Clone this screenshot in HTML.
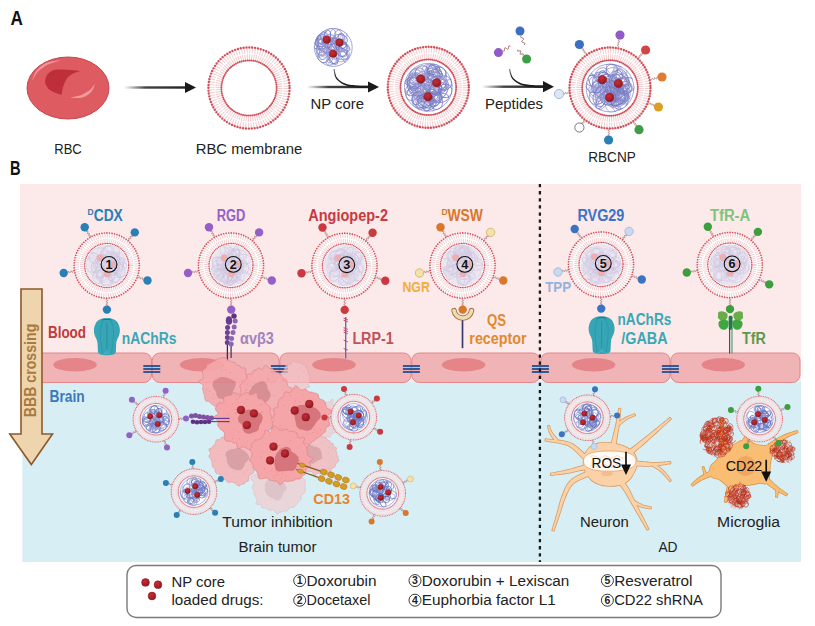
<!DOCTYPE html>
<html><head><meta charset="utf-8"><style>
html,body{margin:0;padding:0;background:#fff;width:815px;height:626px;overflow:hidden}
svg{display:block}
text{font-family:"Liberation Sans",sans-serif}
</style></head><body>
<svg width="815" height="626" viewBox="0 0 815 626">

<defs>
<radialGradient id="drugg" cx="0.4" cy="0.35" r="0.7"><stop offset="0" stop-color="#c42d34"/><stop offset="0.6" stop-color="#aa2028"/><stop offset="1" stop-color="#85161c"/></radialGradient>
</defs>

<text x="10.4" y="25.4" font-size="19.5" font-weight="bold" fill="#111" text-anchor="start" textLength="12.4" lengthAdjust="spacingAndGlyphs">A</text>
<ellipse cx="68" cy="88" rx="41" ry="31" fill="#de5b61" stroke="#c23d46" stroke-width="0.9"/>
<path d="M45.2 80.7 C46 74 51 70 56.8 69.6 C64 69 74 70 80.4 71.1 C75 72.5 69 75 66.5 79 C63.5 84 62 90 61.7 94.8 C56 93 50 91.5 47.5 87.5 C45.5 85 45 83 45.2 80.7 Z" fill="#bf2e3b"/>
<path d="M32.4 80.6 L32.7 80 L33.1 79.4 L33.5 78.6 L34 77.7 L34.5 76.7 L35.1 75.7 L35.7 74.7 L36.3 73.8 L37 72.9 L37.7 72.1 L38.5 71.3 L39.3 70.5 L40.2 69.8 L41.2 69 L42.2 68.2 L43.2 67.4 L44.2 66.7 L45.3 66 L46.4 65.4 L47.5 64.8 L48.6 64.2 L50 63.7 L51.4 63.2 L53 62.7 L54.5 62.3 L56 61.8 L57.4 61.4 L58.7 61.1 L59.7 60.8 L60.5 60.5 L60.5 60.3 L59.6 60.4 L58.5 60.5 L57.3 60.6 L55.8 60.8 L54.2 61 L52.6 61.2 L51 61.5 L49.4 61.9 L47.9 62.3 L46.5 62.8 L45.3 63.4 L44.1 64.1 L42.9 64.8 L41.8 65.6 L40.7 66.4 L39.7 67.3 L38.8 68.2 L37.9 69.1 L37.1 70 L36.3 70.9 L35.6 71.9 L35 73 L34.4 74.1 L34 75.2 L33.6 76.3 L33.2 77.3 L32.9 78.3 L32.6 79.2 L32.4 79.9 L32.2 80.4 Z" fill="#f0939a"/>
<path d="M70.9 97.5 L71.5 97.6 L72.3 97.7 L73.2 97.8 L74.3 97.9 L75.4 98 L76.6 98.1 L77.8 98.1 L79.1 98.1 L80.2 98 L81.4 97.8 L82.4 97.5 L83.5 97.1 L84.5 96.7 L85.5 96.2 L86.5 95.6 L87.5 95.1 L88.4 94.4 L89.3 93.8 L90.1 93.1 L90.8 92.4 L91.5 91.6 L92.1 90.7 L92.6 89.8 L93.1 88.9 L93.5 88 L93.9 87.1 L94.2 86.3 L94.5 85.6 L94.7 84.9 L94.9 84.5 L94.7 84.3 L94.3 84.7 L93.9 85.2 L93.5 85.9 L93 86.6 L92.4 87.3 L91.8 88 L91.2 88.8 L90.5 89.5 L89.9 90.1 L89.2 90.6 L88.5 91.1 L87.7 91.6 L86.9 92.1 L86 92.6 L85.1 93.1 L84.2 93.6 L83.3 94.1 L82.4 94.5 L81.5 94.9 L80.6 95.2 L79.7 95.6 L78.7 95.8 L77.6 96.1 L76.5 96.3 L75.4 96.5 L74.2 96.7 L73.2 96.9 L72.3 97 L71.5 97.1 L70.9 97.3 Z" fill="#f29ca1"/>
<linearGradient id="ag124" gradientUnits="userSpaceOnUse" x1="124" y1="0" x2="196" y2="0"><stop offset="0" stop-color="#222" stop-opacity="0"/><stop offset="0.3" stop-color="#222" stop-opacity="0.85"/><stop offset="1" stop-color="#1a1a1a"/></linearGradient><rect x="124" y="86.3" width="62" height="2.4" fill="url(#ag124)"/><path d="M196 87.5 L185 81.9 L185 93.1 Z" fill="#1a1a1a"/>
<text x="68" y="153.5" font-size="15.5" font-weight="normal" fill="#222" text-anchor="middle" textLength="27.5" lengthAdjust="spacingAndGlyphs">RBC</text>
<circle cx="249" cy="88" r="37.3" fill="none" stroke="#f3cdd0" stroke-width="5.4" stroke-dasharray="1.050 1.613"/>
<circle cx="249" cy="88" r="30.9" fill="none" stroke="#f3cdd0" stroke-width="5.5" stroke-dasharray="1.050 1.153"/>
<circle cx="249" cy="88" r="40.6" fill="none" stroke="#d0505a" stroke-width="2.4" stroke-linecap="round" stroke-dasharray="0 2.899"/>
<circle cx="249" cy="88" r="27.6" fill="none" stroke="#d0505a" stroke-width="2" stroke-linecap="round" stroke-dasharray="0 1.971"/>
<text x="249" y="153.5" font-size="15.5" font-weight="normal" fill="#222" text-anchor="middle" textLength="106.6" lengthAdjust="spacingAndGlyphs">RBC membrane</text>
<clipPath id="cc1"><circle cx="333.3" cy="47.5" r="19.5"/></clipPath>
<g clip-path="url(#cc1)" fill="none" stroke-width="0.8" opacity="1.0">
<ellipse cx="334.1" cy="58.3" rx="5.5" ry="4.9" transform="rotate(112.6 334.1 58.3)" stroke="#6f78c0"/>
<ellipse cx="322.3" cy="38.9" rx="5.9" ry="4.8" transform="rotate(34.5 322.3 38.9)" stroke="#a6a3da"/>
<ellipse cx="322.8" cy="44.7" rx="5.6" ry="5.8" transform="rotate(41.7 322.8 44.7)" stroke="#8f91d2"/>
<ellipse cx="340.4" cy="39.7" rx="7.1" ry="5.2" transform="rotate(11.5 340.4 39.7)" stroke="#6f78c0"/>
<ellipse cx="332.5" cy="49.9" rx="7.6" ry="4.5" transform="rotate(129.4 332.5 49.9)" stroke="#a6a3da"/>
<ellipse cx="330.2" cy="33.8" rx="5.6" ry="5.6" transform="rotate(80 330.2 33.8)" stroke="#8f91d2"/>
<ellipse cx="336.6" cy="44.4" rx="4.5" ry="3.6" transform="rotate(173.8 336.6 44.4)" stroke="#a6a3da"/>
<ellipse cx="335.7" cy="34.2" rx="5.7" ry="5.7" transform="rotate(103.3 335.7 34.2)" stroke="#a6a3da"/>
<ellipse cx="321.3" cy="40.5" rx="6.8" ry="6" transform="rotate(154.2 321.3 40.5)" stroke="#8f91d2"/>
<ellipse cx="330.6" cy="39.6" rx="6.2" ry="4.8" transform="rotate(18.7 330.6 39.6)" stroke="#8f91d2"/>
<ellipse cx="323.5" cy="36.7" rx="5" ry="3.3" transform="rotate(86.8 323.5 36.7)" stroke="#a6a3da"/>
<ellipse cx="344.4" cy="54.4" rx="5.7" ry="3.4" transform="rotate(52.9 344.4 54.4)" stroke="#a6a3da"/>
<ellipse cx="335.4" cy="45.3" rx="6.5" ry="3.1" transform="rotate(129.3 335.4 45.3)" stroke="#7a80c6"/>
<ellipse cx="320" cy="43.1" rx="5.1" ry="3.7" transform="rotate(6.5 320 43.1)" stroke="#6f78c0"/>
<ellipse cx="343.3" cy="52.8" rx="4" ry="3.6" transform="rotate(73.4 343.3 52.8)" stroke="#7a80c6"/>
<ellipse cx="335" cy="50" rx="7.6" ry="4" transform="rotate(172.6 335 50)" stroke="#a6a3da"/>
<ellipse cx="323.5" cy="57" rx="5.6" ry="5.8" transform="rotate(122.6 323.5 57)" stroke="#6f78c0"/>
<ellipse cx="323" cy="37.8" rx="6.1" ry="4.4" transform="rotate(129.7 323 37.8)" stroke="#8f91d2"/>
<ellipse cx="342.2" cy="43.7" rx="5" ry="3.9" transform="rotate(61 342.2 43.7)" stroke="#a6a3da"/>
<ellipse cx="341.5" cy="46.9" rx="5.5" ry="4.9" transform="rotate(24 341.5 46.9)" stroke="#7a80c6"/>
<ellipse cx="321.5" cy="50" rx="5.4" ry="5.3" transform="rotate(132.8 321.5 50)" stroke="#6f78c0"/>
<ellipse cx="321.2" cy="39.9" rx="4" ry="4.1" transform="rotate(113 321.2 39.9)" stroke="#7a80c6"/>
<ellipse cx="326.4" cy="43" rx="5.5" ry="4" transform="rotate(66.4 326.4 43)" stroke="#7a80c6"/>
<ellipse cx="330.5" cy="56" rx="7.2" ry="3" transform="rotate(102.5 330.5 56)" stroke="#8f91d2"/>
<ellipse cx="330.8" cy="53.9" rx="7.3" ry="3.7" transform="rotate(33.7 330.8 53.9)" stroke="#a6a3da"/>
<ellipse cx="330.6" cy="43.8" rx="6.5" ry="6.1" transform="rotate(121.5 330.6 43.8)" stroke="#8f91d2"/>
<ellipse cx="320.8" cy="52.6" rx="4.6" ry="4" transform="rotate(117 320.8 52.6)" stroke="#a6a3da"/>
<ellipse cx="331.6" cy="60.4" rx="4" ry="6.1" transform="rotate(56.7 331.6 60.4)" stroke="#8f91d2"/>
<ellipse cx="338.9" cy="41.1" rx="7.5" ry="3.2" transform="rotate(111.5 338.9 41.1)" stroke="#8f91d2"/>
<ellipse cx="324" cy="52.5" rx="7.5" ry="4.5" transform="rotate(114.2 324 52.5)" stroke="#7a80c6"/>
<ellipse cx="325.1" cy="52" rx="7.8" ry="3.4" transform="rotate(0.8 325.1 52)" stroke="#a6a3da"/>
<ellipse cx="319.8" cy="42.3" rx="7" ry="3" transform="rotate(82.2 319.8 42.3)" stroke="#7a80c6"/>
<ellipse cx="320" cy="43.7" rx="7.6" ry="5.8" transform="rotate(174.8 320 43.7)" stroke="#6f78c0"/>
<ellipse cx="334.4" cy="44.6" rx="7.8" ry="5.2" transform="rotate(166.3 334.4 44.6)" stroke="#a6a3da"/>
<ellipse cx="331.8" cy="46.7" rx="7.1" ry="3.5" transform="rotate(54 331.8 46.7)" stroke="#6f78c0"/>
<ellipse cx="324" cy="46" rx="7.9" ry="5" transform="rotate(61.4 324 46)" stroke="#7a80c6"/>
<ellipse cx="343.9" cy="45.6" rx="7.4" ry="3.1" transform="rotate(39.7 343.9 45.6)" stroke="#6f78c0"/>
<ellipse cx="320.4" cy="44.6" rx="4.6" ry="5.5" transform="rotate(165.9 320.4 44.6)" stroke="#8f91d2"/>
<ellipse cx="333.9" cy="46.4" rx="6.6" ry="5.8" transform="rotate(9 333.9 46.4)" stroke="#7a80c6"/>
<ellipse cx="333.4" cy="59" rx="6.1" ry="3.1" transform="rotate(58.2 333.4 59)" stroke="#6f78c0"/>
<ellipse cx="341.3" cy="37.4" rx="4.1" ry="3.1" transform="rotate(86.9 341.3 37.4)" stroke="#6f78c0"/>
<ellipse cx="335.9" cy="44.1" rx="6.1" ry="4" transform="rotate(56.6 335.9 44.1)" stroke="#7a80c6"/>
<ellipse cx="326.4" cy="53.5" rx="5.2" ry="3.8" transform="rotate(177.8 326.4 53.5)" stroke="#a6a3da"/>
<ellipse cx="341.1" cy="55.1" rx="7" ry="4.2" transform="rotate(14.4 341.1 55.1)" stroke="#8f91d2"/>
<ellipse cx="342.9" cy="50.1" rx="6.7" ry="4.7" transform="rotate(114.6 342.9 50.1)" stroke="#6f78c0"/>
<ellipse cx="326.4" cy="40.8" rx="5.5" ry="4.6" transform="rotate(126.5 326.4 40.8)" stroke="#a6a3da"/>
<ellipse cx="342.3" cy="44.6" rx="4" ry="3.6" transform="rotate(48.6 342.3 44.6)" stroke="#6f78c0"/>
<ellipse cx="335.6" cy="41" rx="4.5" ry="3" transform="rotate(58.6 335.6 41)" stroke="#7a80c6"/>
<ellipse cx="342.1" cy="55.9" rx="7.9" ry="5.4" transform="rotate(153 342.1 55.9)" stroke="#a6a3da"/>
<ellipse cx="327.1" cy="36.6" rx="6.3" ry="3.3" transform="rotate(105.8 327.1 36.6)" stroke="#6f78c0"/>
<ellipse cx="326.3" cy="48.7" rx="5.6" ry="4.7" transform="rotate(101.6 326.3 48.7)" stroke="#a6a3da"/>
<ellipse cx="334.3" cy="49.5" rx="7.5" ry="3.3" transform="rotate(151.9 334.3 49.5)" stroke="#a6a3da"/>
<ellipse cx="340.7" cy="35.3" rx="6.4" ry="5.6" transform="rotate(6.5 340.7 35.3)" stroke="#8f91d2"/>
<ellipse cx="343.2" cy="55.4" rx="7.9" ry="3.1" transform="rotate(58.4 343.2 55.4)" stroke="#8f91d2"/>
</g>
<circle cx="333.3" cy="47.5" r="18.9" fill="none" stroke="#6f78c0" stroke-width="0.8" opacity="0.8"/>
<circle cx="326.8" cy="39.7" r="3.8" fill="url(#drugg)" stroke="#8e1c22" stroke-width="0.5" opacity="1.0"/>
<circle cx="339.5" cy="42.6" r="3.8" fill="url(#drugg)" stroke="#8e1c22" stroke-width="0.5" opacity="1.0"/>
<circle cx="333.1" cy="53.7" r="3.8" fill="url(#drugg)" stroke="#8e1c22" stroke-width="0.5" opacity="1.0"/>
<linearGradient id="cg1" gradientUnits="userSpaceOnUse" x1="0" y1="68" x2="0" y2="88"><stop offset="0" stop-color="#777"/><stop offset="0.5" stop-color="#222"/><stop offset="1" stop-color="#1a1a1a"/></linearGradient>
<path d="M333.5 69.1 L333.6 69.8 L333.8 70.8 L334 71.9 L334.2 73.2 L334.4 74.6 L334.8 75.9 L335.3 77.2 L336 78.4 L336.7 79.4 L337.6 80.3 L338.6 81.3 L339.7 82.1 L340.8 83 L342 83.7 L343.3 84.4 L344.7 85.1 L346.2 85.6 L347.8 86 L349.4 86.4 L351.1 86.7 L352.9 87 L354.6 87.2 L356.3 87.4 L357.9 87.6 L359.6 87.8 L361.3 87.9 L363.1 88 L364.8 88.1 L366.4 88.1 L367.9 88.1 L369.1 88.2 L370 88.2 L370 85.8 L369.1 85.8 L367.9 85.8 L366.4 85.8 L364.8 85.8 L363.1 85.8 L361.4 85.8 L359.7 85.7 L358.1 85.6 L356.5 85.4 L354.8 85.3 L353.1 85.1 L351.4 84.9 L349.8 84.7 L348.2 84.4 L346.7 84 L345.3 83.5 L344 83 L342.8 82.4 L341.6 81.7 L340.5 81 L339.5 80.2 L338.6 79.4 L337.7 78.5 L337 77.6 L336.4 76.7 L336 75.5 L335.6 74.3 L335.3 73 L335 71.7 L334.8 70.6 L334.7 69.6 L334.5 68.9 Z" fill="url(#cg1)"/>
<linearGradient id="ag307" gradientUnits="userSpaceOnUse" x1="307" y1="0" x2="379" y2="0"><stop offset="0" stop-color="#222" stop-opacity="0"/><stop offset="0.3" stop-color="#222" stop-opacity="0.85"/><stop offset="1" stop-color="#1a1a1a"/></linearGradient><rect x="307" y="85.8" width="62" height="2.4" fill="url(#ag307)"/><path d="M379 87 L368 81.4 L368 92.6 Z" fill="#1a1a1a"/>
<text x="310.6" y="108.6" font-size="15.5" font-weight="normal" fill="#222" text-anchor="start" textLength="53.4" lengthAdjust="spacingAndGlyphs">NP core</text>
<circle cx="428.3" cy="87.3" r="40.5" fill="#ffffff"/>
<circle cx="428.3" cy="87.3" r="37.3" fill="none" stroke="#f3cdd0" stroke-width="5.2" stroke-dasharray="1.050 1.496"/>
<circle cx="428.3" cy="87.3" r="31" fill="none" stroke="#f3cdd0" stroke-width="5.3" stroke-dasharray="1.015 1.100"/>
<circle cx="428.3" cy="87.3" r="40.5" fill="none" stroke="#d0505a" stroke-width="2.4" stroke-linecap="round" stroke-dasharray="0 2.766"/>
<circle cx="428.3" cy="87.3" r="27.8" fill="none" stroke="#d0505a" stroke-width="2" stroke-linecap="round" stroke-dasharray="0 1.899"/>
<clipPath id="cc2"><circle cx="428.3" cy="87.3" r="24.5"/></clipPath>
<g clip-path="url(#cc2)" fill="none" stroke-width="0.8" opacity="1.0">
<ellipse cx="417" cy="76.3" rx="9.2" ry="7.6" transform="rotate(133.2 417 76.3)" stroke="#6f78c0"/>
<ellipse cx="437" cy="73.7" rx="6.2" ry="3.9" transform="rotate(28.2 437 73.7)" stroke="#7a80c6"/>
<ellipse cx="419.3" cy="89.1" rx="7.8" ry="6.1" transform="rotate(2.4 419.3 89.1)" stroke="#8f91d2"/>
<ellipse cx="421.7" cy="91.6" rx="9.6" ry="5.3" transform="rotate(137.1 421.7 91.6)" stroke="#6f78c0"/>
<ellipse cx="437.6" cy="98.4" rx="5.6" ry="3.7" transform="rotate(156.9 437.6 98.4)" stroke="#8f91d2"/>
<ellipse cx="431" cy="69.5" rx="5.8" ry="4.4" transform="rotate(56.5 431 69.5)" stroke="#8f91d2"/>
<ellipse cx="413.6" cy="83.6" rx="6" ry="7.6" transform="rotate(124.3 413.6 83.6)" stroke="#a6a3da"/>
<ellipse cx="425" cy="97.8" rx="5.8" ry="4.3" transform="rotate(11.7 425 97.8)" stroke="#7a80c6"/>
<ellipse cx="434.1" cy="74.5" rx="8.1" ry="6.6" transform="rotate(11.9 434.1 74.5)" stroke="#7a80c6"/>
<ellipse cx="433.6" cy="75.7" rx="6.6" ry="5.7" transform="rotate(126.8 433.6 75.7)" stroke="#6f78c0"/>
<ellipse cx="427.6" cy="105.1" rx="10" ry="5.2" transform="rotate(72.8 427.6 105.1)" stroke="#a6a3da"/>
<ellipse cx="419" cy="97.7" rx="4.9" ry="3.9" transform="rotate(32.6 419 97.7)" stroke="#8f91d2"/>
<ellipse cx="435" cy="93.5" rx="9.3" ry="5.6" transform="rotate(92.2 435 93.5)" stroke="#7a80c6"/>
<ellipse cx="429.3" cy="81.3" rx="8.9" ry="7" transform="rotate(154.7 429.3 81.3)" stroke="#6f78c0"/>
<ellipse cx="411.7" cy="94.7" rx="6" ry="5.8" transform="rotate(65.3 411.7 94.7)" stroke="#8f91d2"/>
<ellipse cx="418.8" cy="102.2" rx="7.8" ry="5" transform="rotate(57 418.8 102.2)" stroke="#8f91d2"/>
<ellipse cx="432.7" cy="73.4" rx="8.8" ry="5" transform="rotate(87.1 432.7 73.4)" stroke="#6f78c0"/>
<ellipse cx="440.7" cy="94.2" rx="9.9" ry="3.8" transform="rotate(133.3 440.7 94.2)" stroke="#7a80c6"/>
<ellipse cx="434" cy="76.3" rx="7.2" ry="3.9" transform="rotate(164.9 434 76.3)" stroke="#6f78c0"/>
<ellipse cx="431.7" cy="77.2" rx="6" ry="7.8" transform="rotate(101.5 431.7 77.2)" stroke="#8f91d2"/>
<ellipse cx="417.2" cy="75.4" rx="5.5" ry="5.5" transform="rotate(26.9 417.2 75.4)" stroke="#a6a3da"/>
<ellipse cx="424.9" cy="99.2" rx="10.3" ry="7.2" transform="rotate(175.7 424.9 99.2)" stroke="#a6a3da"/>
<ellipse cx="443.1" cy="83.5" rx="6.6" ry="4.8" transform="rotate(84.6 443.1 83.5)" stroke="#8f91d2"/>
<ellipse cx="441" cy="98.1" rx="7.8" ry="4.4" transform="rotate(168.7 441 98.1)" stroke="#7a80c6"/>
<ellipse cx="433.8" cy="99" rx="7.7" ry="6" transform="rotate(90.5 433.8 99)" stroke="#6f78c0"/>
<ellipse cx="431.9" cy="71.5" rx="8.6" ry="6.4" transform="rotate(136.7 431.9 71.5)" stroke="#7a80c6"/>
<ellipse cx="414.3" cy="81.8" rx="9.4" ry="4.8" transform="rotate(176.6 414.3 81.8)" stroke="#7a80c6"/>
<ellipse cx="438.6" cy="84.4" rx="5.9" ry="7.2" transform="rotate(85.4 438.6 84.4)" stroke="#7a80c6"/>
<ellipse cx="423.9" cy="95.8" rx="6.5" ry="5.8" transform="rotate(121.3 423.9 95.8)" stroke="#7a80c6"/>
<ellipse cx="419.8" cy="99.3" rx="8.9" ry="7.1" transform="rotate(63 419.8 99.3)" stroke="#8f91d2"/>
<ellipse cx="438.7" cy="76.2" rx="10.2" ry="7.7" transform="rotate(93.3 438.7 76.2)" stroke="#8f91d2"/>
<ellipse cx="431.8" cy="97.8" rx="9.5" ry="4.9" transform="rotate(14.2 431.8 97.8)" stroke="#a6a3da"/>
<ellipse cx="436" cy="101.6" rx="8" ry="6.4" transform="rotate(75.7 436 101.6)" stroke="#7a80c6"/>
<ellipse cx="427.7" cy="84.3" rx="5.8" ry="5.5" transform="rotate(117 427.7 84.3)" stroke="#8f91d2"/>
<ellipse cx="428.7" cy="79.5" rx="8.8" ry="7.8" transform="rotate(176.4 428.7 79.5)" stroke="#8f91d2"/>
<ellipse cx="434.6" cy="89.5" rx="6.6" ry="4.4" transform="rotate(34.8 434.6 89.5)" stroke="#6f78c0"/>
<ellipse cx="418.9" cy="92.8" rx="8.5" ry="4" transform="rotate(36.8 418.9 92.8)" stroke="#7a80c6"/>
<ellipse cx="440" cy="87.3" rx="6.4" ry="5.4" transform="rotate(20.7 440 87.3)" stroke="#7a80c6"/>
<ellipse cx="441.6" cy="84.3" rx="6.5" ry="4.9" transform="rotate(92.3 441.6 84.3)" stroke="#7a80c6"/>
<ellipse cx="444.4" cy="83" rx="7.2" ry="7.1" transform="rotate(115.6 444.4 83)" stroke="#7a80c6"/>
<ellipse cx="421.2" cy="88.8" rx="7" ry="5.7" transform="rotate(35.8 421.2 88.8)" stroke="#8f91d2"/>
<ellipse cx="419.9" cy="80.4" rx="9.7" ry="3.7" transform="rotate(19.4 419.9 80.4)" stroke="#8f91d2"/>
<ellipse cx="420.4" cy="102.6" rx="7.9" ry="5.5" transform="rotate(175.8 420.4 102.6)" stroke="#a6a3da"/>
<ellipse cx="423.6" cy="104.8" rx="6.9" ry="7.7" transform="rotate(164.5 423.6 104.8)" stroke="#7a80c6"/>
<ellipse cx="427.7" cy="77.2" rx="6.3" ry="3.8" transform="rotate(170.1 427.7 77.2)" stroke="#7a80c6"/>
<ellipse cx="418.5" cy="87.8" rx="7.5" ry="4.2" transform="rotate(111.9 418.5 87.8)" stroke="#a6a3da"/>
<ellipse cx="428.4" cy="91" rx="5.6" ry="5.3" transform="rotate(86.5 428.4 91)" stroke="#7a80c6"/>
<ellipse cx="428.8" cy="99.9" rx="5.1" ry="5.7" transform="rotate(151.9 428.8 99.9)" stroke="#7a80c6"/>
<ellipse cx="424.5" cy="101.1" rx="7.5" ry="6.4" transform="rotate(108.7 424.5 101.1)" stroke="#6f78c0"/>
<ellipse cx="434.8" cy="88" rx="6.4" ry="6.6" transform="rotate(110.4 434.8 88)" stroke="#6f78c0"/>
<ellipse cx="417.5" cy="89.8" rx="8.9" ry="6.1" transform="rotate(6.6 417.5 89.8)" stroke="#7a80c6"/>
<ellipse cx="413.9" cy="82.3" rx="5.5" ry="6.5" transform="rotate(34.4 413.9 82.3)" stroke="#a6a3da"/>
<ellipse cx="430.4" cy="75.5" rx="8" ry="6.6" transform="rotate(113.8 430.4 75.5)" stroke="#a6a3da"/>
<ellipse cx="438.9" cy="74.2" rx="7.5" ry="6.5" transform="rotate(129.5 438.9 74.2)" stroke="#7a80c6"/>
<ellipse cx="412.7" cy="90.8" rx="6.5" ry="3.7" transform="rotate(140.2 412.7 90.8)" stroke="#7a80c6"/>
<ellipse cx="420.8" cy="77.2" rx="6.6" ry="4.4" transform="rotate(125.1 420.8 77.2)" stroke="#a6a3da"/>
<ellipse cx="441.6" cy="85" rx="7.2" ry="5.9" transform="rotate(8.7 441.6 85)" stroke="#8f91d2"/>
<ellipse cx="427.7" cy="92.6" rx="5.2" ry="7.6" transform="rotate(59.9 427.7 92.6)" stroke="#a6a3da"/>
<ellipse cx="446.5" cy="84.8" rx="8.7" ry="3.9" transform="rotate(151.6 446.5 84.8)" stroke="#8f91d2"/>
<ellipse cx="415.8" cy="76.3" rx="5.5" ry="7.4" transform="rotate(178.9 415.8 76.3)" stroke="#a6a3da"/>
<ellipse cx="436.8" cy="98.9" rx="7.1" ry="4.3" transform="rotate(112 436.8 98.9)" stroke="#6f78c0"/>
<ellipse cx="414.3" cy="82.2" rx="8.9" ry="4.8" transform="rotate(102.8 414.3 82.2)" stroke="#6f78c0"/>
<ellipse cx="427.5" cy="70.1" rx="5.6" ry="5.5" transform="rotate(56.6 427.5 70.1)" stroke="#a6a3da"/>
<ellipse cx="410.5" cy="88.5" rx="6.9" ry="3.9" transform="rotate(125.5 410.5 88.5)" stroke="#8f91d2"/>
<ellipse cx="414.6" cy="81" rx="6.5" ry="7.6" transform="rotate(99 414.6 81)" stroke="#8f91d2"/>
<ellipse cx="427.2" cy="100.9" rx="6.3" ry="6.8" transform="rotate(93.1 427.2 100.9)" stroke="#8f91d2"/>
<ellipse cx="434.4" cy="71.3" rx="7.3" ry="5.3" transform="rotate(23.6 434.4 71.3)" stroke="#6f78c0"/>
<ellipse cx="425.3" cy="82.9" rx="8.5" ry="4.1" transform="rotate(22.5 425.3 82.9)" stroke="#a6a3da"/>
<ellipse cx="429.5" cy="104.5" rx="7.5" ry="5" transform="rotate(143.4 429.5 104.5)" stroke="#6f78c0"/>
<ellipse cx="417.3" cy="84.3" rx="9.5" ry="7.6" transform="rotate(77.3 417.3 84.3)" stroke="#8f91d2"/>
<ellipse cx="428.3" cy="82" rx="9.8" ry="5.7" transform="rotate(38.1 428.3 82)" stroke="#a6a3da"/>
<ellipse cx="422.9" cy="94.4" rx="6.7" ry="6.2" transform="rotate(62.8 422.9 94.4)" stroke="#a6a3da"/>
<ellipse cx="417" cy="98.1" rx="6.8" ry="4.9" transform="rotate(113.6 417 98.1)" stroke="#7a80c6"/>
<ellipse cx="414.2" cy="85.7" rx="8" ry="6.8" transform="rotate(71.2 414.2 85.7)" stroke="#6f78c0"/>
<ellipse cx="436" cy="89.1" rx="6" ry="5.7" transform="rotate(168.7 436 89.1)" stroke="#7a80c6"/>
<ellipse cx="440.9" cy="87.3" rx="9.7" ry="6.3" transform="rotate(77.2 440.9 87.3)" stroke="#a6a3da"/>
<ellipse cx="420.5" cy="89.2" rx="8.4" ry="4" transform="rotate(156.4 420.5 89.2)" stroke="#a6a3da"/>
<ellipse cx="433.6" cy="94.9" rx="6.4" ry="4.3" transform="rotate(51.7 433.6 94.9)" stroke="#8f91d2"/>
<ellipse cx="445.3" cy="90.9" rx="6.8" ry="6.8" transform="rotate(56.9 445.3 90.9)" stroke="#6f78c0"/>
<ellipse cx="422.5" cy="73.4" rx="7.4" ry="7.6" transform="rotate(21.2 422.5 73.4)" stroke="#7a80c6"/>
<ellipse cx="424.4" cy="101.9" rx="8.8" ry="4.4" transform="rotate(36.2 424.4 101.9)" stroke="#6f78c0"/>
<ellipse cx="415" cy="80.6" rx="8.2" ry="7.5" transform="rotate(127.2 415 80.6)" stroke="#7a80c6"/>
<ellipse cx="432.7" cy="97.4" rx="5.3" ry="7.8" transform="rotate(84.2 432.7 97.4)" stroke="#8f91d2"/>
<ellipse cx="432.1" cy="94.8" rx="5.1" ry="6.2" transform="rotate(130.8 432.1 94.8)" stroke="#7a80c6"/>
<ellipse cx="432.8" cy="87.5" rx="9.1" ry="5.4" transform="rotate(8.1 432.8 87.5)" stroke="#7a80c6"/>
</g>
<circle cx="428.3" cy="87.3" r="23.9" fill="none" stroke="#6f78c0" stroke-width="0.8" opacity="0.8"/>
<circle cx="420.7" cy="79" r="4.3" fill="url(#drugg)" stroke="#8e1c22" stroke-width="0.5" opacity="1.0"/>
<circle cx="436.7" cy="82.8" r="4.3" fill="url(#drugg)" stroke="#8e1c22" stroke-width="0.5" opacity="1.0"/>
<circle cx="428" cy="96.7" r="4.3" fill="url(#drugg)" stroke="#8e1c22" stroke-width="0.5" opacity="1.0"/>
<linearGradient id="cg2" gradientUnits="userSpaceOnUse" x1="0" y1="68" x2="0" y2="88"><stop offset="0" stop-color="#777"/><stop offset="0.5" stop-color="#222"/><stop offset="1" stop-color="#1a1a1a"/></linearGradient>
<path d="M509 69.1 L509.2 69.8 L509.4 70.8 L509.6 72 L509.9 73.3 L510.3 74.6 L510.7 76 L511.3 77.3 L512 78.4 L512.8 79.4 L513.7 80.3 L514.6 81.2 L515.7 82 L516.8 82.8 L518.1 83.5 L519.4 84.2 L520.7 84.8 L522.2 85.3 L523.8 85.7 L525.5 86.1 L527.2 86.4 L529 86.7 L530.7 86.9 L532.3 87.1 L533.9 87.3 L535.5 87.5 L537.1 87.6 L538.7 87.7 L540.3 87.8 L541.8 87.8 L543.1 87.8 L544.1 87.9 L545 87.9 L545 85.5 L544.2 85.5 L543.1 85.5 L541.8 85.5 L540.3 85.5 L538.8 85.5 L537.2 85.5 L535.6 85.4 L534.1 85.3 L532.5 85.1 L530.9 85 L529.2 84.8 L527.5 84.6 L525.8 84.3 L524.2 84 L522.7 83.7 L521.3 83.2 L520 82.7 L518.8 82.1 L517.6 81.5 L516.5 80.8 L515.5 80.1 L514.6 79.3 L513.8 78.5 L513 77.6 L512.4 76.7 L511.9 75.5 L511.4 74.3 L511 73 L510.7 71.7 L510.4 70.6 L510.2 69.6 L510 68.9 Z" fill="url(#cg2)"/>
<linearGradient id="ag482" gradientUnits="userSpaceOnUse" x1="482" y1="0" x2="554" y2="0"><stop offset="0" stop-color="#222" stop-opacity="0"/><stop offset="0.3" stop-color="#222" stop-opacity="0.85"/><stop offset="1" stop-color="#1a1a1a"/></linearGradient><rect x="482" y="85.5" width="62" height="2.4" fill="url(#ag482)"/><path d="M554 86.7 L543 81.1 L543 92.3 Z" fill="#1a1a1a"/>
<text x="485" y="109" font-size="15.5" font-weight="normal" fill="#222" text-anchor="start" textLength="58" lengthAdjust="spacingAndGlyphs">Peptides</text>
<path d="M521.5 35.5 L521 36.1 L520.6 36.6 L520.6 37 L520.8 37.4 L521.4 37.6 L522.1 37.9 L522.9 38.1 L523.4 38.4 L523.7 38.7 L523.6 39.2 L523.3 39.7 L522.8 40.2 L522.2 40.8 L521.9 41.3 L521.8 41.8 L522.1 42.1 L522.6 42.4 L523.4 42.6 L524.1 42.9 L524.7 43.1 L524.9 43.5 L524.9 43.9 L524.5 44.4 L524 45" fill="none" stroke="#8e5252" stroke-width="0.8"/>
<circle cx="520" cy="31" r="4.5" fill="#3b6fc4"/>
<path d="M502.5 50.5 L503.1 50.9 L503.7 51.2 L504.1 51.2 L504.3 50.8 L504.5 50.2 L504.5 49.5 L504.5 48.8 L504.7 48.2 L504.9 47.8 L505.3 47.8 L505.9 48.1 L506.5 48.5 L507.1 48.9 L507.7 49.2 L508.1 49.2 L508.3 48.8 L508.5 48.2 L508.5 47.5 L508.5 46.8 L508.7 46.2 L508.9 45.8 L509.3 45.8 L509.9 46.1 L510.5 46.5" fill="none" stroke="#8e5252" stroke-width="0.8"/>
<circle cx="498.4" cy="52.6" r="4.5" fill="#8e5bc8"/>
<path d="M518 49.5 L517.7 50.2 L517.6 50.7 L517.6 51.1 L518 51.2 L518.5 51.2 L519.2 51 L520 50.8 L520.5 50.8 L520.9 50.9 L520.9 51.3 L520.8 51.8 L520.5 52.5 L520.2 53.2 L520.1 53.7 L520.1 54.1 L520.5 54.2 L521 54.2 L521.8 54 L522.5 53.8 L523 53.8 L523.4 53.9 L523.4 54.3 L523.3 54.8 L523 55.5" fill="none" stroke="#8e5252" stroke-width="0.8"/>
<circle cx="526.6" cy="59" r="4.5" fill="#3e9e48"/>
<circle cx="610" cy="88" r="40.5" fill="#ffffff"/>
<circle cx="610" cy="88" r="37.3" fill="none" stroke="#f3cdd0" stroke-width="5.2" stroke-dasharray="1.050 1.496"/>
<circle cx="610" cy="88" r="31" fill="none" stroke="#f3cdd0" stroke-width="5.3" stroke-dasharray="1.015 1.100"/>
<circle cx="610" cy="88" r="40.5" fill="none" stroke="#d0505a" stroke-width="2.4" stroke-linecap="round" stroke-dasharray="0 2.766"/>
<circle cx="610" cy="88" r="27.8" fill="none" stroke="#d0505a" stroke-width="2" stroke-linecap="round" stroke-dasharray="0 1.899"/>
<clipPath id="cc3"><circle cx="610" cy="88" r="24.5"/></clipPath>
<g clip-path="url(#cc3)" fill="none" stroke-width="0.8" opacity="1.0">
<ellipse cx="599.1" cy="90.6" rx="5.6" ry="7.3" transform="rotate(1.2 599.1 90.6)" stroke="#a6a3da"/>
<ellipse cx="614.2" cy="84.9" rx="7.9" ry="6.2" transform="rotate(7.4 614.2 84.9)" stroke="#a6a3da"/>
<ellipse cx="618.7" cy="103.6" rx="10" ry="5.4" transform="rotate(30.3 618.7 103.6)" stroke="#6f78c0"/>
<ellipse cx="620" cy="96.4" rx="9.9" ry="6.1" transform="rotate(139.4 620 96.4)" stroke="#a6a3da"/>
<ellipse cx="614.3" cy="71.2" rx="9.9" ry="4.5" transform="rotate(40.4 614.3 71.2)" stroke="#a6a3da"/>
<ellipse cx="622.4" cy="77.7" rx="9.8" ry="5.3" transform="rotate(61.5 622.4 77.7)" stroke="#6f78c0"/>
<ellipse cx="615.4" cy="104.4" rx="9.6" ry="3.9" transform="rotate(68.2 615.4 104.4)" stroke="#a6a3da"/>
<ellipse cx="615.7" cy="94.9" rx="8.9" ry="7.2" transform="rotate(173.5 615.7 94.9)" stroke="#6f78c0"/>
<ellipse cx="620.1" cy="97.6" rx="9.7" ry="4.5" transform="rotate(1.5 620.1 97.6)" stroke="#6f78c0"/>
<ellipse cx="621.8" cy="101.1" rx="7.6" ry="6.1" transform="rotate(96.8 621.8 101.1)" stroke="#8f91d2"/>
<ellipse cx="599.8" cy="93.6" rx="8.3" ry="4.1" transform="rotate(104.4 599.8 93.6)" stroke="#8f91d2"/>
<ellipse cx="624.5" cy="82.2" rx="5.1" ry="4.8" transform="rotate(123 624.5 82.2)" stroke="#8f91d2"/>
<ellipse cx="609.5" cy="72.2" rx="8" ry="3.8" transform="rotate(156.4 609.5 72.2)" stroke="#a6a3da"/>
<ellipse cx="618.5" cy="85.3" rx="8.2" ry="3.9" transform="rotate(65.9 618.5 85.3)" stroke="#6f78c0"/>
<ellipse cx="614.1" cy="83.5" rx="9.7" ry="5.2" transform="rotate(37.8 614.1 83.5)" stroke="#8f91d2"/>
<ellipse cx="623.9" cy="86.8" rx="5" ry="7" transform="rotate(59.2 623.9 86.8)" stroke="#a6a3da"/>
<ellipse cx="616.6" cy="93.6" rx="6.4" ry="7.1" transform="rotate(55.3 616.6 93.6)" stroke="#7a80c6"/>
<ellipse cx="623" cy="97.8" rx="5" ry="6.9" transform="rotate(145.4 623 97.8)" stroke="#a6a3da"/>
<ellipse cx="600.8" cy="101.3" rx="8" ry="4" transform="rotate(116.6 600.8 101.3)" stroke="#6f78c0"/>
<ellipse cx="621.3" cy="85.4" rx="6.9" ry="7.3" transform="rotate(66.5 621.3 85.4)" stroke="#7a80c6"/>
<ellipse cx="618" cy="102.8" rx="6.3" ry="3.9" transform="rotate(175.5 618 102.8)" stroke="#8f91d2"/>
<ellipse cx="609.4" cy="95.4" rx="5.5" ry="4.3" transform="rotate(8.8 609.4 95.4)" stroke="#a6a3da"/>
<ellipse cx="612.9" cy="99.1" rx="8.2" ry="7.7" transform="rotate(63.8 612.9 99.1)" stroke="#8f91d2"/>
<ellipse cx="600.4" cy="89.2" rx="10.1" ry="6.8" transform="rotate(53.3 600.4 89.2)" stroke="#6f78c0"/>
<ellipse cx="621.3" cy="92.9" rx="8.7" ry="6.9" transform="rotate(68.9 621.3 92.9)" stroke="#8f91d2"/>
<ellipse cx="605" cy="79.8" rx="8.1" ry="6.2" transform="rotate(62.8 605 79.8)" stroke="#6f78c0"/>
<ellipse cx="608.9" cy="94.5" rx="9.2" ry="7.1" transform="rotate(29.2 608.9 94.5)" stroke="#8f91d2"/>
<ellipse cx="615.2" cy="81.6" rx="7.5" ry="6.1" transform="rotate(98.2 615.2 81.6)" stroke="#6f78c0"/>
<ellipse cx="615.9" cy="99.3" rx="10" ry="5.9" transform="rotate(169.4 615.9 99.3)" stroke="#6f78c0"/>
<ellipse cx="597.7" cy="81.1" rx="7.2" ry="5" transform="rotate(94.9 597.7 81.1)" stroke="#6f78c0"/>
<ellipse cx="620" cy="78.3" rx="10" ry="3.9" transform="rotate(40.4 620 78.3)" stroke="#8f91d2"/>
<ellipse cx="622.2" cy="97.3" rx="7.3" ry="5.7" transform="rotate(114.6 622.2 97.3)" stroke="#6f78c0"/>
<ellipse cx="608.6" cy="85.2" rx="6.2" ry="5.6" transform="rotate(66.8 608.6 85.2)" stroke="#a6a3da"/>
<ellipse cx="612.5" cy="85.5" rx="8.1" ry="6.2" transform="rotate(122.1 612.5 85.5)" stroke="#a6a3da"/>
<ellipse cx="605.6" cy="85.2" rx="5.1" ry="6.8" transform="rotate(15.2 605.6 85.2)" stroke="#6f78c0"/>
<ellipse cx="602.3" cy="98" rx="7.8" ry="3.8" transform="rotate(139.6 602.3 98)" stroke="#7a80c6"/>
<ellipse cx="619" cy="93.3" rx="7.4" ry="5.5" transform="rotate(26.7 619 93.3)" stroke="#a6a3da"/>
<ellipse cx="626.7" cy="86.6" rx="5.5" ry="5.1" transform="rotate(41.6 626.7 86.6)" stroke="#8f91d2"/>
<ellipse cx="613.1" cy="96.1" rx="5.5" ry="4.2" transform="rotate(168.9 613.1 96.1)" stroke="#6f78c0"/>
<ellipse cx="599" cy="99.4" rx="7.4" ry="5.8" transform="rotate(66.5 599 99.4)" stroke="#6f78c0"/>
<ellipse cx="610.8" cy="97.3" rx="7.7" ry="4.5" transform="rotate(79.1 610.8 97.3)" stroke="#6f78c0"/>
<ellipse cx="622.8" cy="84.8" rx="7.1" ry="7.4" transform="rotate(85.6 622.8 84.8)" stroke="#7a80c6"/>
<ellipse cx="603.2" cy="82.7" rx="5.2" ry="4.8" transform="rotate(54 603.2 82.7)" stroke="#8f91d2"/>
<ellipse cx="626.1" cy="85.5" rx="9.8" ry="7.6" transform="rotate(157.8 626.1 85.5)" stroke="#7a80c6"/>
<ellipse cx="615.5" cy="86.9" rx="6.6" ry="4.7" transform="rotate(108.8 615.5 86.9)" stroke="#a6a3da"/>
<ellipse cx="594.1" cy="81.3" rx="9.7" ry="5.5" transform="rotate(14.1 594.1 81.3)" stroke="#7a80c6"/>
<ellipse cx="596.1" cy="91.4" rx="8" ry="5.5" transform="rotate(33.5 596.1 91.4)" stroke="#a6a3da"/>
<ellipse cx="615.2" cy="90" rx="6.6" ry="3.8" transform="rotate(38 615.2 90)" stroke="#7a80c6"/>
<ellipse cx="606.3" cy="82.3" rx="8.3" ry="5.1" transform="rotate(80.5 606.3 82.3)" stroke="#a6a3da"/>
<ellipse cx="613.3" cy="101.1" rx="6.7" ry="3.8" transform="rotate(99.4 613.3 101.1)" stroke="#a6a3da"/>
<ellipse cx="612.2" cy="103.5" rx="9" ry="7" transform="rotate(90.4 612.2 103.5)" stroke="#a6a3da"/>
<ellipse cx="608" cy="78.4" rx="7.8" ry="4" transform="rotate(1.9 608 78.4)" stroke="#7a80c6"/>
<ellipse cx="616.8" cy="89.9" rx="5.8" ry="4.1" transform="rotate(148.3 616.8 89.9)" stroke="#a6a3da"/>
<ellipse cx="603.2" cy="78.7" rx="9.7" ry="5.8" transform="rotate(24.3 603.2 78.7)" stroke="#7a80c6"/>
<ellipse cx="604" cy="95.4" rx="6.6" ry="5.3" transform="rotate(32.8 604 95.4)" stroke="#8f91d2"/>
<ellipse cx="608.4" cy="87.2" rx="8.6" ry="3.8" transform="rotate(86.2 608.4 87.2)" stroke="#a6a3da"/>
<ellipse cx="623.4" cy="79.3" rx="6.4" ry="4.3" transform="rotate(81.3 623.4 79.3)" stroke="#8f91d2"/>
<ellipse cx="613" cy="94.4" rx="8.6" ry="6.8" transform="rotate(9.2 613 94.4)" stroke="#7a80c6"/>
<ellipse cx="612.7" cy="86.7" rx="5.9" ry="6.9" transform="rotate(120.4 612.7 86.7)" stroke="#6f78c0"/>
<ellipse cx="599.7" cy="91.1" rx="8.9" ry="4.2" transform="rotate(76.1 599.7 91.1)" stroke="#8f91d2"/>
<ellipse cx="617.4" cy="76.3" rx="5" ry="6" transform="rotate(8.9 617.4 76.3)" stroke="#7a80c6"/>
<ellipse cx="605.5" cy="88.1" rx="9.3" ry="5.3" transform="rotate(83.4 605.5 88.1)" stroke="#8f91d2"/>
<ellipse cx="593.5" cy="81.9" rx="10.1" ry="4" transform="rotate(63.8 593.5 81.9)" stroke="#8f91d2"/>
<ellipse cx="612" cy="70" rx="5.9" ry="5.9" transform="rotate(167.9 612 70)" stroke="#7a80c6"/>
<ellipse cx="601.3" cy="72.1" rx="5.8" ry="3.9" transform="rotate(153.7 601.3 72.1)" stroke="#8f91d2"/>
<ellipse cx="604.1" cy="79.1" rx="8.7" ry="5.1" transform="rotate(71.2 604.1 79.1)" stroke="#6f78c0"/>
<ellipse cx="596.5" cy="97.1" rx="7.3" ry="7.7" transform="rotate(7.5 596.5 97.1)" stroke="#8f91d2"/>
<ellipse cx="619.1" cy="73.4" rx="8.7" ry="6.3" transform="rotate(143.2 619.1 73.4)" stroke="#a6a3da"/>
<ellipse cx="619.2" cy="74.5" rx="9.9" ry="4.3" transform="rotate(68.3 619.2 74.5)" stroke="#a6a3da"/>
<ellipse cx="617.5" cy="97.1" rx="8.9" ry="7.2" transform="rotate(119.8 617.5 97.1)" stroke="#6f78c0"/>
<ellipse cx="597.1" cy="87" rx="6.3" ry="5.2" transform="rotate(139 597.1 87)" stroke="#7a80c6"/>
<ellipse cx="592.1" cy="83.8" rx="8.9" ry="6.4" transform="rotate(83.4 592.1 83.8)" stroke="#6f78c0"/>
<ellipse cx="610.6" cy="90.2" rx="7.4" ry="4.2" transform="rotate(55.9 610.6 90.2)" stroke="#8f91d2"/>
<ellipse cx="625" cy="89.1" rx="7.1" ry="4.8" transform="rotate(169.8 625 89.1)" stroke="#7a80c6"/>
<ellipse cx="602.2" cy="103.8" rx="7.9" ry="3.8" transform="rotate(133.5 602.2 103.8)" stroke="#8f91d2"/>
<ellipse cx="617.1" cy="92.5" rx="6.3" ry="7.4" transform="rotate(79 617.1 92.5)" stroke="#7a80c6"/>
<ellipse cx="595.6" cy="82.5" rx="5.3" ry="6.6" transform="rotate(127.6 595.6 82.5)" stroke="#8f91d2"/>
<ellipse cx="623" cy="93" rx="7.6" ry="7.2" transform="rotate(65.5 623 93)" stroke="#8f91d2"/>
<ellipse cx="618.7" cy="81.5" rx="7.7" ry="7.4" transform="rotate(6.1 618.7 81.5)" stroke="#7a80c6"/>
<ellipse cx="608.3" cy="97.8" rx="7.3" ry="7.7" transform="rotate(76.3 608.3 97.8)" stroke="#6f78c0"/>
<ellipse cx="620.3" cy="91.9" rx="8.8" ry="6.4" transform="rotate(74.3 620.3 91.9)" stroke="#7a80c6"/>
<ellipse cx="605.5" cy="89.4" rx="10" ry="5.4" transform="rotate(171.6 605.5 89.4)" stroke="#8f91d2"/>
<ellipse cx="615.8" cy="90.5" rx="8.8" ry="5" transform="rotate(89 615.8 90.5)" stroke="#7a80c6"/>
<ellipse cx="599.5" cy="92.5" rx="10" ry="7.7" transform="rotate(172.2 599.5 92.5)" stroke="#a6a3da"/>
<ellipse cx="611.5" cy="90.8" rx="6.5" ry="3.7" transform="rotate(21.4 611.5 90.8)" stroke="#6f78c0"/>
</g>
<circle cx="610" cy="88" r="23.9" fill="none" stroke="#6f78c0" stroke-width="0.8" opacity="0.8"/>
<circle cx="602.4" cy="79.7" r="4.3" fill="url(#drugg)" stroke="#8e1c22" stroke-width="0.5" opacity="1.0"/>
<circle cx="618.4" cy="83.5" r="4.3" fill="url(#drugg)" stroke="#8e1c22" stroke-width="0.5" opacity="1.0"/>
<circle cx="609.7" cy="97.4" r="4.3" fill="url(#drugg)" stroke="#8e1c22" stroke-width="0.5" opacity="1.0"/>
<path d="M586.1 54.1 L586.5 53.4 L586.5 53 L586 52.9 L585.2 53.1 L584.5 53.1 L584.3 52.9 L584.5 52.4 L584.9 51.7 L585.1 51.1 L584.8 50.9 L584.2 51 L583.4 51.1 L582.9 51 L582.9 50.6 L583.2 50 L583.6 49.3 L583.6 48.9 L583.1 48.8 L582.3 49 L581.6 49.1 L581.4 48.8 L581.6 48.3 L582 47.6 L582.2 47" fill="none" stroke="#a36b6b" stroke-width="0.7"/>
<circle cx="579.4" cy="44.5" r="4.6" fill="#3b6fc4"/>
<path d="M617.7 47.2 L618.5 47 L618.7 46.7 L618.2 46.2 L617.5 45.7 L617.2 45.3 L617.5 45 L618.3 44.7 L619 44.5 L619.1 44.1 L618.6 43.7 L617.9 43.2 L617.6 42.8 L618 42.5 L618.9 42.2 L619.5 42 L619.5 41.6 L619 41.1 L618.3 40.6 L618.1 40.2 L618.6 40 L619.5 39.8 L620 39.5 L619.9 39.1 L619.3 38.6" fill="none" stroke="#a36b6b" stroke-width="0.7"/>
<circle cx="620" cy="35" r="4.6" fill="#8e5bc8"/>
<path d="M638.4 57.7 L639 57.9 L639.4 57.9 L639.5 57.6 L639.3 57 L639.1 56.4 L638.9 55.9 L639.1 55.7 L639.6 55.7 L640.3 56 L640.9 56.1 L641.2 56 L641.2 55.6 L641 55 L640.7 54.4 L640.7 54 L641 53.8 L641.5 54 L642.2 54.2 L642.7 54.3 L642.9 54.1 L642.8 53.6 L642.6 53 L642.4 52.4 L642.4 52.1" fill="none" stroke="#a36b6b" stroke-width="0.7"/>
<circle cx="645.6" cy="50" r="4.6" fill="#d04545"/>
<path d="M650.6 79.4 L651.1 80 L651.4 80.1 L651.7 79.7 L651.9 79 L652.1 78.3 L652.4 78.2 L652.8 78.6 L653.3 79.2 L653.7 79.6 L654 79.5 L654.2 78.9 L654.4 78.1 L654.6 77.6 L655 77.8 L655.5 78.3 L655.9 78.9 L656.3 79.1 L656.6 78.7 L656.7 78 L656.9 77.3 L657.2 77.1 L657.7 77.5 L658.1 78.1 L658.6 78.6" fill="none" stroke="#a36b6b" stroke-width="0.7"/>
<circle cx="662" cy="77" r="4.6" fill="#e07c30"/>
<path d="M648.6 103.2 L648.7 103.8 L648.8 104.2 L649.1 104.2 L649.6 103.8 L650.1 103.3 L650.5 103 L650.8 103.1 L650.9 103.5 L651 104.2 L651 104.8 L651.2 105.1 L651.6 105 L652 104.6 L652.5 104.2 L652.9 103.9 L653.2 104.1 L653.3 104.6 L653.3 105.3 L653.4 105.8 L653.6 106.1 L654 105.9 L654.4 105.5 L654.9 105 L655.3 104.8" fill="none" stroke="#a36b6b" stroke-width="0.7"/>
<circle cx="658.4" cy="107" r="4.6" fill="#dca020"/>
<path d="M633.7 122.1 L633.4 122.5 L633.3 122.9 L633.4 123.2 L633.7 123.2 L634.2 123.1 L634.8 123 L635.2 123 L635.5 123.1 L635.5 123.4 L635.3 123.8 L635 124.3 L634.8 124.7 L634.7 125.1 L634.9 125.2 L635.3 125.2 L635.8 125.2 L636.4 125.1 L636.8 125.1 L637 125.2 L636.9 125.5 L636.7 126 L636.4 126.5 L636.2 126.9 L636.2 127.2" fill="none" stroke="#a36b6b" stroke-width="0.7"/>
<circle cx="639" cy="129.7" r="4.6" fill="#3e9e48"/>
<path d="M608.9 129.5 L608.3 129.8 L608 130 L608.1 130.3 L608.6 130.6 L609.2 130.9 L609.7 131.2 L609.7 131.5 L609.3 131.8 L608.7 132 L608.1 132.3 L607.9 132.6 L608.1 132.9 L608.7 133.2 L609.3 133.5 L609.6 133.8 L609.6 134.1 L609.1 134.3 L608.5 134.6 L608 134.9 L607.8 135.2 L608.2 135.5 L608.8 135.8 L609.3 136.1 L609.6 136.3" fill="none" stroke="#a36b6b" stroke-width="0.7"/>
<circle cx="608.6" cy="140" r="4.6" fill="#2a7fb5"/>
<path d="M584.6 120.8 L584.1 120.7 L583.7 120.7 L583.5 120.7 L583.5 120.9 L583.6 121.3 L583.8 121.7 L584 122.1 L584.2 122.5 L584.2 122.8 L584 122.9 L583.7 122.9 L583.3 122.8 L582.8 122.7 L582.4 122.6 L582.1 122.7 L581.9 122.8 L581.9 123.1 L582.1 123.4 L582.3 123.9 L582.5 124.3 L582.7 124.6 L582.6 124.8 L582.4 124.9 L582 124.9" fill="none" stroke="#a36b6b" stroke-width="0.7"/>
<circle cx="579.4" cy="127.5" r="4.6" fill="#ffffff" stroke="#555" stroke-width="0.8"/>
<path d="M568.8 92.8 L568.5 92.3 L568.2 92 L567.9 92.1 L567.7 92.5 L567.5 93.1 L567.3 93.6 L567.1 93.9 L566.8 93.9 L566.5 93.5 L566.2 93 L565.9 92.5 L565.6 92.3 L565.4 92.5 L565.2 92.9 L565 93.5 L564.8 94 L564.5 94.3 L564.3 94.1 L564 93.7 L563.6 93.1 L563.3 92.7 L563.1 92.6 L562.8 92.9 L562.6 93.4" fill="none" stroke="#a36b6b" stroke-width="0.7"/>
<circle cx="559" cy="94" r="4.6" fill="#dbe9f6" stroke="#9ab" stroke-width="0.8"/>
<text x="612" y="162" font-size="15.5" font-weight="normal" fill="#222" text-anchor="middle" textLength="47.5" lengthAdjust="spacingAndGlyphs">RBCNP</text>
<text x="10" y="174.6" font-size="19.5" font-weight="bold" fill="#111" text-anchor="start" textLength="10.6" lengthAdjust="spacingAndGlyphs">B</text>
<rect x="20" y="184" width="781" height="199" fill="#fce9ea"/>
<rect x="22.3" y="382" width="778.7" height="180" fill="#d7eef5"/>
<rect x="21" y="353" width="130.5" height="29.5" rx="7.5" fill="#f0b3b6" stroke="#e2878c" stroke-width="1"/>
<ellipse cx="75" cy="364.7" rx="21.8" ry="6.8" fill="#e5858a"/>
<rect x="152.3" y="353" width="126.7" height="29.5" rx="7.5" fill="#f0b3b6" stroke="#e2878c" stroke-width="1"/>
<ellipse cx="201.6" cy="364.7" rx="21.8" ry="6.8" fill="#e5858a"/>
<rect x="279.8" y="353" width="131.2" height="29.5" rx="7.5" fill="#f0b3b6" stroke="#e2878c" stroke-width="1"/>
<ellipse cx="334" cy="364.7" rx="21.8" ry="6.8" fill="#e5858a"/>
<rect x="411.8" y="353" width="128.2" height="29.5" rx="7.5" fill="#f0b3b6" stroke="#e2878c" stroke-width="1"/>
<ellipse cx="463.6" cy="364.7" rx="21.8" ry="6.8" fill="#e5858a"/>
<rect x="540.8" y="353" width="129.2" height="29.5" rx="7.5" fill="#f0b3b6" stroke="#e2878c" stroke-width="1"/>
<ellipse cx="593.6" cy="364.7" rx="21.8" ry="6.8" fill="#e5858a"/>
<rect x="670.8" y="353" width="129.2" height="29.5" rx="7.5" fill="#f0b3b6" stroke="#e2878c" stroke-width="1"/>
<ellipse cx="723.3" cy="364.7" rx="21.8" ry="6.8" fill="#e5858a"/>
<line x1="143.3" y1="366" x2="160.3" y2="366" stroke="#2a5595" stroke-width="1.9"/>
<line x1="143.3" y1="369" x2="160.3" y2="369" stroke="#2a5595" stroke-width="1.9"/>
<line x1="143.3" y1="372" x2="160.3" y2="372" stroke="#2a5595" stroke-width="1.9"/>
<line x1="270.9" y1="366" x2="287.9" y2="366" stroke="#2a5595" stroke-width="1.9"/>
<line x1="270.9" y1="369" x2="287.9" y2="369" stroke="#2a5595" stroke-width="1.9"/>
<line x1="270.9" y1="372" x2="287.9" y2="372" stroke="#2a5595" stroke-width="1.9"/>
<line x1="402.9" y1="366" x2="419.9" y2="366" stroke="#2a5595" stroke-width="1.9"/>
<line x1="402.9" y1="369" x2="419.9" y2="369" stroke="#2a5595" stroke-width="1.9"/>
<line x1="402.9" y1="372" x2="419.9" y2="372" stroke="#2a5595" stroke-width="1.9"/>
<line x1="531.9" y1="366" x2="548.9" y2="366" stroke="#2a5595" stroke-width="1.9"/>
<line x1="531.9" y1="369" x2="548.9" y2="369" stroke="#2a5595" stroke-width="1.9"/>
<line x1="531.9" y1="372" x2="548.9" y2="372" stroke="#2a5595" stroke-width="1.9"/>
<line x1="661.9" y1="366" x2="678.9" y2="366" stroke="#2a5595" stroke-width="1.9"/>
<line x1="661.9" y1="369" x2="678.9" y2="369" stroke="#2a5595" stroke-width="1.9"/>
<line x1="661.9" y1="372" x2="678.9" y2="372" stroke="#2a5595" stroke-width="1.9"/>
<line x1="539.9" y1="184" x2="539.9" y2="562" stroke="#1a1a1a" stroke-width="2.3" stroke-dasharray="3.3 3.8"/>
<circle cx="106.7" cy="265.5" r="32.6" fill="#ffffff"/>
<circle cx="106.7" cy="265.5" r="30" fill="none" stroke="#f3cdd0" stroke-width="4.4" stroke-dasharray="1.050 1.305"/>
<circle cx="106.7" cy="265.5" r="24.6" fill="none" stroke="#f3cdd0" stroke-width="4.4" stroke-dasharray="0.927 1.004"/>
<circle cx="106.7" cy="265.5" r="32.6" fill="none" stroke="#d0505a" stroke-width="1.7" stroke-linecap="round" stroke-dasharray="0 2.560"/>
<circle cx="106.7" cy="265.5" r="22" fill="none" stroke="#d0505a" stroke-width="1.5" stroke-linecap="round" stroke-dasharray="0 1.728"/>
<circle cx="106.7" cy="265.5" r="20.8" fill="#ece6f0"/>
<clipPath id="cc4"><circle cx="106.7" cy="265.5" r="20.8"/></clipPath>
<g clip-path="url(#cc4)" fill="none" stroke-width="0.6" opacity="1.0">
<ellipse cx="113.3" cy="276.6" rx="7.1" ry="4.8" transform="rotate(38.9 113.3 276.6)" stroke="#dcd4ea"/>
<ellipse cx="110.7" cy="255.1" rx="6.5" ry="4" transform="rotate(0.6 110.7 255.1)" stroke="#dcd4ea"/>
<ellipse cx="116" cy="261.3" rx="4.8" ry="5.8" transform="rotate(165.9 116 261.3)" stroke="#cbc3df"/>
<ellipse cx="121.7" cy="269.6" rx="7.5" ry="6.2" transform="rotate(110.9 121.7 269.6)" stroke="#d2cae3"/>
<ellipse cx="117.7" cy="262.4" rx="7.3" ry="5.4" transform="rotate(168.8 117.7 262.4)" stroke="#d2cae3"/>
<ellipse cx="114.6" cy="277.2" rx="4.7" ry="6.4" transform="rotate(81.6 114.6 277.2)" stroke="#cbc3df"/>
<ellipse cx="105.4" cy="255.7" rx="4.9" ry="5.5" transform="rotate(84.6 105.4 255.7)" stroke="#d2cae3"/>
<ellipse cx="112.9" cy="268.6" rx="7.2" ry="6" transform="rotate(118.4 112.9 268.6)" stroke="#cbc3df"/>
<ellipse cx="110.8" cy="265.2" rx="6.7" ry="5.1" transform="rotate(69.8 110.8 265.2)" stroke="#dcd4ea"/>
<ellipse cx="119.7" cy="258.7" rx="6" ry="4.4" transform="rotate(81.2 119.7 258.7)" stroke="#dcd4ea"/>
<ellipse cx="102.2" cy="275.4" rx="5.4" ry="6.1" transform="rotate(28.6 102.2 275.4)" stroke="#cbc3df"/>
<ellipse cx="117.7" cy="265" rx="6.4" ry="5.1" transform="rotate(134.7 117.7 265)" stroke="#d2cae3"/>
<ellipse cx="98.8" cy="261.7" rx="8.6" ry="3.5" transform="rotate(120.5 98.8 261.7)" stroke="#cbc3df"/>
<ellipse cx="98" cy="277.8" rx="5.7" ry="5.2" transform="rotate(55.2 98 277.8)" stroke="#d2cae3"/>
<ellipse cx="114" cy="278.6" rx="5" ry="4.6" transform="rotate(28.8 114 278.6)" stroke="#d2cae3"/>
<ellipse cx="100.1" cy="252.3" rx="8.5" ry="4.6" transform="rotate(178 100.1 252.3)" stroke="#cbc3df"/>
<ellipse cx="94.3" cy="257.6" rx="6.4" ry="4.4" transform="rotate(44.5 94.3 257.6)" stroke="#d2cae3"/>
<ellipse cx="108.9" cy="269" rx="7.8" ry="5.9" transform="rotate(87 108.9 269)" stroke="#dcd4ea"/>
<ellipse cx="114.2" cy="268.1" rx="5.5" ry="4.6" transform="rotate(30.7 114.2 268.1)" stroke="#d2cae3"/>
<ellipse cx="115.3" cy="256.4" rx="4.8" ry="3.7" transform="rotate(131.1 115.3 256.4)" stroke="#d2cae3"/>
<ellipse cx="106.5" cy="280.8" rx="6.6" ry="5.7" transform="rotate(5.1 106.5 280.8)" stroke="#d2cae3"/>
<ellipse cx="114.3" cy="259.9" rx="4.9" ry="4.4" transform="rotate(139.1 114.3 259.9)" stroke="#dcd4ea"/>
<ellipse cx="94.2" cy="258.5" rx="5.6" ry="5" transform="rotate(49.7 94.2 258.5)" stroke="#cbc3df"/>
<ellipse cx="119.6" cy="266.3" rx="8.5" ry="3.2" transform="rotate(106.9 119.6 266.3)" stroke="#cbc3df"/>
<ellipse cx="106.7" cy="280.8" rx="6.1" ry="5.5" transform="rotate(135.3 106.7 280.8)" stroke="#d2cae3"/>
<ellipse cx="109.9" cy="269.1" rx="4.6" ry="3.2" transform="rotate(80.4 109.9 269.1)" stroke="#d2cae3"/>
<ellipse cx="111.5" cy="267.8" rx="5.4" ry="4.2" transform="rotate(169.6 111.5 267.8)" stroke="#dcd4ea"/>
<ellipse cx="99.4" cy="265.8" rx="4.9" ry="3.8" transform="rotate(68 99.4 265.8)" stroke="#cbc3df"/>
<ellipse cx="106.2" cy="251.9" rx="6.9" ry="4.9" transform="rotate(134.2 106.2 251.9)" stroke="#d2cae3"/>
<ellipse cx="107" cy="264.2" rx="6.3" ry="3.3" transform="rotate(137.5 107 264.2)" stroke="#d2cae3"/>
<ellipse cx="111.3" cy="259.5" rx="8.6" ry="5.3" transform="rotate(134.2 111.3 259.5)" stroke="#d2cae3"/>
<ellipse cx="100.1" cy="271.1" rx="8.3" ry="4.2" transform="rotate(90.6 100.1 271.1)" stroke="#cbc3df"/>
<ellipse cx="94.9" cy="266.2" rx="6.7" ry="3.3" transform="rotate(107.1 94.9 266.2)" stroke="#dcd4ea"/>
<ellipse cx="115.2" cy="263.7" rx="7.4" ry="5" transform="rotate(100.9 115.2 263.7)" stroke="#d2cae3"/>
<ellipse cx="100.1" cy="259.6" rx="5.1" ry="3.4" transform="rotate(118.4 100.1 259.6)" stroke="#dcd4ea"/>
<ellipse cx="110.1" cy="268.2" rx="4.5" ry="6" transform="rotate(136.8 110.1 268.2)" stroke="#dcd4ea"/>
<ellipse cx="91.5" cy="265" rx="7.3" ry="5.6" transform="rotate(84.8 91.5 265)" stroke="#cbc3df"/>
<ellipse cx="99.1" cy="271.8" rx="5.2" ry="3.3" transform="rotate(78.1 99.1 271.8)" stroke="#d2cae3"/>
<ellipse cx="104.8" cy="277.3" rx="6" ry="4.6" transform="rotate(143.6 104.8 277.3)" stroke="#dcd4ea"/>
<ellipse cx="98.5" cy="272.7" rx="7.1" ry="6.5" transform="rotate(15.4 98.5 272.7)" stroke="#dcd4ea"/>
<ellipse cx="111.1" cy="273.9" rx="6.9" ry="3.9" transform="rotate(81 111.1 273.9)" stroke="#cbc3df"/>
<ellipse cx="107.4" cy="252.8" rx="8.1" ry="5.6" transform="rotate(122.9 107.4 252.8)" stroke="#d2cae3"/>
<ellipse cx="95.8" cy="266.8" rx="5.6" ry="4.5" transform="rotate(94.4 95.8 266.8)" stroke="#cbc3df"/>
<ellipse cx="107.9" cy="265.4" rx="5.6" ry="4.2" transform="rotate(70.4 107.9 265.4)" stroke="#d2cae3"/>
<ellipse cx="112.2" cy="269" rx="6.6" ry="5.3" transform="rotate(67.6 112.2 269)" stroke="#cbc3df"/>
<ellipse cx="101.7" cy="266.7" rx="8.5" ry="5.6" transform="rotate(37 101.7 266.7)" stroke="#dcd4ea"/>
<ellipse cx="98.4" cy="274.1" rx="5" ry="3.4" transform="rotate(5.1 98.4 274.1)" stroke="#cbc3df"/>
<ellipse cx="106.3" cy="279.8" rx="4.9" ry="5.5" transform="rotate(36 106.3 279.8)" stroke="#cbc3df"/>
<ellipse cx="101.7" cy="253.3" rx="4.9" ry="4.5" transform="rotate(72.3 101.7 253.3)" stroke="#dcd4ea"/>
<ellipse cx="100.6" cy="260" rx="5" ry="4.5" transform="rotate(49 100.6 260)" stroke="#d2cae3"/>
<ellipse cx="113.8" cy="264.4" rx="5.8" ry="5.3" transform="rotate(157 113.8 264.4)" stroke="#dcd4ea"/>
<ellipse cx="117.7" cy="266.8" rx="4.3" ry="5.3" transform="rotate(126.1 117.7 266.8)" stroke="#d2cae3"/>
<ellipse cx="121.8" cy="264.6" rx="4.8" ry="6.6" transform="rotate(34.3 121.8 264.6)" stroke="#dcd4ea"/>
<ellipse cx="114.2" cy="259.7" rx="4.8" ry="5.9" transform="rotate(148 114.2 259.7)" stroke="#cbc3df"/>
<ellipse cx="111.4" cy="258.2" rx="6.1" ry="6.2" transform="rotate(44 111.4 258.2)" stroke="#cbc3df"/>
<ellipse cx="111.3" cy="251.9" rx="8.4" ry="6.2" transform="rotate(3.2 111.3 251.9)" stroke="#cbc3df"/>
<ellipse cx="115.9" cy="270.1" rx="8" ry="6.6" transform="rotate(118.5 115.9 270.1)" stroke="#d2cae3"/>
<ellipse cx="119.8" cy="270.7" rx="6.9" ry="5.3" transform="rotate(84.8 119.8 270.7)" stroke="#cbc3df"/>
<ellipse cx="102.4" cy="272.4" rx="5.8" ry="4.2" transform="rotate(112.9 102.4 272.4)" stroke="#d2cae3"/>
<ellipse cx="103.4" cy="259.6" rx="4.6" ry="6" transform="rotate(64.8 103.4 259.6)" stroke="#dcd4ea"/>
<ellipse cx="109.5" cy="266.6" rx="6.4" ry="5.5" transform="rotate(117.6 109.5 266.6)" stroke="#d2cae3"/>
</g>
<circle cx="100.1" cy="257.8" r="3.5" fill="#eab0b4"/>
<circle cx="107.1" cy="273.7" r="3.5" fill="#eab0b4"/>
<circle cx="113.7" cy="264.5" r="3.5" fill="#eab0b4"/>
<path d="M90.3 236.9 L90.7 236.3 L90.7 235.9 L90.3 235.8 L89.5 235.8 L88.8 235.8 L88.5 235.6 L88.7 235.1 L89.2 234.5 L89.5 234 L89.4 233.6 L88.8 233.6 L88 233.7 L87.4 233.6 L87.3 233.3 L87.6 232.8 L88.1 232.1 L88.3 231.7 L88 231.4 L87.3 231.4 L86.6 231.5 L86.1 231.4 L86.1 231 L86.5 230.4 L86.9 229.8" fill="none" stroke="#a36b6b" stroke-width="0.7"/>
<circle cx="84.7" cy="227.2" r="4.2" fill="#2a7fb5"/>
<path d="M128.1 240.3 L128.7 240.5 L129.1 240.5 L129.2 240.1 L128.9 239.6 L128.6 238.9 L128.5 238.4 L128.8 238.3 L129.3 238.3 L130 238.5 L130.6 238.6 L130.8 238.4 L130.7 238 L130.4 237.3 L130.2 236.7 L130.2 236.4 L130.6 236.4 L131.3 236.5 L131.9 236.7 L132.4 236.7 L132.4 236.3 L132.2 235.7 L131.9 235.1 L131.8 234.6 L132 234.4" fill="none" stroke="#a36b6b" stroke-width="0.7"/>
<circle cx="134.8" cy="232.4" r="4.2" fill="#2a7fb5"/>
<path d="M74.2 271.2 L73.8 270.6 L73.4 270.4 L73.2 270.7 L73 271.3 L72.8 272 L72.5 272.4 L72.2 272.3 L71.8 271.7 L71.4 271.1 L71 270.8 L70.8 271 L70.6 271.6 L70.4 272.3 L70.1 272.7 L69.8 272.7 L69.5 272.3 L69 271.7 L68.7 271.3 L68.4 271.3 L68.1 271.8 L68 272.5 L67.7 273.1 L67.5 273.2 L67.1 272.9" fill="none" stroke="#a36b6b" stroke-width="0.7"/>
<circle cx="63.7" cy="273" r="4.2" fill="#2a7fb5"/>
<path d="M137.7 276.9 L137.7 277.6 L137.9 277.9 L138.3 277.9 L138.7 277.4 L139.2 276.9 L139.6 276.7 L139.9 276.9 L140 277.4 L140 278.1 L140.2 278.7 L140.4 278.8 L140.9 278.5 L141.4 278 L141.8 277.6 L142.1 277.6 L142.3 278 L142.4 278.7 L142.4 279.4 L142.6 279.7 L143 279.5 L143.5 279.1 L144 278.6 L144.4 278.4 L144.6 278.6" fill="none" stroke="#a36b6b" stroke-width="0.7"/>
<circle cx="147.5" cy="280.5" r="4.2" fill="#2a7fb5"/>
<path d="M106.8 298.5 L106.2 298.8 L106 299.1 L106.3 299.5 L106.9 299.8 L107.6 300.1 L107.7 300.4 L107.4 300.8 L106.7 301.1 L106.1 301.4 L106 301.7 L106.4 302 L107.1 302.4 L107.7 302.7 L107.7 303 L107.2 303.3 L106.5 303.7 L106 304 L106.1 304.3 L106.6 304.6 L107.3 304.9 L107.8 305.3 L107.6 305.6 L107.1 305.9 L106.4 306.2" fill="none" stroke="#a36b6b" stroke-width="0.7"/>
<circle cx="106.9" cy="309.6" r="4.2" fill="#2a7fb5"/>
<circle cx="109" cy="264.4" r="7.9" fill="none" stroke="#111" stroke-width="1.1"/><text x="109" y="268.8" font-size="12.5" font-weight="bold" text-anchor="middle" fill="#111">1</text>
<circle cx="231" cy="265.5" r="32.6" fill="#ffffff"/>
<circle cx="231" cy="265.5" r="30" fill="none" stroke="#f3cdd0" stroke-width="4.4" stroke-dasharray="1.050 1.305"/>
<circle cx="231" cy="265.5" r="24.6" fill="none" stroke="#f3cdd0" stroke-width="4.4" stroke-dasharray="0.927 1.004"/>
<circle cx="231" cy="265.5" r="32.6" fill="none" stroke="#d0505a" stroke-width="1.7" stroke-linecap="round" stroke-dasharray="0 2.560"/>
<circle cx="231" cy="265.5" r="22" fill="none" stroke="#d0505a" stroke-width="1.5" stroke-linecap="round" stroke-dasharray="0 1.728"/>
<circle cx="231" cy="265.5" r="20.8" fill="#ece6f0"/>
<clipPath id="cc5"><circle cx="231" cy="265.5" r="20.8"/></clipPath>
<g clip-path="url(#cc5)" fill="none" stroke-width="0.6" opacity="1.0">
<ellipse cx="236.6" cy="264" rx="4.3" ry="6.7" transform="rotate(33.2 236.6 264)" stroke="#d2cae3"/>
<ellipse cx="230" cy="250.9" rx="7.8" ry="3.4" transform="rotate(48.5 230 250.9)" stroke="#d2cae3"/>
<ellipse cx="225.9" cy="276.5" rx="8.4" ry="5.5" transform="rotate(166.3 225.9 276.5)" stroke="#cbc3df"/>
<ellipse cx="239.8" cy="257.6" rx="4.3" ry="4.1" transform="rotate(75.9 239.8 257.6)" stroke="#d2cae3"/>
<ellipse cx="238" cy="255.9" rx="8.5" ry="5.9" transform="rotate(173 238 255.9)" stroke="#cbc3df"/>
<ellipse cx="239.3" cy="268.8" rx="5.7" ry="3.8" transform="rotate(70.8 239.3 268.8)" stroke="#cbc3df"/>
<ellipse cx="222.8" cy="264.7" rx="5.4" ry="5.6" transform="rotate(77.7 222.8 264.7)" stroke="#dcd4ea"/>
<ellipse cx="228.3" cy="264.9" rx="8.4" ry="4.9" transform="rotate(93.1 228.3 264.9)" stroke="#dcd4ea"/>
<ellipse cx="219" cy="274.5" rx="5" ry="5.1" transform="rotate(71.5 219 274.5)" stroke="#d2cae3"/>
<ellipse cx="227.5" cy="277" rx="6.6" ry="4.7" transform="rotate(121.2 227.5 277)" stroke="#cbc3df"/>
<ellipse cx="226.8" cy="267.6" rx="6.2" ry="3.5" transform="rotate(140.6 226.8 267.6)" stroke="#d2cae3"/>
<ellipse cx="244.8" cy="259" rx="6.5" ry="4.5" transform="rotate(17.4 244.8 259)" stroke="#d2cae3"/>
<ellipse cx="236.5" cy="275.7" rx="5.8" ry="4.3" transform="rotate(64.3 236.5 275.7)" stroke="#d2cae3"/>
<ellipse cx="227.3" cy="266.9" rx="4.8" ry="5.9" transform="rotate(133 227.3 266.9)" stroke="#cbc3df"/>
<ellipse cx="229.8" cy="262.2" rx="6" ry="6" transform="rotate(165.8 229.8 262.2)" stroke="#dcd4ea"/>
<ellipse cx="236.2" cy="266.9" rx="7.4" ry="3.6" transform="rotate(51.2 236.2 266.9)" stroke="#cbc3df"/>
<ellipse cx="230.6" cy="254.8" rx="7.5" ry="5.4" transform="rotate(63.7 230.6 254.8)" stroke="#d2cae3"/>
<ellipse cx="236.2" cy="254.5" rx="8.5" ry="3.2" transform="rotate(90 236.2 254.5)" stroke="#cbc3df"/>
<ellipse cx="235.5" cy="267.4" rx="7" ry="5.2" transform="rotate(126 235.5 267.4)" stroke="#d2cae3"/>
<ellipse cx="245.8" cy="269.5" rx="5.8" ry="3.5" transform="rotate(38.9 245.8 269.5)" stroke="#dcd4ea"/>
<ellipse cx="226.9" cy="265.8" rx="4.3" ry="5.8" transform="rotate(104.6 226.9 265.8)" stroke="#cbc3df"/>
<ellipse cx="233.4" cy="274.3" rx="7.5" ry="6.4" transform="rotate(150.1 233.4 274.3)" stroke="#d2cae3"/>
<ellipse cx="232.1" cy="279.8" rx="7" ry="3.8" transform="rotate(135.7 232.1 279.8)" stroke="#cbc3df"/>
<ellipse cx="221" cy="274.6" rx="7.4" ry="4.8" transform="rotate(44.8 221 274.6)" stroke="#d2cae3"/>
<ellipse cx="242.4" cy="275.2" rx="8.4" ry="5.1" transform="rotate(32.1 242.4 275.2)" stroke="#cbc3df"/>
<ellipse cx="229.9" cy="268" rx="4.9" ry="4.1" transform="rotate(152.5 229.9 268)" stroke="#cbc3df"/>
<ellipse cx="244.4" cy="268" rx="4.2" ry="5.4" transform="rotate(177.4 244.4 268)" stroke="#cbc3df"/>
<ellipse cx="232.2" cy="276.8" rx="4.8" ry="4.3" transform="rotate(155.5 232.2 276.8)" stroke="#cbc3df"/>
<ellipse cx="240.6" cy="266" rx="7.1" ry="3.7" transform="rotate(144.5 240.6 266)" stroke="#cbc3df"/>
<ellipse cx="222.1" cy="262.5" rx="8" ry="4.9" transform="rotate(33.9 222.1 262.5)" stroke="#dcd4ea"/>
<ellipse cx="221.9" cy="264" rx="7.8" ry="4.9" transform="rotate(90 221.9 264)" stroke="#d2cae3"/>
<ellipse cx="237.7" cy="264.4" rx="6" ry="6.2" transform="rotate(137.1 237.7 264.4)" stroke="#dcd4ea"/>
<ellipse cx="225.3" cy="255.7" rx="7.4" ry="3.4" transform="rotate(165.8 225.3 255.7)" stroke="#dcd4ea"/>
<ellipse cx="232" cy="276.7" rx="8.6" ry="3.7" transform="rotate(100.4 232 276.7)" stroke="#cbc3df"/>
<ellipse cx="239.8" cy="265.5" rx="7.7" ry="3.5" transform="rotate(91.2 239.8 265.5)" stroke="#d2cae3"/>
<ellipse cx="235.9" cy="252.2" rx="4.6" ry="3.4" transform="rotate(32.1 235.9 252.2)" stroke="#cbc3df"/>
<ellipse cx="228.1" cy="273.7" rx="8.3" ry="5.2" transform="rotate(94.6 228.1 273.7)" stroke="#cbc3df"/>
<ellipse cx="223.4" cy="278.9" rx="8.5" ry="5.7" transform="rotate(162.3 223.4 278.9)" stroke="#cbc3df"/>
<ellipse cx="225.9" cy="258.3" rx="5.4" ry="4" transform="rotate(10.3 225.9 258.3)" stroke="#dcd4ea"/>
<ellipse cx="230.3" cy="267.8" rx="5.6" ry="3.5" transform="rotate(80.1 230.3 267.8)" stroke="#dcd4ea"/>
<ellipse cx="236.4" cy="262.5" rx="5.5" ry="4.5" transform="rotate(25.2 236.4 262.5)" stroke="#dcd4ea"/>
<ellipse cx="227" cy="276.3" rx="8.2" ry="6.5" transform="rotate(67.5 227 276.3)" stroke="#d2cae3"/>
<ellipse cx="223" cy="267.3" rx="6.6" ry="3.4" transform="rotate(148.1 223 267.3)" stroke="#dcd4ea"/>
<ellipse cx="221.2" cy="261.9" rx="5.3" ry="4" transform="rotate(27.5 221.2 261.9)" stroke="#cbc3df"/>
<ellipse cx="217.1" cy="267.2" rx="6.5" ry="3.4" transform="rotate(61.1 217.1 267.2)" stroke="#dcd4ea"/>
<ellipse cx="239.6" cy="274.9" rx="8.3" ry="4.7" transform="rotate(97 239.6 274.9)" stroke="#dcd4ea"/>
<ellipse cx="225.5" cy="252.6" rx="7.2" ry="4.4" transform="rotate(51.5 225.5 252.6)" stroke="#d2cae3"/>
<ellipse cx="235.9" cy="263.4" rx="8" ry="5.8" transform="rotate(14.3 235.9 263.4)" stroke="#cbc3df"/>
<ellipse cx="218.7" cy="267.7" rx="7" ry="3.2" transform="rotate(165.7 218.7 267.7)" stroke="#cbc3df"/>
<ellipse cx="233.7" cy="254.4" rx="6.8" ry="3.8" transform="rotate(142.6 233.7 254.4)" stroke="#cbc3df"/>
<ellipse cx="221.7" cy="272.5" rx="5" ry="4.6" transform="rotate(165.2 221.7 272.5)" stroke="#cbc3df"/>
<ellipse cx="234.1" cy="255.8" rx="7.7" ry="3.9" transform="rotate(44 234.1 255.8)" stroke="#cbc3df"/>
<ellipse cx="218.3" cy="263.1" rx="6.8" ry="5.2" transform="rotate(43.2 218.3 263.1)" stroke="#cbc3df"/>
<ellipse cx="231.6" cy="276.1" rx="7.9" ry="6.6" transform="rotate(22.2 231.6 276.1)" stroke="#cbc3df"/>
<ellipse cx="232.4" cy="275.5" rx="4.7" ry="5.7" transform="rotate(8.3 232.4 275.5)" stroke="#cbc3df"/>
<ellipse cx="218.4" cy="265.2" rx="4.7" ry="6" transform="rotate(91.6 218.4 265.2)" stroke="#d2cae3"/>
<ellipse cx="227" cy="268.5" rx="6.5" ry="5.7" transform="rotate(2.3 227 268.5)" stroke="#d2cae3"/>
<ellipse cx="217.9" cy="270.5" rx="4.9" ry="6.4" transform="rotate(91.5 217.9 270.5)" stroke="#d2cae3"/>
<ellipse cx="228.8" cy="257.8" rx="4.7" ry="3.7" transform="rotate(128.6 228.8 257.8)" stroke="#cbc3df"/>
<ellipse cx="223.1" cy="265.4" rx="6.2" ry="4.7" transform="rotate(125.5 223.1 265.4)" stroke="#cbc3df"/>
<ellipse cx="224.7" cy="278.4" rx="7.6" ry="5.4" transform="rotate(110.6 224.7 278.4)" stroke="#dcd4ea"/>
</g>
<circle cx="224.4" cy="257.8" r="3.5" fill="#eab0b4"/>
<circle cx="231.4" cy="273.7" r="3.5" fill="#eab0b4"/>
<circle cx="238" cy="264.5" r="3.5" fill="#eab0b4"/>
<path d="M214.6 236.9 L215 236.3 L215 235.9 L214.6 235.8 L213.8 235.8 L213.1 235.8 L212.8 235.6 L213 235.1 L213.5 234.5 L213.8 234 L213.7 233.6 L213.1 233.6 L212.3 233.7 L211.7 233.6 L211.6 233.3 L211.9 232.8 L212.4 232.1 L212.6 231.7 L212.3 231.4 L211.6 231.4 L210.9 231.5 L210.4 231.4 L210.4 231 L210.8 230.4 L211.2 229.8" fill="none" stroke="#a36b6b" stroke-width="0.7"/>
<circle cx="209" cy="227.2" r="4.2" fill="#9460c8"/>
<path d="M252.4 240.3 L253 240.5 L253.4 240.5 L253.5 240.1 L253.2 239.6 L252.9 238.9 L252.8 238.4 L253.1 238.3 L253.6 238.3 L254.3 238.5 L254.9 238.6 L255.1 238.4 L255 238 L254.7 237.3 L254.5 236.7 L254.5 236.4 L254.9 236.4 L255.6 236.5 L256.2 236.7 L256.7 236.7 L256.7 236.3 L256.5 235.7 L256.2 235.1 L256.1 234.6 L256.3 234.4" fill="none" stroke="#a36b6b" stroke-width="0.7"/>
<circle cx="259.1" cy="232.4" r="4.2" fill="#9460c8"/>
<path d="M198.5 271.2 L198.1 270.6 L197.7 270.4 L197.5 270.7 L197.3 271.3 L197.1 272 L196.8 272.4 L196.5 272.3 L196.1 271.7 L195.7 271.1 L195.3 270.8 L195.1 271 L194.9 271.6 L194.7 272.3 L194.4 272.7 L194.1 272.7 L193.8 272.3 L193.3 271.7 L193 271.3 L192.7 271.3 L192.4 271.8 L192.3 272.5 L192 273.1 L191.8 273.2 L191.4 272.9" fill="none" stroke="#a36b6b" stroke-width="0.7"/>
<circle cx="188" cy="273" r="4.2" fill="#9460c8"/>
<path d="M262 276.9 L262 277.6 L262.2 277.9 L262.6 277.9 L263 277.4 L263.5 276.9 L263.9 276.7 L264.2 276.9 L264.3 277.4 L264.3 278.1 L264.5 278.7 L264.7 278.8 L265.2 278.5 L265.7 278 L266.1 277.6 L266.4 277.6 L266.6 278 L266.7 278.7 L266.7 279.4 L266.9 279.7 L267.3 279.5 L267.8 279.1 L268.3 278.6 L268.7 278.4 L268.9 278.6" fill="none" stroke="#a36b6b" stroke-width="0.7"/>
<circle cx="271.8" cy="280.5" r="4.2" fill="#9460c8"/>
<path d="M231.1 298.5 L230.5 298.8 L230.3 299.1 L230.6 299.5 L231.2 299.8 L231.9 300.1 L232 300.4 L231.7 300.8 L231 301.1 L230.4 301.4 L230.3 301.7 L230.7 302 L231.4 302.4 L232 302.7 L232 303 L231.5 303.3 L230.8 303.7 L230.3 304 L230.4 304.3 L230.9 304.6 L231.6 304.9 L232.1 305.3 L231.9 305.6 L231.4 305.9 L230.7 306.2" fill="none" stroke="#a36b6b" stroke-width="0.7"/>
<circle cx="231.2" cy="309.6" r="4.2" fill="#9460c8"/>
<circle cx="233.3" cy="264.4" r="7.9" fill="none" stroke="#111" stroke-width="1.1"/><text x="233.3" y="268.8" font-size="12.5" font-weight="bold" text-anchor="middle" fill="#111">2</text>
<circle cx="344.5" cy="265.8" r="32.6" fill="#ffffff"/>
<circle cx="344.5" cy="265.8" r="30" fill="none" stroke="#f3cdd0" stroke-width="4.4" stroke-dasharray="1.050 1.305"/>
<circle cx="344.5" cy="265.8" r="24.6" fill="none" stroke="#f3cdd0" stroke-width="4.4" stroke-dasharray="0.927 1.004"/>
<circle cx="344.5" cy="265.8" r="32.6" fill="none" stroke="#d0505a" stroke-width="1.7" stroke-linecap="round" stroke-dasharray="0 2.560"/>
<circle cx="344.5" cy="265.8" r="22" fill="none" stroke="#d0505a" stroke-width="1.5" stroke-linecap="round" stroke-dasharray="0 1.728"/>
<circle cx="344.5" cy="265.8" r="20.8" fill="#ece6f0"/>
<clipPath id="cc6"><circle cx="344.5" cy="265.8" r="20.8"/></clipPath>
<g clip-path="url(#cc6)" fill="none" stroke-width="0.6" opacity="1.0">
<ellipse cx="358" cy="258.9" rx="8.2" ry="3.4" transform="rotate(106.6 358 258.9)" stroke="#dcd4ea"/>
<ellipse cx="337.7" cy="272.2" rx="7.5" ry="4.1" transform="rotate(2.5 337.7 272.2)" stroke="#cbc3df"/>
<ellipse cx="342.1" cy="266.5" rx="4.6" ry="5.6" transform="rotate(75.8 342.1 266.5)" stroke="#cbc3df"/>
<ellipse cx="337.4" cy="258.4" rx="7.7" ry="3.8" transform="rotate(6.4 337.4 258.4)" stroke="#dcd4ea"/>
<ellipse cx="337.8" cy="255.5" rx="8.6" ry="4.4" transform="rotate(136.8 337.8 255.5)" stroke="#dcd4ea"/>
<ellipse cx="352.6" cy="264.2" rx="8.6" ry="5.1" transform="rotate(146.6 352.6 264.2)" stroke="#d2cae3"/>
<ellipse cx="342.1" cy="254.1" rx="6.2" ry="5.4" transform="rotate(32.8 342.1 254.1)" stroke="#d2cae3"/>
<ellipse cx="332" cy="263.1" rx="6.5" ry="5.2" transform="rotate(14.8 332 263.1)" stroke="#dcd4ea"/>
<ellipse cx="352.4" cy="267.8" rx="6.8" ry="6" transform="rotate(59.5 352.4 267.8)" stroke="#dcd4ea"/>
<ellipse cx="353.8" cy="259.1" rx="8.3" ry="4.7" transform="rotate(39.3 353.8 259.1)" stroke="#d2cae3"/>
<ellipse cx="355.3" cy="274.4" rx="7.4" ry="6" transform="rotate(42.8 355.3 274.4)" stroke="#cbc3df"/>
<ellipse cx="352.9" cy="276.3" rx="4.6" ry="4.5" transform="rotate(80.9 352.9 276.3)" stroke="#d2cae3"/>
<ellipse cx="353.9" cy="269.3" rx="4.3" ry="6" transform="rotate(123.7 353.9 269.3)" stroke="#d2cae3"/>
<ellipse cx="349.6" cy="251.5" rx="6.6" ry="6.6" transform="rotate(134.8 349.6 251.5)" stroke="#dcd4ea"/>
<ellipse cx="358.3" cy="267.2" rx="6.4" ry="3.3" transform="rotate(47.6 358.3 267.2)" stroke="#cbc3df"/>
<ellipse cx="349.5" cy="280" rx="8.5" ry="3.9" transform="rotate(18.6 349.5 280)" stroke="#cbc3df"/>
<ellipse cx="336.8" cy="255.3" rx="6.7" ry="4" transform="rotate(18 336.8 255.3)" stroke="#d2cae3"/>
<ellipse cx="352.9" cy="259.7" rx="5.7" ry="6.3" transform="rotate(146.5 352.9 259.7)" stroke="#cbc3df"/>
<ellipse cx="340.7" cy="256.5" rx="7.3" ry="6.1" transform="rotate(115.1 340.7 256.5)" stroke="#d2cae3"/>
<ellipse cx="334.7" cy="262.9" rx="5.5" ry="6.2" transform="rotate(109.8 334.7 262.9)" stroke="#d2cae3"/>
<ellipse cx="346.9" cy="261.2" rx="7" ry="4.3" transform="rotate(100.7 346.9 261.2)" stroke="#dcd4ea"/>
<ellipse cx="344.7" cy="281" rx="4.5" ry="5.1" transform="rotate(97.5 344.7 281)" stroke="#d2cae3"/>
<ellipse cx="356.1" cy="255.8" rx="7.8" ry="6.6" transform="rotate(49 356.1 255.8)" stroke="#dcd4ea"/>
<ellipse cx="334.6" cy="275.4" rx="4.8" ry="6.2" transform="rotate(36.6 334.6 275.4)" stroke="#cbc3df"/>
<ellipse cx="356.9" cy="268.2" rx="7.6" ry="6.5" transform="rotate(75.6 356.9 268.2)" stroke="#dcd4ea"/>
<ellipse cx="331.7" cy="267.4" rx="6.6" ry="5.1" transform="rotate(94.7 331.7 267.4)" stroke="#dcd4ea"/>
<ellipse cx="343" cy="281.3" rx="5.2" ry="3.3" transform="rotate(160.2 343 281.3)" stroke="#dcd4ea"/>
<ellipse cx="346.7" cy="253.2" rx="6.9" ry="4.2" transform="rotate(57.5 346.7 253.2)" stroke="#dcd4ea"/>
<ellipse cx="347.3" cy="258.1" rx="8.4" ry="3.7" transform="rotate(7.7 347.3 258.1)" stroke="#cbc3df"/>
<ellipse cx="333" cy="267.4" rx="5.3" ry="4.1" transform="rotate(16 333 267.4)" stroke="#d2cae3"/>
<ellipse cx="356.6" cy="256.2" rx="4.8" ry="4.4" transform="rotate(111.7 356.6 256.2)" stroke="#d2cae3"/>
<ellipse cx="342.1" cy="279.3" rx="4.2" ry="3.3" transform="rotate(140.9 342.1 279.3)" stroke="#d2cae3"/>
<ellipse cx="344.7" cy="281.3" rx="7.1" ry="3.3" transform="rotate(145.3 344.7 281.3)" stroke="#dcd4ea"/>
<ellipse cx="348.1" cy="277" rx="7" ry="5.9" transform="rotate(32.5 348.1 277)" stroke="#cbc3df"/>
<ellipse cx="334.3" cy="273.6" rx="5.5" ry="3.4" transform="rotate(164.7 334.3 273.6)" stroke="#cbc3df"/>
<ellipse cx="342" cy="263.9" rx="4.7" ry="5.8" transform="rotate(177.4 342 263.9)" stroke="#d2cae3"/>
<ellipse cx="340" cy="262.1" rx="7.5" ry="4.8" transform="rotate(127.6 340 262.1)" stroke="#cbc3df"/>
<ellipse cx="345.4" cy="262.5" rx="4.4" ry="5.8" transform="rotate(18.4 345.4 262.5)" stroke="#d2cae3"/>
<ellipse cx="347.7" cy="269.3" rx="8.1" ry="3.8" transform="rotate(76.8 347.7 269.3)" stroke="#dcd4ea"/>
<ellipse cx="344.8" cy="258.5" rx="6.8" ry="6.4" transform="rotate(119.4 344.8 258.5)" stroke="#cbc3df"/>
<ellipse cx="336.7" cy="254.8" rx="8.4" ry="4.2" transform="rotate(159.6 336.7 254.8)" stroke="#cbc3df"/>
<ellipse cx="351.1" cy="272.8" rx="7.7" ry="6.1" transform="rotate(7.1 351.1 272.8)" stroke="#dcd4ea"/>
<ellipse cx="340.3" cy="271.6" rx="7.1" ry="3.7" transform="rotate(56.9 340.3 271.6)" stroke="#dcd4ea"/>
<ellipse cx="352.7" cy="269" rx="6.1" ry="6" transform="rotate(106.1 352.7 269)" stroke="#dcd4ea"/>
<ellipse cx="334.3" cy="277.1" rx="4.3" ry="4.2" transform="rotate(147.3 334.3 277.1)" stroke="#dcd4ea"/>
<ellipse cx="349.7" cy="255.1" rx="8.6" ry="5" transform="rotate(112.2 349.7 255.1)" stroke="#dcd4ea"/>
<ellipse cx="347.1" cy="259.7" rx="6.2" ry="3.8" transform="rotate(139.2 347.1 259.7)" stroke="#d2cae3"/>
<ellipse cx="343.7" cy="266" rx="7.1" ry="4" transform="rotate(132.7 343.7 266)" stroke="#dcd4ea"/>
<ellipse cx="332.6" cy="275.6" rx="7.5" ry="5.6" transform="rotate(120.3 332.6 275.6)" stroke="#dcd4ea"/>
<ellipse cx="343.4" cy="260" rx="8.7" ry="5.8" transform="rotate(146.1 343.4 260)" stroke="#dcd4ea"/>
<ellipse cx="339.3" cy="264.4" rx="4.5" ry="4.8" transform="rotate(26.2 339.3 264.4)" stroke="#cbc3df"/>
<ellipse cx="346.1" cy="260.7" rx="4.2" ry="5" transform="rotate(37.5 346.1 260.7)" stroke="#cbc3df"/>
<ellipse cx="347.5" cy="274.5" rx="8.6" ry="4.1" transform="rotate(51.2 347.5 274.5)" stroke="#dcd4ea"/>
<ellipse cx="357.4" cy="257.9" rx="6.6" ry="4.3" transform="rotate(133 357.4 257.9)" stroke="#d2cae3"/>
<ellipse cx="347.5" cy="254.4" rx="8.3" ry="3.7" transform="rotate(124.1 347.5 254.4)" stroke="#d2cae3"/>
<ellipse cx="341.9" cy="261.3" rx="8.4" ry="6.5" transform="rotate(19.9 341.9 261.3)" stroke="#cbc3df"/>
<ellipse cx="348.4" cy="267.9" rx="7.8" ry="5.7" transform="rotate(172.3 348.4 267.9)" stroke="#cbc3df"/>
<ellipse cx="352.3" cy="267.6" rx="6.7" ry="4.6" transform="rotate(114.3 352.3 267.6)" stroke="#d2cae3"/>
<ellipse cx="349.4" cy="260.9" rx="7.5" ry="5.7" transform="rotate(12.8 349.4 260.9)" stroke="#d2cae3"/>
<ellipse cx="347.8" cy="272.3" rx="4.4" ry="5.5" transform="rotate(25.6 347.8 272.3)" stroke="#d2cae3"/>
<ellipse cx="336.7" cy="260.1" rx="4.4" ry="5.8" transform="rotate(75.8 336.7 260.1)" stroke="#d2cae3"/>
</g>
<circle cx="337.9" cy="258.1" r="3.5" fill="#eab0b4"/>
<circle cx="344.9" cy="274" r="3.5" fill="#eab0b4"/>
<circle cx="351.5" cy="264.8" r="3.5" fill="#eab0b4"/>
<path d="M328.1 237.2 L328.5 236.6 L328.5 236.2 L328.1 236.1 L327.3 236.1 L326.6 236.1 L326.3 235.9 L326.5 235.4 L327 234.8 L327.3 234.3 L327.2 233.9 L326.6 233.9 L325.8 234 L325.2 233.9 L325.1 233.6 L325.4 233.1 L325.9 232.4 L326.1 232 L325.8 231.7 L325.1 231.7 L324.4 231.8 L323.9 231.7 L323.9 231.3 L324.3 230.7 L324.7 230.1" fill="none" stroke="#a36b6b" stroke-width="0.7"/>
<circle cx="322.5" cy="227.5" r="4.2" fill="#c9393f"/>
<path d="M365.9 240.6 L366.5 240.8 L366.9 240.8 L367 240.4 L366.7 239.9 L366.4 239.2 L366.3 238.7 L366.6 238.6 L367.1 238.6 L367.8 238.8 L368.4 238.9 L368.6 238.7 L368.5 238.3 L368.2 237.6 L368 237 L368 236.7 L368.4 236.7 L369.1 236.8 L369.7 237 L370.2 237 L370.2 236.6 L370 236 L369.7 235.4 L369.6 234.9 L369.8 234.7" fill="none" stroke="#a36b6b" stroke-width="0.7"/>
<circle cx="372.6" cy="232.7" r="4.2" fill="#c9393f"/>
<path d="M312 271.5 L311.6 270.9 L311.2 270.7 L311 271 L310.8 271.6 L310.6 272.3 L310.3 272.7 L310 272.6 L309.6 272 L309.2 271.4 L308.8 271.1 L308.6 271.3 L308.4 271.9 L308.2 272.6 L307.9 273 L307.6 273 L307.3 272.6 L306.8 272 L306.5 271.6 L306.2 271.6 L305.9 272.1 L305.8 272.8 L305.5 273.4 L305.3 273.5 L304.9 273.2" fill="none" stroke="#a36b6b" stroke-width="0.7"/>
<circle cx="301.5" cy="273.3" r="4.2" fill="#c9393f"/>
<path d="M375.5 277.2 L375.5 277.9 L375.7 278.2 L376.1 278.2 L376.5 277.7 L377 277.2 L377.4 277 L377.7 277.2 L377.8 277.7 L377.8 278.4 L378 279 L378.2 279.1 L378.7 278.8 L379.2 278.3 L379.6 277.9 L379.9 277.9 L380.1 278.3 L380.2 279 L380.2 279.7 L380.4 280 L380.8 279.8 L381.3 279.4 L381.8 278.9 L382.2 278.7 L382.4 278.9" fill="none" stroke="#a36b6b" stroke-width="0.7"/>
<circle cx="385.3" cy="280.8" r="4.2" fill="#c9393f"/>
<path d="M344.6 298.8 L344 299.1 L343.8 299.4 L344.1 299.8 L344.7 300.1 L345.4 300.4 L345.5 300.7 L345.2 301.1 L344.5 301.4 L343.9 301.7 L343.8 302 L344.2 302.3 L344.9 302.7 L345.5 303 L345.5 303.3 L345 303.6 L344.3 304 L343.8 304.3 L343.9 304.6 L344.4 304.9 L345.1 305.2 L345.6 305.6 L345.4 305.9 L344.9 306.2 L344.2 306.5" fill="none" stroke="#a36b6b" stroke-width="0.7"/>
<circle cx="344.7" cy="309.9" r="4.2" fill="#c9393f"/>
<circle cx="346.8" cy="264.7" r="7.9" fill="none" stroke="#111" stroke-width="1.1"/><text x="346.8" y="269.1" font-size="12.5" font-weight="bold" text-anchor="middle" fill="#111">3</text>
<circle cx="462.5" cy="265.5" r="32.6" fill="#ffffff"/>
<circle cx="462.5" cy="265.5" r="30" fill="none" stroke="#f3cdd0" stroke-width="4.4" stroke-dasharray="1.050 1.305"/>
<circle cx="462.5" cy="265.5" r="24.6" fill="none" stroke="#f3cdd0" stroke-width="4.4" stroke-dasharray="0.927 1.004"/>
<circle cx="462.5" cy="265.5" r="32.6" fill="none" stroke="#d0505a" stroke-width="1.7" stroke-linecap="round" stroke-dasharray="0 2.560"/>
<circle cx="462.5" cy="265.5" r="22" fill="none" stroke="#d0505a" stroke-width="1.5" stroke-linecap="round" stroke-dasharray="0 1.728"/>
<circle cx="462.5" cy="265.5" r="20.8" fill="#ece6f0"/>
<clipPath id="cc7"><circle cx="462.5" cy="265.5" r="20.8"/></clipPath>
<g clip-path="url(#cc7)" fill="none" stroke-width="0.6" opacity="1.0">
<ellipse cx="459.1" cy="251.6" rx="5" ry="6.6" transform="rotate(34.9 459.1 251.6)" stroke="#cbc3df"/>
<ellipse cx="457" cy="253.6" rx="8.7" ry="6" transform="rotate(51 457 253.6)" stroke="#d2cae3"/>
<ellipse cx="449" cy="270.7" rx="8.7" ry="3.5" transform="rotate(93 449 270.7)" stroke="#dcd4ea"/>
<ellipse cx="461.8" cy="255.1" rx="5.6" ry="6.5" transform="rotate(15.3 461.8 255.1)" stroke="#dcd4ea"/>
<ellipse cx="465.9" cy="260.3" rx="5.7" ry="4.2" transform="rotate(97.6 465.9 260.3)" stroke="#dcd4ea"/>
<ellipse cx="461" cy="263.1" rx="5.1" ry="4.3" transform="rotate(133.7 461 263.1)" stroke="#dcd4ea"/>
<ellipse cx="472.9" cy="272.8" rx="7.8" ry="6" transform="rotate(178.6 472.9 272.8)" stroke="#dcd4ea"/>
<ellipse cx="461.1" cy="278.9" rx="8.4" ry="3.5" transform="rotate(89 461.1 278.9)" stroke="#d2cae3"/>
<ellipse cx="457.4" cy="258.2" rx="5.1" ry="5.3" transform="rotate(141 457.4 258.2)" stroke="#dcd4ea"/>
<ellipse cx="446.9" cy="265" rx="7.7" ry="5" transform="rotate(43.7 446.9 265)" stroke="#cbc3df"/>
<ellipse cx="468.2" cy="272.1" rx="6.6" ry="3.9" transform="rotate(37.2 468.2 272.1)" stroke="#dcd4ea"/>
<ellipse cx="453.7" cy="271.6" rx="8" ry="4" transform="rotate(33.4 453.7 271.6)" stroke="#cbc3df"/>
<ellipse cx="466.7" cy="257.4" rx="8.2" ry="6.3" transform="rotate(6.1 466.7 257.4)" stroke="#dcd4ea"/>
<ellipse cx="459.5" cy="255.6" rx="7.8" ry="3.4" transform="rotate(14.7 459.5 255.6)" stroke="#dcd4ea"/>
<ellipse cx="459.1" cy="251.9" rx="6.6" ry="5.2" transform="rotate(73.7 459.1 251.9)" stroke="#dcd4ea"/>
<ellipse cx="466.9" cy="258.5" rx="5.9" ry="3.6" transform="rotate(134 466.9 258.5)" stroke="#d2cae3"/>
<ellipse cx="466.2" cy="253.6" rx="4.2" ry="4" transform="rotate(97.8 466.2 253.6)" stroke="#cbc3df"/>
<ellipse cx="456.5" cy="257.7" rx="6" ry="4.1" transform="rotate(81.1 456.5 257.7)" stroke="#cbc3df"/>
<ellipse cx="463.1" cy="256.7" rx="7.5" ry="4.5" transform="rotate(3.5 463.1 256.7)" stroke="#dcd4ea"/>
<ellipse cx="464.2" cy="259.3" rx="5.2" ry="3.6" transform="rotate(117.5 464.2 259.3)" stroke="#cbc3df"/>
<ellipse cx="464.9" cy="275.6" rx="5" ry="3.3" transform="rotate(148.4 464.9 275.6)" stroke="#d2cae3"/>
<ellipse cx="462.7" cy="267.9" rx="8.6" ry="4.8" transform="rotate(33 462.7 267.9)" stroke="#dcd4ea"/>
<ellipse cx="463.9" cy="260.7" rx="5" ry="3.6" transform="rotate(90.7 463.9 260.7)" stroke="#d2cae3"/>
<ellipse cx="453.3" cy="259" rx="6.5" ry="4.2" transform="rotate(123.5 453.3 259)" stroke="#dcd4ea"/>
<ellipse cx="453.2" cy="267.9" rx="8.4" ry="5.5" transform="rotate(133.1 453.2 267.9)" stroke="#d2cae3"/>
<ellipse cx="458.8" cy="271.2" rx="4.9" ry="3.6" transform="rotate(174.1 458.8 271.2)" stroke="#dcd4ea"/>
<ellipse cx="476.4" cy="261.7" rx="7.1" ry="3.6" transform="rotate(18 476.4 261.7)" stroke="#cbc3df"/>
<ellipse cx="454.6" cy="256.3" rx="8.3" ry="6.4" transform="rotate(83.1 454.6 256.3)" stroke="#d2cae3"/>
<ellipse cx="466" cy="280.6" rx="6.7" ry="4.8" transform="rotate(61.4 466 280.6)" stroke="#dcd4ea"/>
<ellipse cx="460.2" cy="259.8" rx="4.4" ry="3.7" transform="rotate(147.1 460.2 259.8)" stroke="#cbc3df"/>
<ellipse cx="463.3" cy="263.9" rx="5.4" ry="4.8" transform="rotate(111.9 463.3 263.9)" stroke="#cbc3df"/>
<ellipse cx="463.2" cy="274.4" rx="5.2" ry="6.5" transform="rotate(99.3 463.2 274.4)" stroke="#d2cae3"/>
<ellipse cx="463.1" cy="277.9" rx="6.8" ry="6.4" transform="rotate(65.6 463.1 277.9)" stroke="#d2cae3"/>
<ellipse cx="466.7" cy="251" rx="7.7" ry="4.5" transform="rotate(13.5 466.7 251)" stroke="#dcd4ea"/>
<ellipse cx="448.4" cy="270.6" rx="5.8" ry="4.7" transform="rotate(101.6 448.4 270.6)" stroke="#d2cae3"/>
<ellipse cx="468.7" cy="266.8" rx="4.3" ry="5.9" transform="rotate(140.2 468.7 266.8)" stroke="#cbc3df"/>
<ellipse cx="465.5" cy="251.6" rx="6.8" ry="4.4" transform="rotate(35.3 465.5 251.6)" stroke="#cbc3df"/>
<ellipse cx="463.4" cy="253.4" rx="5.8" ry="6.5" transform="rotate(116.2 463.4 253.4)" stroke="#cbc3df"/>
<ellipse cx="470.9" cy="258.1" rx="7" ry="5.6" transform="rotate(28.2 470.9 258.1)" stroke="#cbc3df"/>
<ellipse cx="467.4" cy="258.7" rx="8.2" ry="4.1" transform="rotate(104.3 467.4 258.7)" stroke="#dcd4ea"/>
<ellipse cx="451.2" cy="256.1" rx="4.5" ry="4.8" transform="rotate(0.8 451.2 256.1)" stroke="#cbc3df"/>
<ellipse cx="464.6" cy="250.4" rx="7.7" ry="3.6" transform="rotate(96.7 464.6 250.4)" stroke="#d2cae3"/>
<ellipse cx="467.5" cy="257.8" rx="4.6" ry="5.4" transform="rotate(20.2 467.5 257.8)" stroke="#cbc3df"/>
<ellipse cx="461" cy="252.9" rx="8.7" ry="3.9" transform="rotate(104.1 461 252.9)" stroke="#dcd4ea"/>
<ellipse cx="467.1" cy="274.5" rx="8.6" ry="4" transform="rotate(85.5 467.1 274.5)" stroke="#dcd4ea"/>
<ellipse cx="452.6" cy="261.6" rx="5.8" ry="3.8" transform="rotate(151.4 452.6 261.6)" stroke="#cbc3df"/>
<ellipse cx="461.3" cy="250.1" rx="4.9" ry="6" transform="rotate(153.2 461.3 250.1)" stroke="#dcd4ea"/>
<ellipse cx="466.6" cy="261.4" rx="4.5" ry="5" transform="rotate(134.7 466.6 261.4)" stroke="#d2cae3"/>
<ellipse cx="461.2" cy="251.3" rx="7.7" ry="6.3" transform="rotate(103.6 461.2 251.3)" stroke="#d2cae3"/>
<ellipse cx="474.6" cy="265.5" rx="8.6" ry="4.8" transform="rotate(7.9 474.6 265.5)" stroke="#cbc3df"/>
<ellipse cx="469.2" cy="276.2" rx="6.1" ry="3.8" transform="rotate(174.7 469.2 276.2)" stroke="#d2cae3"/>
<ellipse cx="449.3" cy="271.3" rx="5.5" ry="6.5" transform="rotate(128.4 449.3 271.3)" stroke="#dcd4ea"/>
<ellipse cx="464.5" cy="279.8" rx="6.1" ry="4.9" transform="rotate(134.5 464.5 279.8)" stroke="#cbc3df"/>
<ellipse cx="464.1" cy="279.3" rx="4.7" ry="3.5" transform="rotate(1.9 464.1 279.3)" stroke="#dcd4ea"/>
<ellipse cx="460.2" cy="251.8" rx="4.8" ry="3.1" transform="rotate(164.5 460.2 251.8)" stroke="#d2cae3"/>
<ellipse cx="449.9" cy="273.4" rx="7.2" ry="6" transform="rotate(174.1 449.9 273.4)" stroke="#d2cae3"/>
<ellipse cx="470.3" cy="254.3" rx="7.7" ry="3.6" transform="rotate(58.2 470.3 254.3)" stroke="#d2cae3"/>
<ellipse cx="468" cy="260.3" rx="6" ry="4" transform="rotate(29 468 260.3)" stroke="#dcd4ea"/>
<ellipse cx="472.7" cy="256.6" rx="4.6" ry="6.3" transform="rotate(49.9 472.7 256.6)" stroke="#dcd4ea"/>
<ellipse cx="452.7" cy="269.8" rx="4.6" ry="4.4" transform="rotate(174.5 452.7 269.8)" stroke="#cbc3df"/>
<ellipse cx="453.6" cy="269.4" rx="4.9" ry="3.6" transform="rotate(53.5 453.6 269.4)" stroke="#d2cae3"/>
</g>
<circle cx="455.9" cy="257.8" r="3.5" fill="#eab0b4"/>
<circle cx="462.9" cy="273.7" r="3.5" fill="#eab0b4"/>
<circle cx="469.5" cy="264.5" r="3.5" fill="#eab0b4"/>
<path d="M446.1 236.9 L446.5 236.3 L446.5 235.9 L446.1 235.8 L445.3 235.8 L444.6 235.8 L444.3 235.6 L444.5 235.1 L445 234.5 L445.3 234 L445.2 233.6 L444.6 233.6 L443.8 233.7 L443.2 233.6 L443.1 233.3 L443.4 232.8 L443.9 232.1 L444.1 231.7 L443.8 231.4 L443.1 231.4 L442.4 231.5 L441.9 231.4 L441.9 231 L442.3 230.4 L442.7 229.8" fill="none" stroke="#a36b6b" stroke-width="0.7"/>
<circle cx="440.5" cy="227.2" r="4.2" fill="#d9772a"/>
<path d="M483.9 240.3 L484.5 240.5 L484.9 240.5 L485 240.1 L484.7 239.6 L484.4 238.9 L484.3 238.4 L484.6 238.3 L485.1 238.3 L485.8 238.5 L486.4 238.6 L486.6 238.4 L486.5 238 L486.2 237.3 L486 236.7 L486 236.4 L486.4 236.4 L487.1 236.5 L487.7 236.7 L488.2 236.7 L488.2 236.3 L488 235.7 L487.7 235.1 L487.6 234.6 L487.8 234.4" fill="none" stroke="#a36b6b" stroke-width="0.7"/>
<circle cx="490.6" cy="232.4" r="4.2" fill="#f6e2a6" stroke="#c8b070" stroke-width="0.8"/>
<path d="M430 271.2 L429.6 270.6 L429.2 270.4 L429 270.7 L428.8 271.3 L428.6 272 L428.3 272.4 L428 272.3 L427.6 271.7 L427.2 271.1 L426.8 270.8 L426.6 271 L426.4 271.6 L426.2 272.3 L425.9 272.7 L425.6 272.7 L425.3 272.3 L424.8 271.7 L424.5 271.3 L424.2 271.3 L423.9 271.8 L423.8 272.5 L423.5 273.1 L423.3 273.2 L422.9 272.9" fill="none" stroke="#a36b6b" stroke-width="0.7"/>
<circle cx="419.5" cy="273" r="4.2" fill="#f6e2a6" stroke="#c8b070" stroke-width="0.8"/>
<path d="M493.5 276.9 L493.5 277.6 L493.7 277.9 L494.1 277.9 L494.5 277.4 L495 276.9 L495.4 276.7 L495.7 276.9 L495.8 277.4 L495.8 278.1 L496 278.7 L496.2 278.8 L496.7 278.5 L497.2 278 L497.6 277.6 L497.9 277.6 L498.1 278 L498.2 278.7 L498.2 279.4 L498.4 279.7 L498.8 279.5 L499.3 279.1 L499.8 278.6 L500.2 278.4 L500.4 278.6" fill="none" stroke="#a36b6b" stroke-width="0.7"/>
<circle cx="503.3" cy="280.5" r="4.2" fill="#d9772a"/>
<path d="M462.6 298.5 L462 298.8 L461.8 299.1 L462.1 299.5 L462.7 299.8 L463.4 300.1 L463.5 300.4 L463.2 300.8 L462.5 301.1 L461.9 301.4 L461.8 301.7 L462.2 302 L462.9 302.4 L463.5 302.7 L463.5 303 L463 303.3 L462.3 303.7 L461.8 304 L461.9 304.3 L462.4 304.6 L463.1 304.9 L463.6 305.3 L463.4 305.6 L462.9 305.9 L462.2 306.2" fill="none" stroke="#a36b6b" stroke-width="0.7"/>
<circle cx="462.7" cy="309.6" r="4.2" fill="#d9772a"/>
<circle cx="464.8" cy="264.4" r="7.9" fill="none" stroke="#111" stroke-width="1.1"/><text x="464.8" y="268.8" font-size="12.5" font-weight="bold" text-anchor="middle" fill="#111">4</text>
<circle cx="601" cy="264.5" r="32.6" fill="#ffffff"/>
<circle cx="601" cy="264.5" r="30" fill="none" stroke="#f3cdd0" stroke-width="4.4" stroke-dasharray="1.050 1.305"/>
<circle cx="601" cy="264.5" r="24.6" fill="none" stroke="#f3cdd0" stroke-width="4.4" stroke-dasharray="0.927 1.004"/>
<circle cx="601" cy="264.5" r="32.6" fill="none" stroke="#d0505a" stroke-width="1.7" stroke-linecap="round" stroke-dasharray="0 2.560"/>
<circle cx="601" cy="264.5" r="22" fill="none" stroke="#d0505a" stroke-width="1.5" stroke-linecap="round" stroke-dasharray="0 1.728"/>
<circle cx="601" cy="264.5" r="20.8" fill="#ece6f0"/>
<clipPath id="cc8"><circle cx="601" cy="264.5" r="20.8"/></clipPath>
<g clip-path="url(#cc8)" fill="none" stroke-width="0.6" opacity="1.0">
<ellipse cx="590.3" cy="275" rx="8" ry="3.9" transform="rotate(156.9 590.3 275)" stroke="#cbc3df"/>
<ellipse cx="586.7" cy="266.9" rx="7.6" ry="3.2" transform="rotate(101.7 586.7 266.9)" stroke="#d2cae3"/>
<ellipse cx="596.3" cy="261.6" rx="7.3" ry="6.1" transform="rotate(92.2 596.3 261.6)" stroke="#cbc3df"/>
<ellipse cx="595" cy="278.2" rx="6.7" ry="4.9" transform="rotate(94.4 595 278.2)" stroke="#cbc3df"/>
<ellipse cx="595.7" cy="253.6" rx="5.8" ry="4.4" transform="rotate(121.7 595.7 253.6)" stroke="#cbc3df"/>
<ellipse cx="597" cy="265.5" rx="6.7" ry="4.9" transform="rotate(22.9 597 265.5)" stroke="#d2cae3"/>
<ellipse cx="596.8" cy="263.4" rx="6.8" ry="5.9" transform="rotate(155.1 596.8 263.4)" stroke="#dcd4ea"/>
<ellipse cx="590.9" cy="268.8" rx="6.5" ry="4.8" transform="rotate(10.4 590.9 268.8)" stroke="#dcd4ea"/>
<ellipse cx="600.3" cy="267.8" rx="6" ry="6" transform="rotate(113.2 600.3 267.8)" stroke="#dcd4ea"/>
<ellipse cx="616" cy="266.2" rx="6.1" ry="5.2" transform="rotate(170.6 616 266.2)" stroke="#d2cae3"/>
<ellipse cx="606.3" cy="269.8" rx="5" ry="5.4" transform="rotate(24.3 606.3 269.8)" stroke="#d2cae3"/>
<ellipse cx="611.1" cy="255.5" rx="5.1" ry="5.4" transform="rotate(161.3 611.1 255.5)" stroke="#cbc3df"/>
<ellipse cx="591.6" cy="263.1" rx="5.8" ry="4.9" transform="rotate(84 591.6 263.1)" stroke="#dcd4ea"/>
<ellipse cx="592.2" cy="267.5" rx="8.7" ry="3.5" transform="rotate(136 592.2 267.5)" stroke="#dcd4ea"/>
<ellipse cx="599.9" cy="266.9" rx="8.6" ry="6" transform="rotate(164.4 599.9 266.9)" stroke="#cbc3df"/>
<ellipse cx="614.4" cy="265.9" rx="5.3" ry="3.5" transform="rotate(146 614.4 265.9)" stroke="#cbc3df"/>
<ellipse cx="601.9" cy="260.7" rx="7.9" ry="5.6" transform="rotate(5.9 601.9 260.7)" stroke="#d2cae3"/>
<ellipse cx="597.7" cy="261.7" rx="6" ry="6.5" transform="rotate(126.2 597.7 261.7)" stroke="#d2cae3"/>
<ellipse cx="595.7" cy="263" rx="8.6" ry="6.6" transform="rotate(16.7 595.7 263)" stroke="#cbc3df"/>
<ellipse cx="603.4" cy="275.8" rx="8.1" ry="6.3" transform="rotate(30.8 603.4 275.8)" stroke="#d2cae3"/>
<ellipse cx="599.5" cy="263.2" rx="7.4" ry="4.9" transform="rotate(41.4 599.5 263.2)" stroke="#d2cae3"/>
<ellipse cx="598.4" cy="251.8" rx="5.5" ry="4.8" transform="rotate(52.1 598.4 251.8)" stroke="#dcd4ea"/>
<ellipse cx="599.3" cy="272.5" rx="8.1" ry="4.1" transform="rotate(78.6 599.3 272.5)" stroke="#cbc3df"/>
<ellipse cx="595.7" cy="278.5" rx="4.5" ry="5.3" transform="rotate(25.8 595.7 278.5)" stroke="#dcd4ea"/>
<ellipse cx="608.1" cy="261.9" rx="6.2" ry="6" transform="rotate(8.9 608.1 261.9)" stroke="#dcd4ea"/>
<ellipse cx="595.2" cy="278.2" rx="7.7" ry="4.4" transform="rotate(12.6 595.2 278.2)" stroke="#d2cae3"/>
<ellipse cx="592.2" cy="252.1" rx="8" ry="4.5" transform="rotate(2.2 592.2 252.1)" stroke="#d2cae3"/>
<ellipse cx="594.7" cy="253" rx="8.3" ry="4.2" transform="rotate(162.5 594.7 253)" stroke="#d2cae3"/>
<ellipse cx="609.5" cy="268.9" rx="8.7" ry="3.5" transform="rotate(101.2 609.5 268.9)" stroke="#cbc3df"/>
<ellipse cx="613.9" cy="267.1" rx="7.6" ry="5.8" transform="rotate(10.4 613.9 267.1)" stroke="#d2cae3"/>
<ellipse cx="603.3" cy="257.9" rx="4.5" ry="6.5" transform="rotate(136.4 603.3 257.9)" stroke="#cbc3df"/>
<ellipse cx="611.5" cy="256.1" rx="7.5" ry="3.7" transform="rotate(125.3 611.5 256.1)" stroke="#cbc3df"/>
<ellipse cx="612.6" cy="274.8" rx="5.6" ry="6.4" transform="rotate(97.2 612.6 274.8)" stroke="#cbc3df"/>
<ellipse cx="602.3" cy="268.6" rx="5.9" ry="5.7" transform="rotate(11.9 602.3 268.6)" stroke="#cbc3df"/>
<ellipse cx="607.6" cy="261.2" rx="5" ry="5.9" transform="rotate(23.8 607.6 261.2)" stroke="#d2cae3"/>
<ellipse cx="598.1" cy="278.9" rx="7.3" ry="3.8" transform="rotate(176.4 598.1 278.9)" stroke="#dcd4ea"/>
<ellipse cx="594.1" cy="269.8" rx="5.7" ry="6.6" transform="rotate(29.1 594.1 269.8)" stroke="#d2cae3"/>
<ellipse cx="594.8" cy="276.9" rx="5.2" ry="3.9" transform="rotate(49 594.8 276.9)" stroke="#cbc3df"/>
<ellipse cx="607.7" cy="251.5" rx="6.2" ry="3.3" transform="rotate(169 607.7 251.5)" stroke="#dcd4ea"/>
<ellipse cx="591.8" cy="254.8" rx="6.5" ry="5.5" transform="rotate(20.7 591.8 254.8)" stroke="#dcd4ea"/>
<ellipse cx="600" cy="278.4" rx="4.8" ry="5.4" transform="rotate(3.9 600 278.4)" stroke="#dcd4ea"/>
<ellipse cx="592.2" cy="269.5" rx="8.7" ry="6.2" transform="rotate(11.4 592.2 269.5)" stroke="#dcd4ea"/>
<ellipse cx="593.2" cy="264.8" rx="6.7" ry="4.1" transform="rotate(159.8 593.2 264.8)" stroke="#dcd4ea"/>
<ellipse cx="610" cy="265" rx="4.5" ry="6.5" transform="rotate(0.9 610 265)" stroke="#d2cae3"/>
<ellipse cx="589" cy="265.7" rx="4.6" ry="5.4" transform="rotate(113 589 265.7)" stroke="#dcd4ea"/>
<ellipse cx="612.2" cy="263" rx="6.4" ry="4.6" transform="rotate(23.8 612.2 263)" stroke="#cbc3df"/>
<ellipse cx="595.5" cy="261.7" rx="7" ry="3.2" transform="rotate(2.9 595.5 261.7)" stroke="#dcd4ea"/>
<ellipse cx="611.6" cy="267.8" rx="7.5" ry="5.6" transform="rotate(162.5 611.6 267.8)" stroke="#d2cae3"/>
<ellipse cx="585.7" cy="267.1" rx="4.2" ry="4" transform="rotate(159.7 585.7 267.1)" stroke="#dcd4ea"/>
<ellipse cx="592.1" cy="262.5" rx="8" ry="6.6" transform="rotate(105.7 592.1 262.5)" stroke="#d2cae3"/>
<ellipse cx="589.2" cy="263.7" rx="8.7" ry="3.5" transform="rotate(40.4 589.2 263.7)" stroke="#cbc3df"/>
<ellipse cx="607" cy="254.8" rx="7.7" ry="5" transform="rotate(6.2 607 254.8)" stroke="#dcd4ea"/>
<ellipse cx="608.4" cy="273.8" rx="6.6" ry="4.1" transform="rotate(77.5 608.4 273.8)" stroke="#dcd4ea"/>
<ellipse cx="608.8" cy="271.6" rx="6.7" ry="5.7" transform="rotate(63.6 608.8 271.6)" stroke="#cbc3df"/>
<ellipse cx="601.8" cy="262.2" rx="8.2" ry="5.3" transform="rotate(169.1 601.8 262.2)" stroke="#d2cae3"/>
<ellipse cx="596.1" cy="271.2" rx="4.7" ry="6" transform="rotate(168.4 596.1 271.2)" stroke="#dcd4ea"/>
<ellipse cx="613.8" cy="262.8" rx="7.1" ry="5.5" transform="rotate(151.6 613.8 262.8)" stroke="#cbc3df"/>
<ellipse cx="602.9" cy="260.8" rx="7" ry="4.6" transform="rotate(88.1 602.9 260.8)" stroke="#cbc3df"/>
<ellipse cx="605.9" cy="278.4" rx="4.8" ry="3.2" transform="rotate(29.8 605.9 278.4)" stroke="#d2cae3"/>
<ellipse cx="591.5" cy="258" rx="6.7" ry="4.8" transform="rotate(66.7 591.5 258)" stroke="#d2cae3"/>
<ellipse cx="604.2" cy="264.4" rx="4.3" ry="4.7" transform="rotate(96.4 604.2 264.4)" stroke="#dcd4ea"/>
</g>
<circle cx="594.4" cy="256.8" r="3.5" fill="#eab0b4"/>
<circle cx="601.4" cy="272.7" r="3.5" fill="#eab0b4"/>
<circle cx="608" cy="263.5" r="3.5" fill="#eab0b4"/>
<path d="M581.4 238 L581.7 237.3 L581.7 236.9 L581.2 236.9 L580.5 237 L579.8 237.1 L579.5 236.9 L579.6 236.4 L580 235.7 L580.3 235.2 L580.1 234.9 L579.5 234.9 L578.7 235.1 L578.2 235.1 L578 234.8 L578.2 234.2 L578.6 233.5 L578.8 233 L578.5 232.8 L577.8 232.9 L577 233.1 L576.6 233 L576.6 232.6 L576.9 232 L577.2 231.3" fill="none" stroke="#a36b6b" stroke-width="0.7"/>
<circle cx="574.7" cy="229" r="4.2" fill="#3b73c4"/>
<path d="M622.4 239.3 L623 239.5 L623.4 239.5 L623.5 239.1 L623.2 238.6 L622.9 237.9 L622.8 237.4 L623.1 237.3 L623.6 237.3 L624.3 237.5 L624.9 237.6 L625.1 237.4 L625 237 L624.7 236.3 L624.5 235.7 L624.5 235.4 L624.9 235.4 L625.6 235.5 L626.2 235.7 L626.7 235.7 L626.7 235.3 L626.5 234.7 L626.2 234.1 L626.1 233.6 L626.3 233.4" fill="none" stroke="#a36b6b" stroke-width="0.7"/>
<circle cx="629.1" cy="231.4" r="4.2" fill="#c9d9ef" stroke="#9fb4d6" stroke-width="0.8"/>
<path d="M568.5 270.2 L568.1 269.6 L567.7 269.4 L567.5 269.7 L567.3 270.3 L567.1 271 L566.8 271.4 L566.5 271.3 L566.1 270.7 L565.7 270.1 L565.3 269.8 L565.1 270 L564.9 270.6 L564.7 271.3 L564.4 271.7 L564.1 271.7 L563.8 271.3 L563.3 270.7 L563 270.3 L562.7 270.3 L562.4 270.8 L562.3 271.5 L562 272.1 L561.8 272.2 L561.4 271.9" fill="none" stroke="#a36b6b" stroke-width="0.7"/>
<circle cx="558" cy="272" r="4.2" fill="#c9d9ef" stroke="#9fb4d6" stroke-width="0.8"/>
<path d="M632 275.9 L632 276.6 L632.2 276.9 L632.6 276.9 L633 276.4 L633.5 275.9 L633.9 275.7 L634.2 275.9 L634.3 276.4 L634.3 277.1 L634.5 277.7 L634.7 277.8 L635.2 277.5 L635.7 277 L636.1 276.6 L636.4 276.6 L636.6 277 L636.7 277.7 L636.7 278.4 L636.9 278.7 L637.3 278.5 L637.8 278.1 L638.3 277.6 L638.7 277.4 L638.9 277.6" fill="none" stroke="#a36b6b" stroke-width="0.7"/>
<circle cx="641.8" cy="279.5" r="4.2" fill="#3b73c4"/>
<path d="M601.1 297.5 L600.5 297.8 L600.3 298.1 L600.6 298.5 L601.2 298.8 L601.9 299.1 L602 299.4 L601.7 299.8 L601 300.1 L600.4 300.4 L600.3 300.7 L600.7 301 L601.4 301.4 L602 301.7 L602 302 L601.5 302.3 L600.8 302.7 L600.3 303 L600.4 303.3 L600.9 303.6 L601.6 303.9 L602.1 304.3 L601.9 304.6 L601.4 304.9 L600.7 305.2" fill="none" stroke="#a36b6b" stroke-width="0.7"/>
<circle cx="601.2" cy="308.6" r="4.2" fill="#3b73c4"/>
<circle cx="603.3" cy="263.4" r="7.9" fill="none" stroke="#111" stroke-width="1.1"/><text x="603.3" y="267.8" font-size="12.5" font-weight="bold" text-anchor="middle" fill="#111">5</text>
<circle cx="729.8" cy="265" r="32.6" fill="#ffffff"/>
<circle cx="729.8" cy="265" r="30" fill="none" stroke="#f3cdd0" stroke-width="4.4" stroke-dasharray="1.050 1.305"/>
<circle cx="729.8" cy="265" r="24.6" fill="none" stroke="#f3cdd0" stroke-width="4.4" stroke-dasharray="0.927 1.004"/>
<circle cx="729.8" cy="265" r="32.6" fill="none" stroke="#d0505a" stroke-width="1.7" stroke-linecap="round" stroke-dasharray="0 2.560"/>
<circle cx="729.8" cy="265" r="22" fill="none" stroke="#d0505a" stroke-width="1.5" stroke-linecap="round" stroke-dasharray="0 1.728"/>
<circle cx="729.8" cy="265" r="20.8" fill="#ece6f0"/>
<clipPath id="cc9"><circle cx="729.8" cy="265" r="20.8"/></clipPath>
<g clip-path="url(#cc9)" fill="none" stroke-width="0.6" opacity="1.0">
<ellipse cx="729.7" cy="258" rx="5.1" ry="5.2" transform="rotate(10.2 729.7 258)" stroke="#dcd4ea"/>
<ellipse cx="742.3" cy="268.3" rx="6.5" ry="5.4" transform="rotate(171.7 742.3 268.3)" stroke="#cbc3df"/>
<ellipse cx="717.7" cy="272.7" rx="7.8" ry="6.6" transform="rotate(5.2 717.7 272.7)" stroke="#d2cae3"/>
<ellipse cx="734.3" cy="270.7" rx="6.4" ry="5.8" transform="rotate(70 734.3 270.7)" stroke="#d2cae3"/>
<ellipse cx="731.1" cy="262.6" rx="8.6" ry="4.2" transform="rotate(97.8 731.1 262.6)" stroke="#d2cae3"/>
<ellipse cx="717.3" cy="264.3" rx="6.3" ry="5.4" transform="rotate(56.5 717.3 264.3)" stroke="#dcd4ea"/>
<ellipse cx="735.8" cy="256.8" rx="8" ry="3.8" transform="rotate(158.6 735.8 256.8)" stroke="#dcd4ea"/>
<ellipse cx="733.8" cy="276.7" rx="8.1" ry="5.3" transform="rotate(28.1 733.8 276.7)" stroke="#d2cae3"/>
<ellipse cx="740.1" cy="270.2" rx="7.4" ry="3.3" transform="rotate(73.2 740.1 270.2)" stroke="#dcd4ea"/>
<ellipse cx="717" cy="256.2" rx="8.3" ry="6.1" transform="rotate(58.8 717 256.2)" stroke="#dcd4ea"/>
<ellipse cx="733" cy="250.2" rx="7.4" ry="5.2" transform="rotate(7.3 733 250.2)" stroke="#d2cae3"/>
<ellipse cx="723.5" cy="252.6" rx="8.6" ry="5.5" transform="rotate(49.8 723.5 252.6)" stroke="#cbc3df"/>
<ellipse cx="732.2" cy="250.3" rx="7.4" ry="4.3" transform="rotate(84.5 732.2 250.3)" stroke="#dcd4ea"/>
<ellipse cx="726.1" cy="250.1" rx="4.9" ry="3.1" transform="rotate(20.1 726.1 250.1)" stroke="#cbc3df"/>
<ellipse cx="742" cy="260.6" rx="4.3" ry="3.8" transform="rotate(110 742 260.6)" stroke="#cbc3df"/>
<ellipse cx="740" cy="266.2" rx="5.5" ry="4.6" transform="rotate(11.5 740 266.2)" stroke="#d2cae3"/>
<ellipse cx="733" cy="262.6" rx="8.1" ry="6.2" transform="rotate(152 733 262.6)" stroke="#dcd4ea"/>
<ellipse cx="716.4" cy="261" rx="5.4" ry="6" transform="rotate(57.9 716.4 261)" stroke="#cbc3df"/>
<ellipse cx="720.4" cy="262.1" rx="4.6" ry="6.5" transform="rotate(79.1 720.4 262.1)" stroke="#dcd4ea"/>
<ellipse cx="731.2" cy="279.2" rx="6.4" ry="4.5" transform="rotate(112.2 731.2 279.2)" stroke="#dcd4ea"/>
<ellipse cx="726.3" cy="254.4" rx="7.1" ry="5.7" transform="rotate(167.1 726.3 254.4)" stroke="#d2cae3"/>
<ellipse cx="739.5" cy="266.5" rx="5.6" ry="3.8" transform="rotate(58.3 739.5 266.5)" stroke="#dcd4ea"/>
<ellipse cx="732" cy="275.8" rx="4.2" ry="6.4" transform="rotate(128.6 732 275.8)" stroke="#d2cae3"/>
<ellipse cx="736.9" cy="266" rx="4.6" ry="5.1" transform="rotate(24.2 736.9 266)" stroke="#cbc3df"/>
<ellipse cx="742.9" cy="262.7" rx="4.9" ry="3.7" transform="rotate(94.3 742.9 262.7)" stroke="#d2cae3"/>
<ellipse cx="740.1" cy="268.6" rx="4.7" ry="5.8" transform="rotate(37.1 740.1 268.6)" stroke="#d2cae3"/>
<ellipse cx="731.2" cy="276.5" rx="5.6" ry="4.6" transform="rotate(121.3 731.2 276.5)" stroke="#dcd4ea"/>
<ellipse cx="735.4" cy="253" rx="5.6" ry="4" transform="rotate(140.2 735.4 253)" stroke="#dcd4ea"/>
<ellipse cx="736.7" cy="260.2" rx="7.9" ry="6.1" transform="rotate(142 736.7 260.2)" stroke="#dcd4ea"/>
<ellipse cx="717.7" cy="273.3" rx="7.7" ry="6.6" transform="rotate(143.6 717.7 273.3)" stroke="#d2cae3"/>
<ellipse cx="723.7" cy="260.6" rx="5.2" ry="4" transform="rotate(128.6 723.7 260.6)" stroke="#cbc3df"/>
<ellipse cx="720.3" cy="257.5" rx="5.6" ry="3.9" transform="rotate(53.4 720.3 257.5)" stroke="#d2cae3"/>
<ellipse cx="730.6" cy="253.8" rx="8" ry="6.2" transform="rotate(133.9 730.6 253.8)" stroke="#cbc3df"/>
<ellipse cx="743.4" cy="264.9" rx="8.5" ry="6" transform="rotate(13 743.4 264.9)" stroke="#dcd4ea"/>
<ellipse cx="723.6" cy="251.1" rx="4.5" ry="5.6" transform="rotate(63.7 723.6 251.1)" stroke="#dcd4ea"/>
<ellipse cx="717.8" cy="274.2" rx="7.1" ry="3.8" transform="rotate(75.2 717.8 274.2)" stroke="#cbc3df"/>
<ellipse cx="729.5" cy="269.9" rx="7.9" ry="5.4" transform="rotate(66.4 729.5 269.9)" stroke="#dcd4ea"/>
<ellipse cx="730.8" cy="270.8" rx="4.7" ry="5.8" transform="rotate(39.6 730.8 270.8)" stroke="#cbc3df"/>
<ellipse cx="724.7" cy="257.3" rx="4.8" ry="4.9" transform="rotate(8.7 724.7 257.3)" stroke="#cbc3df"/>
<ellipse cx="719.6" cy="267.1" rx="5.5" ry="5.6" transform="rotate(80.1 719.6 267.1)" stroke="#dcd4ea"/>
<ellipse cx="723.6" cy="265.7" rx="5.4" ry="5.2" transform="rotate(102.6 723.6 265.7)" stroke="#cbc3df"/>
<ellipse cx="734.6" cy="252.2" rx="4.6" ry="5.9" transform="rotate(116.2 734.6 252.2)" stroke="#cbc3df"/>
<ellipse cx="724.6" cy="266.3" rx="7.8" ry="5.2" transform="rotate(79.3 724.6 266.3)" stroke="#dcd4ea"/>
<ellipse cx="721.6" cy="264.6" rx="7.3" ry="6.5" transform="rotate(112.5 721.6 264.6)" stroke="#d2cae3"/>
<ellipse cx="721.7" cy="262.3" rx="7.1" ry="3.4" transform="rotate(177.4 721.7 262.3)" stroke="#cbc3df"/>
<ellipse cx="743" cy="257.6" rx="4.8" ry="5.4" transform="rotate(170.7 743 257.6)" stroke="#cbc3df"/>
<ellipse cx="720" cy="276" rx="6.5" ry="5.1" transform="rotate(156.7 720 276)" stroke="#cbc3df"/>
<ellipse cx="738.2" cy="255.4" rx="7.2" ry="6.6" transform="rotate(137.1 738.2 255.4)" stroke="#cbc3df"/>
<ellipse cx="744" cy="267.5" rx="5.8" ry="5.7" transform="rotate(62.7 744 267.5)" stroke="#dcd4ea"/>
<ellipse cx="730.1" cy="270.8" rx="4.4" ry="5.7" transform="rotate(91.8 730.1 270.8)" stroke="#dcd4ea"/>
<ellipse cx="717.1" cy="260.4" rx="7.5" ry="3.2" transform="rotate(93.7 717.1 260.4)" stroke="#cbc3df"/>
<ellipse cx="723.7" cy="266.1" rx="4.8" ry="5" transform="rotate(145.9 723.7 266.1)" stroke="#dcd4ea"/>
<ellipse cx="727" cy="267.2" rx="5.6" ry="5.2" transform="rotate(88.8 727 267.2)" stroke="#dcd4ea"/>
<ellipse cx="726.7" cy="263" rx="5.4" ry="5.8" transform="rotate(44.2 726.7 263)" stroke="#d2cae3"/>
<ellipse cx="721.7" cy="273.5" rx="8.3" ry="5" transform="rotate(111.8 721.7 273.5)" stroke="#d2cae3"/>
<ellipse cx="720.4" cy="276.2" rx="7.7" ry="4.3" transform="rotate(70.2 720.4 276.2)" stroke="#dcd4ea"/>
<ellipse cx="727.3" cy="274.8" rx="6.1" ry="6.4" transform="rotate(89.9 727.3 274.8)" stroke="#dcd4ea"/>
<ellipse cx="720.3" cy="254.7" rx="6.6" ry="6.4" transform="rotate(50.5 720.3 254.7)" stroke="#dcd4ea"/>
<ellipse cx="716.9" cy="266" rx="7.2" ry="5.2" transform="rotate(164.6 716.9 266)" stroke="#dcd4ea"/>
<ellipse cx="737.8" cy="264.2" rx="7.2" ry="6.2" transform="rotate(42.4 737.8 264.2)" stroke="#d2cae3"/>
<ellipse cx="722.9" cy="266" rx="4.5" ry="4.4" transform="rotate(27.8 722.9 266)" stroke="#d2cae3"/>
</g>
<circle cx="723.2" cy="257.3" r="3.5" fill="#eab0b4"/>
<circle cx="730.2" cy="273.2" r="3.5" fill="#eab0b4"/>
<circle cx="736.8" cy="264" r="3.5" fill="#eab0b4"/>
<path d="M713.4 236.4 L713.8 235.8 L713.8 235.4 L713.4 235.3 L712.6 235.3 L711.9 235.3 L711.6 235.1 L711.8 234.6 L712.3 234 L712.6 233.5 L712.5 233.1 L711.9 233.1 L711.1 233.2 L710.5 233.1 L710.4 232.8 L710.7 232.3 L711.2 231.6 L711.4 231.2 L711.1 230.9 L710.4 230.9 L709.7 231 L709.2 230.9 L709.2 230.5 L709.6 229.9 L710 229.3" fill="none" stroke="#a36b6b" stroke-width="0.7"/>
<circle cx="707.8" cy="226.7" r="4.2" fill="#3c9e3c"/>
<path d="M751.2 239.8 L751.8 240 L752.2 240 L752.3 239.6 L752 239.1 L751.7 238.4 L751.6 237.9 L751.9 237.8 L752.4 237.8 L753.1 238 L753.7 238.1 L753.9 237.9 L753.8 237.5 L753.5 236.8 L753.3 236.2 L753.3 235.9 L753.7 235.9 L754.4 236 L755 236.2 L755.5 236.2 L755.5 235.8 L755.3 235.2 L755 234.6 L754.9 234.1 L755.1 233.9" fill="none" stroke="#a36b6b" stroke-width="0.7"/>
<circle cx="757.9" cy="231.9" r="4.2" fill="#3c9e3c"/>
<path d="M697.3 270.7 L696.9 270.1 L696.5 269.9 L696.3 270.2 L696.1 270.8 L695.9 271.5 L695.6 271.9 L695.3 271.8 L694.9 271.2 L694.5 270.6 L694.1 270.3 L693.9 270.5 L693.7 271.1 L693.5 271.8 L693.2 272.2 L692.9 272.2 L692.6 271.8 L692.1 271.2 L691.8 270.8 L691.5 270.8 L691.2 271.3 L691.1 272 L690.8 272.6 L690.6 272.7 L690.2 272.4" fill="none" stroke="#a36b6b" stroke-width="0.7"/>
<circle cx="686.8" cy="272.5" r="4.2" fill="#3c9e3c"/>
<path d="M759.4 279.6 L759.4 280.3 L759.6 280.7 L760 280.6 L760.5 280.1 L761.1 279.7 L761.5 279.6 L761.7 280 L761.6 280.7 L761.7 281.4 L761.8 281.8 L762.3 281.6 L762.8 281.2 L763.4 280.8 L763.8 280.7 L763.9 281.1 L763.9 281.9 L763.9 282.6 L764.1 282.9 L764.5 282.7 L765.1 282.3 L765.7 281.9 L766 281.8 L766.1 282.3 L766.1 283" fill="none" stroke="#a36b6b" stroke-width="0.7"/>
<circle cx="769.2" cy="284.4" r="4.2" fill="#3c9e3c"/>
<path d="M729.9 298 L729.3 298.3 L729.1 298.6 L729.4 299 L730 299.3 L730.7 299.6 L730.8 299.9 L730.5 300.3 L729.8 300.6 L729.2 300.9 L729.1 301.2 L729.5 301.5 L730.2 301.9 L730.8 302.2 L730.8 302.5 L730.3 302.8 L729.6 303.2 L729.1 303.5 L729.2 303.8 L729.7 304.1 L730.4 304.4 L730.9 304.8 L730.7 305.1 L730.2 305.4 L729.5 305.7" fill="none" stroke="#a36b6b" stroke-width="0.7"/>
<circle cx="730" cy="309.1" r="4.2" fill="#3c9e3c"/>
<circle cx="732.1" cy="263.9" r="7.9" fill="none" stroke="#111" stroke-width="1.1"/><text x="732.1" y="268.3" font-size="12.5" font-weight="bold" text-anchor="middle" fill="#111">6</text>
<text x="87.4" y="214.5" font-size="8.5" font-weight="bold" fill="#2a7fb5" text-anchor="start">D</text>
<text x="93.7" y="220.5" font-size="16" font-weight="bold" fill="#2a7fb5" text-anchor="start" textLength="29.1" lengthAdjust="spacingAndGlyphs">CDX</text>
<text x="231" y="220.5" font-size="16" font-weight="bold" fill="#9460c8" text-anchor="middle" textLength="28.7" lengthAdjust="spacingAndGlyphs">RGD</text>
<text x="348.1" y="220.5" font-size="16" font-weight="bold" fill="#c9393f" text-anchor="middle" textLength="79.7" lengthAdjust="spacingAndGlyphs">Angiopep-2</text>
<text x="441.6" y="214.5" font-size="8.5" font-weight="bold" fill="#d9772a" text-anchor="start">D</text>
<text x="447.5" y="220.5" font-size="16" font-weight="bold" fill="#d9772a" text-anchor="start" textLength="35.4" lengthAdjust="spacingAndGlyphs">WSW</text>
<text x="600.9" y="220.5" font-size="16" font-weight="bold" fill="#3b73c4" text-anchor="middle" textLength="47" lengthAdjust="spacingAndGlyphs">RVG29</text>
<text x="730.1" y="220.5" font-size="16" font-weight="bold" fill="#7fc47a" text-anchor="middle" textLength="40.4" lengthAdjust="spacingAndGlyphs">TfR-A</text>
<text x="402.4" y="291.9" font-size="14.6" font-weight="bold" fill="#f2ae3a" text-anchor="start" textLength="27.5" lengthAdjust="spacingAndGlyphs">NGR</text>
<text x="545.2" y="291.9" font-size="14.6" font-weight="bold" fill="#92b2e0" text-anchor="start" textLength="26" lengthAdjust="spacingAndGlyphs">TPP</text>
<path d="M106.9 317.9 C111.9 317.9 115.9 319.4 117.9 322.9 C120.4 326.9 120.4 331.9 118.9 335.9 C117.4 338.9 116.2 340.9 116.2 343.9 L115.9 351.3 C115.9 354.3 112.9 355.3 106.9 355.3 C100.9 355.3 97.9 354.3 97.9 351.3 L97.6 343.9 C97.6 340.9 96.4 338.9 94.9 335.9 C93.4 331.9 93.4 326.9 95.9 322.9 C97.9 319.4 101.9 317.9 106.9 317.9 Z" fill="#36a5b5"/><path d="M103.4 320.4 C98.9 326.9 99.9 337.9 102.4 353.3 M110.4 320.4 C114.9 326.9 113.9 337.9 111.4 353.3" stroke="#2b93a2" stroke-width="0.7" fill="none"/><path d="M106.9 322.9 L106.9 349.3" stroke="#2c95a4" stroke-width="1.2" fill="none"/><path d="M100.9 320.3 Q106.9 317.5 112.9 320.3 Q106.9 319.3 100.9 320.3 Z" fill="#1b6a75"/><path d="M104.4 354.3 L106.9 351.3 L109.4 354.3" stroke="#5cbccb" stroke-width="0.8" fill="none"/>
<path d="M601.6 316.2 C606.6 316.2 610.6 317.7 612.6 321.2 C615.1 325.2 615.1 330.2 613.6 334.2 C612.1 337.2 610.9 339.2 610.9 342.2 L610.6 350 C610.6 353 607.6 354 601.6 354 C595.6 354 592.6 353 592.6 350 L592.3 342.2 C592.3 339.2 591.1 337.2 589.6 334.2 C588.1 330.2 588.1 325.2 590.6 321.2 C592.6 317.7 596.6 316.2 601.6 316.2 Z" fill="#36a5b5"/><path d="M598.1 318.7 C593.6 325.2 594.6 336.2 597.1 352 M605.1 318.7 C609.6 325.2 608.6 336.2 606.1 352" stroke="#2b93a2" stroke-width="0.7" fill="none"/><path d="M601.6 321.2 L601.6 348" stroke="#2c95a4" stroke-width="1.2" fill="none"/><path d="M595.6 318.6 Q601.6 315.8 607.6 318.6 Q601.6 317.6 595.6 318.6 Z" fill="#1b6a75"/><path d="M599.1 353 L601.6 350 L604.1 353" stroke="#5cbccb" stroke-width="0.8" fill="none"/>
<line x1="227.4" y1="344" x2="227.4" y2="361.5" stroke="#3a2a50" stroke-width="1.3"/><line x1="231.1" y1="344" x2="231.1" y2="358" stroke="#4a3a66" stroke-width="1.3"/>
<ellipse cx="229" cy="320.5" rx="3.2" ry="4.3" fill="#6a3a8e"/>
<circle cx="227.6" cy="327.5" r="2.5" fill="#6d3f92"/>
<circle cx="227.4" cy="332.5" r="2.5" fill="#6d3f92"/>
<circle cx="227.4" cy="337.5" r="2.5" fill="#6d3f92"/>
<circle cx="227.3" cy="342.5" r="2.5" fill="#6d3f92"/>
<circle cx="234" cy="316" r="2.5" fill="#8a68ad"/>
<circle cx="235.2" cy="321" r="2.5" fill="#8a68ad"/>
<circle cx="234.2" cy="327" r="2.5" fill="#8a68ad"/>
<circle cx="233" cy="332.5" r="2.5" fill="#8a68ad"/>
<circle cx="231.6" cy="338.5" r="2.5" fill="#8a68ad"/>
<circle cx="231.2" cy="344" r="2.5" fill="#8a68ad"/>
<circle cx="234" cy="316" r="2.6" fill="#5e3182"/>
<text x="240" y="344" font-size="16" font-weight="bold" fill="#a283bb" text-anchor="start" textLength="33.8" lengthAdjust="spacingAndGlyphs">αvβ3</text>
<line x1="345.7" y1="317" x2="345.7" y2="358.4" stroke="#5a68b6" stroke-width="1.3"/>
<path d="M343.6 318.2 L347.8 319.8" stroke="#c84a62" stroke-width="1" fill="none"/>
<path d="M343.6 320.2 L347.8 321.8" stroke="#c84a62" stroke-width="1" fill="none"/>
<path d="M343.6 327.7 L347.8 329.3" stroke="#c84a62" stroke-width="1" fill="none"/>
<path d="M343.6 330.0 L347.8 331.6" stroke="#c84a62" stroke-width="1" fill="none"/>
<path d="M343.6 332.2 L347.8 333.8" stroke="#c84a62" stroke-width="1" fill="none"/>
<path d="M343.6 340.2 L347.8 341.8" stroke="#c84a62" stroke-width="1" fill="none"/>
<path d="M343.6 348.5 L347.8 350.1" stroke="#c84a62" stroke-width="1" fill="none"/>
<text x="352.4" y="343.6" font-size="16" font-weight="bold" fill="#c0525a" text-anchor="start" textLength="41.2" lengthAdjust="spacingAndGlyphs">LRP-1</text>
<line x1="462.5" y1="320" x2="462.5" y2="348.2" stroke="#383a70" stroke-width="1.7"/>
<path d="M454 310.5 A8.9 8.9 0 0 0 471.6 310.5" fill="none" stroke="#9b6b3a" stroke-width="5.3" stroke-linecap="round"/>
<path d="M454 310.5 A8.9 8.9 0 0 0 471.6 310.5" fill="none" stroke="#f0dab0" stroke-width="3.7" stroke-linecap="round"/>
<text x="496.5" y="326" font-size="16" font-weight="bold" fill="#e0892e" text-anchor="middle" textLength="19" lengthAdjust="spacingAndGlyphs">QS</text>
<text x="469.3" y="343.6" font-size="16" font-weight="bold" fill="#e0892e" text-anchor="start" textLength="57.4" lengthAdjust="spacingAndGlyphs">receptor</text>
<path d="M727.5 314 C725 311 721 310.5 718.5 312 C717.5 314 718.5 316 717.8 317.5 C718.5 319.5 721 320.8 724 320.6 C726.5 320 728 318 727.5 314 Z" fill="#6aab4a"/>
<path d="M733.5 314 C736 311 740 310.5 742.5 312 C743.5 314 742.5 316 743.2 317.5 C742.5 319.5 740 320.8 737 320.6 C734.5 320 733 318 733.5 314 Z" fill="#6aab4a"/>
<path d="M728.5 321 C725 319 719.5 319 718.6 322.5 C717.8 326 720 329.8 724.5 329.8 C727.5 329.6 729 326 728.5 321 Z" fill="#3fa640"/>
<path d="M732.5 321 C736 319 741.5 319 742.4 322.5 C743.2 326 741 329.8 736.5 329.8 C733.5 329.6 732 326 732.5 321 Z" fill="#3fa640"/>
<rect x="728.7" y="315.8" width="3.8" height="14" rx="1.4" fill="#1f7a4a"/>
<line x1="729.6" y1="328" x2="729.6" y2="353.5" stroke="#1a6a40" stroke-width="1.2"/><line x1="732" y1="328" x2="732" y2="353.5" stroke="#5a9a7a" stroke-width="1.2"/>
<text x="742" y="343.8" font-size="16" font-weight="bold" fill="#5a9a4a" text-anchor="start" textLength="23.8" lengthAdjust="spacingAndGlyphs">TfR</text>
<text x="121.8" y="344" font-size="16" font-weight="bold" fill="#3aa7b5" text-anchor="start" textLength="54.6" lengthAdjust="spacingAndGlyphs">nAChRs</text>
<text x="617.5" y="325.3" font-size="16" font-weight="bold" fill="#3aa7b5" text-anchor="start" textLength="53.9" lengthAdjust="spacingAndGlyphs">nAChRs</text>
<text x="621.3" y="343.8" font-size="16" font-weight="bold" fill="#3aa7b5" text-anchor="start" textLength="46.3" lengthAdjust="spacingAndGlyphs">/GABA</text>
<text x="48" y="337.5" font-size="16" font-weight="bold" fill="#c0393b" text-anchor="start" textLength="38" lengthAdjust="spacingAndGlyphs">Blood</text>
<text x="49.5" y="402" font-size="16" font-weight="bold" fill="#3a78c0" text-anchor="start" textLength="35.2" lengthAdjust="spacingAndGlyphs">Brain</text>
<g opacity="1.0">
<path d="M305.4 487 C305.5 487.9 305.5 487.6 305.4 488.5 C305.3 489.4 305.3 489.1 305.1 490 C305 490.9 305.1 490.6 304.9 491.5 C304.7 492.4 305 492.1 304.4 492.9 C303.8 493.7 303.8 493.4 303 494 C302.1 494.7 302.1 494.3 301.5 495 C300.9 495.7 301.1 495.4 301 496.3 C301 497.2 301.3 497 301.3 498 C301.3 498.9 301.4 498.7 301 499.4 C300.6 500.2 300.5 499.8 299.8 500.4 C299.2 501 299.3 500.7 298.7 501.3 C298.2 502 298.4 501.8 298 502.5 C297.6 503.3 297.8 503.1 297.3 503.8 C296.8 504.4 296.9 504.2 296.2 504.7 C295.6 505.3 295.8 505.1 295.2 505.7 C294.7 506.4 295 506.3 294.3 506.9 C293.6 507.4 293.9 507.3 293 507.5 C292.1 507.7 292.3 507.4 291.3 507.4 C290.3 507.4 290.5 507.1 289.8 507.4 C289 507.8 289.4 507.7 288.8 508.6 C288.3 509.4 288.6 509.4 288 510.1 C287.4 510.9 287.6 510.7 286.8 511 C286 511.3 286.2 511 285.3 511.1 C284.5 511.1 284.7 511.1 283.9 511.3 C283.1 511.5 283.4 511.5 282.6 511.7 C281.7 512 282 511.7 281.1 511.9 C280.3 512.2 280.6 512 279.7 512.5 C278.9 513.1 279.1 513.4 278.2 513.7 C277.3 514.1 277.6 514.2 276.7 513.7 C275.9 513.2 276.1 513.1 275.4 512.1 C274.7 511 275 511 274.3 510.2 C273.6 509.4 273.9 509.6 273.1 509.5 C272.3 509.3 272.5 509.6 271.6 509.8 C270.6 510.1 270.8 510.3 269.9 510.3 C269 510.3 269.3 510.2 268.6 509.8 C267.8 509.4 268.2 509.4 267.5 508.9 C266.8 508.4 267.1 508.4 266.3 508.1 C265.4 507.8 265.7 508 264.7 508 C263.6 507.9 263.7 508.3 262.8 508 C261.9 507.7 262.1 507.9 261.6 507.1 C261.1 506.3 261.6 506.2 261.2 505.3 C260.8 504.5 261.2 504.5 260.2 504.2 C259.3 503.9 259.1 504.4 257.9 504.3 C256.7 504.1 256.5 504.5 256.2 503.6 C255.8 502.7 256.4 502.6 256.7 501.4 C256.9 500.1 257.2 500.3 257.1 499.4 C257 498.4 256.7 498.9 256.2 498.2 C255.7 497.5 255.8 497.7 255.4 497 C255.1 496.2 255.3 496.4 255 495.6 C254.6 494.8 254.6 495.1 254.3 494.2 C254 493.4 254.1 493.7 254 492.8 C253.9 491.9 254.1 492.2 254 491.3 C253.9 490.5 254 490.8 253.7 489.9 C253.4 489.1 253.2 489.4 252.8 488.5 C252.5 487.6 252.3 487.9 252.4 487 C252.5 486.1 252.6 486.4 253.1 485.5 C253.6 484.7 253.7 485 254 484.1 C254.2 483.3 254.2 483.6 253.8 482.6 C253.4 481.7 253.4 482 252.5 480.8 C251.6 479.7 251.4 479.9 251 478.8 C250.5 477.6 250.3 477.8 250.9 477 C251.5 476.1 251.8 476.6 252.9 476 C254 475.4 253.8 475.6 254.7 475 C255.6 474.4 255.1 474.5 255.9 473.9 C256.7 473.3 256.7 473.7 257.3 473 C257.9 472.4 257.7 472.7 257.9 471.6 C258 470.6 257.7 470.8 257.7 469.6 C257.6 468.3 257.2 468.3 257.8 467.5 C258.3 466.7 258.2 466.9 259.5 467 C260.9 467 260.9 467.5 262.2 467.7 C263.5 467.8 263.1 467.8 263.9 467.4 C264.6 467 264.2 466.8 264.8 466.2 C265.4 465.6 265.2 465.7 265.9 465.3 C266.7 465 266.5 465.2 267.4 464.9 C268.2 464.7 267.9 464.7 268.7 464.5 C269.6 464.4 269.3 464.3 270.2 464.4 C271.1 464.5 270.9 464.6 271.8 464.8 C272.7 465.1 272.5 465.4 273.3 465.2 C274 464.9 273.7 464.9 274.3 464 C275 463 274.7 462.6 275.4 462 C276.2 461.5 276 461.8 276.9 462.2 C277.7 462.6 277.5 463.2 278.3 463.3 C279.2 463.4 278.8 463.1 279.7 462.5 C280.6 461.8 280.3 461.6 281.2 461.2 C282.1 460.9 281.8 461.3 282.7 461.3 C283.6 461.3 283.3 461.1 284.2 461.2 C285.1 461.4 284.8 461.3 285.6 461.8 C286.4 462.3 286.1 462.4 286.8 462.9 C287.6 463.4 287.4 463 288.1 463.5 C288.9 464 288.5 464.1 289.2 464.6 C290 465.1 289.5 465.2 290.5 465.1 C291.5 465.1 291.5 464.6 292.6 464.4 C293.7 464.3 293.5 464.1 294.3 464.6 C295.1 465.1 294.8 465 295.2 466 C295.5 467 295.2 467 295.5 467.9 C295.9 468.8 295.6 468.6 296.4 469.1 C297.1 469.6 297.1 469.2 298 469.5 C299 469.9 298.8 469.7 299.5 470.2 C300.3 470.7 300 470.6 300.6 471.3 C301.3 471.9 301.1 471.7 301.7 472.4 C302.3 473.1 302.3 472.8 302.6 473.7 C302.9 474.5 302.8 474.3 302.8 475.3 C302.8 476.3 302.5 476.1 302.6 477 C302.6 478 302.5 477.7 303 478.4 C303.5 479.2 303.6 478.8 304.3 479.6 C305 480.3 305 480 305.3 480.9 C305.6 481.8 305.4 481.5 305.2 482.5 C305 483.4 304.9 483.1 304.8 484 C304.7 485 304.8 484.6 305 485.5 C305.2 486.4 305.3 486.1 305.4 487 Z" fill="#ead6d9" stroke="#ddc3c7" stroke-width="0.8" stroke-linejoin="round"/>
<circle cx="273.5" cy="467.5" r="0.5" fill="#e3c9cc"/>
<circle cx="295.7" cy="481.6" r="0.5" fill="#e3c9cc"/>
<circle cx="285.1" cy="507.8" r="0.5" fill="#e3c9cc"/>
<circle cx="293.5" cy="478.7" r="0.5" fill="#e3c9cc"/>
<circle cx="262.9" cy="491" r="0.5" fill="#e3c9cc"/>
<circle cx="259.9" cy="492.2" r="0.5" fill="#e3c9cc"/>
<circle cx="276.3" cy="469.2" r="0.5" fill="#e3c9cc"/>
<circle cx="264.6" cy="479.1" r="0.5" fill="#e3c9cc"/>
<circle cx="287.1" cy="496" r="0.5" fill="#e3c9cc"/>
<circle cx="288.2" cy="505.3" r="0.5" fill="#e3c9cc"/>
<circle cx="285.1" cy="499.9" r="0.5" fill="#e3c9cc"/>
<circle cx="271.3" cy="499.5" r="0.5" fill="#e3c9cc"/>
<circle cx="274.6" cy="505.4" r="0.5" fill="#e3c9cc"/>
<circle cx="288" cy="503.3" r="0.5" fill="#e3c9cc"/>
<circle cx="297" cy="486.1" r="0.5" fill="#e3c9cc"/>
<circle cx="280.3" cy="494" r="0.5" fill="#e3c9cc"/>
<circle cx="281.4" cy="471.6" r="0.5" fill="#e3c9cc"/>
<circle cx="265.2" cy="485.8" r="0.5" fill="#e3c9cc"/>
<circle cx="269.8" cy="470.2" r="0.5" fill="#e3c9cc"/>
<circle cx="269.4" cy="487.5" r="0.5" fill="#e3c9cc"/>
<circle cx="279.9" cy="465.4" r="0.5" fill="#e3c9cc"/>
<circle cx="289.4" cy="485.4" r="0.5" fill="#e3c9cc"/>
<circle cx="295.8" cy="500.7" r="0.5" fill="#e3c9cc"/>
<circle cx="287.9" cy="472" r="0.5" fill="#e3c9cc"/>
<circle cx="267.7" cy="482.7" r="0.5" fill="#e3c9cc"/>
<path d="M286.6 488.7 C286.3 490.9 284.9 490.5 283.7 492.6 C282.4 494.7 283.4 494.6 282 496.7 C280.5 498.7 280.6 499.8 278.3 500.3 C276 500.9 275.7 499.7 273.3 498.7 C271 497.6 271.3 497.9 269.4 496.5 C267.4 495.1 267.1 495.4 266 493.3 C264.8 491.3 265.2 491.3 265 488.7 C264.8 486.1 264.2 486 265.2 483.7 C266.2 481.4 266.4 481 268.7 480.1 C271 479.2 271.2 480.8 273.7 480.3 C276.2 479.9 275.6 478.5 278 478.4 C280.3 478.3 280.8 478.3 282.6 479.9 C284.5 481.4 283.8 481.9 284.9 484.2 C286 486.6 287 486.5 286.6 488.7 Z" fill="#dcc4c8"/>
</g>
<g opacity="1.0">
<path d="M341.9 420 C341.6 420.7 341.5 420.4 341.1 421.1 C340.8 421.7 340.9 421.5 340.7 422.1 C340.5 422.8 340.7 422.6 340.6 423.2 C340.5 423.9 340.5 423.6 340.4 424.3 C340.2 424.9 340.2 424.7 340.1 425.3 C340 426 340.1 425.8 340.1 426.5 C340.1 427.1 340.2 427 340 427.6 C339.8 428.2 339.9 428.1 339.4 428.6 C339 429.1 339 428.8 338.5 429.3 C338 429.8 338 429.5 337.8 430.2 C337.6 430.8 338 430.8 337.8 431.5 C337.7 432.2 338 432.3 337.3 432.5 C336.7 432.8 336.6 432.5 335.6 432.5 C334.6 432.4 334.7 432.2 334 432.3 C333.3 432.5 333.7 432.6 333.2 433 C332.8 433.4 333 433.3 332.6 433.7 C332.1 434.1 332.2 433.9 331.8 434.3 C331.3 434.7 331.5 434.5 331.1 435.1 C330.7 435.6 330.9 435.6 330.5 436.2 C330.2 436.8 330.4 436.8 329.8 437 C329.2 437.3 329.3 437.1 328.6 437 C327.9 436.9 328.1 436.7 327.4 436.7 C326.8 436.7 327 436.5 326.5 437 C326 437.6 326.2 437.7 325.8 438.5 C325.3 439.3 325.5 439.5 324.8 439.7 C324.2 439.9 324.3 439.5 323.6 439.2 C323 438.9 323.2 438.7 322.5 438.7 C321.9 438.6 322.1 438.8 321.5 439 C320.8 439.1 321 439.1 320.4 439.2 C319.7 439.2 319.9 439.1 319.2 439.2 C318.6 439.3 318.8 439.2 318 439.5 C317.3 439.8 317.5 439.9 316.7 440.1 C315.9 440.3 316.3 440 315.4 440.2 C314.6 440.3 314.9 440.4 314 440.5 C313.2 440.6 313.2 441 312.6 440.5 C312 440 312.4 439.8 312.1 438.9 C311.7 437.9 311.9 438.1 311.5 437.4 C311 436.8 311 437.3 310.5 436.8 C309.9 436.4 310.2 436.5 309.7 436 C309.1 435.5 309.3 435.7 308.8 435.3 C308.2 434.9 308.3 435.1 307.8 434.6 C307.4 434.1 307.6 434.2 307.2 433.6 C306.8 433 307 433.1 306.6 432.6 C306.1 432.1 306.2 432.3 305.6 431.9 C305 431.5 305 431.8 304.6 431.2 C304.1 430.7 304.2 430.9 304.2 430.1 C304.2 429.3 304.4 429.4 304.6 428.5 C304.8 427.7 304.9 427.9 304.9 427.2 C304.9 426.5 304.8 426.8 304.5 426.2 C304.2 425.7 304.2 425.9 304 425.3 C303.7 424.7 303.8 424.9 303.8 424.2 C303.7 423.6 303.8 423.8 303.7 423.2 C303.6 422.5 303.5 422.8 303.5 422.1 C303.4 421.5 303.3 421.7 303.4 421.1 C303.5 420.4 303.6 420.6 303.7 420 C303.9 419.4 304 419.6 303.9 419 C303.8 418.3 303.7 418.5 303.5 417.9 C303.3 417.2 303.1 417.4 303.2 416.7 C303.3 416.1 303.2 416.3 303.8 415.8 C304.3 415.2 304.4 415.5 304.9 415 C305.5 414.5 305.4 414.7 305.6 414.2 C305.9 413.6 305.7 413.8 305.7 413.1 C305.8 412.5 305.7 412.7 305.8 412 C305.9 411.4 306.1 411.8 306.2 411.1 C306.2 410.4 306.1 410.6 306 409.7 C305.8 408.8 305.5 408.8 305.6 408.1 C305.8 407.4 305.8 407.6 306.5 407.3 C307.2 407 307.4 407.6 307.9 407 C308.3 406.5 308.1 406.7 308 405.5 C307.8 404.4 307.3 404.1 307.5 403.2 C307.7 402.4 307.6 402.5 308.6 402.7 C309.7 402.8 309.7 403.2 310.9 403.7 C312.1 404.2 311.7 404.3 312.5 404.3 C313.3 404.4 313 404.3 313.5 404 C314.1 403.6 313.8 403.6 314.3 403.2 C314.8 402.7 314.6 402.9 315.2 402.5 C315.7 402.2 315.6 402.4 316.2 402 C316.7 401.7 316.5 401.7 317.1 401.4 C317.7 401 317.5 401 318.1 400.8 C318.8 400.7 318.6 400.8 319.3 401 C319.9 401.1 319.7 401.3 320.4 401.4 C321.1 401.4 320.8 401.4 321.5 401.2 C322.1 401 321.9 400.8 322.6 400.6 C323.2 400.4 323 400.3 323.7 400.5 C324.3 400.8 324.1 400.8 324.7 401.3 C325.3 401.8 325 401.8 325.6 402.2 C326.2 402.5 326 402.3 326.6 402.4 C327.3 402.5 327 402.6 327.7 402.4 C328.5 402.2 328.1 402.5 329.1 401.8 C330.1 401.1 329.9 400.8 331.1 400.1 C332.2 399.4 332.3 399 332.9 399.4 C333.5 399.9 333.1 400.2 333.1 401.6 C333.1 403 332.8 403 332.9 404 C333.1 405.1 333 404.6 333.5 405 C334 405.5 333.9 405.3 334.6 405.5 C335.3 405.7 335.2 405.4 335.9 405.7 C336.5 406.1 336.3 405.9 336.7 406.5 C337 407.1 336.8 407.1 337 407.8 C337.2 408.5 337 408.3 337.4 408.8 C337.7 409.4 337.5 409.3 338.1 409.6 C338.8 410 338.7 409.8 339.6 410 C340.6 410.3 340.6 410.1 341.2 410.6 C341.8 411.1 341.4 411 341.7 411.7 C342 412.4 341.6 412.2 342.1 412.8 C342.5 413.5 342.5 413.2 343.3 413.8 C344 414.3 344.3 414 344.6 414.8 C344.8 415.5 344.7 415.3 344.2 416.2 C343.6 417 343.3 416.8 342.7 417.6 C342.1 418.4 342.4 418.1 342.1 418.8 C341.9 419.6 342.2 419.3 341.9 420 Z" fill="#e8d4d8" stroke="#dcc4c8" stroke-width="0.8" stroke-linejoin="round"/>
<circle cx="329" cy="405.8" r="0.5" fill="#e3c9cc"/>
<circle cx="325.5" cy="428.5" r="0.5" fill="#e3c9cc"/>
<circle cx="315.3" cy="420.9" r="0.5" fill="#e3c9cc"/>
<circle cx="334.1" cy="427.9" r="0.5" fill="#e3c9cc"/>
<circle cx="314.8" cy="432.5" r="0.5" fill="#e3c9cc"/>
<circle cx="332.1" cy="415.3" r="0.5" fill="#e3c9cc"/>
<circle cx="322" cy="416.2" r="0.5" fill="#e3c9cc"/>
<circle cx="324.8" cy="414.4" r="0.5" fill="#e3c9cc"/>
<circle cx="327.7" cy="409.8" r="0.5" fill="#e3c9cc"/>
<circle cx="335.1" cy="415.6" r="0.5" fill="#e3c9cc"/>
<circle cx="316.1" cy="420.7" r="0.5" fill="#e3c9cc"/>
<circle cx="336" cy="425.2" r="0.5" fill="#e3c9cc"/>
<circle cx="315.1" cy="416.9" r="0.5" fill="#e3c9cc"/>
<circle cx="320.2" cy="433.1" r="0.5" fill="#e3c9cc"/>
<circle cx="309.7" cy="420.5" r="0.5" fill="#e3c9cc"/>
<circle cx="307.3" cy="415.1" r="0.5" fill="#e3c9cc"/>
<circle cx="337.3" cy="422.8" r="0.5" fill="#e3c9cc"/>
<circle cx="311.8" cy="407.1" r="0.5" fill="#e3c9cc"/>
<circle cx="323.5" cy="422.7" r="0.5" fill="#e3c9cc"/>
</g>
<g opacity="0.95">
<path d="M337.1 455 C337.4 455.7 337.6 455.5 337.8 456.1 C338 456.8 337.7 456.6 337.8 457.3 C337.8 458 337.7 457.7 338 458.5 C338.3 459.2 338.6 459.1 338.8 459.8 C338.9 460.6 338.9 460.4 338.6 461.1 C338.3 461.7 338.3 461.5 337.7 462 C337.1 462.6 337.2 462.4 336.6 462.9 C336.1 463.4 336.1 463.1 335.8 463.8 C335.5 464.4 335.8 464.2 335.6 464.9 C335.4 465.6 335.6 465.5 335.3 466.1 C334.9 466.7 335 466.5 334.5 467 C333.9 467.4 334 467.2 333.5 467.6 C332.9 468.1 333.1 468 332.6 468.4 C332.1 468.9 332.3 468.8 331.8 469.2 C331.2 469.6 331.2 469.2 330.8 469.8 C330.4 470.3 330.4 470 330.4 471 C330.3 472.1 330.6 472.1 330.5 473.3 C330.4 474.5 330.7 474.6 330 474.9 C329.3 475.2 329.4 475 328.2 474.4 C327.1 473.8 327.2 473.5 326.2 472.9 C325.1 472.3 325.5 472.4 324.8 472.5 C324.1 472.5 324.4 472.7 323.8 473 C323.3 473.3 323.5 473.3 322.8 473.4 C322.2 473.4 322.4 473.3 321.7 473.3 C321 473.2 321.3 473.2 320.6 473.2 C320 473.3 320.2 473.4 319.6 473.4 C318.9 473.4 319.1 473.4 318.5 473.3 C317.9 473.2 318.1 472.8 317.5 473 C316.8 473.3 317.1 473.3 316.4 474.1 C315.6 474.9 315.8 475.4 315 475.7 C314.3 476 314.5 475.9 313.9 475.2 C313.3 474.6 313.6 474.4 313.1 473.5 C312.7 472.6 312.9 472.7 312.4 472.2 C311.9 471.7 312.1 471.9 311.5 471.7 C310.9 471.6 311 471.8 310.4 471.6 C309.8 471.5 310.1 471.4 309.4 471.3 C308.7 471.3 308.9 471.3 308.1 471.5 C307.2 471.6 307.2 472 306.6 471.7 C306 471.4 306.2 471.4 306 470.6 C305.8 469.8 306 469.8 305.8 469.1 C305.6 468.4 305.7 468.6 305.2 468.2 C304.7 467.7 305 467.9 304.1 467.7 C303.3 467.6 303.7 467.6 302.5 467.7 C301.3 467.7 301.4 468 300.2 467.9 C299 467.9 298.8 468.2 298.4 467.6 C298 466.9 298.3 467 298.9 465.8 C299.6 464.6 299.9 464.7 300.5 463.6 C301.1 462.5 300.9 462.9 300.9 462.2 C300.9 461.5 300.8 461.8 300.6 461.2 C300.3 460.6 300.5 460.8 300.2 460.2 C299.9 459.6 299.9 459.9 299.7 459.3 C299.4 458.7 299.4 458.9 299.4 458.2 C299.4 457.6 299.5 457.8 299.6 457.1 C299.7 456.5 299.8 456.7 299.7 456 C299.6 455.4 299.7 455.7 299.1 455 C298.5 454.3 298.3 454.6 297.8 453.8 C297.2 453.1 297 453.3 297.2 452.6 C297.4 451.9 297.8 452.2 298.4 451.6 C299.1 451 299.1 451.3 299.4 450.7 C299.7 450.1 299.3 450.2 299.5 449.6 C299.8 449 299.8 449.2 300.2 448.7 C300.6 448.1 300.7 448.4 301 447.8 C301.2 447.2 301 447.4 301.1 446.7 C301.1 446 301 446.1 301.1 445.5 C301.3 444.8 301.2 445 301.7 444.5 C302.1 444 302.1 444.3 302.6 443.8 C303.1 443.3 303 443.6 303.2 442.9 C303.5 442.3 303.2 442.4 303.4 441.6 C303.5 440.8 303.3 440.9 303.7 440.3 C304.1 439.7 304 439.9 304.7 439.7 C305.4 439.5 305.4 439.8 306.1 439.5 C306.7 439.2 306.6 439.5 306.9 438.8 C307.3 438.1 306.9 438 307.3 437.2 C307.6 436.3 307.3 436.3 308 436 C308.6 435.7 308.6 436.2 309.4 436.2 C310.2 436.3 310 436.4 310.7 436.1 C311.3 435.9 311 435.6 311.6 435.3 C312.2 435 312.1 435.1 312.8 435.2 C313.5 435.3 313.3 435.5 314.1 435.5 C314.8 435.6 314.5 435.6 315.2 435.4 C315.8 435.1 315.6 435 316.3 434.7 C316.9 434.4 316.7 434.3 317.4 434.4 C318.1 434.6 317.9 434.6 318.6 435.1 C319.2 435.5 319 435.6 319.6 436 C320.3 436.3 320.1 436.2 320.7 436.4 C321.3 436.6 321.1 436.5 321.7 436.7 C322.3 436.9 322.1 436.9 322.7 437.1 C323.3 437.3 323.1 437.3 323.7 437.4 C324.4 437.4 324.2 437.2 324.9 437.3 C325.6 437.4 325.4 437.2 326 437.6 C326.5 438 326.3 438 326.6 438.6 C327 439.3 326.8 439.3 327.2 439.8 C327.6 440.3 327.4 440.1 328 440.3 C328.6 440.6 328.6 440.3 329.1 440.6 C329.7 440.8 329.6 440.7 329.9 441.3 C330.2 441.8 330 441.8 330.2 442.4 C330.5 443 330.2 443 330.8 443.3 C331.4 443.6 331.4 443.2 332.2 443.4 C332.9 443.6 333 443.3 333.3 443.9 C333.6 444.5 333.1 444.6 333.1 445.3 C333.1 446.1 332.9 445.9 333.3 446.4 C333.7 446.9 333.7 446.6 334.5 446.9 C335.2 447.2 335.2 447 335.9 447.5 C336.5 447.9 336.5 447.7 336.6 448.4 C336.6 449.1 336.2 449 336.1 449.7 C335.9 450.4 335.8 450.2 336 450.8 C336.1 451.4 336.3 451.2 336.6 451.8 C336.9 452.4 336.8 452.2 336.9 452.8 C336.9 453.5 336.6 453.3 336.7 453.9 C336.7 454.6 336.8 454.3 337.1 455 Z" fill="#f1c1c4" stroke="#e3a7ab" stroke-width="0.8" stroke-linejoin="round"/>
<circle cx="328.4" cy="453.5" r="0.5" fill="#e8aab0"/>
<circle cx="328" cy="468.1" r="0.5" fill="#e8aab0"/>
<circle cx="321.9" cy="442.4" r="0.5" fill="#e8aab0"/>
<circle cx="328.8" cy="447.4" r="0.5" fill="#e8aab0"/>
<circle cx="332.4" cy="457.4" r="0.5" fill="#e8aab0"/>
<circle cx="305.6" cy="445.7" r="0.5" fill="#e8aab0"/>
<circle cx="318.4" cy="471.5" r="0.5" fill="#e8aab0"/>
<circle cx="316.5" cy="446.1" r="0.5" fill="#e8aab0"/>
<circle cx="315.1" cy="454.1" r="0.5" fill="#e8aab0"/>
<circle cx="313.2" cy="468.7" r="0.5" fill="#e8aab0"/>
<circle cx="313.8" cy="463.6" r="0.5" fill="#e8aab0"/>
<circle cx="332.7" cy="448.7" r="0.5" fill="#e8aab0"/>
<circle cx="313.3" cy="445" r="0.5" fill="#e8aab0"/>
<circle cx="324.9" cy="440.4" r="0.5" fill="#e8aab0"/>
<circle cx="323" cy="458.1" r="0.5" fill="#e8aab0"/>
<circle cx="324.5" cy="457.9" r="0.5" fill="#e8aab0"/>
<circle cx="308.9" cy="459" r="0.5" fill="#e8aab0"/>
<circle cx="323.4" cy="469.5" r="0.5" fill="#e8aab0"/>
<circle cx="320.7" cy="469.6" r="0.5" fill="#e8aab0"/>
<path d="M321.7 454.4 C322 456.6 322.7 457.1 321.6 458.8 C320.5 460.5 319.4 459.6 317.5 460.7 C315.6 461.8 316.3 461.9 314.4 462.7 C312.5 463.5 312.5 463.9 310.4 463.6 C308.3 463.4 308.2 463.2 306.6 461.8 C305 460.4 305 460.3 304.3 458.4 C303.6 456.4 303.6 456.4 303.9 454.4 C304.1 452.4 304.5 453 305.1 450.8 C305.7 448.7 304.7 447.9 306.1 446.4 C307.5 444.8 308.1 444.8 310.3 444.9 C312.5 444.9 312.2 445.8 314.3 446.5 C316.4 447.2 316.3 446.4 318 447.5 C319.8 448.5 319.8 448.6 320.7 450.4 C321.7 452.3 321.5 452.2 321.7 454.4 Z" fill="#dca2a7"/>
</g>
<g opacity="0.7">
<path d="M310.1 378 C310 378.5 309.9 378.3 309.6 378.8 C309.3 379.3 309.2 379.1 309.2 379.6 C309.1 380.1 309.2 379.9 309.4 380.5 C309.6 381 309.6 380.9 309.8 381.4 C309.9 382 309.9 381.8 309.8 382.3 C309.7 382.9 309.9 382.8 309.5 383.2 C309.2 383.6 309 383.4 308.6 383.7 C308.2 384.1 308.1 383.8 308.2 384.5 C308.3 385.1 308.7 385.1 309 385.9 C309.4 386.7 309.7 386.8 309.4 387.2 C309 387.7 308.8 387.4 307.9 387.4 C307 387.4 307 387.2 306.4 387.3 C305.8 387.5 306 387.4 305.8 387.9 C305.6 388.4 305.8 388.4 305.7 389 C305.6 389.7 305.9 389.7 305.5 390.1 C305.2 390.5 305.1 390.2 304.6 390.4 C304 390.6 304.2 390.4 303.8 390.8 C303.4 391.2 303.7 391.3 303.3 391.7 C302.9 392.1 303 392 302.4 392.1 C301.8 392.1 301.9 391.8 301.3 391.8 C300.7 391.8 300.9 391.8 300.5 392.1 C300.1 392.5 300.3 392.7 299.9 393 C299.4 393.4 299.6 393.3 299 393.3 C298.5 393.3 298.6 393.2 298 392.9 C297.4 392.7 297.6 392.5 297.1 392.6 C296.6 392.7 296.8 392.7 296.3 393.3 C295.8 393.9 296 394.1 295.5 394.5 C294.9 394.9 295.1 394.8 294.5 394.7 C294 394.7 294.1 394.7 293.6 394.3 C293.1 394 293.2 394 292.8 393.6 C292.3 393.2 292.4 393.3 292 393 C291.5 392.6 291.7 392.7 291.2 392.5 C290.7 392.2 290.9 392.2 290.4 392.1 C289.9 392.1 290 392.2 289.4 392.3 C288.8 392.4 288.9 392.6 288.4 392.5 C287.8 392.4 288 392.5 287.6 392 C287.2 391.6 287.4 391.6 287.1 391.1 C286.8 390.6 286.9 390.7 286.5 390.4 C286.1 390 286.2 390.2 285.8 389.9 C285.4 389.6 285.5 389.7 285.1 389.4 C284.7 389.1 284.9 389.2 284.4 388.9 C283.9 388.6 284.1 388.7 283.6 388.5 C283 388.3 283.2 388.4 282.7 388.1 C282.1 387.8 282.3 387.9 281.8 387.6 C281.3 387.2 281.4 387.4 281.1 386.9 C280.9 386.4 281.1 386.5 280.9 386 C280.6 385.5 280.7 385.7 280.2 385.3 C279.8 384.8 279.6 385.1 279.4 384.6 C279.1 384.1 279.1 384.2 279.4 383.6 C279.6 382.9 279.8 383 280.1 382.4 C280.5 381.7 280.4 381.9 280.5 381.4 C280.5 380.8 280.4 381 280.4 380.5 C280.4 380 280.4 380.2 280.4 379.7 C280.4 379.2 280.5 379.3 280.3 378.8 C280.2 378.3 280.3 378.5 280 378 C279.6 377.5 279.5 377.6 279.1 377.1 C278.8 376.5 278.6 376.7 278.8 376.1 C279.1 375.6 279.3 375.8 279.9 375.4 C280.6 375 280.6 375.2 280.9 374.7 C281.2 374.3 280.9 374.4 281 373.9 C281.1 373.4 280.9 373.5 281.2 373.1 C281.4 372.6 281.5 372.8 281.9 372.5 C282.4 372.1 282.3 372.3 282.7 371.9 C283.1 371.6 282.9 371.7 283.2 371.3 C283.5 371 283.4 371.1 283.6 370.7 C283.9 370.3 283.9 370.5 284.1 370.1 C284.4 369.7 284.3 369.9 284.4 369.3 C284.5 368.8 284.3 368.9 284.5 368.3 C284.6 367.8 284.5 368 284.8 367.5 C285.1 367.1 285.1 367.3 285.3 366.8 C285.5 366.3 285.4 366.4 285.6 365.8 C285.8 365.2 285.6 365.2 285.9 364.7 C286.2 364.2 286 364.2 286.6 364 C287.1 363.9 287.1 364.1 287.8 364.3 C288.5 364.5 288.3 364.6 288.9 364.7 C289.5 364.7 289.3 364.6 289.7 364.4 C290.2 364.2 290 364.3 290.5 364 C290.9 363.8 290.8 364.1 291.2 363.7 C291.7 363.2 291.5 363.3 291.9 362.6 C292.3 361.8 292.1 361.6 292.6 361.1 C293.1 360.6 292.9 360.8 293.5 360.9 C294.1 361 293.9 361.1 294.5 361.4 C295.1 361.7 294.9 361.7 295.5 361.9 C296 362.2 295.8 362.3 296.3 362.3 C296.9 362.4 296.7 362.3 297.3 362.2 C297.8 362 297.7 361.9 298.3 361.9 C298.8 362 298.6 362 299.1 362.2 C299.7 362.5 299.5 362.5 299.9 362.8 C300.4 363.1 300.3 363 300.8 363.2 C301.3 363.4 301.1 363.3 301.6 363.6 C302 363.9 301.8 363.9 302.3 364.2 C302.7 364.5 302.5 364.5 303 364.7 C303.6 364.8 303.4 364.7 304.1 364.8 C304.7 364.8 304.6 364.6 305.1 364.9 C305.6 365.2 305.4 365.1 305.7 365.7 C305.9 366.3 305.7 366.2 305.8 366.9 C305.9 367.5 305.8 367.4 306.1 367.8 C306.4 368.3 306.4 368 306.7 368.4 C307.1 368.8 307 368.6 307.3 369.1 C307.5 369.5 307.4 369.4 307.5 370 C307.6 370.5 307.5 370.3 307.7 370.8 C307.8 371.3 307.9 371.1 308 371.6 C308.2 372.1 308.1 371.9 308.2 372.4 C308.3 372.9 308.1 372.8 308.2 373.3 C308.3 373.8 308.2 373.6 308.5 374 C308.9 374.4 308.9 374.3 309.3 374.7 C309.7 375.1 309.7 374.9 309.9 375.4 C310.1 375.9 309.9 375.8 310 376.3 C310.1 376.8 310.1 376.6 310.2 377.1 C310.2 377.7 310.3 377.5 310.1 378 Z" fill="#f3c3c6" stroke="#e3a7ab" stroke-width="0.8" stroke-linejoin="round"/>
<circle cx="298.6" cy="377.8" r="0.5" fill="#e8aab0"/>
<circle cx="294.2" cy="390.2" r="0.5" fill="#e8aab0"/>
<circle cx="302.9" cy="371.9" r="0.5" fill="#e8aab0"/>
<circle cx="285.1" cy="371.1" r="0.5" fill="#e8aab0"/>
<circle cx="307.3" cy="376.1" r="0.5" fill="#e8aab0"/>
<circle cx="298.6" cy="369.3" r="0.5" fill="#e8aab0"/>
<circle cx="290.7" cy="387.8" r="0.5" fill="#e8aab0"/>
<circle cx="304.4" cy="371.2" r="0.5" fill="#e8aab0"/>
<circle cx="301" cy="367.8" r="0.5" fill="#e8aab0"/>
<circle cx="285.6" cy="383.1" r="0.5" fill="#e8aab0"/>
<circle cx="285.3" cy="373.6" r="0.5" fill="#e8aab0"/>
<circle cx="295" cy="384.1" r="0.5" fill="#e8aab0"/>
<circle cx="288.1" cy="387.9" r="0.5" fill="#e8aab0"/>
<circle cx="292.7" cy="385.6" r="0.5" fill="#e8aab0"/>
<circle cx="303.4" cy="376.9" r="0.5" fill="#e8aab0"/>
</g>
<g opacity="0.9">
<path d="M251.9 384 C251.6 384.9 251.6 384.6 250.9 385.5 C250.2 386.3 250.3 386 249.6 386.8 C249 387.6 248.9 387.3 248.7 388.1 C248.5 388.9 248.6 388.6 248.9 389.6 C249.1 390.5 249.5 390.3 249.5 391.2 C249.6 392.1 249.6 391.9 249.1 392.6 C248.7 393.4 248.5 393 248 393.7 C247.4 394.4 247.4 394.1 247.2 394.9 C246.9 395.7 247.2 395.5 247.1 396.5 C246.9 397.4 247.1 397.2 246.7 398 C246.3 398.7 246.4 398.4 245.6 399 C244.9 399.5 245.1 399.3 244.3 399.8 C243.6 400.3 243.9 400.2 243.2 400.7 C242.5 401.2 242.7 401.1 241.9 401.4 C241.2 401.8 241.3 401.5 240.6 402 C239.8 402.4 240 402.1 239.5 402.8 C239 403.6 239.4 403.5 238.9 404.4 C238.5 405.3 238.8 405.2 238.1 405.8 C237.5 406.3 237.6 406.1 236.7 406.2 C235.8 406.2 235.9 405.9 235 406 C234.1 406.1 234.5 406 233.7 406.4 C233 406.8 233.3 406.8 232.6 407.3 C231.8 407.7 232.1 407.5 231.3 407.8 C230.5 408.1 230.7 408 229.9 408.3 C229.1 408.6 229.4 408.7 228.6 408.8 C227.7 408.8 228 408.8 227.1 408.5 C226.2 408.1 226.5 408 225.7 407.6 C224.8 407.1 225.2 406.7 224.3 407 C223.5 407.3 223.9 407.3 222.9 408.5 C221.9 409.7 222.1 410.4 221.1 411.1 C220.1 411.8 220.3 411.7 219.5 411 C218.8 410.2 219.1 409.8 218.5 408.6 C218 407.3 218.3 407.5 217.6 406.8 C216.9 406.1 217.1 406.5 216.3 406.4 C215.5 406.2 215.7 406.4 214.9 406.2 C214.1 405.9 214.3 406 213.6 405.5 C213 405.1 213.2 405.1 212.6 404.6 C211.9 404.1 212.1 404.3 211.5 403.8 C210.8 403.3 211 403.5 210.4 402.9 C209.9 402.3 210.2 402.3 209.6 401.8 C208.9 401.3 209.2 401.5 208.2 401.3 C207.2 401.1 207.2 401.4 206.4 401.1 C205.5 400.8 205.7 400.9 205.3 400.1 C204.8 399.4 205 399.5 204.9 398.6 C204.7 397.7 204.8 397.9 204.8 397 C204.7 396 204.9 396.3 204.7 395.4 C204.5 394.6 204.5 395 204.1 394.3 C203.8 393.5 203.8 393.8 203.5 393.1 C203.3 392.3 203.4 392.5 203.3 391.7 C203.2 390.9 203.3 391.2 203.1 390.4 C202.9 389.7 202.9 389.9 202.7 389.2 C202.5 388.4 202.5 388.7 202.6 387.9 C202.7 387.1 202.9 387.3 203.1 386.5 C203.2 385.7 203.5 386 203.1 385.3 C202.7 384.5 202.8 384.8 201.7 384 C200.5 383.2 200.1 383.4 199.3 382.5 C198.4 381.6 198.3 381.8 198.8 381 C199.3 380.2 199.8 380.5 201 379.9 C202.2 379.2 202.2 379.5 202.7 378.8 C203.3 378.1 202.7 378.3 202.9 377.5 C203 376.7 203.1 377 203.2 376.2 C203.3 375.4 203.3 375.7 203.2 374.8 C203 373.8 202.8 374 202.6 373 C202.5 372 202.4 372.2 202.5 371.3 C202.7 370.4 202.6 370.7 203.2 370 C203.7 369.3 203.6 369.5 204.4 369 C205.2 368.5 205.2 369 205.8 368.3 C206.5 367.7 206.2 367.9 206.4 367 C206.7 366 206.3 366 206.7 365.2 C207.1 364.3 207 364.6 207.8 364.2 C208.7 363.8 208.5 364.1 209.4 363.8 C210.3 363.4 210 363.6 210.7 363.1 C211.4 362.6 211.1 362.7 211.9 362.2 C212.6 361.8 212.4 362 213.2 361.6 C214 361.2 213.8 361.5 214.5 361 C215.2 360.5 214.9 360.6 215.7 360 C216.4 359.5 216.1 359.5 216.9 359.2 C217.7 358.8 217.5 359 218.4 358.8 C219.3 358.7 219 358.8 219.9 358.6 C220.7 358.4 220.4 358.4 221.3 358.1 C222.1 357.8 221.8 357.8 222.7 357.6 C223.6 357.5 223.3 357.4 224.2 357.6 C225.1 357.8 224.9 357.8 225.7 358.3 C226.6 358.8 226.3 358.8 227.1 359.3 C227.9 359.9 227.7 359.6 228.4 360 C229.2 360.4 229 360.2 229.7 360.7 C230.5 361.1 230.2 361.1 230.9 361.5 C231.6 361.9 231.4 361.8 232.2 362 C232.9 362.2 232.7 361.9 233.5 362 C234.4 362.2 234.2 362 234.8 362.5 C235.5 363 235.2 363 235.7 363.7 C236.2 364.5 235.9 364.5 236.4 365 C237 365.5 236.8 365.3 237.7 365.5 C238.5 365.6 238.4 365.3 239.2 365.6 C240 365.8 239.8 365.7 240.3 366.3 C240.8 367 240.2 367.2 240.8 367.7 C241.4 368.2 241.2 368 242.4 368.1 C243.5 368.1 243.6 367.7 244.7 367.9 C245.7 368.2 245.4 368.1 245.7 368.9 C246.1 369.7 245.8 369.6 245.8 370.6 C245.7 371.7 245.5 371.5 245.6 372.4 C245.7 373.3 245.7 372.9 246 373.7 C246.2 374.5 246.3 374.1 246.4 374.9 C246.6 375.7 246.4 375.5 246.4 376.4 C246.5 377.2 246.2 376.9 246.6 377.6 C247 378.4 247 378.1 247.7 378.7 C248.5 379.4 248.3 379.1 249.2 379.8 C250.1 380.5 249.9 380.2 250.7 381 C251.5 381.8 251.5 381.6 251.9 382.5 C252.2 383.3 252.2 383.1 251.9 384 Z" fill="#f5a8ab" stroke="#e0868c" stroke-width="0.8" stroke-linejoin="round"/>
<circle cx="230.9" cy="403.4" r="0.5" fill="#e5828a"/>
<circle cx="211.4" cy="397.6" r="0.5" fill="#e5828a"/>
<circle cx="223.6" cy="384.5" r="0.5" fill="#e5828a"/>
<circle cx="207.1" cy="389.6" r="0.5" fill="#e5828a"/>
<circle cx="209.8" cy="391.6" r="0.5" fill="#e5828a"/>
<circle cx="221" cy="381.7" r="0.5" fill="#e5828a"/>
<circle cx="226.2" cy="369.9" r="0.5" fill="#e5828a"/>
<circle cx="226.8" cy="379.1" r="0.5" fill="#e5828a"/>
<circle cx="213.2" cy="394.1" r="0.5" fill="#e5828a"/>
<circle cx="221.7" cy="369.9" r="0.5" fill="#e5828a"/>
<circle cx="216.1" cy="377.8" r="0.5" fill="#e5828a"/>
<circle cx="219.9" cy="401.6" r="0.5" fill="#e5828a"/>
<circle cx="214.1" cy="398.6" r="0.5" fill="#e5828a"/>
<circle cx="237.4" cy="393.8" r="0.5" fill="#e5828a"/>
<circle cx="220.9" cy="384.4" r="0.5" fill="#e5828a"/>
<circle cx="206.6" cy="382.3" r="0.5" fill="#e5828a"/>
<circle cx="227.3" cy="379.6" r="0.5" fill="#e5828a"/>
<circle cx="218" cy="398.1" r="0.5" fill="#e5828a"/>
<circle cx="219.7" cy="388.3" r="0.5" fill="#e5828a"/>
<circle cx="229.5" cy="398.4" r="0.5" fill="#e5828a"/>
<circle cx="241.9" cy="380.8" r="0.5" fill="#e5828a"/>
<circle cx="223.4" cy="365.7" r="0.5" fill="#e5828a"/>
<circle cx="230.4" cy="372.4" r="0.5" fill="#e5828a"/>
<circle cx="235.3" cy="383.3" r="0.5" fill="#e5828a"/>
<path d="M234.8 387.7 C234.1 390.3 233.8 389.5 232.8 391.8 C231.8 394.2 232.9 394.8 231.3 396.6 C229.7 398.4 229.3 398 226.7 398.7 C224.1 399.3 224.1 399.6 221.6 399 C219.1 398.4 218.8 398.3 217.3 396.4 C215.8 394.4 216.9 394 215.9 391.7 C214.8 389.4 214.1 390.2 213.3 387.7 C212.5 385.2 212 384.6 213 382.3 C214.1 380 214.9 380.4 217.2 379 C219.6 377.6 219.3 377.5 221.8 377.1 C224.2 376.7 224.1 377 226.5 377.6 C228.9 378.2 228.5 378.1 230.9 379.3 C233.3 380.6 234.4 380 235.5 382.3 C236.6 384.5 235.6 385.1 234.8 387.7 Z" fill="#d8858a"/>
</g>
<g opacity="0.9">
<path d="M290.9 394 C291.2 394.9 291.3 394.6 291.9 395.5 C292.4 396.4 292.3 396.1 292.6 397.1 C292.9 398 292.7 397.7 292.8 398.6 C292.9 399.6 293.1 399.3 292.9 400.3 C292.8 401.2 293 401 292.5 401.8 C291.9 402.6 291.9 402.3 291.1 403 C290.3 403.6 290.3 403.3 289.8 404 C289.2 404.8 289.4 404.5 289.3 405.5 C289.2 406.4 289.4 406.2 289.5 407.3 C289.5 408.3 289.7 408.1 289.4 409 C289 409.9 289 409.6 288.2 410.1 C287.4 410.7 287.4 410.3 286.6 410.9 C285.8 411.4 286.1 411.2 285.6 412 C285.1 412.7 285.4 412.7 284.9 413.5 C284.4 414.3 284.7 414.1 283.9 414.6 C283.1 415.2 283.3 414.9 282.3 415.2 C281.4 415.4 281.7 415.3 280.7 415.6 C279.8 415.8 280.2 415.8 279.3 416 C278.3 416.1 278.6 416.1 277.7 416.1 C276.7 416.1 276.9 415.9 276.1 416 C275.2 416.2 275.5 416.1 274.8 416.6 C274.1 417.2 274.5 417.3 273.8 417.9 C273.1 418.5 273.3 418.4 272.5 418.7 C271.7 419 271.9 418.7 271 418.9 C270.2 419 270.5 419.1 269.6 419.2 C268.8 419.3 269 419.4 268.2 419.2 C267.3 419.1 267.6 419.1 266.7 418.7 C265.8 418.3 266.1 418.4 265.3 418 C264.5 417.6 264.8 417.7 264 417.4 C263.2 417.1 263.5 417.2 262.7 417 C261.9 416.7 262.2 416.7 261.4 416.5 C260.7 416.3 261 416.2 260.1 416.3 C259.3 416.4 259.5 416.5 258.6 416.8 C257.6 417.1 257.8 417.3 256.9 417.3 C256 417.3 256.3 417.2 255.6 416.8 C254.9 416.3 255.2 416.3 254.5 415.8 C253.8 415.3 254.2 415.3 253.3 415.1 C252.5 414.8 252.7 415 251.7 414.9 C250.7 414.8 250.8 415.2 250.1 414.7 C249.3 414.2 249.7 414.1 249.3 413.2 C249 412.3 249.3 412.4 248.9 411.6 C248.5 410.8 248.7 411.1 247.9 410.6 C247.2 410.1 247.4 410.3 246.4 410 C245.4 409.7 245.3 410.1 244.5 409.6 C243.8 409 244.2 409.1 243.9 408.2 C243.5 407.4 244 407.5 243.3 406.8 C242.5 406.2 242.3 406.7 241.4 406.1 C240.5 405.5 240.5 405.8 240.2 404.9 C240 404 240.3 404.2 240.5 403.1 C240.7 402 240.8 402.3 241 401.4 C241.1 400.4 241.1 400.7 241 399.8 C240.8 398.9 240.7 399.3 240.5 398.4 C240.2 397.6 240.2 397.8 240.2 397 C240.1 396.1 240.3 396.4 240.3 395.5 C240.3 394.6 240.3 394.9 240.3 394 C240.3 393.1 240.1 393.4 240.2 392.5 C240.3 391.7 240.4 391.9 240.7 391.1 C240.9 390.2 241.1 390.6 241 389.7 C240.9 388.8 240.7 389 240.4 388 C240 387 239.9 387.3 239.9 386.3 C239.8 385.4 239.8 385.6 240.4 384.9 C240.9 384.1 240.8 384.4 241.7 383.7 C242.5 383.1 242.3 383.4 243.1 382.7 C243.8 382.1 243.6 382.3 244.1 381.6 C244.6 380.9 244.3 381.1 244.8 380.4 C245.3 379.7 245.2 379.9 245.8 379.3 C246.4 378.7 246.5 379.1 246.8 378.3 C247.2 377.5 246.9 377.7 246.9 376.5 C247 375.4 246.5 375.2 247 374.5 C247.5 373.7 247.5 374 248.6 374 C249.8 373.9 249.8 374.5 250.9 374.4 C251.9 374.3 251.6 374.4 252.1 373.7 C252.6 372.9 252.2 372.8 252.6 371.8 C253.1 370.9 252.8 371 253.6 370.5 C254.4 370 254.3 370.4 255.2 370.2 C256 370 255.8 370.3 256.6 369.8 C257.4 369.3 257 369.1 257.7 368.5 C258.5 368 258.2 367.9 259.2 368 C260.1 368.1 259.9 368.5 260.9 369 C261.9 369.4 261.6 370 262.5 369.4 C263.3 368.9 262.9 368.5 263.7 367.2 C264.5 366 264.3 365.6 265.2 365.3 C266.1 365 265.9 365.5 266.8 366.2 C267.7 366.8 267.4 366.9 268.3 367.5 C269.1 368.2 268.8 368.1 269.7 368.4 C270.5 368.7 270.3 368.4 271.2 368.6 C272 368.7 271.8 368.4 272.6 368.8 C273.4 369.3 273.1 369.3 273.8 370 C274.5 370.7 274.2 370.6 274.9 371.2 C275.6 371.8 275.3 371.7 276 372 C276.8 372.4 276.6 372.2 277.4 372.5 C278.2 372.7 278 372.5 278.7 373 C279.4 373.4 279.1 373.4 279.7 374 C280.3 374.5 280.2 374.3 280.8 374.8 C281.4 375.3 281.4 375 281.8 375.8 C282.2 376.5 281.9 376.4 282.3 377.2 C282.6 378.1 282.3 377.9 282.9 378.5 C283.5 379 283.4 378.7 284.3 379 C285.2 379.3 285.2 379 285.9 379.5 C286.6 380.1 286.4 379.9 286.7 380.7 C287 381.5 286.7 381.3 286.9 382.2 C287.1 383.1 287 382.8 287.2 383.6 C287.4 384.4 287.5 384.1 287.7 384.8 C287.9 385.6 287.4 385.5 287.9 386.2 C288.4 386.9 288.2 386.6 289.3 387.1 C290.5 387.7 290.8 387.3 291.6 388 C292.5 388.7 292.3 388.6 292.2 389.5 C292.2 390.4 291.9 390.1 291.4 391.1 C291 392 290.9 391.7 290.7 392.6 C290.6 393.5 290.5 393.1 290.9 394 Z" fill="#f5a8ab" stroke="#e0868c" stroke-width="0.8" stroke-linejoin="round"/>
<circle cx="251.9" cy="386.2" r="0.5" fill="#e5828a"/>
<circle cx="283.1" cy="380.4" r="0.5" fill="#e5828a"/>
<circle cx="268.2" cy="380" r="0.5" fill="#e5828a"/>
<circle cx="246.7" cy="389.7" r="0.5" fill="#e5828a"/>
<circle cx="255.9" cy="388.5" r="0.5" fill="#e5828a"/>
<circle cx="273.7" cy="414.2" r="0.5" fill="#e5828a"/>
<circle cx="269.1" cy="395.3" r="0.5" fill="#e5828a"/>
<circle cx="256.8" cy="392.4" r="0.5" fill="#e5828a"/>
<circle cx="267.4" cy="411.5" r="0.5" fill="#e5828a"/>
<circle cx="267.9" cy="378.2" r="0.5" fill="#e5828a"/>
<circle cx="282.4" cy="390.1" r="0.5" fill="#e5828a"/>
<circle cx="256.1" cy="409.9" r="0.5" fill="#e5828a"/>
<circle cx="270.1" cy="409.2" r="0.5" fill="#e5828a"/>
<circle cx="261.1" cy="388.3" r="0.5" fill="#e5828a"/>
<circle cx="247.7" cy="402.6" r="0.5" fill="#e5828a"/>
<circle cx="247.5" cy="383.9" r="0.5" fill="#e5828a"/>
<circle cx="262" cy="411.1" r="0.5" fill="#e5828a"/>
<circle cx="261.3" cy="395.7" r="0.5" fill="#e5828a"/>
<circle cx="254.8" cy="383.5" r="0.5" fill="#e5828a"/>
<circle cx="274.1" cy="395.6" r="0.5" fill="#e5828a"/>
<circle cx="245.5" cy="390.5" r="0.5" fill="#e5828a"/>
<circle cx="267.9" cy="406.5" r="0.5" fill="#e5828a"/>
<circle cx="252.5" cy="395.2" r="0.5" fill="#e5828a"/>
<circle cx="275.3" cy="382.3" r="0.5" fill="#e5828a"/>
<circle cx="257.6" cy="388.8" r="0.5" fill="#e5828a"/>
<path d="M270.2 392.8 C270.8 395.1 270.7 395.3 269.8 397.6 C268.9 399.9 268.8 400.1 266.8 401.5 C264.7 403 264.6 403.1 262.2 403.1 C259.8 403.2 260.1 402.4 257.8 401.8 C255.5 401.1 256 401.6 253.5 400.7 C251.1 399.7 249.8 400.3 248.6 398.2 C247.4 396.1 248.4 395.3 249 392.8 C249.7 390.3 249.9 390.7 251.1 388.6 C252.4 386.6 252 386.7 253.7 385.1 C255.4 383.5 255.2 383.8 257.5 382.8 C259.9 381.8 260 380.9 262.4 381.3 C264.8 381.7 265.2 382.2 266.6 384.3 C268 386.3 266.8 386.7 267.8 389 C268.8 391.2 269.7 390.5 270.2 392.8 Z" fill="#d8858a"/>
</g>
<g opacity="1.0">
<path d="M257.2 459 C256 459.8 256 459.5 255.5 460.3 C255 461 255.5 460.8 255.4 461.5 C255.3 462.3 255.3 462 255.2 462.8 C255.1 463.5 255.1 463.2 255.1 464 C255.1 464.8 255 464.5 255.2 465.4 C255.5 466.3 255.6 466 255.8 467 C256.1 467.9 256.3 467.7 256 468.5 C255.8 469.3 255.7 469 255.1 469.6 C254.4 470.2 254.4 469.9 254 470.6 C253.6 471.3 254 471.2 253.7 472 C253.5 472.8 253.8 472.7 253.2 473.3 C252.6 473.9 252.7 473.6 251.8 474 C251 474.4 251.2 474.1 250.5 474.6 C249.8 475.1 250.1 475 249.6 475.6 C249.1 476.2 249.1 475.7 248.8 476.6 C248.5 477.5 248.7 477.3 248.6 478.5 C248.4 479.8 248.8 479.9 248.4 480.7 C247.9 481.6 247.8 481 247 481.4 C246.2 481.7 246.3 481.3 245.6 481.9 C244.9 482.5 245.3 482.7 244.6 483.4 C243.9 484 244.2 483.9 243.3 484.1 C242.4 484.4 242.5 483.8 241.7 484.1 C240.8 484.4 241.2 484.5 240.4 485.1 C239.6 485.7 239.9 486 239 486 C238 486 238.3 485.8 237.3 485.2 C236.3 484.5 236.6 484.5 235.6 483.8 C234.7 483.1 235 483.3 234.2 482.8 C233.3 482.4 233.6 482.5 232.8 482.2 C232 482 232.3 482 231.5 482 C230.7 482 231 482.1 230.2 482.2 C229.3 482.3 229.5 482.6 228.7 482.5 C227.9 482.4 228.2 482.5 227.5 481.9 C226.8 481.3 227.1 481.3 226.5 480.6 C225.9 479.9 226.2 480 225.5 479.7 C224.7 479.4 224.9 479.7 224.1 479.5 C223.3 479.4 223.5 479.7 222.8 479.3 C222.2 478.8 222.4 478.9 222 478.1 C221.5 477.4 221.8 477.4 221.4 476.7 C221 475.9 221.2 476.2 220.7 475.6 C220.3 475 220.5 475.1 219.9 474.7 C219.3 474.3 219.6 474.4 218.8 474.1 C218.1 473.8 218.3 474 217.5 473.7 C216.7 473.4 216.9 473.5 216.3 473.1 C215.7 472.6 215.8 472.8 215.4 472.1 C215.1 471.5 215.2 471.6 215.1 470.8 C215 470 215.3 470.1 215.1 469.4 C215 468.6 215.1 468.9 214.6 468.3 C214.1 467.7 214 468 213.4 467.5 C212.8 467 212.8 467.2 212.5 466.5 C212.2 465.8 212.4 466 212.4 465.2 C212.3 464.4 212.5 464.7 212.3 463.9 C212.2 463.2 212.2 463.4 212 462.7 C211.8 462 211.8 462.2 211.7 461.5 C211.5 460.8 211.7 461 211.4 460.3 C211.2 459.5 211.3 459.8 210.8 459 C210.2 458.2 210.1 458.5 209.6 457.6 C209.1 456.8 209 457 209 456.2 C209 455.4 209.1 455.6 209.6 454.9 C210 454.1 210.3 454.5 210.5 453.6 C210.6 452.8 210.5 453.1 210.1 452.1 C209.6 451.1 209.2 451.2 209 450.3 C208.8 449.3 208.8 449.5 209.5 448.9 C210.2 448.2 210.3 448.6 211.2 448.1 C212.1 447.5 211.9 447.8 212.5 447.1 C213.1 446.5 212.7 446.6 213.2 446 C213.7 445.3 213.6 445.5 214.1 444.9 C214.7 444.3 214.7 444.7 215.1 443.9 C215.5 443.2 215.3 443.5 215.6 442.6 C215.8 441.6 215.5 441.7 215.9 440.9 C216.3 440.1 216.1 440.2 216.9 439.8 C217.7 439.5 217.6 439.8 218.6 439.7 C219.6 439.5 219.4 439.9 220.1 439.4 C220.8 439 220.4 438.9 221 438.2 C221.5 437.5 221.1 437.4 221.9 437.1 C222.7 436.7 222.6 437 223.5 437.2 C224.5 437.4 224.3 437.7 225.2 437.6 C226 437.5 225.6 437.4 226.3 436.9 C227 436.4 226.7 436.3 227.5 436 C228.2 435.8 228 436 228.9 436.2 C229.7 436.4 229.5 436.7 230.3 436.8 C231.1 436.8 230.8 436.8 231.5 436.3 C232.3 435.7 232 435.5 232.8 434.9 C233.6 434.3 233.4 434.1 234.2 434.3 C235 434.5 234.8 434.7 235.5 435.5 C236.3 436.3 236 436.4 236.7 437 C237.4 437.5 237.1 437.2 237.9 437.4 C238.6 437.5 238.4 437.3 239.2 437.4 C239.9 437.6 239.6 437.6 240.4 437.9 C241.1 438.2 240.8 438.2 241.5 438.4 C242.3 438.6 242.1 438.4 242.8 438.7 C243.5 438.9 243.3 438.8 243.9 439.2 C244.6 439.7 244.2 439.7 244.9 440.1 C245.5 440.6 245.2 440.5 246 440.7 C246.8 440.9 246.7 440.6 247.6 440.7 C248.6 440.7 248.5 440.5 249.2 440.9 C249.9 441.3 249.7 441.2 250 442.1 C250.2 442.9 249.9 442.8 250.2 443.7 C250.4 444.6 250.2 444.3 250.7 444.9 C251.1 445.6 251.1 445.3 251.6 445.8 C252.2 446.4 251.8 446.3 252.4 446.8 C253.1 447.3 252.9 447.1 253.8 447.6 C254.7 448 254.8 447.6 255.4 448.2 C256 448.8 255.8 448.7 255.7 449.6 C255.6 450.5 255.4 450.3 255.1 451.3 C254.8 452.2 254.7 452 254.7 452.8 C254.8 453.6 254.7 453.3 255.3 453.9 C255.9 454.6 255.7 454.3 256.8 455 C258 455.6 258.2 455.3 259 456.1 C259.8 456.8 260.1 456.6 259.5 457.5 C259 458.4 258.4 458.2 257.2 459 Z" fill="#f2bcbf" stroke="#e29ea3" stroke-width="0.8" stroke-linejoin="round"/>
<circle cx="214.5" cy="460.5" r="0.5" fill="#e6a5ab"/>
<circle cx="233.7" cy="471.1" r="0.5" fill="#e6a5ab"/>
<circle cx="234.9" cy="466.9" r="0.5" fill="#e6a5ab"/>
<circle cx="240" cy="455.3" r="0.5" fill="#e6a5ab"/>
<circle cx="222" cy="454.4" r="0.5" fill="#e6a5ab"/>
<circle cx="238.8" cy="456.4" r="0.5" fill="#e6a5ab"/>
<circle cx="242.4" cy="469" r="0.5" fill="#e6a5ab"/>
<circle cx="245.9" cy="461.9" r="0.5" fill="#e6a5ab"/>
<circle cx="233.5" cy="458" r="0.5" fill="#e6a5ab"/>
<circle cx="218.8" cy="451.6" r="0.5" fill="#e6a5ab"/>
<circle cx="247.7" cy="470.1" r="0.5" fill="#e6a5ab"/>
<circle cx="251.2" cy="464.8" r="0.5" fill="#e6a5ab"/>
<circle cx="245.3" cy="474.1" r="0.5" fill="#e6a5ab"/>
<circle cx="241.8" cy="453.1" r="0.5" fill="#e6a5ab"/>
<circle cx="238.9" cy="460.4" r="0.5" fill="#e6a5ab"/>
<circle cx="243.5" cy="473.4" r="0.5" fill="#e6a5ab"/>
<circle cx="232.7" cy="466.2" r="0.5" fill="#e6a5ab"/>
<circle cx="240.8" cy="444.8" r="0.5" fill="#e6a5ab"/>
<circle cx="237.6" cy="462" r="0.5" fill="#e6a5ab"/>
<circle cx="234.2" cy="477.2" r="0.5" fill="#e6a5ab"/>
<circle cx="246.8" cy="448.7" r="0.5" fill="#e6a5ab"/>
<circle cx="225.2" cy="460.4" r="0.5" fill="#e6a5ab"/>
<circle cx="225.5" cy="473.1" r="0.5" fill="#e6a5ab"/>
<path d="M249 458.7 C248.4 461.1 246.8 460.5 245.3 462.7 C243.9 464.9 245.1 465 243.6 466.9 C242 468.9 242 469.4 239.6 470 C237.2 470.7 237 470.2 234.5 469.4 C232.1 468.7 232.1 468.8 230.2 467.2 C228.4 465.5 228.6 465.5 227.6 463.2 C226.7 460.9 227.2 461.3 226.7 458.7 C226.2 456.1 224.9 455.7 225.8 453.3 C226.6 450.9 227.5 451 229.9 449.8 C232.3 448.5 232.2 449.2 234.7 448.7 C237.3 448.2 237.1 447.5 239.5 447.9 C241.8 448.4 241.5 448.9 243.6 450.4 C245.7 451.9 246 451.5 247.4 453.7 C248.8 455.9 249.5 456.3 249 458.7 Z" fill="#d9a0a5"/>
</g>
<g opacity="1.0">
<path d="M271.8 420 C272.2 420.9 272.4 420.6 273.2 421.6 C273.9 422.6 274.3 422.4 274.3 423.4 C274.3 424.3 273.8 424 273.2 424.9 C272.6 425.8 272.6 425.4 272.2 426.3 C271.9 427.2 272.4 427.1 272 427.9 C271.6 428.8 271.7 428.5 270.9 429.2 C270 429.9 269.9 429.5 269.1 430.2 C268.3 430.9 268.5 430.5 268.2 431.4 C268 432.3 268.3 432.1 268.3 433.1 C268.3 434.2 268.4 434 268.2 434.9 C268 435.9 267.9 435.5 267.4 436.3 C266.9 437.1 267 436.8 266.5 437.6 C266 438.4 266.3 438.2 265.8 439.1 C265.2 439.9 265.4 439.7 264.7 440.3 C264 441 264.1 440.6 263.4 441.2 C262.6 441.8 262.8 441.5 262.2 442.4 C261.6 443.2 262 443.1 261.4 444 C260.8 444.8 261.1 444.8 260.2 445.1 C259.2 445.5 259.4 445.2 258.3 445.1 C257.1 445 257.3 444.7 256.3 444.7 C255.3 444.8 255.6 444.7 254.8 445.2 C254 445.8 254.3 445.4 253.6 446.5 C252.9 447.6 253.3 447.6 252.6 448.8 C251.9 450.1 252.2 450.3 251.2 450.6 C250.2 451 250.4 450.5 249.3 449.9 C248.2 449.3 248.5 449.3 247.5 448.7 C246.4 448.1 246.8 448.3 245.8 447.9 C244.8 447.4 245.2 447.4 244.2 447.1 C243.3 446.9 243.6 446.9 242.7 447 C241.7 447.1 242.1 447.1 241 447.6 C240 448.1 240.2 448.5 239.2 448.6 C238.2 448.8 238.3 449.2 237.6 448.1 C236.9 447 237.3 446.5 236.9 445 C236.4 443.5 236.7 443.7 236 443.1 C235.3 442.6 235.3 443.3 234.4 443.1 C233.6 443 233.8 443 233 442.7 C232.2 442.3 232.6 442.3 231.8 441.9 C231 441.5 231.4 441.5 230.4 441.3 C229.5 441.1 229.8 441.3 228.6 441.2 C227.5 441.2 227.6 441.5 226.6 441.2 C225.6 440.9 226 441 225.4 440.2 C224.8 439.5 224.9 439.7 224.6 438.7 C224.3 437.7 224.4 438 224.4 436.9 C224.3 435.8 224.3 436.1 224.3 435 C224.3 433.9 224.5 434.2 224.4 433.3 C224.3 432.3 224.5 432.6 224 431.9 C223.5 431.2 223.6 431.5 222.7 430.9 C221.9 430.4 222 430.7 221.3 430 C220.5 429.4 220.8 429.6 220.2 428.9 C219.6 428.1 219.8 428.4 219.2 427.6 C218.6 426.8 218.6 427.1 218.1 426.3 C217.7 425.4 217.7 425.7 217.7 424.7 C217.7 423.8 217.9 424 218.1 423.1 C218.2 422.1 218.5 422.5 218.2 421.5 C217.8 420.6 217.9 421 216.9 420 C215.9 419 215.6 419.3 214.8 418.3 C214.1 417.2 213.9 417.4 214.4 416.5 C215 415.5 215.5 415.9 216.6 415.1 C217.7 414.3 218 414.7 218.1 413.7 C218.2 412.8 217.8 413.1 217.1 411.8 C216.3 410.5 216 410.8 215.6 409.5 C215.2 408.2 215.4 408.6 215.7 407.6 C216 406.6 216.2 407.1 216.6 406.1 C217.1 405.1 216.5 405.1 217.2 404.3 C217.8 403.4 217.5 403.6 218.8 403.2 C220.2 402.8 220.2 403.3 221.6 403 C223 402.8 222.8 403.1 223.4 402.4 C224.1 401.6 223.8 401.9 223.8 400.6 C223.9 399.3 223.5 399.4 223.8 398.1 C224 396.9 223.8 397.1 224.7 396.5 C225.6 396 225.6 396.6 226.7 396.3 C227.8 396 227.3 395.8 228.3 395.6 C229.3 395.3 229.2 395.7 230.2 395.4 C231.2 395.1 230.9 395.4 231.6 394.7 C232.4 394 231.8 393.6 232.7 393 C233.5 392.5 233.3 392.8 234.4 392.9 C235.5 393 235.2 393 236.4 393.4 C237.5 393.8 237.1 393.7 238.2 394.2 C239.3 394.7 239 394.9 240 395.1 C240.9 395.4 240.6 395.4 241.4 395.1 C242.3 394.8 241.9 394.6 242.8 394.1 C243.6 393.7 243.3 393.8 244.2 393.5 C245.1 393.1 244.8 393.1 245.8 392.9 C246.7 392.7 246.4 392.4 247.3 392.7 C248.2 392.9 247.9 393.2 248.8 393.7 C249.6 394.3 249.3 394.3 250.1 394.6 C251 394.9 250.6 395 251.6 394.8 C252.6 394.6 252.3 394.6 253.4 394 C254.6 393.4 254.5 392.9 255.6 392.8 C256.7 392.7 256.5 392.5 257.1 393.6 C257.6 394.6 257.2 394.9 257.5 396.3 C257.8 397.8 257.4 397.6 258 398.4 C258.6 399.2 258.5 398.7 259.4 398.9 C260.4 399.1 260.3 398.7 261.2 399 C262.2 399.2 261.9 399.1 262.6 399.7 C263.3 400.3 262.9 400.3 263.5 401 C264 401.7 263.8 401.5 264.5 402.1 C265.1 402.8 265 402.4 265.7 403 C266.5 403.6 266.2 403.4 266.8 404.1 C267.5 404.8 267.1 404.7 267.8 405.4 C268.4 406.1 268.3 405.8 269 406.4 C269.7 407.1 269.8 406.8 270.3 407.6 C270.7 408.4 270.7 408.1 270.5 409.2 C270.4 410.3 270.1 410.1 269.8 411.1 C269.5 412.2 269.4 411.9 269.5 412.8 C269.7 413.7 269.8 413.3 270.4 414.1 C271 414.9 271.1 414.6 271.5 415.4 C271.9 416.3 271.8 416 271.8 416.9 C271.8 417.8 271.6 417.6 271.6 418.5 C271.6 419.4 271.3 419.1 271.8 420 Z" fill="#f5a5a8" stroke="#e0868c" stroke-width="0.8" stroke-linejoin="round"/>
<circle cx="236.4" cy="412.7" r="0.5" fill="#e5828a"/>
<circle cx="259" cy="421.4" r="0.5" fill="#e5828a"/>
<circle cx="247.5" cy="441.3" r="0.5" fill="#e5828a"/>
<circle cx="254.5" cy="426.1" r="0.5" fill="#e5828a"/>
<circle cx="251.2" cy="424.9" r="0.5" fill="#e5828a"/>
<circle cx="237.1" cy="399.3" r="0.5" fill="#e5828a"/>
<circle cx="233.6" cy="429.2" r="0.5" fill="#e5828a"/>
<circle cx="239.3" cy="438.8" r="0.5" fill="#e5828a"/>
<circle cx="258.1" cy="429.8" r="0.5" fill="#e5828a"/>
<circle cx="255.7" cy="439.2" r="0.5" fill="#e5828a"/>
<circle cx="232.8" cy="403.8" r="0.5" fill="#e5828a"/>
<circle cx="238.3" cy="432.1" r="0.5" fill="#e5828a"/>
<circle cx="261.4" cy="412.6" r="0.5" fill="#e5828a"/>
<circle cx="235.3" cy="413.5" r="0.5" fill="#e5828a"/>
<circle cx="261" cy="404.6" r="0.5" fill="#e5828a"/>
<circle cx="261" cy="404.5" r="0.5" fill="#e5828a"/>
<circle cx="232.6" cy="438.4" r="0.5" fill="#e5828a"/>
<circle cx="228.8" cy="414.8" r="0.5" fill="#e5828a"/>
<circle cx="253.8" cy="421.6" r="0.5" fill="#e5828a"/>
<circle cx="239.6" cy="397.2" r="0.5" fill="#e5828a"/>
<circle cx="246.9" cy="399.4" r="0.5" fill="#e5828a"/>
<circle cx="243.2" cy="411.3" r="0.5" fill="#e5828a"/>
<circle cx="235" cy="409.6" r="0.5" fill="#e5828a"/>
<circle cx="263" cy="411.4" r="0.5" fill="#e5828a"/>
<circle cx="227.9" cy="422.7" r="0.5" fill="#e5828a"/>
<circle cx="251.6" cy="430.6" r="0.5" fill="#e5828a"/>
<circle cx="237" cy="410" r="0.5" fill="#e5828a"/>
<path d="M262 421 C261.4 423.6 260.6 422.9 259.5 425.4 C258.5 427.8 259.7 428.4 257.9 430.3 C256.2 432.2 255.9 431.6 253.1 432.4 C250.4 433.3 250.3 434.2 247.6 433.6 C245 433 244.6 432.5 243.1 430.2 C241.6 428 243.2 427.6 241.9 425.1 C240.7 422.7 239.1 423.6 238.4 421 C237.6 418.4 237.7 417.8 239.1 415.5 C240.5 413.2 241.2 413.9 243.5 412.3 C245.9 410.7 245.4 409.9 247.9 409.5 C250.3 409.2 250.2 410.3 252.8 411 C255.4 411.6 255.3 410.7 257.8 411.9 C260.2 413.1 260.9 413 262.1 415.4 C263.2 417.9 262.7 418.4 262 421 Z" fill="#d6767c"/>
</g>
<g opacity="1.0">
<path d="M328.1 418 C328.5 419 328.5 418.6 328.7 419.6 C328.9 420.6 328.5 420.2 328.7 421.3 C328.9 422.3 329 421.9 329.3 423 C329.7 424.1 330.2 423.9 329.8 424.9 C329.5 425.8 329.2 425.5 328.2 426.2 C327.1 426.9 327 426.5 326.3 427.3 C325.6 428.1 326 427.8 325.8 428.8 C325.5 429.7 325.8 429.5 325.5 430.4 C325.3 431.4 325.5 431.1 325 431.9 C324.4 432.7 324.5 432.4 323.8 433.1 C323.1 433.8 323.4 433.6 322.6 434.2 C321.8 434.8 322.1 434.6 321.3 435.2 C320.5 435.7 320.7 435.5 320 436.1 C319.3 436.6 319.6 436.5 318.8 437.1 C318.1 437.6 318.3 437.4 317.5 437.9 C316.8 438.4 316.9 438.1 316.2 438.7 C315.5 439.2 315.8 439.1 315.2 439.7 C314.5 440.4 314.8 440.2 314 440.7 C313.3 441.2 313.4 440.9 312.7 441.4 C311.9 441.9 312.1 441.7 311.5 442.4 C310.8 443.2 311.1 443.2 310.4 443.9 C309.6 444.5 309.9 444.6 309 444.7 C308 444.8 308.2 444.5 307.2 444.2 C306.1 443.9 306.4 443.6 305.5 443.6 C304.5 443.6 304.9 443.6 304.1 444.2 C303.2 444.7 303.5 444.8 302.7 445.5 C301.8 446.2 302.1 446 301.1 446.3 C300.2 446.6 300.5 446.4 299.5 446.5 C298.5 446.6 298.9 446.4 297.8 446.7 C296.8 447.1 297.2 447 296 447.7 C294.9 448.4 295.2 448.6 294 449 C292.9 449.4 293.3 449.1 292.2 449 C291 448.9 291.5 448.8 290.3 448.8 C289.1 448.8 289.2 449.5 288.2 449.1 C287.1 448.8 287.4 448.9 286.8 447.5 C286.3 446.1 286.7 446 286.3 444.5 C285.9 443.1 286.2 443.4 285.4 442.7 C284.7 441.9 285 442.2 283.8 442.1 C282.7 441.9 282.9 442.2 281.7 442.2 C280.4 442.1 280.6 442.4 279.6 441.8 C278.7 441.3 279 441.4 278.5 440.5 C277.9 439.5 278.2 439.7 277.7 438.7 C277.3 437.7 277.3 438.1 276.9 437.1 C276.5 436.1 277.1 436.2 276.4 435.4 C275.7 434.6 275.9 434.9 274.7 434.5 C273.5 434 273 434.6 272.3 433.8 C271.5 433 272.2 433 272.2 431.8 C272.2 430.6 272.5 430.9 272.3 429.8 C272.2 428.7 271.8 429.3 271.8 428.2 C271.8 427.1 272.1 427.3 272.3 426.2 C272.6 425.1 272.6 425.5 272.6 424.4 C272.6 423.4 272.3 423.8 272.3 422.8 C272.4 421.9 272.6 422.1 272.8 421.2 C273.1 420.2 273.2 420.5 273.3 419.5 C273.4 418.6 273.1 418.9 273.1 418 C273.1 417.1 273.1 417.4 273.4 416.5 C273.8 415.6 274 415.9 274.4 415 C274.9 414.2 275 414.5 275 413.6 C274.9 412.7 274.9 413 274.4 412 C273.9 410.9 273.5 411.1 273.3 410.1 C273.1 409 272.8 409.2 273.7 408.5 C274.6 407.8 275 408.3 276.2 407.8 C277.5 407.4 277.4 407.7 277.8 407 C278.3 406.2 277.7 406.3 277.8 405.3 C277.8 404.3 277.7 404.5 277.9 403.6 C278 402.6 278.1 403 278.4 402.1 C278.7 401.1 278.5 401.4 278.9 400.5 C279.2 399.5 278.9 399.7 279.5 398.9 C280.1 398.2 280 398.4 280.8 398 C281.7 397.5 281.6 397.9 282.5 397.4 C283.3 396.9 283.2 397.3 283.6 396.3 C284.1 395.4 283.6 395.4 284 394.1 C284.3 392.8 283.9 392.7 284.7 392.1 C285.5 391.5 285.4 391.8 286.6 392 C287.8 392.2 287.6 392.6 288.7 392.7 C289.8 392.8 289.4 392.7 290.3 392.2 C291.1 391.7 290.7 391.7 291.5 390.9 C292.3 390.1 292 390.6 292.8 389.6 C293.6 388.6 293.3 388.6 294.1 387.5 C295 386.4 294.6 386 295.7 385.8 C296.7 385.6 296.5 386 297.6 386.9 C298.8 387.8 298.4 388 299.5 388.9 C300.5 389.8 300.1 389.6 301.1 389.9 C302.1 390.2 301.7 390.1 302.7 389.9 C303.7 389.7 303.4 389.4 304.4 389.2 C305.4 389.1 305.2 389 306.1 389.5 C307 389.9 306.6 390 307.5 390.7 C308.3 391.4 307.9 391.4 308.8 391.8 C309.7 392.2 309.4 391.9 310.4 392.1 C311.4 392.2 311.1 392 312.1 392.2 C313 392.4 312.7 392.5 313.6 392.8 C314.6 393.1 314.2 393 315.2 393.2 C316.2 393.5 316 393.2 316.9 393.7 C317.8 394.2 317.6 393.9 318.2 394.8 C318.7 395.8 318.4 395.7 318.7 396.8 C319 397.9 318.7 397.7 319.3 398.5 C319.9 399.2 319.8 398.8 320.7 399.3 C321.6 399.7 321.5 399.4 322.4 399.9 C323.3 400.4 323.1 400.2 323.8 400.9 C324.6 401.6 324.4 401.4 324.9 402.2 C325.4 403.1 325.1 402.8 325.5 403.8 C325.8 404.8 325.6 404.5 325.9 405.4 C326.2 406.3 326.1 406 326.6 406.9 C327 407.8 326.5 407.6 327.3 408.4 C328.2 409.1 328.2 408.7 329.5 409.4 C330.8 410.1 331.4 409.7 331.8 410.7 C332.3 411.6 332 411.4 331.1 412.7 C330.1 413.9 329.6 413.6 328.6 414.8 C327.5 415.9 327.6 415.5 327.5 416.4 C327.3 417.4 327.7 417 328.1 418 Z" fill="#f5a5a8" stroke="#e0868c" stroke-width="0.8" stroke-linejoin="round"/>
<circle cx="290.4" cy="395.5" r="0.5" fill="#e5828a"/>
<circle cx="307.5" cy="414.8" r="0.5" fill="#e5828a"/>
<circle cx="281.5" cy="428.6" r="0.5" fill="#e5828a"/>
<circle cx="290.9" cy="435.2" r="0.5" fill="#e5828a"/>
<circle cx="296.3" cy="413.2" r="0.5" fill="#e5828a"/>
<circle cx="314.2" cy="430.1" r="0.5" fill="#e5828a"/>
<circle cx="307" cy="420" r="0.5" fill="#e5828a"/>
<circle cx="283.7" cy="405.4" r="0.5" fill="#e5828a"/>
<circle cx="295.9" cy="417.1" r="0.5" fill="#e5828a"/>
<circle cx="296.4" cy="413.8" r="0.5" fill="#e5828a"/>
<circle cx="296.3" cy="411.9" r="0.5" fill="#e5828a"/>
<circle cx="291.6" cy="438.2" r="0.5" fill="#e5828a"/>
<circle cx="317.6" cy="433.3" r="0.5" fill="#e5828a"/>
<circle cx="321.1" cy="429.9" r="0.5" fill="#e5828a"/>
<circle cx="312.4" cy="432.6" r="0.5" fill="#e5828a"/>
<circle cx="303.7" cy="395.1" r="0.5" fill="#e5828a"/>
<circle cx="295" cy="401" r="0.5" fill="#e5828a"/>
<circle cx="291.9" cy="434.3" r="0.5" fill="#e5828a"/>
<circle cx="311" cy="409.4" r="0.5" fill="#e5828a"/>
<circle cx="299.3" cy="438.5" r="0.5" fill="#e5828a"/>
<circle cx="313.4" cy="406.1" r="0.5" fill="#e5828a"/>
<circle cx="297.5" cy="408.6" r="0.5" fill="#e5828a"/>
<circle cx="294.1" cy="404.7" r="0.5" fill="#e5828a"/>
<circle cx="299.3" cy="401.4" r="0.5" fill="#e5828a"/>
<circle cx="307.1" cy="434.3" r="0.5" fill="#e5828a"/>
<circle cx="302.5" cy="424.5" r="0.5" fill="#e5828a"/>
<circle cx="280" cy="425.8" r="0.5" fill="#e5828a"/>
<circle cx="304.1" cy="422.9" r="0.5" fill="#e5828a"/>
<path d="M320.6 416.8 C320.1 419.7 318.5 419.3 316.7 421.8 C314.9 424.3 315.8 424 313.8 426.2 C311.9 428.5 312.2 429.3 309.4 430.3 C306.6 431.3 306.4 430.7 303.3 430 C300.2 429.3 299.7 429.8 297.7 427.6 C295.6 425.5 296.5 424.8 295.7 421.9 C294.9 419 295.2 419.8 294.6 416.8 C294 413.8 292.7 413.6 293.5 410.6 C294.3 407.7 294.8 407.3 297.5 405.8 C300.2 404.3 300.5 405.2 303.6 405 C306.7 404.8 306.3 404.4 309 405 C311.7 405.6 311.3 405.7 313.9 407.3 C316.5 408.9 317 408.3 318.7 410.8 C320.5 413.3 321.1 413.9 320.6 416.8 Z" fill="#d6767c"/>
</g>
<g opacity="1.0">
<path d="M309.5 456.5 C311 457.5 311.6 457.2 312.3 458.3 C313 459.4 312.6 459.1 311.8 460.1 C311 461.1 310.3 460.6 309.7 461.6 C309 462.5 309.3 462.2 309.7 463.3 C310 464.5 310.8 464.4 310.7 465.4 C310.7 466.5 310.4 466.1 309.5 466.9 C308.5 467.7 308.4 467.3 307.5 468 C306.6 468.7 307 468.5 306.4 469.3 C305.8 470.1 305.7 469.7 305.5 470.7 C305.2 471.7 305.6 471.6 305.5 472.7 C305.3 473.8 305.8 473.7 305 474.5 C304.3 475.2 304.1 474.6 303 475.1 C302 475.6 302.2 475.3 301.6 476.1 C301 476.9 301.6 477 301 477.8 C300.4 478.7 300.7 478.5 299.7 478.9 C298.7 479.2 298.8 478.9 297.6 479 C296.5 479.1 296.8 478.9 295.8 479.2 C294.9 479.5 295.3 479.6 294.5 480.1 C293.7 480.5 294 480.5 293.1 480.8 C292.2 481.1 292.5 480.9 291.5 481 C290.5 481.1 290.8 481 289.9 481.2 C289 481.3 289.3 481.4 288.4 481.5 C287.5 481.6 287.8 481.6 286.9 481.5 C285.9 481.3 286.2 481.1 285.3 481 C284.4 480.9 284.7 480.7 283.8 481.2 C283 481.6 283.4 481.6 282.5 482.6 C281.7 483.5 282 483.8 281.1 484.3 C280.2 484.9 280.4 484.9 279.5 484.4 C278.6 483.9 278.9 483.5 278.1 482.5 C277.2 481.5 277.6 481.6 276.7 481.2 C275.9 480.8 276.2 481.3 275.3 481.2 C274.4 481.2 274.7 481.2 273.9 481 C273 480.8 273.4 480.7 272.5 480.5 C271.7 480.3 271.9 480.4 271 480.3 C270.2 480.1 270.4 480.4 269.5 480.1 C268.7 479.8 269 479.9 268.3 479.3 C267.5 478.8 268 478.7 267.1 478.3 C266.3 477.9 266.7 478 265.5 478.1 C264.4 478.1 264.7 478.2 263.4 478.5 C262 478.7 262.3 478.8 261 478.8 C259.7 478.8 259.9 479 259 478.4 C258.1 477.8 258.4 478 258.1 476.9 C257.8 475.7 258.2 475.8 258.1 474.7 C257.9 473.5 258 473.9 257.6 473 C257.1 472.1 257.2 472.5 256.6 471.7 C256 471 256.3 471.2 255.6 470.4 C254.9 469.7 255 470 254.3 469.3 C253.6 468.5 253.6 468.9 253.2 467.9 C252.9 467 253.1 467.3 253 466.2 C252.9 465.2 253.3 465.5 252.9 464.5 C252.6 463.6 252.7 464 251.9 463.1 C251.1 462.3 251 462.6 250.3 461.7 C249.7 460.8 249.7 461 249.8 460 C249.8 459 250 459.3 250.5 458.2 C251 457.2 251 457.5 251.4 456.5 C251.8 455.5 251.6 455.8 251.8 454.9 C252 453.9 252.1 454.3 251.9 453.2 C251.8 452.2 251.7 452.6 251.2 451.5 C250.8 450.4 250.3 450.6 250.4 449.5 C250.4 448.5 251 449 251.4 448 C251.9 447.1 251.8 447.5 251.8 446.3 C251.8 445.2 251.1 445.3 251.4 444.3 C251.7 443.3 251.9 443.7 252.8 443 C253.6 442.2 253.3 442.4 254.1 441.7 C255 441 254.5 441.1 255.5 440.6 C256.5 440 256.3 440.3 257.4 439.9 C258.5 439.5 258.2 439.6 259.2 439.2 C260.2 438.9 259.9 439 260.8 438.6 C261.6 438.1 261.4 438.3 262 437.7 C262.6 437 262.4 437.2 262.9 436.4 C263.4 435.6 263.2 435.9 263.7 435 C264.2 434 264.1 434.5 264.4 433.3 C264.8 432.1 264.4 432 264.9 431 C265.5 430.1 265.2 430 266.4 430.1 C267.5 430.2 267.5 430.9 268.9 431.4 C270.2 432 269.9 432.5 270.8 432 C271.6 431.6 271.1 431.3 271.7 429.9 C272.2 428.6 271.9 428.5 272.7 427.4 C273.4 426.3 273.2 426.4 274.2 426.3 C275.2 426.1 274.9 426.3 276.1 427 C277.2 427.8 276.9 427.9 277.9 428.8 C279 429.6 278.6 429.3 279.5 429.8 C280.5 430.2 280.1 430.1 281 430.3 C282 430.4 281.6 430.5 282.6 430.3 C283.5 430 283.2 429.9 284.2 429.5 C285.2 429.1 284.9 428.9 285.9 429 C286.8 429 286.5 429 287.4 429.6 C288.2 430.2 287.8 430.4 288.6 430.9 C289.4 431.5 289.1 431.3 290.1 431.5 C291 431.6 290.8 431.2 291.8 431.3 C292.8 431.3 292.5 431.4 293.4 431.6 C294.4 431.8 294.1 431.7 295 432 C296 432.4 295.9 432 296.6 432.7 C297.2 433.5 296.9 433.5 297.2 434.6 C297.5 435.7 297.2 435.5 297.6 436.5 C297.9 437.6 297.4 437.6 298.3 437.9 C299.3 438.3 299 438 300.7 437.8 C302.3 437.6 302.6 437 303.7 437.3 C304.9 437.7 304.5 437.7 304.5 438.9 C304.5 440.1 304.1 440.1 303.8 441.4 C303.5 442.7 303.4 442.4 303.6 443.3 C303.8 444.3 303.8 443.9 304.5 444.6 C305.2 445.3 305.3 444.9 305.9 445.7 C306.6 446.4 306.4 446.2 306.7 447.1 C307 448 306.7 447.8 306.8 448.7 C306.9 449.7 306.8 449.4 307 450.3 C307.1 451.2 307.2 450.9 307.3 451.8 C307.4 452.8 307.3 452.5 307.3 453.4 C307.3 454.3 306.6 454 307.3 455 C308 455.9 308 455.5 309.5 456.5 Z" fill="#f5a5a8" stroke="#e0868c" stroke-width="0.8" stroke-linejoin="round"/>
<circle cx="264.7" cy="468.7" r="0.5" fill="#e5828a"/>
<circle cx="281.1" cy="478.7" r="0.5" fill="#e5828a"/>
<circle cx="277.8" cy="454.1" r="0.5" fill="#e5828a"/>
<circle cx="277" cy="442" r="0.5" fill="#e5828a"/>
<circle cx="299.6" cy="460.8" r="0.5" fill="#e5828a"/>
<circle cx="283.3" cy="471.7" r="0.5" fill="#e5828a"/>
<circle cx="275" cy="475.5" r="0.5" fill="#e5828a"/>
<circle cx="278.7" cy="460.1" r="0.5" fill="#e5828a"/>
<circle cx="270.5" cy="451.3" r="0.5" fill="#e5828a"/>
<circle cx="261" cy="456.9" r="0.5" fill="#e5828a"/>
<circle cx="297.1" cy="467.3" r="0.5" fill="#e5828a"/>
<circle cx="270.9" cy="470.8" r="0.5" fill="#e5828a"/>
<circle cx="279.6" cy="445.5" r="0.5" fill="#e5828a"/>
<circle cx="282.5" cy="474" r="0.5" fill="#e5828a"/>
<circle cx="290.2" cy="440.7" r="0.5" fill="#e5828a"/>
<circle cx="289" cy="461.3" r="0.5" fill="#e5828a"/>
<circle cx="262" cy="451.8" r="0.5" fill="#e5828a"/>
<circle cx="293" cy="463" r="0.5" fill="#e5828a"/>
<circle cx="299.9" cy="464.8" r="0.5" fill="#e5828a"/>
<circle cx="269.4" cy="435.3" r="0.5" fill="#e5828a"/>
<circle cx="276.9" cy="472.3" r="0.5" fill="#e5828a"/>
<circle cx="299" cy="457.1" r="0.5" fill="#e5828a"/>
<circle cx="285.8" cy="476" r="0.5" fill="#e5828a"/>
<circle cx="270.2" cy="442.9" r="0.5" fill="#e5828a"/>
<circle cx="270.7" cy="463.6" r="0.5" fill="#e5828a"/>
<circle cx="277.3" cy="475" r="0.5" fill="#e5828a"/>
<circle cx="273.8" cy="477.4" r="0.5" fill="#e5828a"/>
<path d="M298.7 460 C298.8 462.8 298.2 462.6 296.9 465.3 C295.7 468 296.3 468.7 294.1 470.1 C291.8 471.6 291.3 470.5 288.4 470.7 C285.6 470.9 286.5 470.9 283.5 470.9 C280.5 471 279.6 472.4 277.3 470.9 C275 469.4 275.4 468.3 274.7 465.4 C274.1 462.5 274.5 462.8 274.8 460 C275.1 457.2 274.8 457.5 275.8 455.1 C276.9 452.7 276.8 452.8 278.7 450.9 C280.7 448.9 280.5 448.6 283.2 447.7 C285.9 446.7 286.4 446.3 288.9 447.4 C291.3 448.6 290.3 450.1 292.3 452.1 C294.4 454.1 294.8 452.8 296.5 454.9 C298.3 457 298.6 457.2 298.7 460 Z" fill="#d6767c"/>
</g>
<circle cx="241" cy="410" r="3.9" fill="url(#drugg)" stroke="#8e1c22" stroke-width="0.5" opacity="1.0"/>
<circle cx="253.9" cy="413.4" r="3.9" fill="url(#drugg)" stroke="#8e1c22" stroke-width="0.5" opacity="1.0"/>
<circle cx="247" cy="425.1" r="3.9" fill="url(#drugg)" stroke="#8e1c22" stroke-width="0.5" opacity="1.0"/>
<circle cx="294.7" cy="410.5" r="3.9" fill="url(#drugg)" stroke="#8e1c22" stroke-width="0.5" opacity="1.0"/>
<circle cx="309.3" cy="404" r="3.9" fill="url(#drugg)" stroke="#8e1c22" stroke-width="0.5" opacity="1.0"/>
<circle cx="305.8" cy="417.2" r="3.9" fill="url(#drugg)" stroke="#8e1c22" stroke-width="0.5" opacity="1.0"/>
<circle cx="273.5" cy="446.6" r="3.9" fill="url(#drugg)" stroke="#8e1c22" stroke-width="0.5" opacity="1.0"/>
<circle cx="285" cy="453.5" r="3.9" fill="url(#drugg)" stroke="#8e1c22" stroke-width="0.5" opacity="1.0"/>
<circle cx="270.1" cy="460.4" r="3.9" fill="url(#drugg)" stroke="#8e1c22" stroke-width="0.5" opacity="1.0"/>
<line x1="205" y1="418.4" x2="229.6" y2="418.4" stroke="#5a3a8a" stroke-width="1.1"/><line x1="205" y1="421.6" x2="229.6" y2="421.6" stroke="#5a3a8a" stroke-width="1.1"/>
<circle cx="191.5" cy="416" r="2.5" fill="#7f4fa3"/>
<circle cx="195.5" cy="415.5" r="2.5" fill="#7f4fa3"/>
<circle cx="199.5" cy="416.5" r="2.5" fill="#7f4fa3"/>
<circle cx="203.5" cy="417" r="2.5" fill="#7f4fa3"/>
<circle cx="207.5" cy="417.5" r="2.5" fill="#7f4fa3"/>
<circle cx="211.5" cy="418" r="2.5" fill="#7f4fa3"/>
<circle cx="193" cy="421.8" r="2.3" fill="#5e3182"/>
<circle cx="197" cy="422.2" r="2.3" fill="#5e3182"/>
<circle cx="201" cy="422" r="2.3" fill="#5e3182"/>
<circle cx="205" cy="422" r="2.3" fill="#5e3182"/>
<circle cx="209" cy="421.8" r="2.3" fill="#5e3182"/>
<circle cx="155.9" cy="419.2" r="22.8" fill="#f0edf0"/>
<circle cx="155.9" cy="419.2" r="21.1" fill="none" stroke="#ead9dc" stroke-width="2.7" stroke-dasharray="0.759 0.823"/>
<circle cx="155.9" cy="419.2" r="17.4" fill="none" stroke="#ead9dc" stroke-width="2.7" stroke-dasharray="0.626 0.678"/>
<circle cx="155.9" cy="419.2" r="22.8" fill="none" stroke="#e06a70" stroke-width="1.2" stroke-linecap="round" stroke-dasharray="0 1.705"/>
<circle cx="155.9" cy="419.2" r="15.8" fill="none" stroke="#e06a70" stroke-width="1.1" stroke-linecap="round" stroke-dasharray="0 1.182"/>
<circle cx="155.9" cy="419.2" r="14.6" fill="#ffffff"/>
<clipPath id="cc10"><circle cx="155.9" cy="419.2" r="14.3"/></clipPath>
<g clip-path="url(#cc10)" fill="none" stroke-width="0.7" opacity="1.0">
<ellipse cx="159.5" cy="419.5" rx="4.1" ry="3.8" transform="rotate(25 159.5 419.5)" stroke="#6a78c4"/>
<ellipse cx="147.1" cy="417.2" rx="3.3" ry="4.5" transform="rotate(6 147.1 417.2)" stroke="#6a78c4"/>
<ellipse cx="161" cy="425.1" rx="4.3" ry="3.1" transform="rotate(179.3 161 425.1)" stroke="#6a78c4"/>
<ellipse cx="162.8" cy="425.6" rx="5.7" ry="3" transform="rotate(37.1 162.8 425.6)" stroke="#98a0d8"/>
<ellipse cx="149" cy="427.1" rx="3.5" ry="2.7" transform="rotate(105.3 149 427.1)" stroke="#6a78c4"/>
<ellipse cx="165.3" cy="416.4" rx="4" ry="2.6" transform="rotate(150.6 165.3 416.4)" stroke="#98a0d8"/>
<ellipse cx="164.9" cy="420.9" rx="5.6" ry="3.7" transform="rotate(39.3 164.9 420.9)" stroke="#98a0d8"/>
<ellipse cx="155.3" cy="414.5" rx="4.9" ry="2.7" transform="rotate(7.5 155.3 414.5)" stroke="#5f6cbc"/>
<ellipse cx="153.7" cy="427" rx="4.4" ry="3.7" transform="rotate(56.9 153.7 427)" stroke="#7f88cc"/>
<ellipse cx="166.5" cy="417.6" rx="5.3" ry="2.9" transform="rotate(31.7 166.5 417.6)" stroke="#5f6cbc"/>
<ellipse cx="159.8" cy="421.8" rx="5.8" ry="3.6" transform="rotate(125.2 159.8 421.8)" stroke="#6a78c4"/>
<ellipse cx="153.1" cy="414.2" rx="3.8" ry="4.2" transform="rotate(159.3 153.1 414.2)" stroke="#6a78c4"/>
<ellipse cx="146.7" cy="421.9" rx="4.3" ry="4.1" transform="rotate(101.1 146.7 421.9)" stroke="#6a78c4"/>
<ellipse cx="154.8" cy="429.2" rx="4.9" ry="4.5" transform="rotate(36.2 154.8 429.2)" stroke="#7f88cc"/>
<ellipse cx="153.6" cy="409.5" rx="4.4" ry="3.4" transform="rotate(141.9 153.6 409.5)" stroke="#5f6cbc"/>
<ellipse cx="162.7" cy="411" rx="4.4" ry="3.6" transform="rotate(153.8 162.7 411)" stroke="#98a0d8"/>
<ellipse cx="161.8" cy="426.2" rx="5" ry="4.5" transform="rotate(138.2 161.8 426.2)" stroke="#5f6cbc"/>
<ellipse cx="146.4" cy="419.8" rx="4.3" ry="2.7" transform="rotate(17.4 146.4 419.8)" stroke="#5f6cbc"/>
<ellipse cx="145.8" cy="422.8" rx="3.3" ry="3.5" transform="rotate(110.5 145.8 422.8)" stroke="#7f88cc"/>
<ellipse cx="158.4" cy="409.1" rx="5.6" ry="3.8" transform="rotate(99.8 158.4 409.1)" stroke="#98a0d8"/>
<ellipse cx="156.6" cy="423.9" rx="4.8" ry="2.9" transform="rotate(147.5 156.6 423.9)" stroke="#5f6cbc"/>
<ellipse cx="158.4" cy="422" rx="5.3" ry="4" transform="rotate(169.7 158.4 422)" stroke="#98a0d8"/>
<ellipse cx="152.1" cy="417.1" rx="5.5" ry="2.4" transform="rotate(76.5 152.1 417.1)" stroke="#7f88cc"/>
<ellipse cx="156.2" cy="429.3" rx="3.5" ry="4.3" transform="rotate(55.3 156.2 429.3)" stroke="#7f88cc"/>
<ellipse cx="160.8" cy="416.5" rx="5.8" ry="2.2" transform="rotate(85 160.8 416.5)" stroke="#5f6cbc"/>
<ellipse cx="155.6" cy="424" rx="5.4" ry="3" transform="rotate(72.2 155.6 424)" stroke="#98a0d8"/>
<ellipse cx="152.3" cy="422.4" rx="3.5" ry="3" transform="rotate(125.6 152.3 422.4)" stroke="#5f6cbc"/>
<ellipse cx="159.7" cy="422.4" rx="5.9" ry="4.3" transform="rotate(124.8 159.7 422.4)" stroke="#98a0d8"/>
<ellipse cx="147.6" cy="421.8" rx="4.9" ry="3.2" transform="rotate(12.2 147.6 421.8)" stroke="#7f88cc"/>
<ellipse cx="153.7" cy="426.3" rx="2.9" ry="2.1" transform="rotate(68.3 153.7 426.3)" stroke="#5f6cbc"/>
<ellipse cx="152.7" cy="428.9" rx="4.7" ry="3.1" transform="rotate(139.9 152.7 428.9)" stroke="#7f88cc"/>
<ellipse cx="156.2" cy="423.2" rx="4.9" ry="4" transform="rotate(153 156.2 423.2)" stroke="#7f88cc"/>
<ellipse cx="166" cy="420.5" rx="4.4" ry="2.9" transform="rotate(84.4 166 420.5)" stroke="#5f6cbc"/>
<ellipse cx="153.5" cy="425.4" rx="5" ry="3.5" transform="rotate(39.9 153.5 425.4)" stroke="#98a0d8"/>
<ellipse cx="163.6" cy="421.6" rx="5.9" ry="2.7" transform="rotate(152.7 163.6 421.6)" stroke="#98a0d8"/>
<ellipse cx="153.4" cy="413.6" rx="6" ry="4.1" transform="rotate(11.1 153.4 413.6)" stroke="#7f88cc"/>
<ellipse cx="154.7" cy="409.9" rx="4.2" ry="4" transform="rotate(55.6 154.7 409.9)" stroke="#6a78c4"/>
<ellipse cx="160.6" cy="417.2" rx="5.6" ry="3.5" transform="rotate(13.8 160.6 417.2)" stroke="#98a0d8"/>
<ellipse cx="158.2" cy="412.5" rx="4.4" ry="3.3" transform="rotate(123.4 158.2 412.5)" stroke="#5f6cbc"/>
<ellipse cx="156.9" cy="429.8" rx="4.3" ry="3" transform="rotate(168.6 156.9 429.8)" stroke="#98a0d8"/>
</g>
<circle cx="155.9" cy="419.2" r="13.7" fill="none" stroke="#6a78c4" stroke-width="0.7" opacity="0.8"/>
<circle cx="150.2" cy="416.3" r="2.7" fill="url(#drugg)" stroke="#8e1c22" stroke-width="0.5" opacity="1.0"/>
<circle cx="159.3" cy="415.2" r="2.7" fill="url(#drugg)" stroke="#8e1c22" stroke-width="0.5" opacity="1.0"/>
<circle cx="157.7" cy="423.9" r="2.7" fill="url(#drugg)" stroke="#8e1c22" stroke-width="0.5" opacity="1.0"/>
<path d="M138.2 404.9 L138.3 404.3 L138.3 403.9 L138.2 403.7 L137.8 403.8 L137.4 404 L136.8 404.3 L136.4 404.4 L136.1 404.4 L136.1 404.1 L136.1 403.6 L136.3 403.1 L136.4 402.6 L136.3 402.2 L136.1 402.2 L135.7 402.3 L135.2 402.5 L134.7 402.8 L134.3 402.9 L134.1 402.7 L134.1 402.4 L134.2 401.8 L134.4 401.3 L134.4 400.8 L134.3 400.6" fill="none" stroke="#a36b6b" stroke-width="0.7"/>
<circle cx="131.9" cy="399.8" r="3" fill="#9460c8"/>
<path d="M163.3 397.6 L163.7 397.6 L164.1 397.5 L164.3 397.3 L164.3 397.1 L164.1 396.8 L163.8 396.5 L163.4 396.2 L163.1 395.9 L163 395.6 L163.1 395.5 L163.4 395.3 L163.8 395.3 L164.3 395.2 L164.8 395.2 L165.1 395.1 L165.1 394.9 L165 394.6 L164.7 394.3 L164.4 394 L164 393.7 L163.9 393.4 L163.8 393.2 L164.1 393 L164.4 392.9" fill="none" stroke="#a36b6b" stroke-width="0.7"/>
<circle cx="165.6" cy="390.8" r="3" fill="#9460c8"/>
<path d="M136.4 431 L135.9 430.7 L135.5 430.5 L135.3 430.6 L135.3 431 L135.3 431.6 L135.4 432.2 L135.4 432.6 L135.2 432.8 L134.8 432.7 L134.3 432.4 L133.9 432 L133.5 431.8 L133.2 431.9 L133.1 432.2 L133.2 432.8 L133.2 433.4 L133.2 433.8 L133.1 434.1 L132.8 434 L132.3 433.7 L131.8 433.4 L131.4 433.2 L131.1 433.2 L131 433.5" fill="none" stroke="#a36b6b" stroke-width="0.7"/>
<circle cx="129.3" cy="435.3" r="3" fill="#9460c8"/>
<path d="M164.2 440.4 L163.8 440.8 L163.6 441.1 L163.6 441.4 L163.9 441.5 L164.3 441.6 L164.8 441.6 L165.3 441.7 L165.6 441.8 L165.7 442 L165.6 442.3 L165.2 442.6 L164.9 443 L164.6 443.4 L164.5 443.6 L164.7 443.8 L165 443.9 L165.6 443.9 L166.1 444 L166.5 444 L166.6 444.2 L166.6 444.5 L166.3 444.8 L165.9 445.2 L165.6 445.6" fill="none" stroke="#a36b6b" stroke-width="0.7"/>
<circle cx="167" cy="447.6" r="3" fill="#9460c8"/>
<path d="M178.7 418.7 L178.9 419.2 L179.1 419.5 L179.3 419.6 L179.5 419.5 L179.7 419.2 L179.9 418.8 L180.1 418.3 L180.3 418 L180.5 417.8 L180.7 417.9 L180.9 418.2 L181.1 418.6 L181.4 419 L181.6 419.4 L181.8 419.6 L182 419.5 L182.2 419.2 L182.4 418.8 L182.6 418.4 L182.8 418 L183 417.8 L183.2 417.8 L183.4 418 L183.6 418.4" fill="none" stroke="#a36b6b" stroke-width="0.7"/>
<circle cx="186" cy="418.6" r="3" fill="#9460c8"/>
<circle cx="353.8" cy="417.1" r="22.8" fill="#f0edf0"/>
<circle cx="353.8" cy="417.1" r="21.1" fill="none" stroke="#ead9dc" stroke-width="2.7" stroke-dasharray="0.759 0.823"/>
<circle cx="353.8" cy="417.1" r="17.4" fill="none" stroke="#ead9dc" stroke-width="2.7" stroke-dasharray="0.626 0.678"/>
<circle cx="353.8" cy="417.1" r="22.8" fill="none" stroke="#e06a70" stroke-width="1.2" stroke-linecap="round" stroke-dasharray="0 1.705"/>
<circle cx="353.8" cy="417.1" r="15.8" fill="none" stroke="#e06a70" stroke-width="1.1" stroke-linecap="round" stroke-dasharray="0 1.182"/>
<circle cx="353.8" cy="417.1" r="14.6" fill="#ffffff"/>
<clipPath id="cc11"><circle cx="353.8" cy="417.1" r="14.3"/></clipPath>
<g clip-path="url(#cc11)" fill="none" stroke-width="0.7" opacity="1.0">
<ellipse cx="358.2" cy="419.4" rx="3.8" ry="4.3" transform="rotate(89.3 358.2 419.4)" stroke="#6a78c4"/>
<ellipse cx="360" cy="421.6" rx="5.5" ry="3.4" transform="rotate(170 360 421.6)" stroke="#98a0d8"/>
<ellipse cx="353.6" cy="417.3" rx="5.2" ry="2.5" transform="rotate(1.7 353.6 417.3)" stroke="#7f88cc"/>
<ellipse cx="359.2" cy="408.1" rx="3.5" ry="2.3" transform="rotate(21.7 359.2 408.1)" stroke="#6a78c4"/>
<ellipse cx="352.8" cy="410.1" rx="4.2" ry="4.4" transform="rotate(100 352.8 410.1)" stroke="#7f88cc"/>
<ellipse cx="356.9" cy="422.2" rx="5.8" ry="2.6" transform="rotate(146.6 356.9 422.2)" stroke="#5f6cbc"/>
<ellipse cx="346.4" cy="413.7" rx="5.3" ry="3.6" transform="rotate(41.3 346.4 413.7)" stroke="#5f6cbc"/>
<ellipse cx="361.5" cy="421.2" rx="5.5" ry="2.8" transform="rotate(125.4 361.5 421.2)" stroke="#98a0d8"/>
<ellipse cx="358.3" cy="417.4" rx="3.4" ry="4.6" transform="rotate(155.4 358.3 417.4)" stroke="#7f88cc"/>
<ellipse cx="352.6" cy="415.1" rx="3.8" ry="3.1" transform="rotate(34.8 352.6 415.1)" stroke="#6a78c4"/>
<ellipse cx="346.2" cy="417.6" rx="4.5" ry="2.9" transform="rotate(64.9 346.2 417.6)" stroke="#98a0d8"/>
<ellipse cx="363.4" cy="414.3" rx="4.8" ry="3.4" transform="rotate(91.6 363.4 414.3)" stroke="#7f88cc"/>
<ellipse cx="347.7" cy="422.6" rx="4" ry="4.2" transform="rotate(172.4 347.7 422.6)" stroke="#7f88cc"/>
<ellipse cx="346.1" cy="411.2" rx="4.9" ry="2.5" transform="rotate(44.6 346.1 411.2)" stroke="#6a78c4"/>
<ellipse cx="350.3" cy="417.1" rx="2.9" ry="4.2" transform="rotate(30 350.3 417.1)" stroke="#5f6cbc"/>
<ellipse cx="355" cy="410.3" rx="3.6" ry="3.1" transform="rotate(176.1 355 410.3)" stroke="#98a0d8"/>
<ellipse cx="357.1" cy="422.7" rx="3.1" ry="3.9" transform="rotate(176.3 357.1 422.7)" stroke="#7f88cc"/>
<ellipse cx="359.9" cy="423.6" rx="3.7" ry="3.8" transform="rotate(66 359.9 423.6)" stroke="#6a78c4"/>
<ellipse cx="354.7" cy="415.3" rx="5.9" ry="2.6" transform="rotate(0.7 354.7 415.3)" stroke="#7f88cc"/>
<ellipse cx="349.5" cy="408.7" rx="4" ry="2.4" transform="rotate(57.3 349.5 408.7)" stroke="#7f88cc"/>
<ellipse cx="354.7" cy="424.2" rx="4.3" ry="4.3" transform="rotate(1 354.7 424.2)" stroke="#5f6cbc"/>
<ellipse cx="356.6" cy="417.4" rx="4" ry="3.9" transform="rotate(21.7 356.6 417.4)" stroke="#7f88cc"/>
<ellipse cx="363.6" cy="415.3" rx="5.2" ry="2.3" transform="rotate(106.1 363.6 415.3)" stroke="#7f88cc"/>
<ellipse cx="351" cy="417" rx="3.4" ry="4.5" transform="rotate(175.8 351 417)" stroke="#7f88cc"/>
<ellipse cx="360.2" cy="416.1" rx="4.9" ry="3" transform="rotate(110.8 360.2 416.1)" stroke="#6a78c4"/>
<ellipse cx="349.1" cy="412.6" rx="2.9" ry="3.4" transform="rotate(135.4 349.1 412.6)" stroke="#7f88cc"/>
<ellipse cx="360.7" cy="422.6" rx="4.9" ry="2.7" transform="rotate(102.2 360.7 422.6)" stroke="#6a78c4"/>
<ellipse cx="348.7" cy="411.3" rx="3.3" ry="2.8" transform="rotate(37.1 348.7 411.3)" stroke="#7f88cc"/>
<ellipse cx="350.9" cy="425.3" rx="5.2" ry="4.2" transform="rotate(7 350.9 425.3)" stroke="#98a0d8"/>
<ellipse cx="363.2" cy="414.9" rx="3.7" ry="2.5" transform="rotate(103 363.2 414.9)" stroke="#98a0d8"/>
<ellipse cx="350.4" cy="427" rx="2.9" ry="3" transform="rotate(140.5 350.4 427)" stroke="#7f88cc"/>
<ellipse cx="353.5" cy="427.4" rx="3.8" ry="4.6" transform="rotate(124 353.5 427.4)" stroke="#6a78c4"/>
<ellipse cx="352.4" cy="413.1" rx="3" ry="2.7" transform="rotate(43.9 352.4 413.1)" stroke="#6a78c4"/>
<ellipse cx="356.3" cy="409.1" rx="4.6" ry="2.3" transform="rotate(176.9 356.3 409.1)" stroke="#5f6cbc"/>
<ellipse cx="346.6" cy="424.2" rx="4" ry="3.5" transform="rotate(101.4 346.6 424.2)" stroke="#98a0d8"/>
<ellipse cx="358.7" cy="414.8" rx="5.1" ry="4.3" transform="rotate(26.7 358.7 414.8)" stroke="#5f6cbc"/>
<ellipse cx="351.8" cy="419.9" rx="4" ry="3.6" transform="rotate(141.6 351.8 419.9)" stroke="#6a78c4"/>
<ellipse cx="348.1" cy="411.1" rx="5" ry="3.5" transform="rotate(2.7 348.1 411.1)" stroke="#5f6cbc"/>
<ellipse cx="352.8" cy="422.2" rx="5.6" ry="3.2" transform="rotate(75.4 352.8 422.2)" stroke="#6a78c4"/>
<ellipse cx="347.6" cy="410.8" rx="5.6" ry="3.8" transform="rotate(14.3 347.6 410.8)" stroke="#6a78c4"/>
</g>
<circle cx="353.8" cy="417.1" r="13.7" fill="none" stroke="#6a78c4" stroke-width="0.7" opacity="0.8"/>
<circle cx="350.4" cy="411.7" r="2.7" fill="url(#drugg)" stroke="#8e1c22" stroke-width="0.5" opacity="1.0"/>
<circle cx="358.6" cy="415.4" r="2.7" fill="url(#drugg)" stroke="#8e1c22" stroke-width="0.5" opacity="1.0"/>
<circle cx="353" cy="422.2" r="2.7" fill="url(#drugg)" stroke="#8e1c22" stroke-width="0.5" opacity="1.0"/>
<path d="M346.3 395.6 L346.6 395.3 L346.9 395 L346.9 394.7 L346.8 394.6 L346.6 394.5 L346.1 394.4 L345.7 394.4 L345.3 394.3 L345 394.2 L344.8 394.1 L344.9 393.9 L345.1 393.6 L345.4 393.3 L345.7 392.9 L346 392.7 L346.1 392.4 L346 392.2 L345.8 392.1 L345.4 392.1 L344.9 392 L344.5 392 L344.2 391.9 L344 391.7 L344 391.5" fill="none" stroke="#a36b6b" stroke-width="0.7"/>
<circle cx="344" cy="389" r="3" fill="#c9393f"/>
<path d="M371.6 402.8 L372 403 L372.3 403.1 L372.5 403.1 L372.7 403 L372.7 402.7 L372.6 402.3 L372.5 401.9 L372.4 401.5 L372.4 401.1 L372.4 400.9 L372.6 400.9 L372.9 401 L373.3 401.1 L373.7 401.3 L374.1 401.5 L374.4 401.6 L374.6 401.5 L374.6 401.3 L374.6 401 L374.5 400.5 L374.4 400.1 L374.3 399.7 L374.3 399.4 L374.5 399.3" fill="none" stroke="#a36b6b" stroke-width="0.7"/>
<circle cx="376.9" cy="398.5" r="3" fill="#c9393f"/>
<path d="M331 417.3 L330.8 417 L330.7 416.7 L330.5 416.5 L330.3 416.5 L330.1 416.6 L330 416.9 L329.8 417.2 L329.6 417.6 L329.5 417.9 L329.3 418.2 L329.1 418.3 L329 418.2 L328.8 417.9 L328.6 417.6 L328.4 417.2 L328.3 416.9 L328.1 416.6 L327.9 416.5 L327.7 416.5 L327.6 416.7 L327.4 417 L327.2 417.4 L327.1 417.8 L326.9 418.1" fill="none" stroke="#a36b6b" stroke-width="0.7"/>
<circle cx="324.5" cy="417.4" r="3" fill="#c9393f"/>
<path d="M373.7 428.2 L373.7 428.7 L373.7 429.1 L373.8 429.3 L374 429.3 L374.4 429.1 L374.8 428.9 L375.2 428.6 L375.5 428.4 L375.8 428.3 L375.9 428.5 L375.9 428.9 L375.9 429.4 L375.9 429.9 L375.9 430.3 L376 430.5 L376.2 430.5 L376.5 430.4 L376.9 430.1 L377.3 429.8 L377.6 429.6 L377.9 429.6 L378.1 429.7 L378.1 430 L378.1 430.5" fill="none" stroke="#a36b6b" stroke-width="0.7"/>
<circle cx="380.1" cy="431.8" r="3" fill="#c9393f"/>
<path d="M350.6 439.7 L350.2 439.8 L349.8 440 L349.7 440.2 L349.8 440.4 L350.1 440.7 L350.5 440.9 L350.9 441.2 L351.2 441.5 L351.3 441.7 L351.1 441.9 L350.7 442 L350.2 442.2 L349.7 442.3 L349.4 442.5 L349.3 442.7 L349.5 442.9 L349.8 443.2 L350.3 443.5 L350.7 443.8 L350.9 444 L350.9 444.2 L350.7 444.4 L350.2 444.5 L349.7 444.7" fill="none" stroke="#a36b6b" stroke-width="0.7"/>
<circle cx="349.6" cy="447.1" r="3" fill="#c9393f"/>
<circle cx="194" cy="491.6" r="22.8" fill="#f0edf0"/>
<circle cx="194" cy="491.6" r="21.1" fill="none" stroke="#ead9dc" stroke-width="2.7" stroke-dasharray="0.759 0.823"/>
<circle cx="194" cy="491.6" r="17.4" fill="none" stroke="#ead9dc" stroke-width="2.7" stroke-dasharray="0.626 0.678"/>
<circle cx="194" cy="491.6" r="22.8" fill="none" stroke="#e06a70" stroke-width="1.2" stroke-linecap="round" stroke-dasharray="0 1.705"/>
<circle cx="194" cy="491.6" r="15.8" fill="none" stroke="#e06a70" stroke-width="1.1" stroke-linecap="round" stroke-dasharray="0 1.182"/>
<circle cx="194" cy="491.6" r="14.6" fill="#ffffff"/>
<clipPath id="cc12"><circle cx="194" cy="491.6" r="14.3"/></clipPath>
<g clip-path="url(#cc12)" fill="none" stroke-width="0.7" opacity="1.0">
<ellipse cx="186.3" cy="488" rx="5.4" ry="2.8" transform="rotate(117.3 186.3 488)" stroke="#7f88cc"/>
<ellipse cx="204.1" cy="490.3" rx="5.8" ry="2.9" transform="rotate(123.7 204.1 490.3)" stroke="#98a0d8"/>
<ellipse cx="184.2" cy="495.1" rx="4.9" ry="2.9" transform="rotate(55.7 184.2 495.1)" stroke="#98a0d8"/>
<ellipse cx="201.4" cy="486.1" rx="5.6" ry="3.8" transform="rotate(146.7 201.4 486.1)" stroke="#5f6cbc"/>
<ellipse cx="201.2" cy="488.1" rx="5" ry="2.4" transform="rotate(10.1 201.2 488.1)" stroke="#5f6cbc"/>
<ellipse cx="204.7" cy="491.3" rx="3.1" ry="3" transform="rotate(117.6 204.7 491.3)" stroke="#7f88cc"/>
<ellipse cx="188" cy="491.1" rx="4" ry="3.7" transform="rotate(99.9 188 491.1)" stroke="#98a0d8"/>
<ellipse cx="195.4" cy="494.9" rx="3" ry="4.3" transform="rotate(134.5 195.4 494.9)" stroke="#6a78c4"/>
<ellipse cx="197" cy="492.9" rx="5.4" ry="2.2" transform="rotate(73.8 197 492.9)" stroke="#5f6cbc"/>
<ellipse cx="195.4" cy="496.1" rx="4.9" ry="3.3" transform="rotate(85.2 195.4 496.1)" stroke="#5f6cbc"/>
<ellipse cx="187.9" cy="487.7" rx="5.6" ry="3.3" transform="rotate(1.7 187.9 487.7)" stroke="#98a0d8"/>
<ellipse cx="187.1" cy="498.1" rx="3.2" ry="4.3" transform="rotate(2.7 187.1 498.1)" stroke="#98a0d8"/>
<ellipse cx="192.3" cy="481.7" rx="5.5" ry="4.2" transform="rotate(163.8 192.3 481.7)" stroke="#98a0d8"/>
<ellipse cx="197.1" cy="492.3" rx="4.8" ry="3.9" transform="rotate(83.3 197.1 492.3)" stroke="#98a0d8"/>
<ellipse cx="200.5" cy="489.4" rx="4.3" ry="3.7" transform="rotate(136.4 200.5 489.4)" stroke="#98a0d8"/>
<ellipse cx="200.7" cy="492.5" rx="5.4" ry="2.9" transform="rotate(19 200.7 492.5)" stroke="#7f88cc"/>
<ellipse cx="199.2" cy="488.5" rx="5.9" ry="4.4" transform="rotate(31 199.2 488.5)" stroke="#5f6cbc"/>
<ellipse cx="197.5" cy="485.4" rx="5.4" ry="4.4" transform="rotate(156.4 197.5 485.4)" stroke="#6a78c4"/>
<ellipse cx="199" cy="484.7" rx="5.1" ry="2.7" transform="rotate(16.6 199 484.7)" stroke="#5f6cbc"/>
<ellipse cx="195.7" cy="489.2" rx="3.2" ry="4.2" transform="rotate(35.8 195.7 489.2)" stroke="#6a78c4"/>
<ellipse cx="202.1" cy="495.1" rx="2.9" ry="3.2" transform="rotate(95.1 202.1 495.1)" stroke="#5f6cbc"/>
<ellipse cx="204.4" cy="492" rx="4.2" ry="4.4" transform="rotate(146.5 204.4 492)" stroke="#7f88cc"/>
<ellipse cx="184.9" cy="494.1" rx="4.7" ry="2.7" transform="rotate(100.2 184.9 494.1)" stroke="#6a78c4"/>
<ellipse cx="192.4" cy="494.4" rx="5.7" ry="3.4" transform="rotate(55.7 192.4 494.4)" stroke="#6a78c4"/>
<ellipse cx="194.3" cy="481.8" rx="2.9" ry="2.2" transform="rotate(155.2 194.3 481.8)" stroke="#5f6cbc"/>
<ellipse cx="192.2" cy="495" rx="3.9" ry="3" transform="rotate(89.2 192.2 495)" stroke="#98a0d8"/>
<ellipse cx="192.7" cy="501.5" rx="4.5" ry="4.2" transform="rotate(46.5 192.7 501.5)" stroke="#7f88cc"/>
<ellipse cx="190.7" cy="493.6" rx="5.4" ry="3.5" transform="rotate(82.8 190.7 493.6)" stroke="#7f88cc"/>
<ellipse cx="195.6" cy="491.7" rx="3.3" ry="2.6" transform="rotate(132.5 195.6 491.7)" stroke="#7f88cc"/>
<ellipse cx="190.6" cy="500.8" rx="2.9" ry="3.2" transform="rotate(68.9 190.6 500.8)" stroke="#5f6cbc"/>
<ellipse cx="199.4" cy="490.1" rx="5.3" ry="2.8" transform="rotate(70.9 199.4 490.1)" stroke="#6a78c4"/>
<ellipse cx="191.9" cy="494.6" rx="5.9" ry="3.7" transform="rotate(172.2 191.9 494.6)" stroke="#5f6cbc"/>
<ellipse cx="194.4" cy="498.2" rx="5.5" ry="3.8" transform="rotate(23.2 194.4 498.2)" stroke="#7f88cc"/>
<ellipse cx="195.6" cy="485.1" rx="5.6" ry="2.3" transform="rotate(112.2 195.6 485.1)" stroke="#7f88cc"/>
<ellipse cx="195.8" cy="481.7" rx="5.4" ry="4.2" transform="rotate(127.5 195.8 481.7)" stroke="#5f6cbc"/>
<ellipse cx="192.7" cy="481.5" rx="4.8" ry="2.7" transform="rotate(120.3 192.7 481.5)" stroke="#98a0d8"/>
<ellipse cx="196.3" cy="484.8" rx="4.1" ry="2.4" transform="rotate(138.3 196.3 484.8)" stroke="#7f88cc"/>
<ellipse cx="192.2" cy="501.2" rx="3.2" ry="2.6" transform="rotate(59.3 192.2 501.2)" stroke="#7f88cc"/>
<ellipse cx="196" cy="488.2" rx="3.6" ry="4.1" transform="rotate(170.4 196 488.2)" stroke="#98a0d8"/>
<ellipse cx="202.5" cy="485.8" rx="4.7" ry="2.4" transform="rotate(157.3 202.5 485.8)" stroke="#6a78c4"/>
</g>
<circle cx="194" cy="491.6" r="13.7" fill="none" stroke="#6a78c4" stroke-width="0.7" opacity="0.8"/>
<circle cx="187.6" cy="491" r="2.7" fill="url(#drugg)" stroke="#8e1c22" stroke-width="0.5" opacity="1.0"/>
<circle cx="195.3" cy="486.3" r="2.7" fill="url(#drugg)" stroke="#8e1c22" stroke-width="0.5" opacity="1.0"/>
<circle cx="197.2" cy="494.9" r="2.7" fill="url(#drugg)" stroke="#8e1c22" stroke-width="0.5" opacity="1.0"/>
<path d="M192.7 468.8 L193.1 468.6 L193.4 468.4 L193.5 468.2 L193.5 468 L193.3 467.9 L192.9 467.7 L192.5 467.5 L192.1 467.4 L191.8 467.2 L191.7 467 L191.8 466.8 L192 466.6 L192.4 466.4 L192.8 466.2 L193.1 466 L193.4 465.8 L193.4 465.6 L193.3 465.5 L193 465.3 L192.6 465.1 L192.2 465 L191.8 464.8 L191.6 464.6 L191.6 464.4" fill="none" stroke="#a36b6b" stroke-width="0.7"/>
<circle cx="192.3" cy="462" r="3" fill="#2a7fb5"/>
<path d="M172.2 484.9 L172.2 484.4 L172.1 484.1 L172 483.9 L171.8 483.8 L171.6 483.9 L171.3 484.1 L171.1 484.4 L170.8 484.8 L170.5 485 L170.3 485.2 L170.1 485.1 L170 484.9 L169.9 484.6 L169.8 484.2 L169.8 483.8 L169.7 483.4 L169.6 483.2 L169.5 483.1 L169.3 483.1 L169 483.3 L168.7 483.6 L168.5 484 L168.2 484.2 L167.9 484.4" fill="none" stroke="#a36b6b" stroke-width="0.7"/>
<circle cx="165.9" cy="482.9" r="3" fill="#2a7fb5"/>
<path d="M214.6 481.9 L215 482.2 L215.3 482.4 L215.5 482.5 L215.7 482.4 L215.7 482.1 L215.8 481.7 L215.8 481.3 L215.8 480.8 L215.8 480.5 L215.9 480.3 L216.1 480.3 L216.4 480.4 L216.7 480.7 L217 481 L217.4 481.2 L217.6 481.4 L217.8 481.4 L218 481.2 L218 480.9 L218 480.5 L218 480 L218 479.6 L218.1 479.3 L218.2 479.2" fill="none" stroke="#a36b6b" stroke-width="0.7"/>
<circle cx="220.8" cy="479" r="3" fill="#2a7fb5"/>
<path d="M180.5 510 L180.1 509.9 L179.7 509.8 L179.5 509.9 L179.4 510 L179.4 510.2 L179.5 510.4 L179.6 510.8 L179.8 511.1 L180 511.5 L180.1 511.8 L180.1 512 L180 512.1 L179.8 512.1 L179.4 512.1 L179 512 L178.6 511.9 L178.3 511.8 L178 511.9 L177.9 512 L177.9 512.2 L178 512.4 L178.1 512.8 L178.3 513.1 L178.5 513.5" fill="none" stroke="#a36b6b" stroke-width="0.7"/>
<circle cx="176.7" cy="515.1" r="3" fill="#2a7fb5"/>
<path d="M210.1 507.8 L209.9 508.2 L209.8 508.6 L209.9 508.8 L210.1 508.9 L210.4 508.9 L210.8 508.7 L211.2 508.5 L211.7 508.4 L211.9 508.4 L212.1 508.5 L212.1 508.8 L212 509.2 L211.8 509.7 L211.7 510.1 L211.6 510.4 L211.7 510.6 L211.9 510.7 L212.2 510.6 L212.7 510.4 L213.1 510.3 L213.5 510.2 L213.8 510.2 L213.9 510.4 L213.8 510.7" fill="none" stroke="#a36b6b" stroke-width="0.7"/>
<circle cx="215.1" cy="512.8" r="3" fill="#2a7fb5"/>
<circle cx="382.7" cy="493.3" r="22.8" fill="#f0edf0"/>
<circle cx="382.7" cy="493.3" r="21.1" fill="none" stroke="#ead9dc" stroke-width="2.7" stroke-dasharray="0.759 0.823"/>
<circle cx="382.7" cy="493.3" r="17.4" fill="none" stroke="#ead9dc" stroke-width="2.7" stroke-dasharray="0.626 0.678"/>
<circle cx="382.7" cy="493.3" r="22.8" fill="none" stroke="#e06a70" stroke-width="1.2" stroke-linecap="round" stroke-dasharray="0 1.705"/>
<circle cx="382.7" cy="493.3" r="15.8" fill="none" stroke="#e06a70" stroke-width="1.1" stroke-linecap="round" stroke-dasharray="0 1.182"/>
<circle cx="382.7" cy="493.3" r="14.6" fill="#ffffff"/>
<clipPath id="cc13"><circle cx="382.7" cy="493.3" r="14.3"/></clipPath>
<g clip-path="url(#cc13)" fill="none" stroke-width="0.7" opacity="1.0">
<ellipse cx="374.6" cy="491.8" rx="5.5" ry="4.3" transform="rotate(158.8 374.6 491.8)" stroke="#5f6cbc"/>
<ellipse cx="385.3" cy="492.5" rx="5.9" ry="3" transform="rotate(105.1 385.3 492.5)" stroke="#7f88cc"/>
<ellipse cx="387.9" cy="496.9" rx="2.9" ry="2.5" transform="rotate(94.3 387.9 496.9)" stroke="#6a78c4"/>
<ellipse cx="376.4" cy="500.1" rx="5.1" ry="2.3" transform="rotate(69.6 376.4 500.1)" stroke="#7f88cc"/>
<ellipse cx="375.4" cy="488.8" rx="3.8" ry="2.9" transform="rotate(37.1 375.4 488.8)" stroke="#7f88cc"/>
<ellipse cx="376.4" cy="488.2" rx="4.1" ry="3.2" transform="rotate(44.7 376.4 488.2)" stroke="#6a78c4"/>
<ellipse cx="374.6" cy="488.8" rx="5.4" ry="2.8" transform="rotate(21.1 374.6 488.8)" stroke="#5f6cbc"/>
<ellipse cx="386.8" cy="490.8" rx="3.4" ry="4" transform="rotate(163.1 386.8 490.8)" stroke="#98a0d8"/>
<ellipse cx="384.8" cy="490.9" rx="5.2" ry="4.5" transform="rotate(75.6 384.8 490.9)" stroke="#98a0d8"/>
<ellipse cx="378.1" cy="498.7" rx="3.3" ry="2.5" transform="rotate(56 378.1 498.7)" stroke="#5f6cbc"/>
<ellipse cx="374.5" cy="492.4" rx="3.8" ry="4.4" transform="rotate(73.4 374.5 492.4)" stroke="#5f6cbc"/>
<ellipse cx="383.5" cy="483.1" rx="5.1" ry="3" transform="rotate(133.9 383.5 483.1)" stroke="#98a0d8"/>
<ellipse cx="391.1" cy="497" rx="3.9" ry="2.9" transform="rotate(138.5 391.1 497)" stroke="#98a0d8"/>
<ellipse cx="379.2" cy="498.7" rx="3.7" ry="4.4" transform="rotate(110.6 379.2 498.7)" stroke="#5f6cbc"/>
<ellipse cx="373.2" cy="492.6" rx="3.4" ry="2.4" transform="rotate(47.3 373.2 492.6)" stroke="#6a78c4"/>
<ellipse cx="387.7" cy="487.1" rx="5.3" ry="2.8" transform="rotate(125 387.7 487.1)" stroke="#7f88cc"/>
<ellipse cx="378.2" cy="494.2" rx="4.9" ry="3.9" transform="rotate(67.8 378.2 494.2)" stroke="#7f88cc"/>
<ellipse cx="387.4" cy="497.2" rx="3.4" ry="2.5" transform="rotate(133.7 387.4 497.2)" stroke="#98a0d8"/>
<ellipse cx="379.9" cy="483.8" rx="5.2" ry="4.2" transform="rotate(108.7 379.9 483.8)" stroke="#98a0d8"/>
<ellipse cx="392.3" cy="494.7" rx="4.8" ry="3.7" transform="rotate(30.4 392.3 494.7)" stroke="#6a78c4"/>
<ellipse cx="374.4" cy="499.6" rx="3.8" ry="4.5" transform="rotate(149.8 374.4 499.6)" stroke="#98a0d8"/>
<ellipse cx="376" cy="494.9" rx="4.7" ry="3.8" transform="rotate(79.9 376 494.9)" stroke="#5f6cbc"/>
<ellipse cx="382.9" cy="484.9" rx="3.2" ry="2.7" transform="rotate(129.9 382.9 484.9)" stroke="#5f6cbc"/>
<ellipse cx="380" cy="488.3" rx="5.6" ry="4" transform="rotate(87.3 380 488.3)" stroke="#5f6cbc"/>
<ellipse cx="383" cy="503.6" rx="4" ry="2.4" transform="rotate(61.5 383 503.6)" stroke="#5f6cbc"/>
<ellipse cx="383.2" cy="482.6" rx="4" ry="3.7" transform="rotate(57.9 383.2 482.6)" stroke="#7f88cc"/>
<ellipse cx="377.3" cy="498.2" rx="2.9" ry="3.9" transform="rotate(103.9 377.3 498.2)" stroke="#98a0d8"/>
<ellipse cx="389.7" cy="485.6" rx="4.6" ry="4.2" transform="rotate(78.3 389.7 485.6)" stroke="#6a78c4"/>
<ellipse cx="386.3" cy="499.5" rx="3.2" ry="3.3" transform="rotate(173.3 386.3 499.5)" stroke="#5f6cbc"/>
<ellipse cx="382.7" cy="491" rx="6" ry="3.4" transform="rotate(121.5 382.7 491)" stroke="#98a0d8"/>
<ellipse cx="379.8" cy="497.4" rx="5.4" ry="4" transform="rotate(67.6 379.8 497.4)" stroke="#7f88cc"/>
<ellipse cx="382" cy="490.5" rx="4.6" ry="4.1" transform="rotate(9.4 382 490.5)" stroke="#6a78c4"/>
<ellipse cx="382.2" cy="499.7" rx="3.9" ry="2.9" transform="rotate(175.3 382.2 499.7)" stroke="#98a0d8"/>
<ellipse cx="384.9" cy="485.6" rx="3.8" ry="3.3" transform="rotate(106.5 384.9 485.6)" stroke="#5f6cbc"/>
<ellipse cx="379.6" cy="497.4" rx="3" ry="4.3" transform="rotate(41.9 379.6 497.4)" stroke="#5f6cbc"/>
<ellipse cx="375.8" cy="494.3" rx="5" ry="2.7" transform="rotate(85.3 375.8 494.3)" stroke="#5f6cbc"/>
<ellipse cx="381.4" cy="490.9" rx="4.4" ry="3.9" transform="rotate(49.1 381.4 490.9)" stroke="#5f6cbc"/>
<ellipse cx="374.8" cy="490.3" rx="5.8" ry="3.1" transform="rotate(66.2 374.8 490.3)" stroke="#98a0d8"/>
<ellipse cx="379.7" cy="486.2" rx="5.2" ry="3.1" transform="rotate(38.7 379.7 486.2)" stroke="#6a78c4"/>
<ellipse cx="386.8" cy="491.5" rx="5.7" ry="4.5" transform="rotate(117.9 386.8 491.5)" stroke="#5f6cbc"/>
</g>
<circle cx="382.7" cy="493.3" r="13.7" fill="none" stroke="#6a78c4" stroke-width="0.7" opacity="0.8"/>
<circle cx="380.5" cy="487" r="2.7" fill="url(#drugg)" stroke="#8e1c22" stroke-width="0.5" opacity="1.0"/>
<circle cx="388.2" cy="492.4" r="2.7" fill="url(#drugg)" stroke="#8e1c22" stroke-width="0.5" opacity="1.0"/>
<circle cx="380.8" cy="497.8" r="2.7" fill="url(#drugg)" stroke="#8e1c22" stroke-width="0.5" opacity="1.0"/>
<path d="M380.6 470.6 L381.1 470.3 L381.4 470 L381.4 469.7 L381 469.5 L380.4 469.3 L379.8 469.1 L379.5 468.9 L379.6 468.6 L380 468.3 L380.6 468 L381 467.7 L381.2 467.4 L381 467.2 L380.5 467 L379.9 466.7 L379.4 466.5 L379.3 466.3 L379.5 466 L380 465.7 L380.5 465.4 L380.9 465.1 L380.9 464.8 L380.6 464.6 L380.1 464.4" fill="none" stroke="#a36b6b" stroke-width="0.7"/>
<circle cx="379.8" cy="462" r="3" fill="#d9772a"/>
<path d="M403 482.8 L403.4 483.2 L403.8 483.4 L404 483.3 L404.1 482.9 L404.1 482.3 L404 481.7 L404.1 481.3 L404.3 481.2 L404.7 481.3 L405.2 481.7 L405.6 482 L406 482.2 L406.2 482.1 L406.3 481.7 L406.3 481.2 L406.3 480.6 L406.3 480.2 L406.5 480 L406.9 480.2 L407.4 480.5 L407.8 480.9 L408.2 481.1 L408.4 481 L408.5 480.6" fill="none" stroke="#a36b6b" stroke-width="0.7"/>
<circle cx="410.4" cy="479" r="3" fill="#f6e2a6" stroke="#d8c080" stroke-width="0.8"/>
<path d="M360.6 487.7 L360.5 487.2 L360.4 486.9 L360.2 486.7 L359.9 486.8 L359.7 487.1 L359.3 487.5 L359 487.9 L358.7 488.1 L358.5 488.1 L358.3 487.9 L358.2 487.5 L358.1 487 L358 486.5 L357.9 486.2 L357.7 486.1 L357.4 486.2 L357.1 486.6 L356.8 487 L356.5 487.3 L356.2 487.5 L356 487.5 L355.9 487.2 L355.8 486.7 L355.7 486.2" fill="none" stroke="#a36b6b" stroke-width="0.7"/>
<circle cx="353.3" cy="485.9" r="3" fill="#f6e2a6" stroke="#d8c080" stroke-width="0.8"/>
<path d="M400 508.2 L399.8 508.7 L399.8 509.1 L399.9 509.3 L400.1 509.3 L400.5 509.2 L401 509 L401.5 508.8 L401.8 508.7 L402 508.8 L402.1 509 L402 509.5 L401.8 510 L401.7 510.4 L401.7 510.8 L401.8 510.9 L402.2 510.9 L402.6 510.7 L403.1 510.5 L403.5 510.3 L403.8 510.3 L403.9 510.5 L403.9 510.8 L403.8 511.3 L403.7 511.8" fill="none" stroke="#a36b6b" stroke-width="0.7"/>
<circle cx="405.7" cy="513.1" r="3" fill="#d9772a"/>
<path d="M374.3 514.5 L373.8 514.5 L373.5 514.6 L373.3 514.8 L373.3 515 L373.6 515.4 L373.9 515.7 L374.3 516.1 L374.5 516.4 L374.5 516.6 L374.2 516.8 L373.8 516.8 L373.3 516.8 L372.8 516.9 L372.5 517 L372.4 517.2 L372.5 517.4 L372.7 517.8 L373.1 518.1 L373.4 518.5 L373.6 518.8 L373.5 519 L373.2 519.1 L372.8 519.2 L372.3 519.2" fill="none" stroke="#a36b6b" stroke-width="0.7"/>
<circle cx="371.6" cy="521.5" r="3" fill="#d9772a"/>
<line x1="297.5" y1="463.3" x2="322" y2="471.6" stroke="#8a5a20" stroke-width="1.3"/><line x1="296.1" y1="469.5" x2="319.5" y2="477.9" stroke="#8a5a20" stroke-width="1.3"/>
<ellipse cx="302.3" cy="465.1" rx="3" ry="2.1" transform="rotate(20 302.3 465.1)" fill="#d49a2a" stroke="#b07a1a" stroke-width="0.5"/>
<ellipse cx="300.5" cy="471.2" rx="3" ry="2.1" transform="rotate(20 300.5 471.2)" fill="#d49a2a" stroke="#b07a1a" stroke-width="0.5"/>
<ellipse cx="323.8" cy="472.1" rx="3.5" ry="2.9" transform="rotate(20 323.8 472.1)" fill="#d49a2a" stroke="#b07a1a" stroke-width="0.5"/>
<ellipse cx="331.1" cy="474.8" rx="3.5" ry="2.9" transform="rotate(20 331.1 474.8)" fill="#d49a2a" stroke="#b07a1a" stroke-width="0.5"/>
<ellipse cx="338.3" cy="477.4" rx="3.5" ry="2.9" transform="rotate(20 338.3 477.4)" fill="#d49a2a" stroke="#b07a1a" stroke-width="0.5"/>
<ellipse cx="345.8" cy="480" rx="3.5" ry="2.9" transform="rotate(20 345.8 480)" fill="#d49a2a" stroke="#b07a1a" stroke-width="0.5"/>
<ellipse cx="321.6" cy="478.7" rx="3.5" ry="2.9" transform="rotate(20 321.6 478.7)" fill="#d49a2a" stroke="#b07a1a" stroke-width="0.5"/>
<ellipse cx="328.9" cy="481.3" rx="3.5" ry="2.9" transform="rotate(20 328.9 481.3)" fill="#d49a2a" stroke="#b07a1a" stroke-width="0.5"/>
<ellipse cx="336.4" cy="484" rx="3.5" ry="2.9" transform="rotate(20 336.4 484)" fill="#d49a2a" stroke="#b07a1a" stroke-width="0.5"/>
<ellipse cx="343.6" cy="486.6" rx="3.5" ry="2.9" transform="rotate(20 343.6 486.6)" fill="#d49a2a" stroke="#b07a1a" stroke-width="0.5"/>
<text x="313.3" y="503.7" font-size="15.3" font-weight="bold" fill="#e8852a" text-anchor="start" textLength="36.8" lengthAdjust="spacingAndGlyphs">CD13</text>
<text x="277.5" y="526.7" font-size="15.5" font-weight="normal" fill="#222" text-anchor="middle" textLength="110.4" lengthAdjust="spacingAndGlyphs">Tumor inhibition</text>
<text x="277.5" y="551.7" font-size="15.5" font-weight="normal" fill="#222" text-anchor="middle" textLength="78" lengthAdjust="spacingAndGlyphs">Brain tumor</text>
<g fill="#d99a62" stroke="#d99a62" stroke-width="1.6" stroke-linejoin="round">
<path d="M614.5 452.5 L614.6 451.6 L614.8 450.4 L615 449 L615.3 447.5 L615.5 445.8 L615.8 444 L616.1 442.2 L616.4 440.4 L616.7 438.6 L617 436.6 L617.4 434.5 L617.7 432.4 L618.1 430.2 L618.5 428.1 L618.8 426 L619.1 423.9 L619.3 421.9 L619.6 419.7 L619.8 417.4 L620 415.3 L620.2 413.2 L620.3 411.4 L620.5 409.9 L620.6 408.7 L619 408.5 L618.8 409.6 L618.6 411.2 L618.3 413 L617.9 415 L617.5 417.1 L617.1 419.3 L616.7 421.4 L616.3 423.5 L615.9 425.4 L615.4 427.5 L614.9 429.6 L614.4 431.7 L613.9 433.8 L613.4 435.8 L612.9 437.8 L612.4 439.6 L612 441.4 L611.6 443.2 L611.1 444.9 L610.7 446.6 L610.4 448.1 L610 449.5 L609.8 450.6 L609.5 451.5 Z"/>
<path d="M618.3 426 L619 425.5 L619.8 424.7 L620.8 423.9 L621.9 422.9 L623.1 421.9 L624.3 420.9 L625.4 420.1 L626.5 419.3 L627.6 418.7 L628.8 418.1 L630 417.5 L631.3 417 L632.5 416.5 L633.6 416 L634.5 415.6 L635.2 415.4 L634.6 414 L634 414.3 L633 414.6 L631.9 415 L630.7 415.4 L629.4 415.9 L628 416.4 L626.7 417 L625.5 417.7 L624.3 418.4 L623 419.2 L621.7 420.1 L620.5 421.1 L619.3 422 L618.2 422.8 L617.3 423.5 L616.7 424 Z"/>
<path d="M625.2 458.2 L625.5 458 L625.9 457.8 L626.5 457.5 L627.2 457.2 L628.1 456.6 L629.2 455.9 L630.5 455 L632 453.8 L633.8 452.3 L635.9 450.5 L638.2 448.5 L640.7 446.4 L643.3 444.1 L645.9 441.8 L648.5 439.4 L651 437.2 L653.6 434.9 L656.4 432.3 L659.3 429.7 L662.2 427 L664.9 424.5 L667.4 422.2 L669.5 420.3 L671 418.9 L670 417.7 L668.3 419 L666.2 420.8 L663.6 422.9 L660.7 425.3 L657.7 427.8 L654.6 430.2 L651.7 432.6 L649 434.8 L646.4 436.9 L643.6 439.1 L640.9 441.2 L638.2 443.3 L635.6 445.4 L633.2 447.2 L631 448.9 L629.2 450.2 L627.8 451.2 L626.6 452 L625.7 452.5 L625 452.8 L624.4 453.1 L623.9 453.3 L623.3 453.5 L622.8 453.8 Z"/>
<path d="M627.8 465.5 L628.7 465.5 L629.9 465.6 L631.3 465.6 L632.9 465.7 L634.6 465.7 L636.4 465.8 L638.2 465.8 L639.9 465.8 L641.6 465.8 L643.4 465.9 L645.3 465.9 L647.2 465.9 L649.2 465.9 L651.1 465.8 L653.1 465.7 L655.1 465.6 L657.1 465.4 L659.3 465.2 L661.6 464.8 L663.8 464.5 L665.9 464.2 L667.8 463.8 L669.4 463.6 L670.6 463.4 L670.4 461.8 L669.2 461.9 L667.6 462 L665.7 462.2 L663.6 462.4 L661.3 462.5 L659.1 462.7 L656.9 462.7 L654.9 462.8 L653.1 462.8 L651.2 462.7 L649.2 462.6 L647.3 462.4 L645.5 462.3 L643.6 462.1 L641.8 461.9 L640.1 461.8 L638.4 461.6 L636.6 461.5 L634.9 461.3 L633.2 461.1 L631.7 460.9 L630.3 460.7 L629.1 460.6 L628.2 460.5 Z"/>
<path d="M652.2 465.7 L652.9 466.1 L653.9 466.7 L655 467.4 L656.3 468.2 L657.6 469 L658.9 469.9 L660.1 470.8 L661.3 471.8 L662.4 472.9 L663.6 474.1 L664.9 475.5 L666.1 476.9 L667.3 478.3 L668.4 479.5 L669.3 480.6 L670 481.3 L671 480.5 L670.4 479.7 L669.6 478.6 L668.6 477.2 L667.5 475.8 L666.3 474.3 L665.1 472.8 L663.9 471.4 L662.7 470.2 L661.6 469.1 L660.3 468.1 L659 467 L657.7 466.1 L656.5 465.2 L655.4 464.5 L654.5 463.8 L653.8 463.3 Z"/>
<path d="M617 481.6 L617.6 482.3 L618.3 483.2 L619.2 484.2 L620.2 485.3 L621.3 486.6 L622.3 487.8 L623.3 489 L624.1 490.2 L624.9 491.4 L625.7 492.6 L626.4 493.8 L627.1 495.1 L627.9 496.4 L628.6 497.8 L629.5 499.3 L630.4 500.9 L631.3 502.5 L632.3 504.3 L633.4 506.1 L634.5 508 L635.6 510 L636.7 511.9 L637.8 513.8 L638.8 515.6 L640 517.5 L641.1 519.5 L642.4 521.6 L643.6 523.6 L644.7 525.5 L645.7 527.3 L646.6 528.7 L647.2 529.8 L648.6 529 L648 527.9 L647.3 526.4 L646.4 524.6 L645.3 522.6 L644.3 520.5 L643.2 518.4 L642.1 516.3 L641.2 514.4 L640.2 512.5 L639.2 510.5 L638.3 508.5 L637.3 506.5 L636.3 504.6 L635.4 502.7 L634.5 500.8 L633.6 499.1 L632.8 497.5 L632.1 496 L631.4 494.6 L630.8 493.2 L630.1 491.8 L629.4 490.5 L628.7 489.1 L627.9 487.8 L627 486.4 L626 485 L625 483.6 L624 482.3 L623.1 481 L622.2 480 L621.5 479.1 L621 478.4 Z"/>
<path d="M633.4 503.1 L634 503.4 L634.8 503.9 L635.8 504.4 L636.9 504.9 L638.1 505.5 L639.3 506 L640.5 506.5 L641.7 506.9 L642.9 507.3 L644.2 507.6 L645.5 507.8 L646.8 508 L648.1 508.2 L649.2 508.4 L650.2 508.5 L650.9 508.6 L651.1 507.2 L650.4 507.1 L649.5 506.9 L648.4 506.6 L647.2 506.4 L645.9 506.1 L644.6 505.8 L643.4 505.4 L642.3 505.1 L641.3 504.6 L640.2 504.1 L639.1 503.5 L638 502.8 L637 502.2 L636 501.7 L635.2 501.2 L634.6 500.9 Z"/>
<path d="M595.7 469.5 L595.3 469.6 L594.7 469.6 L594 469.7 L593 469.8 L591.9 470 L590.6 470.3 L589.2 470.7 L587.6 471.3 L585.9 472.1 L583.9 472.9 L581.7 473.9 L579.4 475 L577 476.3 L574.7 477.6 L572.6 479 L570.7 480.6 L569.2 482.2 L567.9 483.9 L566.7 485.7 L565.8 487.5 L564.9 489.4 L564.1 491.4 L563.3 493.3 L562.5 495.4 L561.7 497.6 L560.9 500 L560.2 502.5 L559.5 505 L558.8 507.5 L558.2 510 L557.5 512.4 L556.9 514.7 L556.2 516.9 L555.6 519.2 L554.9 521.4 L554.2 523.6 L553.6 525.7 L553.1 527.5 L552.6 529.1 L552.2 530.3 L553.8 530.7 L554.2 529.6 L554.7 528.1 L555.3 526.3 L556 524.2 L556.8 522.1 L557.6 519.8 L558.3 517.5 L559.1 515.3 L559.8 513.1 L560.6 510.7 L561.3 508.3 L562.1 505.8 L562.9 503.3 L563.7 500.9 L564.6 498.7 L565.5 496.6 L566.3 494.6 L567.2 492.7 L568 490.9 L568.9 489.2 L569.8 487.6 L570.9 486.1 L572 484.7 L573.3 483.4 L574.9 482.2 L576.8 481.1 L578.9 480 L581.2 478.9 L583.5 477.9 L585.7 477.1 L587.7 476.3 L589.4 475.7 L590.7 475.2 L591.8 474.9 L592.7 474.7 L593.6 474.6 L594.3 474.6 L595 474.6 L595.7 474.5 L596.3 474.5 Z"/>
<path d="M591.9 464.8 L591.4 464.8 L590.8 464.8 L590 464.8 L589.1 464.9 L588 464.9 L586.7 465.1 L585.3 465.3 L583.8 465.6 L582.2 466 L580.3 466.5 L578.3 467.1 L576.2 467.7 L574.1 468.3 L571.9 469 L569.8 469.6 L567.7 470.1 L565.5 470.6 L563.2 471.1 L560.7 471.7 L558.2 472.1 L555.9 472.6 L553.8 473 L552 473.3 L550.7 473.6 L550.9 475.2 L552.3 475 L554.1 474.8 L556.2 474.5 L558.6 474.3 L561.1 473.9 L563.6 473.6 L566 473.2 L568.3 472.9 L570.5 472.5 L572.7 472 L574.9 471.5 L577.1 471 L579.2 470.5 L581.2 470.1 L583 469.7 L584.6 469.4 L585.9 469.3 L587.1 469.2 L588.2 469.1 L589.2 469.1 L590 469.2 L590.8 469.2 L591.5 469.2 L592.1 469.2 Z"/>
<path d="M594.4 457.5 L593.7 457.4 L592.9 457.4 L592.1 457.4 L591.2 457.4 L590.3 457.2 L589.5 457.1 L588.5 456.8 L587.6 456.3 L586.5 455.6 L585.2 454.5 L583.7 453.2 L582.2 451.8 L580.6 450.4 L579.1 449 L577.5 447.7 L576.1 446.6 L574.9 445.7 L573.8 445 L572.9 444.3 L571.9 443.7 L570.7 443.2 L569.5 442.6 L568 442.2 L566.3 441.7 L564 441.2 L561.3 440.8 L558.3 440.4 L555.2 440.1 L552.2 439.8 L549.5 439.5 L547.2 439.3 L545.5 439.1 L545.3 440.7 L546.9 441 L549.2 441.4 L552 441.8 L554.9 442.3 L558 442.8 L560.9 443.4 L563.5 443.9 L565.5 444.5 L567.1 445 L568.4 445.5 L569.3 446 L570.2 446.5 L571 447.1 L571.8 447.7 L572.8 448.5 L573.9 449.4 L575.2 450.5 L576.5 451.8 L577.9 453.2 L579.4 454.7 L580.9 456.3 L582.3 457.7 L583.8 459 L585.2 460.1 L586.6 460.9 L588 461.5 L589.4 461.9 L590.6 462.1 L591.7 462.3 L592.6 462.3 L593.2 462.4 L593.6 462.5 Z"/>
<path d="M558.1 440.1 L557.6 439.5 L556.9 438.7 L556 437.7 L555.1 436.7 L554.2 435.6 L553.3 434.5 L552.5 433.4 L551.9 432.5 L551.4 431.6 L550.9 430.7 L550.6 429.7 L550.2 428.7 L549.9 427.8 L549.7 427 L549.5 426.2 L549.3 425.7 L547.9 426.1 L548.1 426.6 L548.2 427.3 L548.4 428.2 L548.6 429.2 L548.9 430.2 L549.2 431.3 L549.6 432.4 L550.1 433.5 L550.7 434.6 L551.5 435.8 L552.3 437 L553.2 438.2 L554 439.3 L554.8 440.4 L555.4 441.2 L555.9 441.9 Z"/>
<path d="M586 452 C590 444 600 442 610 443 C620 444 630 447 635 455 C639 462 636 470 632 476 C628 483 620 486 610 486 C600 486 592 482 588 476 C583 469 582 459 586 452 Z"/>
</g>
<g fill="#fbd2a8">
<path d="M614.5 452.5 L614.6 451.6 L614.8 450.4 L615 449 L615.3 447.5 L615.5 445.8 L615.8 444 L616.1 442.2 L616.4 440.4 L616.7 438.6 L617 436.6 L617.4 434.5 L617.7 432.4 L618.1 430.2 L618.5 428.1 L618.8 426 L619.1 423.9 L619.3 421.9 L619.6 419.7 L619.8 417.4 L620 415.3 L620.2 413.2 L620.3 411.4 L620.5 409.9 L620.6 408.7 L619 408.5 L618.8 409.6 L618.6 411.2 L618.3 413 L617.9 415 L617.5 417.1 L617.1 419.3 L616.7 421.4 L616.3 423.5 L615.9 425.4 L615.4 427.5 L614.9 429.6 L614.4 431.7 L613.9 433.8 L613.4 435.8 L612.9 437.8 L612.4 439.6 L612 441.4 L611.6 443.2 L611.1 444.9 L610.7 446.6 L610.4 448.1 L610 449.5 L609.8 450.6 L609.5 451.5 Z"/>
<path d="M618.3 426 L619 425.5 L619.8 424.7 L620.8 423.9 L621.9 422.9 L623.1 421.9 L624.3 420.9 L625.4 420.1 L626.5 419.3 L627.6 418.7 L628.8 418.1 L630 417.5 L631.3 417 L632.5 416.5 L633.6 416 L634.5 415.6 L635.2 415.4 L634.6 414 L634 414.3 L633 414.6 L631.9 415 L630.7 415.4 L629.4 415.9 L628 416.4 L626.7 417 L625.5 417.7 L624.3 418.4 L623 419.2 L621.7 420.1 L620.5 421.1 L619.3 422 L618.2 422.8 L617.3 423.5 L616.7 424 Z"/>
<path d="M625.2 458.2 L625.5 458 L625.9 457.8 L626.5 457.5 L627.2 457.2 L628.1 456.6 L629.2 455.9 L630.5 455 L632 453.8 L633.8 452.3 L635.9 450.5 L638.2 448.5 L640.7 446.4 L643.3 444.1 L645.9 441.8 L648.5 439.4 L651 437.2 L653.6 434.9 L656.4 432.3 L659.3 429.7 L662.2 427 L664.9 424.5 L667.4 422.2 L669.5 420.3 L671 418.9 L670 417.7 L668.3 419 L666.2 420.8 L663.6 422.9 L660.7 425.3 L657.7 427.8 L654.6 430.2 L651.7 432.6 L649 434.8 L646.4 436.9 L643.6 439.1 L640.9 441.2 L638.2 443.3 L635.6 445.4 L633.2 447.2 L631 448.9 L629.2 450.2 L627.8 451.2 L626.6 452 L625.7 452.5 L625 452.8 L624.4 453.1 L623.9 453.3 L623.3 453.5 L622.8 453.8 Z"/>
<path d="M627.8 465.5 L628.7 465.5 L629.9 465.6 L631.3 465.6 L632.9 465.7 L634.6 465.7 L636.4 465.8 L638.2 465.8 L639.9 465.8 L641.6 465.8 L643.4 465.9 L645.3 465.9 L647.2 465.9 L649.2 465.9 L651.1 465.8 L653.1 465.7 L655.1 465.6 L657.1 465.4 L659.3 465.2 L661.6 464.8 L663.8 464.5 L665.9 464.2 L667.8 463.8 L669.4 463.6 L670.6 463.4 L670.4 461.8 L669.2 461.9 L667.6 462 L665.7 462.2 L663.6 462.4 L661.3 462.5 L659.1 462.7 L656.9 462.7 L654.9 462.8 L653.1 462.8 L651.2 462.7 L649.2 462.6 L647.3 462.4 L645.5 462.3 L643.6 462.1 L641.8 461.9 L640.1 461.8 L638.4 461.6 L636.6 461.5 L634.9 461.3 L633.2 461.1 L631.7 460.9 L630.3 460.7 L629.1 460.6 L628.2 460.5 Z"/>
<path d="M652.2 465.7 L652.9 466.1 L653.9 466.7 L655 467.4 L656.3 468.2 L657.6 469 L658.9 469.9 L660.1 470.8 L661.3 471.8 L662.4 472.9 L663.6 474.1 L664.9 475.5 L666.1 476.9 L667.3 478.3 L668.4 479.5 L669.3 480.6 L670 481.3 L671 480.5 L670.4 479.7 L669.6 478.6 L668.6 477.2 L667.5 475.8 L666.3 474.3 L665.1 472.8 L663.9 471.4 L662.7 470.2 L661.6 469.1 L660.3 468.1 L659 467 L657.7 466.1 L656.5 465.2 L655.4 464.5 L654.5 463.8 L653.8 463.3 Z"/>
<path d="M617 481.6 L617.6 482.3 L618.3 483.2 L619.2 484.2 L620.2 485.3 L621.3 486.6 L622.3 487.8 L623.3 489 L624.1 490.2 L624.9 491.4 L625.7 492.6 L626.4 493.8 L627.1 495.1 L627.9 496.4 L628.6 497.8 L629.5 499.3 L630.4 500.9 L631.3 502.5 L632.3 504.3 L633.4 506.1 L634.5 508 L635.6 510 L636.7 511.9 L637.8 513.8 L638.8 515.6 L640 517.5 L641.1 519.5 L642.4 521.6 L643.6 523.6 L644.7 525.5 L645.7 527.3 L646.6 528.7 L647.2 529.8 L648.6 529 L648 527.9 L647.3 526.4 L646.4 524.6 L645.3 522.6 L644.3 520.5 L643.2 518.4 L642.1 516.3 L641.2 514.4 L640.2 512.5 L639.2 510.5 L638.3 508.5 L637.3 506.5 L636.3 504.6 L635.4 502.7 L634.5 500.8 L633.6 499.1 L632.8 497.5 L632.1 496 L631.4 494.6 L630.8 493.2 L630.1 491.8 L629.4 490.5 L628.7 489.1 L627.9 487.8 L627 486.4 L626 485 L625 483.6 L624 482.3 L623.1 481 L622.2 480 L621.5 479.1 L621 478.4 Z"/>
<path d="M633.4 503.1 L634 503.4 L634.8 503.9 L635.8 504.4 L636.9 504.9 L638.1 505.5 L639.3 506 L640.5 506.5 L641.7 506.9 L642.9 507.3 L644.2 507.6 L645.5 507.8 L646.8 508 L648.1 508.2 L649.2 508.4 L650.2 508.5 L650.9 508.6 L651.1 507.2 L650.4 507.1 L649.5 506.9 L648.4 506.6 L647.2 506.4 L645.9 506.1 L644.6 505.8 L643.4 505.4 L642.3 505.1 L641.3 504.6 L640.2 504.1 L639.1 503.5 L638 502.8 L637 502.2 L636 501.7 L635.2 501.2 L634.6 500.9 Z"/>
<path d="M595.7 469.5 L595.3 469.6 L594.7 469.6 L594 469.7 L593 469.8 L591.9 470 L590.6 470.3 L589.2 470.7 L587.6 471.3 L585.9 472.1 L583.9 472.9 L581.7 473.9 L579.4 475 L577 476.3 L574.7 477.6 L572.6 479 L570.7 480.6 L569.2 482.2 L567.9 483.9 L566.7 485.7 L565.8 487.5 L564.9 489.4 L564.1 491.4 L563.3 493.3 L562.5 495.4 L561.7 497.6 L560.9 500 L560.2 502.5 L559.5 505 L558.8 507.5 L558.2 510 L557.5 512.4 L556.9 514.7 L556.2 516.9 L555.6 519.2 L554.9 521.4 L554.2 523.6 L553.6 525.7 L553.1 527.5 L552.6 529.1 L552.2 530.3 L553.8 530.7 L554.2 529.6 L554.7 528.1 L555.3 526.3 L556 524.2 L556.8 522.1 L557.6 519.8 L558.3 517.5 L559.1 515.3 L559.8 513.1 L560.6 510.7 L561.3 508.3 L562.1 505.8 L562.9 503.3 L563.7 500.9 L564.6 498.7 L565.5 496.6 L566.3 494.6 L567.2 492.7 L568 490.9 L568.9 489.2 L569.8 487.6 L570.9 486.1 L572 484.7 L573.3 483.4 L574.9 482.2 L576.8 481.1 L578.9 480 L581.2 478.9 L583.5 477.9 L585.7 477.1 L587.7 476.3 L589.4 475.7 L590.7 475.2 L591.8 474.9 L592.7 474.7 L593.6 474.6 L594.3 474.6 L595 474.6 L595.7 474.5 L596.3 474.5 Z"/>
<path d="M591.9 464.8 L591.4 464.8 L590.8 464.8 L590 464.8 L589.1 464.9 L588 464.9 L586.7 465.1 L585.3 465.3 L583.8 465.6 L582.2 466 L580.3 466.5 L578.3 467.1 L576.2 467.7 L574.1 468.3 L571.9 469 L569.8 469.6 L567.7 470.1 L565.5 470.6 L563.2 471.1 L560.7 471.7 L558.2 472.1 L555.9 472.6 L553.8 473 L552 473.3 L550.7 473.6 L550.9 475.2 L552.3 475 L554.1 474.8 L556.2 474.5 L558.6 474.3 L561.1 473.9 L563.6 473.6 L566 473.2 L568.3 472.9 L570.5 472.5 L572.7 472 L574.9 471.5 L577.1 471 L579.2 470.5 L581.2 470.1 L583 469.7 L584.6 469.4 L585.9 469.3 L587.1 469.2 L588.2 469.1 L589.2 469.1 L590 469.2 L590.8 469.2 L591.5 469.2 L592.1 469.2 Z"/>
<path d="M594.4 457.5 L593.7 457.4 L592.9 457.4 L592.1 457.4 L591.2 457.4 L590.3 457.2 L589.5 457.1 L588.5 456.8 L587.6 456.3 L586.5 455.6 L585.2 454.5 L583.7 453.2 L582.2 451.8 L580.6 450.4 L579.1 449 L577.5 447.7 L576.1 446.6 L574.9 445.7 L573.8 445 L572.9 444.3 L571.9 443.7 L570.7 443.2 L569.5 442.6 L568 442.2 L566.3 441.7 L564 441.2 L561.3 440.8 L558.3 440.4 L555.2 440.1 L552.2 439.8 L549.5 439.5 L547.2 439.3 L545.5 439.1 L545.3 440.7 L546.9 441 L549.2 441.4 L552 441.8 L554.9 442.3 L558 442.8 L560.9 443.4 L563.5 443.9 L565.5 444.5 L567.1 445 L568.4 445.5 L569.3 446 L570.2 446.5 L571 447.1 L571.8 447.7 L572.8 448.5 L573.9 449.4 L575.2 450.5 L576.5 451.8 L577.9 453.2 L579.4 454.7 L580.9 456.3 L582.3 457.7 L583.8 459 L585.2 460.1 L586.6 460.9 L588 461.5 L589.4 461.9 L590.6 462.1 L591.7 462.3 L592.6 462.3 L593.2 462.4 L593.6 462.5 Z"/>
<path d="M558.1 440.1 L557.6 439.5 L556.9 438.7 L556 437.7 L555.1 436.7 L554.2 435.6 L553.3 434.5 L552.5 433.4 L551.9 432.5 L551.4 431.6 L550.9 430.7 L550.6 429.7 L550.2 428.7 L549.9 427.8 L549.7 427 L549.5 426.2 L549.3 425.7 L547.9 426.1 L548.1 426.6 L548.2 427.3 L548.4 428.2 L548.6 429.2 L548.9 430.2 L549.2 431.3 L549.6 432.4 L550.1 433.5 L550.7 434.6 L551.5 435.8 L552.3 437 L553.2 438.2 L554 439.3 L554.8 440.4 L555.4 441.2 L555.9 441.9 Z"/>
<path d="M586 452 C590 444 600 442 610 443 C620 444 630 447 635 455 C639 462 636 470 632 476 C628 483 620 486 610 486 C600 486 592 482 588 476 C583 469 582 459 586 452 Z"/>
</g>
<path d="M583.5 461 C583.5 454 592 451 609.5 451 C627 451 636 454 636 461 C636 468 627 471.2 609.5 471.2 C592 471.2 583.5 468 583.5 461 Z" fill="#fffaf4" stroke="#e3a978" stroke-width="0.9"/>
<path d="M590 457 q3 -3 6 0 q3 3 6 0 q3 -3 6 0 q3 3 6 0 q3 -3 6 0 q3 3 6 0 M590 466 q3 -3 6 0 q3 3 6 0 q3 -3 6 0 q3 3 6 0 q3 -3 6 0 q3 3 6 0" fill="none" stroke="#f3d3b8" stroke-width="0.7"/>
<ellipse cx="606.9" cy="473.5" rx="6" ry="2.8" fill="#f2b888" opacity="0.8"/>
<text x="591.5" y="467.7" font-size="15.4" font-weight="normal" fill="#111" text-anchor="start" textLength="29.8" lengthAdjust="spacingAndGlyphs">ROS</text>
<line x1="626" y1="451.8" x2="626" y2="466" stroke="#111" stroke-width="1.7"/><path d="M626 475 L621 464.5 L631 464.5 Z" fill="#111"/>
<text x="604.3" y="526.7" font-size="15.5" font-weight="normal" fill="#222" text-anchor="middle" textLength="48.8" lengthAdjust="spacingAndGlyphs">Neuron</text>
<g fill="#d8923f" stroke="#d8923f" stroke-width="1.4" stroke-linejoin="round">
<path d="M710.9 470.7 L710 471.3 L708.8 472 L707.3 472.8 L705.6 473.7 L703.9 474.7 L702.2 475.7 L700.6 476.7 L699.2 477.6 L697.9 478.6 L696.7 479.6 L695.6 480.6 L694.5 481.6 L693.5 482.5 L692.7 483.3 L692 484 L691.4 484.5 L692.6 485.9 L693.2 485.5 L694 484.9 L694.9 484.2 L696 483.4 L697.1 482.6 L698.4 481.8 L699.6 481 L700.8 480.4 L702.2 479.7 L703.8 479 L705.6 478.2 L707.4 477.5 L709.2 476.8 L710.7 476.2 L712.1 475.7 L713.1 475.3 Z"/>
<path d="M707.2 475.1 L707 474.6 L706.7 474 L706.4 473.3 L706.1 472.6 L705.7 471.8 L705.4 471 L705.1 470.3 L704.8 469.7 L704.6 469.2 L704.4 468.7 L704.3 468.3 L704.1 467.9 L704 467.6 L703.9 467.3 L703.7 467 L703.7 466.8 L702.3 467.2 L702.4 467.4 L702.5 467.7 L702.5 468 L702.6 468.4 L702.7 468.8 L702.9 469.3 L703 469.8 L703.2 470.3 L703.3 470.9 L703.6 471.7 L703.8 472.5 L704 473.3 L704.3 474.1 L704.5 474.9 L704.7 475.5 L704.8 475.9 Z"/>
<path d="M727 451.6 L726.7 450.3 L726.4 448.6 L726 446.5 L725.6 444.3 L725.1 441.9 L724.7 439.4 L724.3 437.1 L724 434.9 L723.8 432.7 L723.6 430.2 L723.4 427.7 L723.3 425.2 L723.2 422.9 L723.1 420.8 L723 419 L722.9 417.6 L720.9 417.6 L720.8 418.9 L720.7 420.7 L720.5 422.9 L720.4 425.2 L720.2 427.7 L720.1 430.3 L720 432.8 L720 435.1 L720 437.4 L720.1 439.9 L720.3 442.4 L720.5 444.9 L720.6 447.2 L720.8 449.3 L720.9 451.1 L721 452.4 Z"/>
<path d="M745.8 442.8 L746 442.4 L746.1 441.9 L746.3 441.2 L746.5 440.5 L746.8 439.7 L747 438.9 L747.2 438.1 L747.3 437.4 L747.4 436.7 L747.5 435.9 L747.6 435.1 L747.7 434.4 L747.7 433.7 L747.7 433 L747.8 432.5 L747.8 432.1 L746.2 431.9 L746.1 432.2 L746 432.7 L745.8 433.3 L745.6 434 L745.4 434.7 L745.1 435.4 L744.9 436 L744.7 436.6 L744.4 437.2 L744.1 437.8 L743.7 438.5 L743.3 439.1 L743 439.8 L742.7 440.4 L742.4 440.8 L742.2 441.2 Z"/>
<path d="M771.4 448.1 L772.4 447.3 L773.8 446.2 L775.5 445 L777.3 443.6 L779.3 442.2 L781.2 440.8 L783.1 439.5 L784.8 438.5 L786.5 437.5 L788.3 436.6 L790.2 435.7 L792.1 434.9 L793.8 434.1 L795.4 433.5 L796.8 432.9 L797.8 432.4 L797.2 430.8 L796.1 431.1 L794.7 431.5 L793.1 432 L791.2 432.6 L789.2 433.2 L787.2 433.9 L785.2 434.7 L783.2 435.5 L781.3 436.5 L779.2 437.6 L777.1 438.8 L775 440.1 L773 441.3 L771.2 442.4 L769.7 443.3 L768.6 443.9 Z"/>
<path d="M762.2 480.1 L763.2 480.8 L764.5 481.8 L766.1 483 L767.8 484.3 L769.7 485.7 L771.5 487 L773.3 488.3 L775 489.4 L776.6 490.4 L778.2 491.4 L779.9 492.3 L781.5 493.1 L783.1 493.9 L784.4 494.6 L785.6 495.2 L786.4 495.7 L787.4 494.1 L786.6 493.6 L785.5 492.8 L784.2 492 L782.9 491 L781.4 490 L779.9 488.9 L778.4 487.7 L777 486.6 L775.6 485.4 L774.1 483.9 L772.4 482.4 L770.8 480.8 L769.3 479.3 L767.9 477.9 L766.7 476.8 L765.8 475.9 Z"/>
<path d="M775.8 489 L775.8 489.4 L775.8 490 L775.9 490.6 L775.9 491.3 L776 492.1 L776 492.8 L776.1 493.4 L776.1 493.9 L776.1 494.4 L776.1 494.8 L776 495.3 L776 495.7 L775.9 496 L775.9 496.4 L775.8 496.6 L775.8 496.9 L777.2 497.1 L777.2 496.9 L777.3 496.7 L777.4 496.3 L777.5 496 L777.6 495.5 L777.7 495.1 L777.8 494.6 L777.9 494.1 L778 493.5 L778 492.8 L778.1 492 L778.1 491.3 L778.2 490.6 L778.2 489.9 L778.2 489.4 L778.2 489 Z"/>
<path d="M728.6 481.3 L728.4 482.1 L728.2 483.1 L727.9 484.4 L727.6 485.7 L727.3 487.2 L727 488.7 L726.6 490.2 L726.4 491.5 L726.1 492.9 L725.8 494.4 L725.6 495.8 L725.3 497.3 L725.1 498.7 L724.8 499.9 L724.7 501 L724.5 501.8 L726.3 502.2 L726.5 501.5 L726.9 500.5 L727.3 499.3 L727.7 497.9 L728.2 496.5 L728.7 495.1 L729.2 493.7 L729.6 492.5 L730.1 491.2 L730.6 489.8 L731.2 488.4 L731.7 487 L732.2 485.7 L732.7 484.5 L733.1 483.5 L733.4 482.7 Z"/>
<path d="M710.5 467 C711.8 463 712.9 464.5 716 461 C719.1 457.5 718.3 457.6 722 454 C725.7 450.4 725.8 450.6 730 447.5 C734.2 444.4 734.2 444.4 737.7 442.5 C741.2 440.6 740 440.9 743 440.5 C746 440.1 745.7 440 749 441 C752.3 442 751.8 443.1 755.3 444.3 C758.8 445.5 758.6 445.3 762 445.5 C765.4 445.7 764.5 445.9 768 445 C771.5 444.1 773.7 440.1 775 442 C776.3 443.9 774.2 446.7 773 452 C771.8 457.3 771.4 456.7 770.5 462 C769.6 467.3 770.3 466.5 769.5 472 C768.7 477.5 770 479.7 767.5 482.6 C765 485.5 764.1 482.5 760 483 C755.9 483.5 756.5 483.8 752 484.5 C747.5 485.2 747.5 485 743 485.5 C738.5 486 739 486.4 735 486.5 C731 486.6 732 487.7 728 486 C724 484.3 724.5 482.7 720 480 C715.5 477.3 713.5 479.5 711 476 C708.5 472.5 709.2 471 710.5 467 Z"/>
</g>
<g fill="#f9bd73">
<path d="M710.9 470.7 L710 471.3 L708.8 472 L707.3 472.8 L705.6 473.7 L703.9 474.7 L702.2 475.7 L700.6 476.7 L699.2 477.6 L697.9 478.6 L696.7 479.6 L695.6 480.6 L694.5 481.6 L693.5 482.5 L692.7 483.3 L692 484 L691.4 484.5 L692.6 485.9 L693.2 485.5 L694 484.9 L694.9 484.2 L696 483.4 L697.1 482.6 L698.4 481.8 L699.6 481 L700.8 480.4 L702.2 479.7 L703.8 479 L705.6 478.2 L707.4 477.5 L709.2 476.8 L710.7 476.2 L712.1 475.7 L713.1 475.3 Z"/>
<path d="M707.2 475.1 L707 474.6 L706.7 474 L706.4 473.3 L706.1 472.6 L705.7 471.8 L705.4 471 L705.1 470.3 L704.8 469.7 L704.6 469.2 L704.4 468.7 L704.3 468.3 L704.1 467.9 L704 467.6 L703.9 467.3 L703.7 467 L703.7 466.8 L702.3 467.2 L702.4 467.4 L702.5 467.7 L702.5 468 L702.6 468.4 L702.7 468.8 L702.9 469.3 L703 469.8 L703.2 470.3 L703.3 470.9 L703.6 471.7 L703.8 472.5 L704 473.3 L704.3 474.1 L704.5 474.9 L704.7 475.5 L704.8 475.9 Z"/>
<path d="M727 451.6 L726.7 450.3 L726.4 448.6 L726 446.5 L725.6 444.3 L725.1 441.9 L724.7 439.4 L724.3 437.1 L724 434.9 L723.8 432.7 L723.6 430.2 L723.4 427.7 L723.3 425.2 L723.2 422.9 L723.1 420.8 L723 419 L722.9 417.6 L720.9 417.6 L720.8 418.9 L720.7 420.7 L720.5 422.9 L720.4 425.2 L720.2 427.7 L720.1 430.3 L720 432.8 L720 435.1 L720 437.4 L720.1 439.9 L720.3 442.4 L720.5 444.9 L720.6 447.2 L720.8 449.3 L720.9 451.1 L721 452.4 Z"/>
<path d="M745.8 442.8 L746 442.4 L746.1 441.9 L746.3 441.2 L746.5 440.5 L746.8 439.7 L747 438.9 L747.2 438.1 L747.3 437.4 L747.4 436.7 L747.5 435.9 L747.6 435.1 L747.7 434.4 L747.7 433.7 L747.7 433 L747.8 432.5 L747.8 432.1 L746.2 431.9 L746.1 432.2 L746 432.7 L745.8 433.3 L745.6 434 L745.4 434.7 L745.1 435.4 L744.9 436 L744.7 436.6 L744.4 437.2 L744.1 437.8 L743.7 438.5 L743.3 439.1 L743 439.8 L742.7 440.4 L742.4 440.8 L742.2 441.2 Z"/>
<path d="M771.4 448.1 L772.4 447.3 L773.8 446.2 L775.5 445 L777.3 443.6 L779.3 442.2 L781.2 440.8 L783.1 439.5 L784.8 438.5 L786.5 437.5 L788.3 436.6 L790.2 435.7 L792.1 434.9 L793.8 434.1 L795.4 433.5 L796.8 432.9 L797.8 432.4 L797.2 430.8 L796.1 431.1 L794.7 431.5 L793.1 432 L791.2 432.6 L789.2 433.2 L787.2 433.9 L785.2 434.7 L783.2 435.5 L781.3 436.5 L779.2 437.6 L777.1 438.8 L775 440.1 L773 441.3 L771.2 442.4 L769.7 443.3 L768.6 443.9 Z"/>
<path d="M762.2 480.1 L763.2 480.8 L764.5 481.8 L766.1 483 L767.8 484.3 L769.7 485.7 L771.5 487 L773.3 488.3 L775 489.4 L776.6 490.4 L778.2 491.4 L779.9 492.3 L781.5 493.1 L783.1 493.9 L784.4 494.6 L785.6 495.2 L786.4 495.7 L787.4 494.1 L786.6 493.6 L785.5 492.8 L784.2 492 L782.9 491 L781.4 490 L779.9 488.9 L778.4 487.7 L777 486.6 L775.6 485.4 L774.1 483.9 L772.4 482.4 L770.8 480.8 L769.3 479.3 L767.9 477.9 L766.7 476.8 L765.8 475.9 Z"/>
<path d="M775.8 489 L775.8 489.4 L775.8 490 L775.9 490.6 L775.9 491.3 L776 492.1 L776 492.8 L776.1 493.4 L776.1 493.9 L776.1 494.4 L776.1 494.8 L776 495.3 L776 495.7 L775.9 496 L775.9 496.4 L775.8 496.6 L775.8 496.9 L777.2 497.1 L777.2 496.9 L777.3 496.7 L777.4 496.3 L777.5 496 L777.6 495.5 L777.7 495.1 L777.8 494.6 L777.9 494.1 L778 493.5 L778 492.8 L778.1 492 L778.1 491.3 L778.2 490.6 L778.2 489.9 L778.2 489.4 L778.2 489 Z"/>
<path d="M728.6 481.3 L728.4 482.1 L728.2 483.1 L727.9 484.4 L727.6 485.7 L727.3 487.2 L727 488.7 L726.6 490.2 L726.4 491.5 L726.1 492.9 L725.8 494.4 L725.6 495.8 L725.3 497.3 L725.1 498.7 L724.8 499.9 L724.7 501 L724.5 501.8 L726.3 502.2 L726.5 501.5 L726.9 500.5 L727.3 499.3 L727.7 497.9 L728.2 496.5 L728.7 495.1 L729.2 493.7 L729.6 492.5 L730.1 491.2 L730.6 489.8 L731.2 488.4 L731.7 487 L732.2 485.7 L732.7 484.5 L733.1 483.5 L733.4 482.7 Z"/>
<path d="M710.5 467 C711.8 463 712.9 464.5 716 461 C719.1 457.5 718.3 457.6 722 454 C725.7 450.4 725.8 450.6 730 447.5 C734.2 444.4 734.2 444.4 737.7 442.5 C741.2 440.6 740 440.9 743 440.5 C746 440.1 745.7 440 749 441 C752.3 442 751.8 443.1 755.3 444.3 C758.8 445.5 758.6 445.3 762 445.5 C765.4 445.7 764.5 445.9 768 445 C771.5 444.1 773.7 440.1 775 442 C776.3 443.9 774.2 446.7 773 452 C771.8 457.3 771.4 456.7 770.5 462 C769.6 467.3 770.3 466.5 769.5 472 C768.7 477.5 770 479.7 767.5 482.6 C765 485.5 764.1 482.5 760 483 C755.9 483.5 756.5 483.8 752 484.5 C747.5 485.2 747.5 485 743 485.5 C738.5 486 739 486.4 735 486.5 C731 486.6 732 487.7 728 486 C724 484.3 724.5 482.7 720 480 C715.5 477.3 713.5 479.5 711 476 C708.5 472.5 709.2 471 710.5 467 Z"/>
</g>
<circle cx="745.6" cy="465.9" r="10" fill="#eba25c" opacity="0.75"/>
<ellipse cx="717.5" cy="436.9" rx="12.4" ry="14.8" fill="#d8553a" opacity="0.18"/>
<g fill="none" stroke-width="0.6" stroke-linecap="round">
<path d="M704.7 439.9 A2.8 2.8 0 0 1 706.2 434.6" stroke="#c03a22"/>
<path d="M725.3 439.1 A1.3 1.3 0 1 1 727.3 440" stroke="#a82210"/>
<path d="M705.9 422.1 A2.6 2.6 0 0 1 709.8 425.4" stroke="#d0442a"/>
<path d="M721.1 429.6 A2 2 0 1 1 717.4 430.5" stroke="#a82210"/>
<path d="M710.2 439 A1.9 1.9 0 1 1 707.9 442" stroke="#c03a22"/>
<path d="M710.7 430.5 A1.7 1.7 0 1 1 709.6 427.4" stroke="#d0442a"/>
<path d="M730 437.9 A2.9 2.9 0 0 1 724.2 438.2" stroke="#b82a18"/>
<path d="M706.2 441.4 A2 2 0 0 1 702.9 439.2" stroke="#a82210"/>
<path d="M726.5 440.7 A2 2 0 0 1 728.4 437.4" stroke="#d0442a"/>
<path d="M700.7 437.7 A1.8 1.8 0 1 1 703.1 439.3" stroke="#b82a18"/>
<path d="M725.4 435 A1.6 1.6 0 1 1 728.1 434.4" stroke="#c8341c"/>
<path d="M722.1 421.2 A3.1 3.1 0 1 1 726.3 424.3" stroke="#b82a18"/>
<path d="M727.7 428.1 A2.8 2.8 0 1 1 726.3 422.8" stroke="#c03a22"/>
<path d="M707.7 444.1 A1.7 1.7 0 0 1 707.3 447.6" stroke="#a82210"/>
<path d="M711 438.8 A1.7 1.7 0 0 1 708.2 436.9" stroke="#c8341c"/>
<path d="M711.2 454.6 A1.5 1.5 0 1 1 712.8 452.5" stroke="#c03a22"/>
<path d="M721.3 446.3 A1.5 1.5 0 0 1 723.6 445" stroke="#a82210"/>
<path d="M707.1 439.5 A2.5 2.5 0 0 1 709.6 443.8" stroke="#c03a22"/>
<path d="M731.9 431.3 A2.7 2.7 0 1 1 728.3 434.4" stroke="#c03a22"/>
<path d="M710.6 453.2 A1.6 1.6 0 1 1 709.1 450.5" stroke="#b4301e"/>
<path d="M730.2 437.9 A3.1 3.1 0 0 1 726.6 442.9" stroke="#c03a22"/>
<path d="M702.3 435 A2.1 2.1 0 0 1 701.7 431.1" stroke="#a82210"/>
<path d="M708.2 422.8 A3.2 3.2 0 0 1 713.2 426.6" stroke="#c03a22"/>
<path d="M702.6 427.7 A1.7 1.7 0 1 1 704.6 430.2" stroke="#c8341c"/>
<path d="M703.6 438.3 A2.2 2.2 0 1 1 705.5 434.7" stroke="#b82a18"/>
<path d="M705.6 432.2 A1.4 1.4 0 1 1 707.7 430.3" stroke="#c8341c"/>
<path d="M720.9 455.1 A2.1 2.1 0 1 1 722.5 451.2" stroke="#b82a18"/>
<path d="M700.4 440.5 A2.5 2.5 0 0 1 705 439.4" stroke="#b82a18"/>
<path d="M706.7 434.3 A2.3 2.3 0 0 1 707.5 429.8" stroke="#c8341c"/>
<path d="M731.8 438.6 A2.8 2.8 0 0 1 727.7 442" stroke="#d0442a"/>
<path d="M719.2 421 A1.2 1.2 0 0 1 721.3 420.2" stroke="#a82210"/>
<path d="M706.1 430.7 A2.4 2.4 0 0 1 710.6 429.5" stroke="#c8341c"/>
<path d="M721.4 439.5 A1.8 1.8 0 0 1 718.9 437" stroke="#b4301e"/>
<path d="M706.7 431.5 A2.8 2.8 0 1 1 706.3 426" stroke="#c8341c"/>
<path d="M705.4 431.4 A1.4 1.4 0 0 1 703 432.6" stroke="#a82210"/>
<path d="M721 447.5 A3 3 0 0 1 719.7 442.3" stroke="#c8341c"/>
<path d="M723.3 449 A1.4 1.4 0 1 1 721.4 450.1" stroke="#a82210"/>
<path d="M723.1 436.4 A2.3 2.3 0 0 1 725.7 440.1" stroke="#b82a18"/>
<path d="M730.9 433.1 A2.3 2.3 0 1 1 727.5 430.7" stroke="#b82a18"/>
<path d="M709.7 432.3 A1.5 1.5 0 1 1 710.8 434.9" stroke="#b4301e"/>
<path d="M707.5 439.4 A1.8 1.8 0 0 1 704.6 437.5" stroke="#b4301e"/>
<path d="M725.4 438.2 A1.6 1.6 0 1 1 723.9 441" stroke="#c8341c"/>
<path d="M708.6 428.7 A1.2 1.2 0 0 1 706.6 428.6" stroke="#b82a18"/>
<path d="M706 431.1 A2.5 2.5 0 1 1 703.5 426.9" stroke="#c03a22"/>
<path d="M713.8 449 A3 3 0 0 1 719.4 449.5" stroke="#b82a18"/>
<path d="M720 432 A2.9 2.9 0 0 1 725.1 429.8" stroke="#a82210"/>
<path d="M720.8 431 A1.4 1.4 0 0 1 723 432.9" stroke="#c8341c"/>
<path d="M720.2 449.1 A2.9 2.9 0 0 1 714.7 447.2" stroke="#a82210"/>
<path d="M724 445.2 A1.9 1.9 0 0 1 722 442" stroke="#a82210"/>
<path d="M717.1 434 A1.3 1.3 0 0 1 719.6 433.5" stroke="#a82210"/>
<path d="M719.3 444.1 A3 3 0 0 1 719 449.9" stroke="#b82a18"/>
<path d="M707.6 429.3 A2.1 2.1 0 1 1 706.9 433.2" stroke="#c03a22"/>
<path d="M730.4 447.8 A1.3 1.3 0 1 1 728.2 448.6" stroke="#a82210"/>
<path d="M723 439.4 A2.1 2.1 0 1 1 718.9 439.6" stroke="#a82210"/>
<path d="M708.3 448.2 A2.7 2.7 0 0 1 705.5 444.1" stroke="#b4301e"/>
<path d="M727.6 428.5 A2 2 0 1 1 731.4 427.5" stroke="#b4301e"/>
<path d="M712.5 436 A3.2 3.2 0 1 1 706.8 438.5" stroke="#b82a18"/>
<path d="M715.6 431.3 A2.8 2.8 0 1 1 719.7 432.9" stroke="#d0442a"/>
<path d="M708.3 431.2 A1.2 1.2 0 1 1 706.4 429.9" stroke="#b4301e"/>
<path d="M723.7 437.3 A1.4 1.4 0 0 1 722.3 439.2" stroke="#c8341c"/>
<path d="M709.1 431.4 A2.8 2.8 0 1 1 712.4 427.4" stroke="#c8341c"/>
<path d="M710 443.5 A2.4 2.4 0 1 1 708.6 439.3" stroke="#a82210"/>
<path d="M713.2 437.6 A2.1 2.1 0 1 1 716.3 440.1" stroke="#c03a22"/>
<path d="M711.6 441.7 A2.9 2.9 0 1 1 715.6 437.9" stroke="#c8341c"/>
<path d="M729.2 449 A2.4 2.4 0 0 1 725 446.5" stroke="#d0442a"/>
<path d="M727 448.2 A2.1 2.1 0 1 1 728.1 451.9" stroke="#b4301e"/>
<path d="M712.2 422.8 A1.8 1.8 0 1 1 709.2 422.6" stroke="#c8341c"/>
<path d="M719.7 439.7 A2 2 0 0 1 717.5 437" stroke="#a82210"/>
<path d="M723.8 431.8 A2.1 2.1 0 1 1 727.3 431.5" stroke="#c8341c"/>
<path d="M721.8 427.9 A2.5 2.5 0 1 1 716.9 427.5" stroke="#d0442a"/>
<path d="M719.1 447.9 A1.6 1.6 0 0 1 716.9 449.6" stroke="#c8341c"/>
<path d="M702.6 436.5 A2.8 2.8 0 1 1 706.4 440.4" stroke="#c03a22"/>
<path d="M722.7 448.1 A1.6 1.6 0 0 1 725.9 447.7" stroke="#d0442a"/>
<path d="M714.1 430.5 A3.1 3.1 0 0 1 715.9 436.3" stroke="#b4301e"/>
<path d="M722.1 443.6 A2.6 2.6 0 1 1 723 439.3" stroke="#b4301e"/>
<path d="M704.1 428.1 A1.8 1.8 0 1 1 706.8 429.9" stroke="#a82210"/>
<path d="M720.6 449.7 A2.3 2.3 0 0 1 718.6 453.6" stroke="#b4301e"/>
<path d="M707.1 439.2 A1.4 1.4 0 0 1 704.5 440.1" stroke="#c8341c"/>
<path d="M713.4 454 A1.2 1.2 0 1 1 711.6 452.9" stroke="#a82210"/>
<path d="M724.5 432 A1.5 1.5 0 1 1 727.3 431.7" stroke="#d0442a"/>
<path d="M723.6 426.5 A2.9 2.9 0 0 1 725.9 421.6" stroke="#d0442a"/>
<path d="M717.2 419.9 A2.7 2.7 0 1 1 712.5 418.7" stroke="#d0442a"/>
<path d="M704.9 439.7 A2.2 2.2 0 1 1 707.9 441.7" stroke="#c03a22"/>
<path d="M730.8 443.1 A1.6 1.6 0 1 1 727.7 442.4" stroke="#c03a22"/>
<path d="M719.1 432.5 A1.4 1.4 0 0 1 718.3 435.1" stroke="#c8341c"/>
<path d="M731 431.3 A3.1 3.1 0 0 1 728.7 425.4" stroke="#c8341c"/>
<path d="M703.1 439.5 A1.3 1.3 0 0 1 702.6 441.7" stroke="#d0442a"/>
<path d="M711.7 448.9 A2.9 2.9 0 0 1 706 448.2" stroke="#b82a18"/>
<path d="M711.8 437.9 A2.2 2.2 0 1 1 714.8 436" stroke="#c8341c"/>
<path d="M704 435 A1.4 1.4 0 0 1 701.3 434.8" stroke="#b82a18"/>
<path d="M727.8 428.1 A2.8 2.8 0 1 1 732.9 426.8" stroke="#b4301e"/>
<path d="M704.6 440.1 A2.7 2.7 0 0 1 700.8 437.3" stroke="#c8341c"/>
<path d="M727.3 431.6 A2.3 2.3 0 1 1 723.3 430.2" stroke="#c8341c"/>
<path d="M717.6 446.6 A3 3 0 0 1 716.9 440.6" stroke="#b4301e"/>
<path d="M720.3 435.9 A1.8 1.8 0 0 1 716.9 434.4" stroke="#c8341c"/>
<path d="M723.1 426.3 A3 3 0 0 1 727.4 423.2" stroke="#d0442a"/>
<path d="M715.3 424 A2.8 2.8 0 1 1 715.4 418.5" stroke="#c8341c"/>
<path d="M719.1 428 A1.9 1.9 0 1 1 722.8 428.3" stroke="#d0442a"/>
<path d="M716.1 439.8 A1.2 1.2 0 0 1 717.2 441.8" stroke="#c8341c"/>
<path d="M710.9 426.1 A1.2 1.2 0 0 1 708.7 425" stroke="#b4301e"/>
<path d="M705.1 437.7 A2.4 2.4 0 1 1 702.6 440.7" stroke="#c8341c"/>
<path d="M713.5 437.7 A3.1 3.1 0 0 1 712.5 443" stroke="#c8341c"/>
<path d="M713.9 449.7 A1.3 1.3 0 1 1 711.3 449.5" stroke="#b82a18"/>
<path d="M712.9 450.1 A2.6 2.6 0 1 1 716.5 453.7" stroke="#d0442a"/>
<path d="M715.6 419.6 A2.2 2.2 0 1 1 719.7 421" stroke="#c03a22"/>
<path d="M702.7 439.4 A1.7 1.7 0 1 1 704.9 437.3" stroke="#c8341c"/>
<path d="M708.2 430.5 A2.2 2.2 0 0 1 712.3 430" stroke="#b82a18"/>
<path d="M723.5 438 A2.1 2.1 0 1 1 721.1 440.9" stroke="#b82a18"/>
<path d="M712.7 433.6 A2.2 2.2 0 1 1 716.3 435.8" stroke="#a82210"/>
<path d="M712.3 439.8 A2.5 2.5 0 0 1 707.9 441.3" stroke="#d0442a"/>
<path d="M727.2 426.2 A2.2 2.2 0 1 1 728.6 430.1" stroke="#b4301e"/>
<path d="M726.4 441.4 A1.4 1.4 0 1 1 726.5 444.2" stroke="#b82a18"/>
<path d="M730.2 448.7 A2.5 2.5 0 1 1 725.9 446.3" stroke="#b4301e"/>
<path d="M727.8 443.1 A3.1 3.1 0 1 1 731.4 448.2" stroke="#d0442a"/>
<path d="M713.8 440.1 A1.2 1.2 0 1 1 712.8 442.3" stroke="#d0442a"/>
<path d="M712.4 424.3 A1.3 1.3 0 1 1 713.4 426.9" stroke="#b4301e"/>
<path d="M715.7 450.1 A1.7 1.7 0 0 1 718.7 449.6" stroke="#a82210"/>
<path d="M721.4 445.3 A1.4 1.4 0 0 1 723.6 444.2" stroke="#c03a22"/>
<path d="M718.4 439.3 A2.9 2.9 0 0 1 723.7 441.4" stroke="#b82a18"/>
<path d="M726.7 435.7 A1.9 1.9 0 0 1 727.3 438.9" stroke="#b82a18"/>
<path d="M707.9 452.2 A2.3 2.3 0 1 1 710.6 448.6" stroke="#c03a22"/>
<path d="M725.2 420.7 A1.6 1.6 0 1 1 722.8 421" stroke="#c8341c"/>
<path d="M711.8 436.3 A3 3 0 1 1 709.3 430.9" stroke="#c03a22"/>
<path d="M700.8 443.6 A3 3 0 0 1 703.4 438.6" stroke="#b82a18"/>
<path d="M719.9 447.9 A2 2 0 1 1 723 446.1" stroke="#a82210"/>
<path d="M715.6 439.8 A1.8 1.8 0 0 1 718.4 441.5" stroke="#d0442a"/>
<path d="M716.9 421.9 A2.9 2.9 0 0 1 715 427.1" stroke="#c03a22"/>
<path d="M727.1 448.9 A1.4 1.4 0 1 1 729.1 450.7" stroke="#b4301e"/>
<path d="M716.7 432.2 A2.5 2.5 0 1 1 713.4 430" stroke="#a82210"/>
<path d="M719.8 429.9 A1.8 1.8 0 1 1 716.8 431.8" stroke="#b4301e"/>
<path d="M711.5 431.5 A3 3 0 1 1 712.8 427" stroke="#c03a22"/>
<path d="M722.7 432 A2.5 2.5 0 1 1 718.5 430.4" stroke="#c8341c"/>
<path d="M727.3 451.5 A2.5 2.5 0 0 1 722.7 450.3" stroke="#c8341c"/>
<path d="M719.9 442.1 A2.4 2.4 0 1 1 722 446.2" stroke="#d0442a"/>
<path d="M710.3 447.6 A3.1 3.1 0 1 1 706.2 451.7" stroke="#d0442a"/>
<path d="M702.9 430.6 A2.2 2.2 0 0 1 705.7 433.9" stroke="#b82a18"/>
<path d="M704.9 445.4 A2.3 2.3 0 1 1 703 449.1" stroke="#b82a18"/>
<path d="M730.3 427.6 A3.1 3.1 0 0 1 725.4 430.5" stroke="#a82210"/>
<path d="M722.4 436.3 A2.7 2.7 0 0 1 727 433.7" stroke="#c8341c"/>
<path d="M728.5 447.7 A1.4 1.4 0 1 1 731.1 448.8" stroke="#d0442a"/>
<path d="M705.1 443.1 A1.7 1.7 0 0 1 708.2 442.7" stroke="#b82a18"/>
<path d="M720.1 457.5 A2.8 2.8 0 0 1 721.7 452.1" stroke="#c03a22"/>
<path d="M717.1 435 A2.2 2.2 0 1 1 721.1 435.4" stroke="#c8341c"/>
<path d="M721.5 422.6 A1.6 1.6 0 0 1 719.8 424.9" stroke="#b82a18"/>
<path d="M708.5 423.4 A2.6 2.6 0 0 1 710 428" stroke="#c8341c"/>
<path d="M726.7 440.9 A2.7 2.7 0 0 1 726.1 435.6" stroke="#b4301e"/>
<path d="M710.6 425.7 A2.6 2.6 0 1 1 710.5 420.7" stroke="#c8341c"/>
<path d="M703.6 425.4 A2.4 2.4 0 1 1 705.8 429.4" stroke="#b4301e"/>
<path d="M722.6 441.6 A2.5 2.5 0 0 1 723.8 445.8" stroke="#d0442a"/>
<path d="M703.9 437.7 A2.4 2.4 0 1 1 704.7 433.8" stroke="#c03a22"/>
<path d="M728.1 430.8 A2.3 2.3 0 1 1 724.1 429.7" stroke="#a82210"/>
<path d="M703.1 438.2 A1.6 1.6 0 0 1 701.2 435.9" stroke="#b82a18"/>
<path d="M716.7 431 A2.9 2.9 0 0 1 720.7 434.3" stroke="#c8341c"/>
<path d="M705.6 437.6 A2.2 2.2 0 0 1 703 434.5" stroke="#a82210"/>
<path d="M716.2 451.4 A1.8 1.8 0 1 1 716.1 448" stroke="#a82210"/>
<path d="M724.6 428.6 A2.9 2.9 0 1 1 728.9 432.4" stroke="#a82210"/>
<path d="M727.2 428.8 A3 3 0 1 1 732.9 430.8" stroke="#c03a22"/>
<path d="M721 428.4 A1.5 1.5 0 0 1 719.5 426" stroke="#b82a18"/>
<path d="M709.6 426.5 A2.3 2.3 0 1 1 710.6 422.2" stroke="#b82a18"/>
<path d="M720.4 427.1 A1.6 1.6 0 0 1 718.9 424.7" stroke="#c8341c"/>
<path d="M705.5 436.2 A1.2 1.2 0 1 1 707.4 434.8" stroke="#a82210"/>
<path d="M719.3 419 A1.6 1.6 0 1 1 716.9 421.1" stroke="#c03a22"/>
<path d="M725.5 443.9 A1.5 1.5 0 0 1 728 444.8" stroke="#b82a18"/>
<path d="M712.2 438.1 A1.5 1.5 0 0 1 710 436.1" stroke="#b4301e"/>
<path d="M727.9 431.9 A1.8 1.8 0 1 1 730.6 434.2" stroke="#c8341c"/>
<path d="M730.3 426.3 A2.6 2.6 0 0 1 725.9 427.7" stroke="#c03a22"/>
<path d="M715.6 443.4 A2.2 2.2 0 1 1 712 445.7" stroke="#b4301e"/>
<path d="M718.4 446.5 A1.3 1.3 0 1 1 720.7 445" stroke="#b4301e"/>
<path d="M706.7 448.1 A1.2 1.2 0 0 1 706.9 446" stroke="#d0442a"/>
<path d="M722.9 432.4 A2 2 0 1 1 725.4 429.4" stroke="#b82a18"/>
<path d="M725.1 453.8 A2.6 2.6 0 0 1 723.4 448.8" stroke="#c8341c"/>
<path d="M704.8 436.6 A1.4 1.4 0 1 1 705.8 439.2" stroke="#c03a22"/>
<path d="M727.9 442.8 A1.7 1.7 0 1 1 730.3 441.5" stroke="#c8341c"/>
<path d="M720 444.5 A1.8 1.8 0 1 1 719 447.8" stroke="#d0442a"/>
<path d="M728.7 444.1 A2.6 2.6 0 1 1 724.1 445.8" stroke="#a82210"/>
<path d="M725.4 427.9 A2.9 2.9 0 1 1 728 433.1" stroke="#b82a18"/>
<path d="M720.2 453.7 A1.6 1.6 0 1 1 721.6 451.3" stroke="#b82a18"/>
<path d="M704.7 435.2 A2 2 0 0 1 707 438.4" stroke="#c8341c"/>
<path d="M707.6 446.2 A2.5 2.5 0 0 1 706.3 450.6" stroke="#c8341c"/>
<path d="M719.9 447.6 A1.7 1.7 0 1 1 718.9 450.8" stroke="#c03a22"/>
<path d="M724.3 449.2 A2.9 2.9 0 1 1 721.7 453.7" stroke="#a82210"/>
<path d="M727.8 444.6 A1.4 1.4 0 1 1 728.6 447" stroke="#b4301e"/>
<path d="M725.8 422.9 A2.9 2.9 0 1 1 721.2 423.3" stroke="#d0442a"/>
<path d="M714.2 426.4 A2.3 2.3 0 0 1 712.8 422.5" stroke="#d0442a"/>
<path d="M711.7 428.8 A1.4 1.4 0 1 1 709 428.4" stroke="#c8341c"/>
<path d="M706.6 447.5 A2.1 2.1 0 1 1 707.8 451.5" stroke="#c03a22"/>
<path d="M715.8 436.7 A2.7 2.7 0 0 1 712.1 440" stroke="#c8341c"/>
<path d="M719.2 451.5 A2.7 2.7 0 0 1 715.2 454.8" stroke="#c8341c"/>
<path d="M722.3 446.6 A1.3 1.3 0 0 1 723.6 444.7" stroke="#d0442a"/>
<path d="M712.6 422 A2.9 2.9 0 0 1 717.4 419" stroke="#b82a18"/>
<path d="M721.1 417.2 A3.2 3.2 0 0 1 721.7 423.5" stroke="#d0442a"/>
<path d="M712.8 421.8 A1.6 1.6 0 0 1 709.9 423.4" stroke="#c03a22"/>
<path d="M723.7 443.1 A2.3 2.3 0 1 1 719.5 444.9" stroke="#d0442a"/>
<path d="M704.1 435.8 A3 3 0 1 1 709.4 438.8" stroke="#d0442a"/>
<path d="M724.6 438.5 A2.5 2.5 0 0 1 725.6 433.6" stroke="#a82210"/>
<path d="M722.4 418 A1.5 1.5 0 1 1 721.2 420.3" stroke="#b82a18"/>
<path d="M715.6 450.5 A2.2 2.2 0 1 1 711.8 451.1" stroke="#b4301e"/>
<path d="M718.3 434.4 A2.2 2.2 0 1 1 715.7 432.1" stroke="#b4301e"/>
<path d="M711.2 418.7 A2.5 2.5 0 1 1 709.5 422.6" stroke="#d0442a"/>
<path d="M709.9 441.4 A1.6 1.6 0 1 1 711.6 444.1" stroke="#c03a22"/>
<path d="M706.8 439.4 A1.8 1.8 0 0 1 710.3 439.5" stroke="#d0442a"/>
<path d="M729.2 433.7 A1.6 1.6 0 0 1 727 435.5" stroke="#b82a18"/>
<path d="M718.6 447.7 A1.3 1.3 0 0 1 720.6 448.9" stroke="#b4301e"/>
<path d="M709.9 451.3 A1.9 1.9 0 1 1 711.5 448.3" stroke="#c03a22"/>
<path d="M732.1 442.9 A1.3 1.3 0 1 1 730 444.4" stroke="#d0442a"/>
<path d="M717.7 445.8 A2.6 2.6 0 0 1 713.5 442.7" stroke="#b4301e"/>
<path d="M709.7 434.5 A2.5 2.5 0 1 1 705.2 435" stroke="#b4301e"/>
<path d="M708.9 425.4 A2.3 2.3 0 1 1 708.9 421.3" stroke="#a82210"/>
<path d="M716 440.5 A2.2 2.2 0 1 1 711.9 442.2" stroke="#d0442a"/>
<path d="M727.2 441.3 A1.3 1.3 0 0 1 726 443.2" stroke="#c03a22"/>
<path d="M725.7 441.7 A1.7 1.7 0 0 1 729 440.7" stroke="#b82a18"/>
<path d="M712.3 428.8 A1.3 1.3 0 0 1 710 427.9" stroke="#b82a18"/>
<path d="M709 428.7 A1.5 1.5 0 0 1 711.6 430" stroke="#a82210"/>
<path d="M720.9 446.9 A1.5 1.5 0 1 1 718.7 448.9" stroke="#b82a18"/>
<path d="M711.6 431.1 A2.3 2.3 0 1 1 709.4 435.1" stroke="#c03a22"/>
<path d="M703.4 430.9 A1.6 1.6 0 0 1 706 433" stroke="#d0442a"/>
<path d="M710.7 451.2 A1.3 1.3 0 1 1 708.3 450.6" stroke="#c8341c"/>
<path d="M716.8 438.8 A2.7 2.7 0 0 1 720.8 435.5" stroke="#d0442a"/>
<path d="M717.8 437.7 A3.1 3.1 0 1 1 716.9 431.9" stroke="#d0442a"/>
<path d="M721.9 423.8 A3.2 3.2 0 0 1 722.9 417.8" stroke="#a82210"/>
<path d="M714.4 428.3 A2 2 0 0 1 717.4 425.8" stroke="#b82a18"/>
<path d="M713.1 440.8 A2.4 2.4 0 1 1 716.7 438.1" stroke="#c8341c"/>
<path d="M717 419 A1.6 1.6 0 0 1 716.9 421.9" stroke="#c03a22"/>
<path d="M722.6 438.6 A1.7 1.7 0 0 1 719.9 440.1" stroke="#d0442a"/>
<path d="M719.4 438.5 A1.5 1.5 0 1 1 721.7 439" stroke="#c8341c"/>
<path d="M725.5 440.5 A3.1 3.1 0 1 1 724.4 434.5" stroke="#a82210"/>
<path d="M710 451.8 A2.3 2.3 0 1 1 711.2 447.4" stroke="#c8341c"/>
<path d="M712.5 418.2 A2.8 2.8 0 1 1 711.8 423.4" stroke="#c03a22"/>
<path d="M724.2 444.1 A1.7 1.7 0 0 1 721.2 444.3" stroke="#b4301e"/>
<path d="M723.9 442.3 A2.6 2.6 0 1 1 728.5 444.5" stroke="#c03a22"/>
<path d="M704.1 426.9 A2.7 2.7 0 0 1 708.9 424.9" stroke="#c8341c"/>
<path d="M705.4 437 A3 3 0 1 1 701.7 432.6" stroke="#a82210"/>
<path d="M708.8 441.7 A2.6 2.6 0 1 1 710.6 436.9" stroke="#a82210"/>
<path d="M718.1 446.9 A2.4 2.4 0 1 1 718 450.6" stroke="#b4301e"/>
<path d="M731.9 429.5 A2.4 2.4 0 0 1 727.8 427.8" stroke="#d0442a"/>
<path d="M729.9 436.7 A1.3 1.3 0 1 1 729.4 438.8" stroke="#c03a22"/>
<path d="M709.8 447.9 A2.8 2.8 0 0 1 714.1 451.2" stroke="#b82a18"/>
<path d="M730.1 429.8 A1.5 1.5 0 0 1 730.9 427" stroke="#c03a22"/>
<path d="M717.5 433.6 A2.8 2.8 0 0 1 716.1 438.6" stroke="#b4301e"/>
<path d="M715.5 438.2 A2.1 2.1 0 1 1 711.9 436.3" stroke="#a82210"/>
<path d="M702.3 437.4 A1.7 1.7 0 0 1 702.7 440.7" stroke="#c8341c"/>
<path d="M728.4 445.2 A1.4 1.4 0 1 1 726 444" stroke="#d0442a"/>
<path d="M711.2 444.7 A1.3 1.3 0 1 1 710.1 446.7" stroke="#c8341c"/>
<path d="M719.7 447.8 A2.1 2.1 0 0 1 719.5 444.3" stroke="#b82a18"/>
<path d="M725.6 435.6 A2.5 2.5 0 1 1 722.2 437.8" stroke="#b4301e"/>
<path d="M725.3 430.3 A1.3 1.3 0 0 1 727.4 432" stroke="#a82210"/>
<path d="M708.3 438 A1.7 1.7 0 1 1 706.1 436.6" stroke="#b4301e"/>
<path d="M717 438.4 A1.4 1.4 0 1 1 719.8 438.2" stroke="#a82210"/>
<path d="M718 453.8 A2.5 2.5 0 1 1 721.8 453" stroke="#a82210"/>
<path d="M707.1 433.8 A1.9 1.9 0 1 1 710.6 435" stroke="#c8341c"/>
<path d="M719.5 451.1 A2.5 2.5 0 0 1 717.6 454.9" stroke="#d0442a"/>
<path d="M706.4 438 A2.3 2.3 0 1 1 702 437.3" stroke="#b4301e"/>
<path d="M702.6 438.6 A2.7 2.7 0 0 1 705.4 433.9" stroke="#d0442a"/>
<path d="M735.4 440.7 A3.1 3.1 0 1 1 731.4 436.9" stroke="#b82a18"/>
<path d="M725.4 446 A1.3 1.3 0 0 1 725.9 448.3" stroke="#d0442a"/>
<path d="M707.8 430.8 A1.2 1.2 0 0 1 709.8 432.2" stroke="#b4301e"/>
<path d="M713.1 438.2 A3.1 3.1 0 0 1 718.9 435.8" stroke="#d0442a"/>
<path d="M726.5 443.7 A2.2 2.2 0 1 1 726.6 448" stroke="#d0442a"/>
<path d="M705.7 439.5 A3.1 3.1 0 0 1 700.3 438.1" stroke="#c03a22"/>
<path d="M707.4 424 A1.6 1.6 0 1 1 706.5 426.8" stroke="#a82210"/>
<path d="M725.7 444.3 A1.3 1.3 0 1 1 728.2 443.6" stroke="#c8341c"/>
<path d="M723.8 438.8 A3.1 3.1 0 1 1 728.3 441.2" stroke="#b4301e"/>
<path d="M708.2 446.7 A2 2 0 0 1 705.2 444.1" stroke="#c8341c"/>
<path d="M722.6 456.7 A2.2 2.2 0 1 1 721.3 452.5" stroke="#c8341c"/>
<path d="M707.1 451.5 A3.1 3.1 0 0 1 713.2 452.2" stroke="#c8341c"/>
<path d="M705.7 443.6 A1.8 1.8 0 1 1 704.5 446.8" stroke="#a82210"/>
<path d="M730.1 427.6 A2.1 2.1 0 0 1 727.5 430.8" stroke="#a82210"/>
<path d="M727.9 438 A2.5 2.5 0 1 1 730.5 441.4" stroke="#c03a22"/>
<path d="M712.2 452.8 A2 2 0 1 1 714.3 456.2" stroke="#a82210"/>
<path d="M730 429.6 A1.7 1.7 0 0 1 729.7 426.4" stroke="#c03a22"/>
<path d="M714.6 442.9 A2.9 2.9 0 1 1 720.2 442.3" stroke="#c03a22"/>
<path d="M714.6 430.7 A2 2 0 1 1 716.7 433.9" stroke="#b82a18"/>
<path d="M703.5 436 A1.8 1.8 0 0 1 700.5 435" stroke="#b82a18"/>
<path d="M711.3 438.4 A1.6 1.6 0 0 1 711.6 435.4" stroke="#b4301e"/>
<path d="M731.3 428 A1.5 1.5 0 0 1 730.8 431" stroke="#b82a18"/>
<path d="M718.8 418.9 A2.2 2.2 0 1 1 720.1 422.7" stroke="#b82a18"/>
<path d="M718.7 430.5 A1.7 1.7 0 0 1 720.8 427.8" stroke="#a82210"/>
<path d="M727.5 433 A2.8 2.8 0 0 1 732.3 430.1" stroke="#b4301e"/>
<path d="M719.4 422.8 A3 3 0 1 1 720.4 416.9" stroke="#a82210"/>
<path d="M721 427.3 A2.5 2.5 0 0 1 716.6 427.5" stroke="#c03a22"/>
<path d="M723.7 442.9 A1.7 1.7 0 0 1 721.4 445.4" stroke="#a82210"/>
<path d="M717.8 457.4 A2.9 2.9 0 1 1 718.3 451.8" stroke="#b4301e"/>
<path d="M725.5 453.2 A2.3 2.3 0 1 1 722.1 452" stroke="#b4301e"/>
<path d="M712.8 426.7 A1.9 1.9 0 0 1 709.2 425.5" stroke="#a82210"/>
<path d="M716.7 454.8 A1.8 1.8 0 0 1 716.5 451.1" stroke="#b82a18"/>
<path d="M726.2 436.1 A2.1 2.1 0 0 1 725.8 439.8" stroke="#a82210"/>
<path d="M704.4 434.3 A2.3 2.3 0 0 1 706 437.9" stroke="#b82a18"/>
<path d="M719.8 443.6 A2.2 2.2 0 1 1 717.5 446.3" stroke="#d0442a"/>
<path d="M713.8 423.2 A3.1 3.1 0 0 1 719.7 423.9" stroke="#b4301e"/>
<path d="M726.6 438.3 A2.3 2.3 0 1 1 730.4 437.4" stroke="#c8341c"/>
<path d="M713.9 449.3 A1.3 1.3 0 1 1 711.4 449.8" stroke="#c03a22"/>
<path d="M721.7 431.7 A1.7 1.7 0 1 1 724.3 430" stroke="#d0442a"/>
<path d="M721.8 425.2 A1.3 1.3 0 1 1 719.7 426.5" stroke="#b4301e"/>
<path d="M703.4 429.3 A1.8 1.8 0 1 1 702.6 432.8" stroke="#c8341c"/>
<path d="M715.2 431.9 A3 3 0 0 1 709.3 432.5" stroke="#d0442a"/>
<path d="M720.1 432 A1.4 1.4 0 1 1 717.3 431.7" stroke="#c03a22"/>
<path d="M726.8 434.6 A1.7 1.7 0 1 1 728.2 432" stroke="#d0442a"/>
<path d="M713.5 419.4 A1.4 1.4 0 0 1 710.8 419.9" stroke="#c8341c"/>
<path d="M713.1 423.4 A2.2 2.2 0 1 1 710.3 426.6" stroke="#c03a22"/>
<path d="M710.9 432.7 A2.4 2.4 0 0 1 714.5 430.5" stroke="#c03a22"/>
<path d="M707.4 436.7 A1.9 1.9 0 1 1 703.9 436.3" stroke="#d0442a"/>
<path d="M705 431.9 Q702 433.1 701.8 431.6" stroke="#d86a5a" stroke-width="0.45"/>
<path d="M724.3 450.4 Q726.4 452.5 726.6 452.8" stroke="#e08a80" stroke-width="0.45"/>
<path d="M712.8 451.6 Q712.4 451.7 710.4 453.7" stroke="#e08a80" stroke-width="0.45"/>
<path d="M708.9 425 Q707 423.3 706 423.4" stroke="#e08a80" stroke-width="0.45"/>
<path d="M704.4 435 Q704.7 435.4 702.1 433" stroke="#d86a5a" stroke-width="0.45"/>
<path d="M730.2 432.5 Q730.8 432.5 733.5 433.4" stroke="#c84a3a" stroke-width="0.45"/>
<path d="M711 450.5 Q711.4 452.2 709.1 452.8" stroke="#c84a3a" stroke-width="0.45"/>
<path d="M724.5 423.6 Q725.5 421.3 724.5 419" stroke="#c84a3a" stroke-width="0.45"/>
<path d="M718.9 452.5 Q720.2 454.2 718.8 456.9" stroke="#e08a80" stroke-width="0.45"/>
<path d="M729.9 431.6 Q732.8 429.6 733 428.3" stroke="#e08a80" stroke-width="0.45"/>
<path d="M722.3 451.5 Q724.1 453 724.6 453.5" stroke="#c84a3a" stroke-width="0.45"/>
<path d="M705.2 431.3 Q704.4 431.2 702.7 430.5" stroke="#e08a80" stroke-width="0.45"/>
<path d="M724.1 423.3 Q723.5 422.9 725.9 421.5" stroke="#c84a3a" stroke-width="0.45"/>
<path d="M709.3 424.6 Q707.6 423.6 707.5 422.8" stroke="#d86a5a" stroke-width="0.45"/>
<path d="M721.3 452 Q723.1 455.1 722.9 456.2" stroke="#e08a80" stroke-width="0.45"/>
<path d="M718.4 452.6 Q716.6 454.3 716.9 455.3" stroke="#d86a5a" stroke-width="0.45"/>
<path d="M726.6 448.3 Q728.7 449.3 729.8 449.5" stroke="#d86a5a" stroke-width="0.45"/>
<path d="M709.5 424.4 Q709.8 424.6 707.3 422.7" stroke="#d86a5a" stroke-width="0.45"/>
<path d="M723.7 450.8 Q723.7 451.4 725.3 453.3" stroke="#d86a5a" stroke-width="0.45"/>
<path d="M730.5 434.4 Q731.7 433.3 733.3 433.9" stroke="#e08a80" stroke-width="0.45"/>
<path d="M707.2 427.1 Q707.1 424.8 704.4 424" stroke="#c84a3a" stroke-width="0.45"/>
<path d="M713.7 421.8 Q713.4 420.7 714.9 417.4" stroke="#d86a5a" stroke-width="0.45"/>
<path d="M708.3 425.7 Q705.9 424.1 705.1 423" stroke="#e08a80" stroke-width="0.45"/>
<path d="M721.9 451.7 Q721.2 453.3 722.7 454.3" stroke="#d86a5a" stroke-width="0.45"/>
<path d="M707.4 426.9 Q707.3 425.8 704.3 423.2" stroke="#d86a5a" stroke-width="0.45"/>
<path d="M708.1 425.8 Q706.2 424.9 706.3 423.2" stroke="#c84a3a" stroke-width="0.45"/>
<path d="M705.2 431.1 Q703.8 432 702.7 430.4" stroke="#c84a3a" stroke-width="0.45"/>
</g>
<ellipse cx="783.4" cy="451" rx="8.8" ry="8" fill="#d8553a" opacity="0.18"/>
<g fill="none" stroke-width="0.6" stroke-linecap="round">
<path d="M787.7 452.3 A3.1 3.1 0 1 1 787.3 446" stroke="#c03a22"/>
<path d="M780 456.2 A1.5 1.5 0 1 1 777.8 455.3" stroke="#c8341c"/>
<path d="M786.8 449.9 A2.1 2.1 0 1 1 783.8 447.7" stroke="#b4301e"/>
<path d="M776.6 446.7 A2.6 2.6 0 0 1 779 442" stroke="#b82a18"/>
<path d="M774.5 446 A1.8 1.8 0 1 1 776.5 443" stroke="#b82a18"/>
<path d="M780.6 454.1 A2.1 2.1 0 0 1 782.8 457.4" stroke="#c8341c"/>
<path d="M782.6 452.2 A2.3 2.3 0 0 1 779.8 448.9" stroke="#c8341c"/>
<path d="M791.7 454.4 A3 3 0 1 1 786.9 452.2" stroke="#a82210"/>
<path d="M794.1 449.4 A1.5 1.5 0 1 1 792.5 446.8" stroke="#d0442a"/>
<path d="M780.1 455 A1.9 1.9 0 1 1 778.1 458.3" stroke="#b82a18"/>
<path d="M792.4 447.7 A2.1 2.1 0 1 1 791 450.9" stroke="#c03a22"/>
<path d="M778.8 451.7 A2.5 2.5 0 0 1 775.2 448.2" stroke="#c03a22"/>
<path d="M781.5 456 A2 2 0 1 1 784.8 454.3" stroke="#d0442a"/>
<path d="M788.8 449.9 A2.9 2.9 0 0 1 791.1 445.4" stroke="#c03a22"/>
<path d="M782.7 455.5 A1.7 1.7 0 0 1 784.4 458.1" stroke="#c03a22"/>
<path d="M787.4 452.7 A2.8 2.8 0 0 1 791.9 450.3" stroke="#b82a18"/>
<path d="M786.6 453.2 A2.7 2.7 0 0 1 787.4 458.4" stroke="#b82a18"/>
<path d="M787.6 462.1 A2.5 2.5 0 1 1 790.5 458.1" stroke="#c03a22"/>
<path d="M792.6 448.7 A1.7 1.7 0 0 1 789.7 450.4" stroke="#b4301e"/>
<path d="M780.4 459.6 A3.1 3.1 0 0 1 785.1 455.7" stroke="#c8341c"/>
<path d="M781.6 457 A2.2 2.2 0 1 1 777.8 455.2" stroke="#a82210"/>
<path d="M785.9 453.8 A2.6 2.6 0 0 1 786.9 449.1" stroke="#c03a22"/>
<path d="M774.8 457.8 A1.5 1.5 0 1 1 777.7 456.9" stroke="#a82210"/>
<path d="M777 443.7 A2.9 2.9 0 1 1 771.8 446" stroke="#a82210"/>
<path d="M785.4 443.7 A2.7 2.7 0 0 1 780.4 443.7" stroke="#c03a22"/>
<path d="M788.5 448.6 A3 3 0 0 1 792.1 452.3" stroke="#d0442a"/>
<path d="M780.8 459.3 A1.8 1.8 0 0 1 777.5 460.7" stroke="#b82a18"/>
<path d="M789.7 454.9 A1.9 1.9 0 1 1 786.6 456.8" stroke="#b4301e"/>
<path d="M788.4 456.9 A1.5 1.5 0 1 1 786.8 459.3" stroke="#a82210"/>
<path d="M775.6 449 A2.9 2.9 0 1 1 772.6 445.3" stroke="#b4301e"/>
<path d="M793.2 452.2 A2.4 2.4 0 1 1 789 452.9" stroke="#d0442a"/>
<path d="M785.4 452.6 A1.8 1.8 0 0 1 788.3 454.4" stroke="#c8341c"/>
<path d="M784.3 456.4 A2.1 2.1 0 1 1 785.6 459.5" stroke="#b4301e"/>
<path d="M790.4 453.7 A1.4 1.4 0 1 1 788.6 455.1" stroke="#b4301e"/>
<path d="M784.2 448.9 A1.6 1.6 0 0 1 787.2 450" stroke="#b4301e"/>
<path d="M782.5 441.1 A1.9 1.9 0 1 1 785.4 443.4" stroke="#c03a22"/>
<path d="M777.7 443 A2.5 2.5 0 1 1 782.6 443.5" stroke="#a82210"/>
<path d="M782 459.5 A3.1 3.1 0 0 1 776.2 459.9" stroke="#b82a18"/>
<path d="M788.6 455.6 A1.9 1.9 0 0 1 789.6 452.6" stroke="#a82210"/>
<path d="M777.6 454.4 A2.6 2.6 0 0 1 781.2 451.9" stroke="#b82a18"/>
<path d="M775.4 446.4 A1.3 1.3 0 1 1 777.1 445.1" stroke="#d0442a"/>
<path d="M780 458.9 A1.6 1.6 0 1 1 782.8 458.6" stroke="#c03a22"/>
<path d="M787.5 451.2 A2.8 2.8 0 1 1 788.4 456.7" stroke="#a82210"/>
<path d="M778.4 450.8 A2.1 2.1 0 0 1 782.5 450.4" stroke="#d0442a"/>
<path d="M787 440.2 A2 2 0 0 1 784.4 443.1" stroke="#a82210"/>
<path d="M785.1 443.2 A2.3 2.3 0 1 1 781.9 440" stroke="#b4301e"/>
<path d="M780.1 455.4 A2.9 2.9 0 1 1 781.5 461.1" stroke="#d0442a"/>
<path d="M773.2 450.8 A2.9 2.9 0 1 1 773.2 455.6" stroke="#d0442a"/>
<path d="M780 451.4 A2.9 2.9 0 0 1 784.7 449.4" stroke="#b4301e"/>
<path d="M774.4 450.9 A1.5 1.5 0 1 1 776.7 450.4" stroke="#a82210"/>
<path d="M777 441.2 A2.2 2.2 0 1 1 778.8 445.2" stroke="#c03a22"/>
<path d="M775.2 455.6 A1.7 1.7 0 1 1 774.4 458.8" stroke="#a82210"/>
<path d="M775.2 448.9 A2.4 2.4 0 0 1 779.6 450.7" stroke="#b4301e"/>
<path d="M773.8 455.9 A1.5 1.5 0 1 1 775.1 458.4" stroke="#c03a22"/>
<path d="M784.6 445.7 A2.8 2.8 0 0 1 790 446.6" stroke="#d0442a"/>
<path d="M777.7 441.1 A2 2 0 0 1 778 444.8" stroke="#a82210"/>
<path d="M776.5 445.5 A1.6 1.6 0 0 1 777.9 448.3" stroke="#b4301e"/>
<path d="M773.2 450.9 A2.8 2.8 0 1 1 778.3 453.4" stroke="#c8341c"/>
<path d="M775.6 451 A2.3 2.3 0 0 1 772 453.1" stroke="#c03a22"/>
<path d="M785.1 453.4 A1.7 1.7 0 0 1 782.4 455" stroke="#b82a18"/>
<path d="M776.2 457.1 A1.5 1.5 0 0 1 779.1 457.3" stroke="#a82210"/>
<path d="M773.6 453.9 A3.1 3.1 0 0 1 771.2 448.4" stroke="#b82a18"/>
<path d="M774.4 450.2 A2.7 2.7 0 0 1 779.7 451.1" stroke="#b82a18"/>
<path d="M782.7 454.7 A1.2 1.2 0 1 1 783.7 452.9" stroke="#c8341c"/>
<path d="M776.6 455.2 A3 3 0 1 1 782.4 455" stroke="#b82a18"/>
<path d="M779.6 453.8 A2.8 2.8 0 1 1 774 453" stroke="#b4301e"/>
<path d="M792.6 451.3 A2.2 2.2 0 1 1 795.1 448.8" stroke="#b82a18"/>
<path d="M780.3 447.6 A2.6 2.6 0 0 1 784.1 450.7" stroke="#d0442a"/>
<path d="M790.3 453.6 A1.7 1.7 0 1 1 787.4 452.2" stroke="#b4301e"/>
<path d="M778.4 444.6 A2.5 2.5 0 0 1 780.1 449.2" stroke="#d0442a"/>
<path d="M787.5 458.2 A2.3 2.3 0 1 1 790.8 460.7" stroke="#a82210"/>
<path d="M790 452.1 A2.1 2.1 0 1 1 786.9 450.4" stroke="#c8341c"/>
<path d="M784.8 444 A2 2 0 1 1 786.4 440.8" stroke="#b82a18"/>
<path d="M784.2 461.3 A1.6 1.6 0 1 1 781.6 459.4" stroke="#a82210"/>
<path d="M783.3 455.2 A1.2 1.2 0 1 1 781.2 455" stroke="#b82a18"/>
<path d="M786.8 454.4 A2.3 2.3 0 0 1 782.5 454" stroke="#a82210"/>
<path d="M772.2 449.5 A1.7 1.7 0 1 1 772.5 452.7" stroke="#b4301e"/>
<path d="M780.3 447.5 A1.6 1.6 0 0 1 783.2 449.1" stroke="#d0442a"/>
<path d="M774.9 446.9 A1.3 1.3 0 1 1 773.2 448.8" stroke="#c03a22"/>
<path d="M779 457.5 A2.3 2.3 0 0 1 780.3 453.6" stroke="#d0442a"/>
<path d="M776.1 446.4 A2.8 2.8 0 1 1 772.6 450.8" stroke="#c8341c"/>
<path d="M780.3 449.7 A3 3 0 1 1 779.8 444.9" stroke="#d0442a"/>
<path d="M788.4 457.3 A1.9 1.9 0 1 1 789.7 460" stroke="#b4301e"/>
<path d="M783.4 449 A1.6 1.6 0 0 1 786.5 448.4" stroke="#c03a22"/>
<path d="M779.8 456.8 A2.3 2.3 0 1 1 780.7 452.5" stroke="#a82210"/>
<path d="M784.5 449.1 A2.6 2.6 0 1 1 786.2 453.6" stroke="#c03a22"/>
<path d="M777.4 442 A2.6 2.6 0 1 1 778 447.1" stroke="#c03a22"/>
<path d="M794.7 453.8 A2.9 2.9 0 1 1 792.2 448.6" stroke="#c03a22"/>
<path d="M790.2 447.8 A1.3 1.3 0 1 1 792.6 448" stroke="#b4301e"/>
<path d="M780.7 454.4 A1.7 1.7 0 0 1 778.7 452" stroke="#c03a22"/>
<path d="M780.9 459.1 A2.3 2.3 0 0 1 777.2 456.8" stroke="#c03a22"/>
<path d="M776.7 449.4 A1.4 1.4 0 1 1 776.4 451.7" stroke="#b82a18"/>
<path d="M789 451.6 A1.8 1.8 0 0 1 785.8 453.1" stroke="#b4301e"/>
<path d="M774.1 452.2 A1.6 1.6 0 1 1 775.6 454.9" stroke="#c03a22"/>
<path d="M783.3 443.6 A2 2 0 1 1 786.2 441.9" stroke="#c8341c"/>
<path d="M782.6 446.7 A1.9 1.9 0 0 1 785.8 445.7" stroke="#b82a18"/>
<path d="M793.5 455.2 A2.4 2.4 0 0 1 791.1 459.3" stroke="#c03a22"/>
<path d="M789 451.3 A1.8 1.8 0 1 1 789.2 447.8" stroke="#a82210"/>
<path d="M784.8 445.5 A3 3 0 1 1 778.9 446.1" stroke="#c8341c"/>
<path d="M783.8 448.6 A2 2 0 1 1 787.1 449.7" stroke="#b82a18"/>
<path d="M785.4 456 A2.8 2.8 0 0 1 781.7 460" stroke="#c03a22"/>
<path d="M786.1 457.6 A2.8 2.8 0 0 1 783.3 452.9" stroke="#d0442a"/>
<path d="M786.1 445.3 A2.8 2.8 0 1 1 790.8 446.9" stroke="#d0442a"/>
<path d="M785.2 455.1 A2 2 0 1 1 788.4 453.9" stroke="#c8341c"/>
<path d="M770.2 452.4 A2.4 2.4 0 0 1 775 452.6" stroke="#b4301e"/>
<path d="M781.7 457.7 A2.3 2.3 0 0 1 780.2 462.1" stroke="#c03a22"/>
<path d="M783.4 460.2 A1.7 1.7 0 1 1 781.2 458.2" stroke="#c03a22"/>
<path d="M773.1 448.8 A1.3 1.3 0 1 1 771.9 450.9" stroke="#a82210"/>
<path d="M777.9 457.2 A2.8 2.8 0 0 1 782.9 457.7" stroke="#c8341c"/>
<path d="M793.9 450.7 A1.7 1.7 0 0 1 792.1 447.8" stroke="#d0442a"/>
<path d="M775.9 452.8 A2.4 2.4 0 1 1 771.9 455.5" stroke="#d0442a"/>
<path d="M785.1 462.4 A1.9 1.9 0 1 1 785.4 458.9" stroke="#b4301e"/>
<path d="M781.8 458.1 A2.3 2.3 0 0 1 781.9 462.7" stroke="#a82210"/>
<path d="M785.2 460.2 A3.2 3.2 0 0 1 785.5 454.2" stroke="#d0442a"/>
<path d="M785 448.1 A1.5 1.5 0 0 1 784.9 445.5" stroke="#b82a18"/>
<path d="M787.1 458.8 Q787.6 459.6 789.6 463.1" stroke="#e08a80" stroke-width="0.45"/>
<path d="M789.6 457.3 Q789.8 460.7 791.6 461.5" stroke="#e08a80" stroke-width="0.45"/>
<path d="M774.1 452 Q771.9 452.1 769.4 453.3" stroke="#d86a5a" stroke-width="0.45"/>
<path d="M784.6 442.6 Q784.5 441.8 785.9 440.1" stroke="#c84a3a" stroke-width="0.45"/>
<path d="M774.2 452.3 Q771.5 452.2 771.3 454.8" stroke="#d86a5a" stroke-width="0.45"/>
<path d="M789 444.2 Q788.9 442.2 790.2 440.6" stroke="#d86a5a" stroke-width="0.45"/>
<path d="M774.6 448.2 Q771.2 449.6 770.1 448.7" stroke="#c84a3a" stroke-width="0.45"/>
<path d="M786.8 458.9 Q789.2 461.1 788.8 462.4" stroke="#c84a3a" stroke-width="0.45"/>
<path d="M774.2 452.7 Q773.9 454 771.1 455.6" stroke="#e08a80" stroke-width="0.45"/>
<path d="M774.1 451.3 Q771 451 770.4 453" stroke="#c84a3a" stroke-width="0.45"/>
<path d="M776.6 445.1 Q775.1 443.6 774.9 442.6" stroke="#d86a5a" stroke-width="0.45"/>
<path d="M785 442.6 Q784.6 440.9 784.2 439.3" stroke="#e08a80" stroke-width="0.45"/>
<path d="M790.2 456.9 Q790.8 457.9 792.8 458.2" stroke="#e08a80" stroke-width="0.45"/>
<path d="M782.9 459.5 Q782.1 461.4 783.3 462.7" stroke="#c84a3a" stroke-width="0.45"/>
<path d="M786.8 458.9 Q787 458.8 786.2 461.7" stroke="#e08a80" stroke-width="0.45"/>
<path d="M791.8 454.8 Q791.8 454.5 793.3 456.8" stroke="#d86a5a" stroke-width="0.45"/>
</g>
<ellipse cx="738.6" cy="495.8" rx="8.8" ry="8.8" fill="#d8553a" opacity="0.18"/>
<g fill="none" stroke-width="0.6" stroke-linecap="round">
<path d="M730 498.1 A3 3 0 0 1 734.6 495.2" stroke="#c03a22"/>
<path d="M747.3 498.4 A1.8 1.8 0 0 1 746.3 501.8" stroke="#c03a22"/>
<path d="M736.6 490.4 A2.9 2.9 0 0 1 733.4 495.1" stroke="#a82210"/>
<path d="M738.1 494 A1.3 1.3 0 1 1 735.8 495" stroke="#c8341c"/>
<path d="M738.5 502.8 A2.1 2.1 0 1 1 741 506" stroke="#c8341c"/>
<path d="M737.9 494.8 A3.2 3.2 0 1 1 740.3 500.2" stroke="#b82a18"/>
<path d="M750.6 497.3 A1.5 1.5 0 1 1 748.3 495.9" stroke="#d0442a"/>
<path d="M740 497.3 A1.3 1.3 0 0 1 741.9 495.6" stroke="#c03a22"/>
<path d="M727.1 493.1 A1.3 1.3 0 1 1 729.7 493.5" stroke="#d0442a"/>
<path d="M744.5 488.5 A2.7 2.7 0 0 1 741.2 491.7" stroke="#a82210"/>
<path d="M742.1 507.2 A2.6 2.6 0 1 1 739.4 502.9" stroke="#d0442a"/>
<path d="M744.4 501.2 A1.5 1.5 0 0 1 741.6 501.1" stroke="#b82a18"/>
<path d="M734.1 500.1 A2 2 0 1 1 736.4 497.2" stroke="#b4301e"/>
<path d="M738 495.4 A2.8 2.8 0 0 1 732.4 495.1" stroke="#b4301e"/>
<path d="M733.6 487 A2.5 2.5 0 0 1 737 484.4" stroke="#c03a22"/>
<path d="M728.6 489.1 A2.2 2.2 0 0 1 731.5 486.3" stroke="#c03a22"/>
<path d="M742.1 494.3 A1.9 1.9 0 1 1 745 491.9" stroke="#c03a22"/>
<path d="M731.3 501.7 A2 2 0 1 1 727.7 499.9" stroke="#d0442a"/>
<path d="M746 501.4 A2.9 2.9 0 0 1 749.4 496.6" stroke="#c03a22"/>
<path d="M743.3 491.6 A1.4 1.4 0 0 1 746.1 491.4" stroke="#a82210"/>
<path d="M741.5 505.4 A2 2 0 0 1 738.8 507.8" stroke="#c03a22"/>
<path d="M742.2 501.5 A2 2 0 0 1 742.9 497.5" stroke="#b4301e"/>
<path d="M733.6 502.4 A2.3 2.3 0 1 1 732.3 498.9" stroke="#c8341c"/>
<path d="M736.9 506.1 A1.6 1.6 0 1 1 734.9 503.7" stroke="#c03a22"/>
<path d="M744.4 494.5 A2.9 2.9 0 1 1 744 499.3" stroke="#d0442a"/>
<path d="M732.3 502.1 A2.7 2.7 0 0 1 729.1 497.9" stroke="#c03a22"/>
<path d="M742.8 490.5 A2.1 2.1 0 1 1 746.4 489.1" stroke="#b4301e"/>
<path d="M735.2 503.3 A2.7 2.7 0 1 1 739.3 500.5" stroke="#b82a18"/>
<path d="M741 494.2 A2.5 2.5 0 1 1 743.3 498.6" stroke="#b4301e"/>
<path d="M731.5 496.7 A2.4 2.4 0 1 1 734.9 499.3" stroke="#b82a18"/>
<path d="M743.5 487.6 A1.7 1.7 0 1 1 740.3 488.4" stroke="#b82a18"/>
<path d="M736.4 500.1 A2.5 2.5 0 1 1 735.7 505" stroke="#d0442a"/>
<path d="M746.1 498.1 A2.7 2.7 0 0 1 751.1 496.6" stroke="#b82a18"/>
<path d="M744 503.7 A2.2 2.2 0 1 1 742 500.2" stroke="#d0442a"/>
<path d="M732.3 493.5 A1.8 1.8 0 0 1 729.4 491.5" stroke="#c03a22"/>
<path d="M741.9 490.7 A2.1 2.1 0 0 1 738.2 489" stroke="#c8341c"/>
<path d="M739.1 506.1 A2.9 2.9 0 1 1 737.6 500.8" stroke="#a82210"/>
<path d="M729.8 496.9 A1.8 1.8 0 1 1 732.6 496.3" stroke="#a82210"/>
<path d="M736 489.8 A2.9 2.9 0 1 1 731.6 487.9" stroke="#c03a22"/>
<path d="M744.5 492.1 A1.4 1.4 0 1 1 746.6 493.2" stroke="#c8341c"/>
<path d="M745 492.5 A1.7 1.7 0 0 1 742.5 494.9" stroke="#b82a18"/>
<path d="M730.5 498.4 A1.7 1.7 0 1 1 734 498.3" stroke="#b4301e"/>
<path d="M747 499.7 A1.5 1.5 0 1 1 744 499.1" stroke="#c8341c"/>
<path d="M750.6 494.6 A3.1 3.1 0 0 1 747.2 498.7" stroke="#c03a22"/>
<path d="M738.5 496.2 A3.1 3.1 0 1 1 744.4 495.6" stroke="#b82a18"/>
<path d="M731.2 500.5 A2.4 2.4 0 0 1 728.4 497" stroke="#d0442a"/>
<path d="M742.9 489.9 A1.4 1.4 0 1 1 742.2 492.5" stroke="#b82a18"/>
<path d="M738 497.3 A3.1 3.1 0 0 1 732.6 494.9" stroke="#d0442a"/>
<path d="M740.9 504.8 A1.3 1.3 0 0 1 741 502.4" stroke="#c8341c"/>
<path d="M736.9 498.1 A2.7 2.7 0 0 1 739 502.6" stroke="#a82210"/>
<path d="M742.3 500.6 A1.4 1.4 0 1 1 740.5 502.9" stroke="#b4301e"/>
<path d="M727.4 497 A3.2 3.2 0 1 1 731.5 492.4" stroke="#d0442a"/>
<path d="M742.9 496.4 A2.6 2.6 0 0 1 743 491.4" stroke="#a82210"/>
<path d="M733.8 486 A3 3 0 1 1 736.8 491" stroke="#c8341c"/>
<path d="M729.3 498.7 A1.3 1.3 0 0 1 730.3 496.4" stroke="#c03a22"/>
<path d="M742.2 504.4 A1.3 1.3 0 1 1 740 502.8" stroke="#b82a18"/>
<path d="M746.3 491.3 A2.2 2.2 0 1 1 748.1 495.1" stroke="#c8341c"/>
<path d="M733.7 497.8 A1.4 1.4 0 0 1 731.7 499.7" stroke="#c8341c"/>
<path d="M736.7 499.1 A1.3 1.3 0 0 1 737.3 501.4" stroke="#a82210"/>
<path d="M739 487.1 A2.1 2.1 0 1 1 742.6 485.7" stroke="#c03a22"/>
<path d="M740.3 488.5 A2.4 2.4 0 1 1 735.9 486.9" stroke="#c03a22"/>
<path d="M739.1 500.1 A1.5 1.5 0 1 1 736.3 500.4" stroke="#d0442a"/>
<path d="M734.7 494.1 A2.3 2.3 0 0 1 739.2 494.8" stroke="#c03a22"/>
<path d="M744.3 502.2 A1.6 1.6 0 1 1 741.1 502.1" stroke="#b82a18"/>
<path d="M735.4 494.1 A2.8 2.8 0 0 1 734.9 488.5" stroke="#b4301e"/>
<path d="M736.7 496.6 A1.7 1.7 0 1 1 737.8 499.5" stroke="#c03a22"/>
<path d="M737.3 490.4 A2.6 2.6 0 0 1 733.7 486.8" stroke="#c03a22"/>
<path d="M742.7 506.7 A3.1 3.1 0 1 1 747.9 503.9" stroke="#c8341c"/>
<path d="M741.4 490.2 A2.7 2.7 0 1 1 745.9 487.2" stroke="#b82a18"/>
<path d="M747.1 501.7 A2.9 2.9 0 1 1 742.9 505.2" stroke="#a82210"/>
<path d="M745.4 489 A1.9 1.9 0 1 1 745.6 485.5" stroke="#c8341c"/>
<path d="M730 494.1 A1.2 1.2 0 0 1 729 496" stroke="#b82a18"/>
<path d="M740.5 503.2 A1.4 1.4 0 0 1 738.5 501.2" stroke="#a82210"/>
<path d="M741.3 496.6 A2.2 2.2 0 0 1 744.8 494.7" stroke="#a82210"/>
<path d="M733.6 505.2 A2.4 2.4 0 1 1 737.1 503.4" stroke="#c8341c"/>
<path d="M740 503.5 A2.9 2.9 0 0 1 741.9 508.6" stroke="#b4301e"/>
<path d="M741.6 502 A2.2 2.2 0 1 1 738.1 499.9" stroke="#a82210"/>
<path d="M745.9 493.5 A1.9 1.9 0 0 1 745.9 489.7" stroke="#d0442a"/>
<path d="M727 496.4 A3.1 3.1 0 0 1 731.6 500" stroke="#b82a18"/>
<path d="M734.6 489.2 A3 3 0 1 1 729.1 487.5" stroke="#c8341c"/>
<path d="M742.8 498.7 A2 2 0 0 1 745.5 496.4" stroke="#c03a22"/>
<path d="M737.4 496.3 A2.5 2.5 0 1 1 737.7 491.3" stroke="#b4301e"/>
<path d="M743.6 489.8 A1.4 1.4 0 0 1 744.5 492.3" stroke="#c8341c"/>
<path d="M727.7 496.9 A2.8 2.8 0 1 1 733.3 497.7" stroke="#c8341c"/>
<path d="M746.5 494.7 A1.3 1.3 0 0 1 746.8 497" stroke="#d0442a"/>
<path d="M738 485.2 A1.5 1.5 0 1 1 740.6 486.7" stroke="#c8341c"/>
<path d="M734.1 487.4 A2.8 2.8 0 0 1 729.7 490.7" stroke="#a82210"/>
<path d="M743.5 487.5 A1.2 1.2 0 1 1 744.7 489.5" stroke="#d0442a"/>
<path d="M737.2 506.7 A2.9 2.9 0 1 1 740 502.1" stroke="#b4301e"/>
<path d="M737.3 496.1 A2 2 0 0 1 734.3 498.3" stroke="#b4301e"/>
<path d="M732.5 490.3 A2.8 2.8 0 1 1 733.2 495.6" stroke="#d0442a"/>
<path d="M740.8 504.4 A1.5 1.5 0 1 1 741.2 501.6" stroke="#a82210"/>
<path d="M746.3 487.6 A1.8 1.8 0 0 1 748.9 489.3" stroke="#c8341c"/>
<path d="M732.7 488.8 A1.2 1.2 0 0 1 733.9 486.8" stroke="#c03a22"/>
<path d="M738.7 501.3 A3 3 0 1 1 734.5 498.4" stroke="#b4301e"/>
<path d="M747.6 498.9 A1.4 1.4 0 0 1 745.2 497.8" stroke="#c8341c"/>
<path d="M727.2 493.5 A2.6 2.6 0 0 1 732 495.3" stroke="#d0442a"/>
<path d="M744.1 498.4 A1.9 1.9 0 1 1 742.3 500.9" stroke="#b82a18"/>
<path d="M740.7 502.8 A2.7 2.7 0 0 1 739.2 498.1" stroke="#a82210"/>
<path d="M745.1 488.3 A1.9 1.9 0 0 1 746 492" stroke="#d0442a"/>
<path d="M746.9 499.5 A2.1 2.1 0 1 1 743.6 500.9" stroke="#d0442a"/>
<path d="M741.1 500.1 A2.8 2.8 0 1 1 736 498.9" stroke="#c03a22"/>
<path d="M738.5 502.9 A3 3 0 0 1 737.9 497.7" stroke="#a82210"/>
<path d="M734 485.9 A3 3 0 1 1 731.6 489.9" stroke="#d0442a"/>
<path d="M729.5 494.6 A2.9 2.9 0 1 1 732.7 497.9" stroke="#d0442a"/>
<path d="M735.9 493.1 A3 3 0 0 1 741.2 490.7" stroke="#c8341c"/>
<path d="M744.1 497.1 A1.9 1.9 0 0 1 740.9 498.9" stroke="#c8341c"/>
<path d="M739.4 502.5 A2.6 2.6 0 1 1 743.8 505.1" stroke="#d0442a"/>
<path d="M744.3 496.4 A1.2 1.2 0 1 1 746.3 495" stroke="#b4301e"/>
<path d="M743.3 500.8 A3.2 3.2 0 0 1 741.3 495.2" stroke="#b4301e"/>
<path d="M730.9 494 A1.2 1.2 0 0 1 730.7 491.6" stroke="#c8341c"/>
<path d="M745 502.5 A3 3 0 0 1 740.4 506.1" stroke="#a82210"/>
<path d="M744.4 495.8 A2.9 2.9 0 0 1 749.3 493.3" stroke="#a82210"/>
<path d="M744.3 501.5 A3 3 0 1 1 738.5 500.9" stroke="#c03a22"/>
<path d="M730.1 493.7 A1.2 1.2 0 0 1 730.5 496.1" stroke="#d0442a"/>
<path d="M738 506.9 A2.9 2.9 0 0 1 735.2 502" stroke="#d0442a"/>
<path d="M734 504.3 A1.8 1.8 0 1 1 733.2 501.2" stroke="#d0442a"/>
<path d="M743.2 484.5 A2.7 2.7 0 1 1 740.8 489.1" stroke="#b82a18"/>
<path d="M730.3 500.5 A2 2 0 1 1 731.4 496.6" stroke="#c8341c"/>
<path d="M735.2 493.6 A2.8 2.8 0 1 1 738.8 489.4" stroke="#d0442a"/>
<path d="M743.5 495.8 A2.1 2.1 0 0 1 739.3 496.5" stroke="#c03a22"/>
<path d="M749.6 494.4 A2.4 2.4 0 1 1 745.9 491.5" stroke="#c8341c"/>
<path d="M743 495.4 A1.5 1.5 0 1 1 740.4 495.4" stroke="#b4301e"/>
<path d="M740 492.7 A2.4 2.4 0 0 1 740 496.8" stroke="#c8341c"/>
<path d="M749.3 494 A1.8 1.8 0 1 1 747.1 495.7" stroke="#c03a22"/>
<path d="M744 488.7 A2 2 0 0 1 743.4 492.7" stroke="#d0442a"/>
<path d="M749 491.3 A1.9 1.9 0 1 1 745.4 490.4" stroke="#b4301e"/>
<path d="M729.8 492.6 Q728.1 490.9 727.3 491.1" stroke="#c84a3a" stroke-width="0.45"/>
<path d="M733.6 503.7 Q734 506.9 733.8 508.1" stroke="#e08a80" stroke-width="0.45"/>
<path d="M733.7 503.8 Q732 504.7 730.8 505.8" stroke="#e08a80" stroke-width="0.45"/>
<path d="M747.9 496.7 Q749.4 496 750.5 496.7" stroke="#d86a5a" stroke-width="0.45"/>
<path d="M738.8 505.1 Q737.6 507.6 737.9 507.8" stroke="#d86a5a" stroke-width="0.45"/>
<path d="M740.3 486.6 Q741.1 484.3 741.1 482.1" stroke="#e08a80" stroke-width="0.45"/>
<path d="M737 505 Q736.7 506.1 734.6 508.8" stroke="#e08a80" stroke-width="0.45"/>
<path d="M740.1 505 Q740.5 508.8 739.5 509.8" stroke="#e08a80" stroke-width="0.45"/>
<path d="M731.2 501.6 Q729.6 501.7 729.9 504.5" stroke="#d86a5a" stroke-width="0.45"/>
<path d="M729.4 494.1 Q728.7 494.7 725.6 492.7" stroke="#c84a3a" stroke-width="0.45"/>
<path d="M730.2 491.8 Q727.9 489.4 728.2 489.1" stroke="#d86a5a" stroke-width="0.45"/>
<path d="M739.9 486.5 Q738.6 485.3 739.8 481.7" stroke="#d86a5a" stroke-width="0.45"/>
<path d="M733.4 488 Q732.8 487.9 732.4 485.1" stroke="#c84a3a" stroke-width="0.45"/>
<path d="M729.3 496.7 Q727.8 496.5 724.3 496.8" stroke="#c84a3a" stroke-width="0.45"/>
<path d="M734 503.9 Q732.8 505 731.3 507.5" stroke="#c84a3a" stroke-width="0.45"/>
<path d="M742 504.5 Q743.8 505.2 745.3 506.7" stroke="#e08a80" stroke-width="0.45"/>
<path d="M730.2 491.7 Q728.1 488.9 727.8 487.5" stroke="#d86a5a" stroke-width="0.45"/>
</g>
<text x="725.8" y="471.2" font-size="15.4" font-weight="normal" fill="#111" text-anchor="start" textLength="36.5" lengthAdjust="spacingAndGlyphs">CD22</text>
<line x1="766.2" y1="459.8" x2="766.2" y2="473" stroke="#111" stroke-width="1.7"/><path d="M766.2 481.7 L761.2 471.5 L771.2 471.5 Z" fill="#111"/>
<text x="748.5" y="526.7" font-size="15.5" font-weight="normal" fill="#222" text-anchor="middle" textLength="62.9" lengthAdjust="spacingAndGlyphs">Microglia</text>
<text x="668" y="552" font-size="15.5" font-weight="normal" fill="#222" text-anchor="middle" textLength="19.1" lengthAdjust="spacingAndGlyphs">AD</text>
<circle cx="587.4" cy="417.7" r="22.8" fill="#f0edf0"/>
<circle cx="587.4" cy="417.7" r="21.1" fill="none" stroke="#ead9dc" stroke-width="2.7" stroke-dasharray="0.759 0.823"/>
<circle cx="587.4" cy="417.7" r="17.4" fill="none" stroke="#ead9dc" stroke-width="2.7" stroke-dasharray="0.626 0.678"/>
<circle cx="587.4" cy="417.7" r="22.8" fill="none" stroke="#e06a70" stroke-width="1.2" stroke-linecap="round" stroke-dasharray="0 1.705"/>
<circle cx="587.4" cy="417.7" r="15.8" fill="none" stroke="#e06a70" stroke-width="1.1" stroke-linecap="round" stroke-dasharray="0 1.182"/>
<circle cx="587.4" cy="417.7" r="14.6" fill="#ffffff"/>
<clipPath id="cc14"><circle cx="587.4" cy="417.7" r="14.3"/></clipPath>
<g clip-path="url(#cc14)" fill="none" stroke-width="0.7" opacity="1.0">
<ellipse cx="578.5" cy="414.9" rx="5.2" ry="4.2" transform="rotate(51.5 578.5 414.9)" stroke="#5f6cbc"/>
<ellipse cx="578.9" cy="413.9" rx="5.2" ry="4.4" transform="rotate(49.3 578.9 413.9)" stroke="#5f6cbc"/>
<ellipse cx="590.9" cy="408" rx="5.8" ry="2.4" transform="rotate(1.6 590.9 408)" stroke="#6a78c4"/>
<ellipse cx="593.6" cy="422" rx="5.2" ry="3" transform="rotate(89.3 593.6 422)" stroke="#6a78c4"/>
<ellipse cx="588" cy="423.8" rx="3.4" ry="2.5" transform="rotate(13.3 588 423.8)" stroke="#5f6cbc"/>
<ellipse cx="591.1" cy="419.8" rx="3.1" ry="4.4" transform="rotate(98.3 591.1 419.8)" stroke="#98a0d8"/>
<ellipse cx="594.8" cy="416.4" rx="4.1" ry="3.1" transform="rotate(47.6 594.8 416.4)" stroke="#98a0d8"/>
<ellipse cx="578.1" cy="417.5" rx="5.7" ry="4.2" transform="rotate(120.7 578.1 417.5)" stroke="#98a0d8"/>
<ellipse cx="592.8" cy="421.5" rx="5.5" ry="3.2" transform="rotate(122.5 592.8 421.5)" stroke="#5f6cbc"/>
<ellipse cx="595.1" cy="412.8" rx="3.6" ry="3.6" transform="rotate(31.2 595.1 412.8)" stroke="#6a78c4"/>
<ellipse cx="596.1" cy="423.5" rx="3.4" ry="2.5" transform="rotate(160.7 596.1 423.5)" stroke="#6a78c4"/>
<ellipse cx="583.8" cy="411" rx="5.2" ry="4.2" transform="rotate(95.7 583.8 411)" stroke="#98a0d8"/>
<ellipse cx="586.8" cy="408.1" rx="5.1" ry="4.2" transform="rotate(132.5 586.8 408.1)" stroke="#5f6cbc"/>
<ellipse cx="583.1" cy="416.6" rx="4.8" ry="2.9" transform="rotate(162 583.1 416.6)" stroke="#6a78c4"/>
<ellipse cx="583" cy="424.3" rx="4.7" ry="4.2" transform="rotate(131.7 583 424.3)" stroke="#98a0d8"/>
<ellipse cx="597.5" cy="417.9" rx="4.9" ry="2.4" transform="rotate(125.4 597.5 417.9)" stroke="#5f6cbc"/>
<ellipse cx="583.7" cy="410.7" rx="5.9" ry="2.4" transform="rotate(163.5 583.7 410.7)" stroke="#5f6cbc"/>
<ellipse cx="592.5" cy="422.5" rx="3" ry="3" transform="rotate(101.1 592.5 422.5)" stroke="#6a78c4"/>
<ellipse cx="591.5" cy="426.4" rx="5" ry="3.3" transform="rotate(143.8 591.5 426.4)" stroke="#6a78c4"/>
<ellipse cx="595.5" cy="413.6" rx="3.6" ry="3.9" transform="rotate(97.9 595.5 413.6)" stroke="#98a0d8"/>
<ellipse cx="587.9" cy="412.4" rx="3.3" ry="3.1" transform="rotate(46.5 587.9 412.4)" stroke="#7f88cc"/>
<ellipse cx="586.8" cy="408.3" rx="5.8" ry="3.2" transform="rotate(33.8 586.8 408.3)" stroke="#98a0d8"/>
<ellipse cx="596.1" cy="423.9" rx="4.5" ry="2.7" transform="rotate(125.8 596.1 423.9)" stroke="#5f6cbc"/>
<ellipse cx="586.6" cy="407.9" rx="3.7" ry="3.9" transform="rotate(36.2 586.6 407.9)" stroke="#5f6cbc"/>
<ellipse cx="591.6" cy="419" rx="4.3" ry="4.5" transform="rotate(51.9 591.6 419)" stroke="#6a78c4"/>
<ellipse cx="580.2" cy="423.7" rx="4.4" ry="3.6" transform="rotate(152.5 580.2 423.7)" stroke="#98a0d8"/>
<ellipse cx="581.7" cy="420.5" rx="2.9" ry="4" transform="rotate(25 581.7 420.5)" stroke="#98a0d8"/>
<ellipse cx="581.5" cy="418.1" rx="3.9" ry="3.1" transform="rotate(5.2 581.5 418.1)" stroke="#6a78c4"/>
<ellipse cx="591.9" cy="424" rx="4.6" ry="4.3" transform="rotate(7.1 591.9 424)" stroke="#5f6cbc"/>
<ellipse cx="594.5" cy="412.1" rx="4.9" ry="3.1" transform="rotate(76.3 594.5 412.1)" stroke="#6a78c4"/>
<ellipse cx="594.3" cy="424.2" rx="4" ry="2.3" transform="rotate(36.1 594.3 424.2)" stroke="#98a0d8"/>
<ellipse cx="588.6" cy="427.5" rx="3.8" ry="3.7" transform="rotate(135.4 588.6 427.5)" stroke="#5f6cbc"/>
<ellipse cx="586.8" cy="412.2" rx="4.4" ry="2.5" transform="rotate(80.3 586.8 412.2)" stroke="#5f6cbc"/>
<ellipse cx="594" cy="420.9" rx="3.4" ry="3.3" transform="rotate(26.1 594 420.9)" stroke="#98a0d8"/>
<ellipse cx="578.8" cy="417.5" rx="3.6" ry="2.3" transform="rotate(43.6 578.8 417.5)" stroke="#7f88cc"/>
<ellipse cx="592" cy="417.7" rx="5.8" ry="2.9" transform="rotate(33.3 592 417.7)" stroke="#5f6cbc"/>
<ellipse cx="588.7" cy="411.8" rx="5.9" ry="4" transform="rotate(73.8 588.7 411.8)" stroke="#5f6cbc"/>
<ellipse cx="582.7" cy="426.4" rx="5.9" ry="3" transform="rotate(154.6 582.7 426.4)" stroke="#7f88cc"/>
<ellipse cx="590" cy="422.9" rx="5.7" ry="4.3" transform="rotate(38.6 590 422.9)" stroke="#7f88cc"/>
<ellipse cx="584.8" cy="415.3" rx="4" ry="2.6" transform="rotate(25.4 584.8 415.3)" stroke="#98a0d8"/>
</g>
<circle cx="587.4" cy="417.7" r="13.7" fill="none" stroke="#6a78c4" stroke-width="0.7" opacity="0.8"/>
<circle cx="584.5" cy="413.6" r="2.7" fill="url(#drugg)" stroke="#8e1c22" stroke-width="0.5" opacity="1.0"/>
<circle cx="592.4" cy="417.7" r="2.7" fill="url(#drugg)" stroke="#8e1c22" stroke-width="0.5" opacity="1.0"/>
<circle cx="583" cy="422.4" r="2.7" fill="url(#drugg)" stroke="#8e1c22" stroke-width="0.5" opacity="1.0"/>
<path d="M593.3 395.7 L593.7 395.6 L594 395.5 L594.3 395.4 L594.3 395.2 L594.2 395 L593.9 394.7 L593.6 394.5 L593.3 394.2 L593 393.9 L592.9 393.7 L592.9 393.5 L593.2 393.4 L593.5 393.3 L593.9 393.3 L594.4 393.2 L594.7 393.1 L594.9 393 L594.9 392.8 L594.8 392.6 L594.6 392.3 L594.2 392 L593.9 391.8 L593.6 391.5 L593.5 391.3" fill="none" stroke="#a36b6b" stroke-width="0.7"/>
<circle cx="595" cy="389.2" r="3" fill="#3b73c4"/>
<path d="M569 404.2 L569.1 403.7 L569.1 403.3 L569 403.1 L568.8 403.1 L568.4 403.2 L568 403.5 L567.5 403.7 L567.2 403.9 L567 403.8 L566.9 403.6 L566.9 403.2 L567 402.7 L567.1 402.2 L567.1 401.8 L567 401.6 L566.7 401.6 L566.3 401.8 L565.9 402.1 L565.5 402.3 L565.1 402.4 L564.9 402.3 L564.9 402 L564.9 401.6 L565 401.1" fill="none" stroke="#a36b6b" stroke-width="0.7"/>
<circle cx="563" cy="399.8" r="3" fill="#c9d9ef" stroke="#a9bcd9" stroke-width="0.8"/>
<path d="M610.1 416 L610.4 416.4 L610.6 416.7 L610.8 416.9 L611 416.8 L611.1 416.6 L611.3 416.2 L611.5 415.7 L611.6 415.3 L611.8 415.1 L612 415 L612.2 415.1 L612.4 415.4 L612.6 415.8 L612.8 416.2 L613 416.5 L613.2 416.7 L613.4 416.6 L613.6 416.4 L613.8 416 L613.9 415.6 L614.1 415.2 L614.3 414.9 L614.4 414.8 L614.6 414.9" fill="none" stroke="#a36b6b" stroke-width="0.7"/>
<circle cx="617.1" cy="415.5" r="3" fill="#3b73c4"/>
<path d="M568.3 430.1 L567.8 429.8 L567.5 429.7 L567.2 429.7 L567.1 430 L567.2 430.4 L567.3 431 L567.3 431.5 L567.3 431.8 L567.1 431.9 L566.7 431.8 L566.3 431.6 L565.9 431.3 L565.5 431.1 L565.2 431 L565.1 431.2 L565.1 431.7 L565.1 432.2 L565.2 432.7 L565.2 433.1 L565 433.3 L564.8 433.2 L564.3 433 L563.9 432.7 L563.5 432.5" fill="none" stroke="#a36b6b" stroke-width="0.7"/>
<circle cx="561.8" cy="434.3" r="3" fill="#3b73c4"/>
<path d="M592.6 439.9 L592.2 440.2 L592 440.4 L591.8 440.6 L591.9 440.8 L592.1 440.9 L592.5 441 L592.9 441.1 L593.3 441.2 L593.7 441.3 L593.8 441.5 L593.9 441.7 L593.7 441.9 L593.4 442.1 L593 442.4 L592.7 442.7 L592.5 442.9 L592.4 443.1 L592.5 443.3 L592.8 443.4 L593.2 443.5 L593.6 443.6 L594 443.7 L594.3 443.8 L594.4 444" fill="none" stroke="#a36b6b" stroke-width="0.7"/>
<circle cx="594.1" cy="446.5" r="3" fill="#c9d9ef" stroke="#a9bcd9" stroke-width="0.8"/>
<circle cx="759.6" cy="419" r="22.8" fill="#f0edf0"/>
<circle cx="759.6" cy="419" r="21.1" fill="none" stroke="#ead9dc" stroke-width="2.7" stroke-dasharray="0.759 0.823"/>
<circle cx="759.6" cy="419" r="17.4" fill="none" stroke="#ead9dc" stroke-width="2.7" stroke-dasharray="0.626 0.678"/>
<circle cx="759.6" cy="419" r="22.8" fill="none" stroke="#e06a70" stroke-width="1.2" stroke-linecap="round" stroke-dasharray="0 1.705"/>
<circle cx="759.6" cy="419" r="15.8" fill="none" stroke="#e06a70" stroke-width="1.1" stroke-linecap="round" stroke-dasharray="0 1.182"/>
<circle cx="759.6" cy="419" r="14.6" fill="#ffffff"/>
<clipPath id="cc15"><circle cx="759.6" cy="419" r="14.3"/></clipPath>
<g clip-path="url(#cc15)" fill="none" stroke-width="0.7" opacity="1.0">
<ellipse cx="754.6" cy="428.4" rx="5.9" ry="4.4" transform="rotate(142.2 754.6 428.4)" stroke="#6a78c4"/>
<ellipse cx="768.1" cy="419" rx="3.6" ry="3.9" transform="rotate(77.8 768.1 419)" stroke="#5f6cbc"/>
<ellipse cx="751.8" cy="416.8" rx="5.5" ry="4.5" transform="rotate(62.2 751.8 416.8)" stroke="#98a0d8"/>
<ellipse cx="764.8" cy="414.7" rx="3.2" ry="3.4" transform="rotate(137.6 764.8 414.7)" stroke="#5f6cbc"/>
<ellipse cx="763.2" cy="427.3" rx="3.9" ry="4.3" transform="rotate(30.3 763.2 427.3)" stroke="#98a0d8"/>
<ellipse cx="765.7" cy="414.6" rx="5.2" ry="2.7" transform="rotate(161.5 765.7 414.6)" stroke="#7f88cc"/>
<ellipse cx="766.6" cy="411.3" rx="5.1" ry="4" transform="rotate(46.1 766.6 411.3)" stroke="#6a78c4"/>
<ellipse cx="760.3" cy="426.6" rx="4.9" ry="2.9" transform="rotate(177.6 760.3 426.6)" stroke="#6a78c4"/>
<ellipse cx="762.9" cy="414.1" rx="4.6" ry="2.6" transform="rotate(130.5 762.9 414.1)" stroke="#5f6cbc"/>
<ellipse cx="751.3" cy="422.7" rx="2.9" ry="3.1" transform="rotate(88 751.3 422.7)" stroke="#5f6cbc"/>
<ellipse cx="767" cy="423.4" rx="3.5" ry="3.8" transform="rotate(64 767 423.4)" stroke="#7f88cc"/>
<ellipse cx="761.1" cy="408.9" rx="3.4" ry="3.7" transform="rotate(85.3 761.1 408.9)" stroke="#5f6cbc"/>
<ellipse cx="764.1" cy="415.2" rx="4.6" ry="3.8" transform="rotate(171.4 764.1 415.2)" stroke="#6a78c4"/>
<ellipse cx="757.3" cy="426.2" rx="3.1" ry="3.8" transform="rotate(54 757.3 426.2)" stroke="#98a0d8"/>
<ellipse cx="762" cy="424.6" rx="5.6" ry="2.6" transform="rotate(50.8 762 424.6)" stroke="#98a0d8"/>
<ellipse cx="766.9" cy="424.8" rx="5.7" ry="2.5" transform="rotate(122.9 766.9 424.8)" stroke="#5f6cbc"/>
<ellipse cx="757.8" cy="418.4" rx="3.4" ry="2.3" transform="rotate(9.7 757.8 418.4)" stroke="#7f88cc"/>
<ellipse cx="753.2" cy="419.2" rx="4.2" ry="2.5" transform="rotate(64.4 753.2 419.2)" stroke="#6a78c4"/>
<ellipse cx="752.8" cy="420.5" rx="4.9" ry="3.1" transform="rotate(16.4 752.8 420.5)" stroke="#5f6cbc"/>
<ellipse cx="763.9" cy="418.6" rx="3" ry="3.9" transform="rotate(134.8 763.9 418.6)" stroke="#5f6cbc"/>
<ellipse cx="768" cy="415.4" rx="5" ry="3.8" transform="rotate(127.6 768 415.4)" stroke="#98a0d8"/>
<ellipse cx="766" cy="423.5" rx="4.7" ry="2.2" transform="rotate(112.6 766 423.5)" stroke="#6a78c4"/>
<ellipse cx="752.4" cy="422.5" rx="4.9" ry="3.1" transform="rotate(103.4 752.4 422.5)" stroke="#7f88cc"/>
<ellipse cx="758.4" cy="409.3" rx="4.2" ry="2.2" transform="rotate(42.2 758.4 409.3)" stroke="#7f88cc"/>
<ellipse cx="763.8" cy="427.1" rx="5.8" ry="2.8" transform="rotate(25.4 763.8 427.1)" stroke="#6a78c4"/>
<ellipse cx="759.4" cy="410.1" rx="4.1" ry="4.2" transform="rotate(146 759.4 410.1)" stroke="#6a78c4"/>
<ellipse cx="752.2" cy="422.8" rx="4.5" ry="4.2" transform="rotate(0.8 752.2 422.8)" stroke="#5f6cbc"/>
<ellipse cx="755.2" cy="428" rx="4.5" ry="3.8" transform="rotate(34.2 755.2 428)" stroke="#6a78c4"/>
<ellipse cx="759.8" cy="411.4" rx="3.1" ry="2.7" transform="rotate(132.4 759.8 411.4)" stroke="#7f88cc"/>
<ellipse cx="763.9" cy="416.3" rx="5.2" ry="2.9" transform="rotate(169.9 763.9 416.3)" stroke="#5f6cbc"/>
<ellipse cx="755.3" cy="422.5" rx="5.2" ry="2.9" transform="rotate(87.4 755.3 422.5)" stroke="#7f88cc"/>
<ellipse cx="754.3" cy="423.8" rx="4.6" ry="2.3" transform="rotate(107.8 754.3 423.8)" stroke="#6a78c4"/>
<ellipse cx="762.7" cy="425.6" rx="5.1" ry="2.7" transform="rotate(159.6 762.7 425.6)" stroke="#5f6cbc"/>
<ellipse cx="757.4" cy="409.5" rx="3.1" ry="3.4" transform="rotate(108.6 757.4 409.5)" stroke="#7f88cc"/>
<ellipse cx="751.1" cy="424.1" rx="5.3" ry="4" transform="rotate(17.9 751.1 424.1)" stroke="#98a0d8"/>
<ellipse cx="759" cy="414.5" rx="4.2" ry="3.5" transform="rotate(159.3 759 414.5)" stroke="#5f6cbc"/>
<ellipse cx="756.6" cy="427.2" rx="4" ry="2.4" transform="rotate(120.3 756.6 427.2)" stroke="#6a78c4"/>
<ellipse cx="767.5" cy="423.5" rx="4.6" ry="3.3" transform="rotate(61.4 767.5 423.5)" stroke="#5f6cbc"/>
<ellipse cx="764" cy="422.6" rx="3.8" ry="3.8" transform="rotate(65.7 764 422.6)" stroke="#7f88cc"/>
<ellipse cx="767.9" cy="422" rx="5.1" ry="2.6" transform="rotate(29.6 767.9 422)" stroke="#98a0d8"/>
</g>
<circle cx="759.6" cy="419" r="13.7" fill="none" stroke="#6a78c4" stroke-width="0.7" opacity="0.8"/>
<circle cx="758.1" cy="414.2" r="2.7" fill="url(#drugg)" stroke="#8e1c22" stroke-width="0.5" opacity="1.0"/>
<circle cx="764.7" cy="419.9" r="2.7" fill="url(#drugg)" stroke="#8e1c22" stroke-width="0.5" opacity="1.0"/>
<circle cx="754.2" cy="422.2" r="2.7" fill="url(#drugg)" stroke="#8e1c22" stroke-width="0.5" opacity="1.0"/>
<path d="M758.6 396.2 L759.1 396 L759.4 395.8 L759.5 395.5 L759.3 395.3 L759 395.1 L758.5 394.9 L758 394.7 L757.7 394.5 L757.6 394.3 L757.8 394.1 L758.2 393.9 L758.7 393.7 L759.1 393.4 L759.3 393.2 L759.4 393 L759.1 392.8 L758.7 392.6 L758.2 392.4 L757.8 392.2 L757.6 392 L757.6 391.8 L757.8 391.6 L758.2 391.3 L758.7 391.1" fill="none" stroke="#a36b6b" stroke-width="0.7"/>
<circle cx="758.3" cy="388.7" r="3" fill="#3c9e3c"/>
<path d="M737.8 412.2 L737.8 411.7 L737.7 411.3 L737.5 411.1 L737.3 411.2 L737 411.4 L736.7 411.7 L736.4 412.1 L736.1 412.4 L735.8 412.5 L735.7 412.4 L735.5 412 L735.5 411.6 L735.4 411.1 L735.3 410.7 L735.2 410.4 L735 410.4 L734.7 410.6 L734.4 410.9 L734.1 411.3 L733.8 411.6 L733.5 411.7 L733.3 411.7 L733.2 411.4 L733.1 411" fill="none" stroke="#a36b6b" stroke-width="0.7"/>
<circle cx="730.9" cy="410" r="3" fill="#3c9e3c"/>
<path d="M780.6 410.1 L780.9 410.4 L781.3 410.6 L781.5 410.6 L781.7 410.4 L781.7 410 L781.7 409.5 L781.7 409 L781.8 408.6 L782 408.5 L782.3 408.6 L782.6 408.8 L783 409.2 L783.4 409.5 L783.7 409.7 L783.9 409.6 L784 409.3 L784 408.9 L784 408.3 L784.1 407.9 L784.2 407.6 L784.4 407.5 L784.7 407.6 L785 408 L785.4 408.3" fill="none" stroke="#a36b6b" stroke-width="0.7"/>
<circle cx="787.5" cy="407.1" r="3" fill="#3c9e3c"/>
<path d="M749.5 439.5 L749 439.4 L748.6 439.5 L748.4 439.6 L748.5 439.9 L748.7 440.2 L749 440.6 L749.3 441 L749.5 441.3 L749.5 441.6 L749.2 441.7 L748.8 441.7 L748.3 441.7 L747.8 441.7 L747.4 441.8 L747.3 441.9 L747.4 442.2 L747.7 442.6 L748 443 L748.3 443.4 L748.4 443.7 L748.3 443.9 L748 443.9 L747.5 443.9 L747 443.9" fill="none" stroke="#a36b6b" stroke-width="0.7"/>
<circle cx="746.2" cy="446.2" r="3" fill="#3c9e3c"/>
<path d="M773.7 436.9 L773.5 437.3 L773.4 437.7 L773.4 438 L773.7 438 L774.2 438 L774.7 437.8 L775.2 437.7 L775.5 437.7 L775.7 437.9 L775.6 438.2 L775.4 438.7 L775.1 439.1 L775 439.6 L774.9 439.8 L775.1 440 L775.5 440 L776 439.8 L776.5 439.7 L776.9 439.7 L777.2 439.8 L777.2 440 L777 440.4 L776.8 440.9 L776.6 441.4" fill="none" stroke="#a36b6b" stroke-width="0.7"/>
<circle cx="778.5" cy="442.9" r="3" fill="#3c9e3c"/>
<path d="M21 289 L42 289 L42 434 L52.5 434 L31.3 464.5 L9.8 434 L21 434 Z" fill="#eed5ae" stroke="#8b5a2b" stroke-width="1.6" stroke-linejoin="miter"/>
<text transform="translate(36.1 417.2) rotate(-90)" font-size="16" font-weight="bold" fill="#a87a40" textLength="93.5" lengthAdjust="spacingAndGlyphs">BBB crossing</text>
<rect x="127" y="565.5" width="594" height="52" rx="9" fill="#fff" stroke="#7a7a7a" stroke-width="1.4"/>
<circle cx="145.5" cy="582.4" r="3.9" fill="url(#drugg)" stroke="#8e1c22" stroke-width="0.5" opacity="1.0"/>
<circle cx="158" cy="584.7" r="3.9" fill="url(#drugg)" stroke="#8e1c22" stroke-width="0.5" opacity="1.0"/>
<circle cx="152" cy="596" r="3.9" fill="url(#drugg)" stroke="#8e1c22" stroke-width="0.5" opacity="1.0"/>
<text x="171.5" y="587" font-size="15.5" font-weight="normal" fill="#222" text-anchor="start" textLength="53.5" lengthAdjust="spacingAndGlyphs">NP core</text>
<text x="171.5" y="604.8" font-size="15.5" font-weight="normal" fill="#222" text-anchor="start" textLength="92" lengthAdjust="spacingAndGlyphs">loaded drugs:</text>
<circle cx="299.7" cy="580.6" r="6" fill="none" stroke="#222" stroke-width="0.9"/><text x="299.7" y="584.4" font-size="10.5" font-weight="bold" text-anchor="middle" fill="#222">1</text><text x="306.5" y="585.8" font-size="15.5" font-weight="normal" fill="#222" text-anchor="start" textLength="70" lengthAdjust="spacingAndGlyphs">Doxorubin</text>
<circle cx="299.7" cy="600.2" r="6" fill="none" stroke="#222" stroke-width="0.9"/><text x="299.7" y="604" font-size="10.5" font-weight="bold" text-anchor="middle" fill="#222">2</text><text x="306.5" y="605.4" font-size="15.5" font-weight="normal" fill="#222" text-anchor="start" textLength="64" lengthAdjust="spacingAndGlyphs">Docetaxel</text>
<circle cx="415" cy="580.6" r="6" fill="none" stroke="#222" stroke-width="0.9"/><text x="415" y="584.4" font-size="10.5" font-weight="bold" text-anchor="middle" fill="#222">3</text><text x="421.8" y="585.8" font-size="15.5" font-weight="normal" fill="#222" text-anchor="start" textLength="147.5" lengthAdjust="spacingAndGlyphs">Doxorubin + Lexiscan</text>
<circle cx="415" cy="600.2" r="6" fill="none" stroke="#222" stroke-width="0.9"/><text x="415" y="604" font-size="10.5" font-weight="bold" text-anchor="middle" fill="#222">4</text><text x="421.8" y="605.4" font-size="15.5" font-weight="normal" fill="#222" text-anchor="start" textLength="134" lengthAdjust="spacingAndGlyphs">Euphorbia factor L1</text>
<circle cx="607.4" cy="580.6" r="6" fill="none" stroke="#222" stroke-width="0.9"/><text x="607.4" y="584.4" font-size="10.5" font-weight="bold" text-anchor="middle" fill="#222">5</text><text x="614.2" y="585.8" font-size="15.5" font-weight="normal" fill="#222" text-anchor="start" textLength="78.3" lengthAdjust="spacingAndGlyphs">Resveratrol</text>
<circle cx="607.4" cy="600.2" r="6" fill="none" stroke="#222" stroke-width="0.9"/><text x="607.4" y="604" font-size="10.5" font-weight="bold" text-anchor="middle" fill="#222">6</text><text x="614.2" y="605.4" font-size="15.5" font-weight="normal" fill="#222" text-anchor="start" textLength="88.8" lengthAdjust="spacingAndGlyphs">CD22 shRNA</text>
</svg>
</body></html>
